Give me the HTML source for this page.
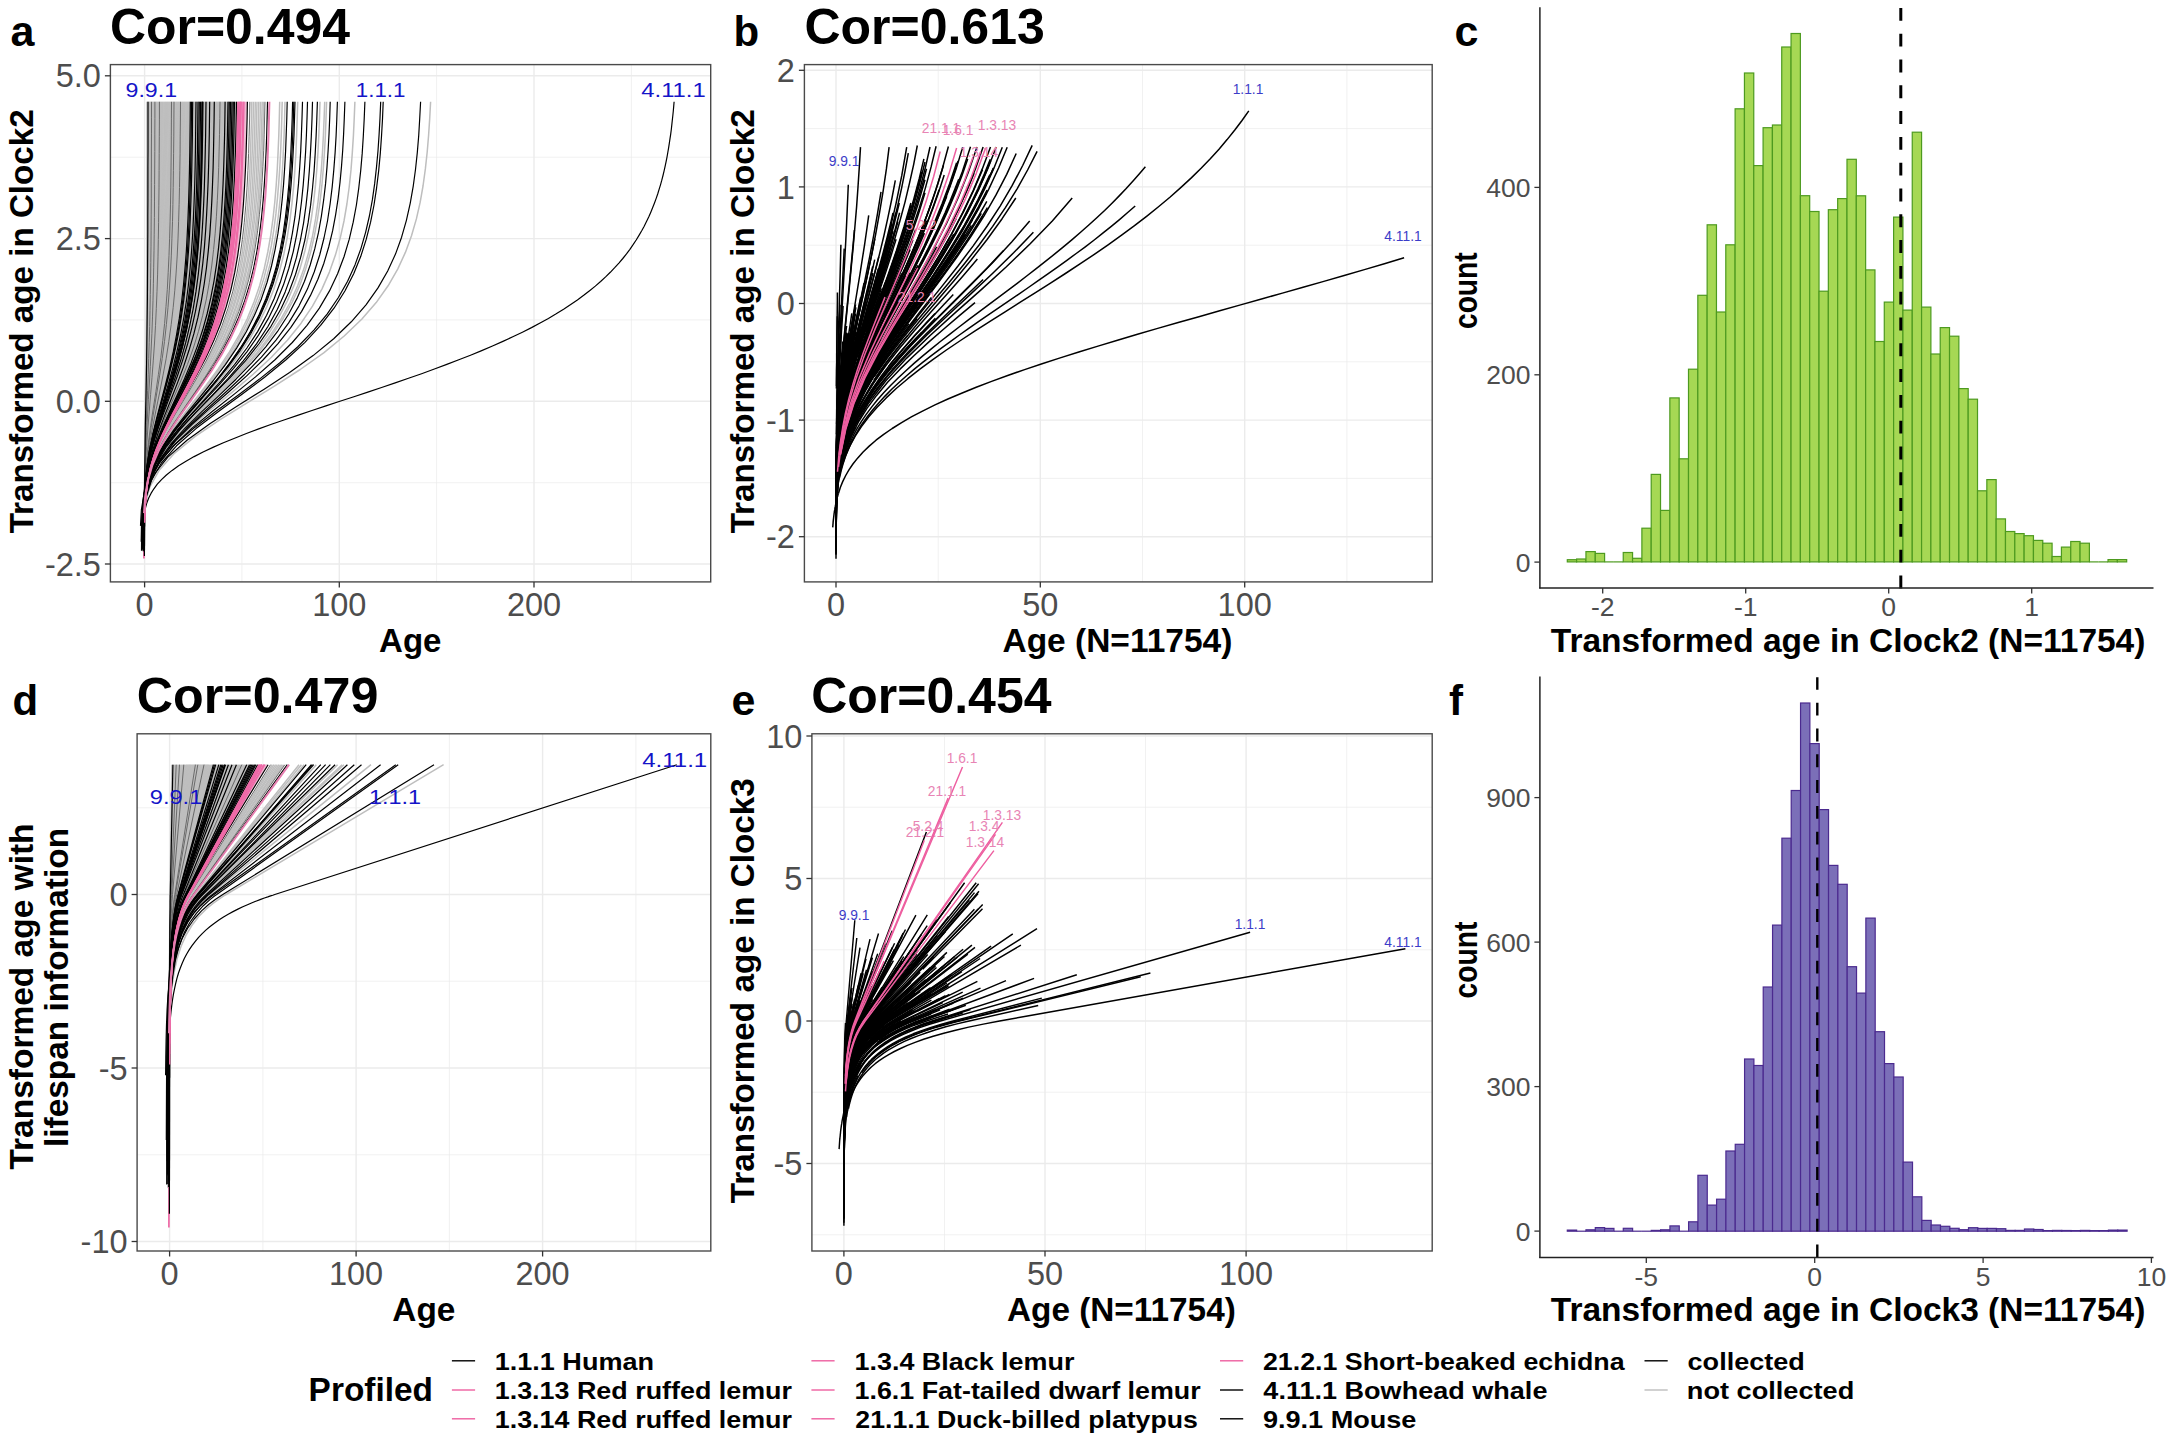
<!DOCTYPE html>
<html lang="en"><head><meta charset="utf-8"><title>Figure</title>
<style>html,body{margin:0;padding:0;background:#fff}svg{display:block}</style></head>
<body>
<svg width="2167" height="1441" viewBox="0 0 2167 1441" font-family='"Liberation Sans", Arial, Helvetica, sans-serif'>
<rect width="2167" height="1441" fill="#fff"/>
<clipPath id="cpa"><rect x="110.4" y="64.6" width="600.3" height="517.3"/></clipPath>
<line x1="241.9" y1="64.6" x2="241.9" y2="581.9" stroke="#ebebeb" stroke-width="0.7"/>
<line x1="436.6" y1="64.6" x2="436.6" y2="581.9" stroke="#ebebeb" stroke-width="0.7"/>
<line x1="631.4" y1="64.6" x2="631.4" y2="581.9" stroke="#ebebeb" stroke-width="0.7"/>
<line x1="110.4" y1="482.7" x2="710.7" y2="482.7" stroke="#ebebeb" stroke-width="0.7"/>
<line x1="110.4" y1="319.9" x2="710.7" y2="319.9" stroke="#ebebeb" stroke-width="0.7"/>
<line x1="110.4" y1="157.2" x2="710.7" y2="157.2" stroke="#ebebeb" stroke-width="0.7"/>
<line x1="144.6" y1="64.6" x2="144.6" y2="581.9" stroke="#ebebeb" stroke-width="1.4"/>
<line x1="339.3" y1="64.6" x2="339.3" y2="581.9" stroke="#ebebeb" stroke-width="1.4"/>
<line x1="534" y1="64.6" x2="534" y2="581.9" stroke="#ebebeb" stroke-width="1.4"/>
<line x1="110.4" y1="564" x2="710.7" y2="564" stroke="#ebebeb" stroke-width="1.4"/>
<line x1="110.4" y1="401.3" x2="710.7" y2="401.3" stroke="#ebebeb" stroke-width="1.4"/>
<line x1="110.4" y1="238.6" x2="710.7" y2="238.6" stroke="#ebebeb" stroke-width="1.4"/>
<line x1="110.4" y1="75.8" x2="710.7" y2="75.8" stroke="#ebebeb" stroke-width="1.4"/>
<clipPath id="cpb"><rect x="804.4" y="64.6" width="627.8" height="517.3"/></clipPath>
<line x1="938.2" y1="64.6" x2="938.2" y2="581.9" stroke="#ebebeb" stroke-width="0.7"/>
<line x1="1142.5" y1="64.6" x2="1142.5" y2="581.9" stroke="#ebebeb" stroke-width="0.7"/>
<line x1="1346.9" y1="64.6" x2="1346.9" y2="581.9" stroke="#ebebeb" stroke-width="0.7"/>
<line x1="804.4" y1="478.4" x2="1432.2" y2="478.4" stroke="#ebebeb" stroke-width="0.7"/>
<line x1="804.4" y1="361.8" x2="1432.2" y2="361.8" stroke="#ebebeb" stroke-width="0.7"/>
<line x1="804.4" y1="245.2" x2="1432.2" y2="245.2" stroke="#ebebeb" stroke-width="0.7"/>
<line x1="804.4" y1="128.6" x2="1432.2" y2="128.6" stroke="#ebebeb" stroke-width="0.7"/>
<line x1="836" y1="64.6" x2="836" y2="581.9" stroke="#ebebeb" stroke-width="1.4"/>
<line x1="1040.3" y1="64.6" x2="1040.3" y2="581.9" stroke="#ebebeb" stroke-width="1.4"/>
<line x1="1244.7" y1="64.6" x2="1244.7" y2="581.9" stroke="#ebebeb" stroke-width="1.4"/>
<line x1="804.4" y1="536.7" x2="1432.2" y2="536.7" stroke="#ebebeb" stroke-width="1.4"/>
<line x1="804.4" y1="420.1" x2="1432.2" y2="420.1" stroke="#ebebeb" stroke-width="1.4"/>
<line x1="804.4" y1="303.5" x2="1432.2" y2="303.5" stroke="#ebebeb" stroke-width="1.4"/>
<line x1="804.4" y1="186.9" x2="1432.2" y2="186.9" stroke="#ebebeb" stroke-width="1.4"/>
<line x1="804.4" y1="70.3" x2="1432.2" y2="70.3" stroke="#ebebeb" stroke-width="1.4"/>
<clipPath id="cpd"><rect x="137.1" y="733.8" width="573.7" height="517.2"/></clipPath>
<line x1="262.9" y1="733.8" x2="262.9" y2="1251" stroke="#ebebeb" stroke-width="0.7"/>
<line x1="449.4" y1="733.8" x2="449.4" y2="1251" stroke="#ebebeb" stroke-width="0.7"/>
<line x1="635.9" y1="733.8" x2="635.9" y2="1251" stroke="#ebebeb" stroke-width="0.7"/>
<line x1="137.1" y1="1154.8" x2="710.8" y2="1154.8" stroke="#ebebeb" stroke-width="0.7"/>
<line x1="137.1" y1="981.2" x2="710.8" y2="981.2" stroke="#ebebeb" stroke-width="0.7"/>
<line x1="137.1" y1="807.8" x2="710.8" y2="807.8" stroke="#ebebeb" stroke-width="0.7"/>
<line x1="169.6" y1="733.8" x2="169.6" y2="1251" stroke="#ebebeb" stroke-width="1.4"/>
<line x1="356.1" y1="733.8" x2="356.1" y2="1251" stroke="#ebebeb" stroke-width="1.4"/>
<line x1="542.6" y1="733.8" x2="542.6" y2="1251" stroke="#ebebeb" stroke-width="1.4"/>
<line x1="137.1" y1="1241.5" x2="710.8" y2="1241.5" stroke="#ebebeb" stroke-width="1.4"/>
<line x1="137.1" y1="1068" x2="710.8" y2="1068" stroke="#ebebeb" stroke-width="1.4"/>
<line x1="137.1" y1="894.5" x2="710.8" y2="894.5" stroke="#ebebeb" stroke-width="1.4"/>
<clipPath id="cpe"><rect x="811.9" y="733.8" width="620.3" height="517.2"/></clipPath>
<line x1="944.5" y1="733.8" x2="944.5" y2="1251" stroke="#ebebeb" stroke-width="0.7"/>
<line x1="1145.5" y1="733.8" x2="1145.5" y2="1251" stroke="#ebebeb" stroke-width="0.7"/>
<line x1="1346.7" y1="733.8" x2="1346.7" y2="1251" stroke="#ebebeb" stroke-width="0.7"/>
<line x1="811.9" y1="1234.8" x2="1432.2" y2="1234.8" stroke="#ebebeb" stroke-width="0.7"/>
<line x1="811.9" y1="1092.2" x2="1432.2" y2="1092.2" stroke="#ebebeb" stroke-width="0.7"/>
<line x1="811.9" y1="949.8" x2="1432.2" y2="949.8" stroke="#ebebeb" stroke-width="0.7"/>
<line x1="811.9" y1="807.2" x2="1432.2" y2="807.2" stroke="#ebebeb" stroke-width="0.7"/>
<line x1="843.9" y1="733.8" x2="843.9" y2="1251" stroke="#ebebeb" stroke-width="1.4"/>
<line x1="1045" y1="733.8" x2="1045" y2="1251" stroke="#ebebeb" stroke-width="1.4"/>
<line x1="1246.1" y1="733.8" x2="1246.1" y2="1251" stroke="#ebebeb" stroke-width="1.4"/>
<line x1="811.9" y1="1163.5" x2="1432.2" y2="1163.5" stroke="#ebebeb" stroke-width="1.4"/>
<line x1="811.9" y1="1021" x2="1432.2" y2="1021" stroke="#ebebeb" stroke-width="1.4"/>
<line x1="811.9" y1="878.5" x2="1432.2" y2="878.5" stroke="#ebebeb" stroke-width="1.4"/>
<line x1="811.9" y1="736" x2="1432.2" y2="736" stroke="#ebebeb" stroke-width="1.4"/>
<g fill="none" stroke-linejoin="round" clip-path="url(#cpa)">
<path d="M144.6 522 144.6 505.9 144.6 489.7 144.7 473.6 144.8 457.4 145 441.2 145.2 425.1 145.4 408.9 145.6 392.7 145.8 376.6 146 360.4 146.2 344.3 146.3 328.1 146.5 311.9 146.6 295.8 146.7 279.6 146.7 263.4 146.8 247.3 146.9 231.1 146.9 215 146.9 198.8 146.9 182.6 147 166.5 147 150.3 147 134.2 147 118 147 101.8" stroke="#bebebe" stroke-width="1.5"/>
<path d="M144.6 519.5 144.6 503.4 144.6 487.3 144.7 471.3 144.9 455.2 145.1 439.1 145.4 423.1 145.7 407 146 391 146.3 374.9 146.5 358.8 146.8 342.8 147 326.7 147.2 310.6 147.3 294.6 147.4 278.5 147.5 262.5 147.6 246.4 147.7 230.3 147.7 214.3 147.7 198.2 147.8 182.1 147.8 166.1 147.8 150 147.8 134 147.8 117.9 147.8 101.8" stroke="#bebebe" stroke-width="1.5"/>
<path d="M144.6 529.7 144.6 513.3 144.6 496.8 144.7 480.4 144.9 463.9 145.1 447.5 145.4 431 145.8 414.5 146.2 398.1 146.6 381.6 146.9 365.2 147.2 348.7 147.5 332.2 147.8 315.8 148 299.3 148.1 282.9 148.2 266.4 148.4 250 148.4 233.5 148.5 217 148.6 200.6 148.6 184.1 148.6 167.7 148.7 151.2 148.7 134.7 148.7 118.3 148.7 101.8" stroke="#bebebe" stroke-width="1.5"/>
<path d="M144.6 534.9 144.6 518.2 144.6 501.6 144.7 484.9 144.9 468.3 145.1 451.6 145.5 434.9 145.9 418.3 146.4 401.6 146.9 385 147.3 368.3 147.7 351.7 148.1 335 148.4 318.4 148.6 301.7 148.8 285 149 268.4 149.1 251.7 149.2 235.1 149.3 218.4 149.4 201.8 149.4 185.1 149.5 168.5 149.5 151.8 149.5 135.1 149.5 118.5 149.5 101.8" stroke="#bebebe" stroke-width="1.5"/>
<path d="M144.6 532.2 144.6 515.7 144.6 499.1 144.7 482.6 145 466 145.3 449.4 145.7 432.9 146.2 416.3 146.8 399.8 147.3 383.2 147.8 366.7 148.3 350.1 148.7 333.6 149 317 149.3 300.5 149.6 283.9 149.8 267.4 149.9 250.8 150 234.3 150.1 217.7 150.2 201.1 150.3 184.6 150.3 168 150.3 151.5 150.4 134.9 150.4 118.4 150.4 101.8" stroke="#bebebe" stroke-width="1.5"/>
<path d="M144.6 520 144.6 504 144.7 487.9 144.9 471.8 145.2 455.7 145.7 439.6 146.2 423.5 146.8 407.4 147.4 391.4 148 375.3 148.6 359.2 149 343.1 149.5 327 149.8 310.9 150.1 294.8 150.4 278.8 150.6 262.7 150.7 246.6 150.8 230.5 150.9 214.4 151 198.3 151.1 182.3 151.1 166.2 151.2 150.1 151.2 134 151.2 117.9 151.2 101.8" stroke="#bebebe" stroke-width="1.5"/>
<path d="M144.5 546 144.5 528.9 144.6 511.8 144.6 494.7 144.8 477.6 145.2 460.6 145.7 443.5 146.3 426.4 147 409.3 147.7 392.2 148.4 375.2 149.1 358.1 149.7 341 150.2 323.9 150.6 306.8 150.9 289.7 151.2 272.7 151.4 255.6 151.6 238.5 151.7 221.4 151.8 204.3 151.9 187.2 152 170.2 152 153.1 152 136 152.1 118.9 152.1 101.8" stroke="#bebebe" stroke-width="1.5"/>
<path d="M144.6 524.6 144.6 508.3 144.7 492.1 144.9 475.8 145.3 459.5 145.8 443.3 146.5 427 147.2 410.8 148 394.5 148.8 378.2 149.5 362 150.1 345.7 150.6 329.5 151.1 313.2 151.5 296.9 151.8 280.7 152.1 264.4 152.3 248.2 152.4 231.9 152.6 215.6 152.7 199.4 152.7 183.1 152.8 166.9 152.9 150.6 152.9 134.3 152.9 118.1 152.9 101.8" stroke="#bebebe" stroke-width="1.5"/>
<path d="M144.5 549.9 144.5 532.7 144.5 515.5 144.6 498.2 144.8 481 145.2 463.8 145.7 446.5 146.5 429.3 147.4 412.1 148.3 394.8 149.2 377.6 150 360.4 150.7 343.1 151.4 325.9 151.9 308.7 152.3 291.4 152.6 274.2 152.9 256.9 153.1 239.7 153.3 222.5 153.4 205.2 153.5 188 153.6 170.8 153.7 153.5 153.7 136.3 153.8 119.1 153.8 101.8" stroke="#bebebe" stroke-width="1.5"/>
<path d="M144.5 530.9 144.5 514.4 144.6 497.9 144.8 481.4 145.2 464.9 145.8 448.4 146.5 431.9 147.4 415.4 148.4 398.9 149.3 382.4 150.2 365.9 151 349.4 151.7 332.9 152.3 316.3 152.8 299.8 153.2 283.3 153.5 266.8 153.8 250.3 154 233.8 154.2 217.3 154.3 200.8 154.4 184.3 154.5 167.8 154.5 151.3 154.6 134.8 154.6 118.3 154.6 101.8" stroke="#bebebe" stroke-width="1.5"/>
<path d="M144.4 518.7 144.4 502.7 144.6 486.6 145 470.6 145.5 454.6 146.3 438.5 147.2 422.5 148.2 406.5 149.2 390.4 150.2 374.4 151.1 358.4 151.9 342.3 152.6 326.3 153.1 310.3 153.6 294.2 154 278.2 154.4 262.2 154.6 246.1 154.8 230.1 155 214.1 155.1 198 155.2 182 155.3 166 155.4 149.9 155.4 133.9 155.5 117.9 155.5 101.8" stroke="#bebebe" stroke-width="1.5"/>
<path d="M144.4 527 144.4 510.6 144.6 494.3 144.8 477.9 145.3 461.6 146.1 445.2 147 428.9 148.1 412.5 149.2 396.2 150.3 379.8 151.3 363.5 152.2 347.1 153 330.8 153.7 314.4 154.2 298 154.7 281.7 155.1 265.3 155.4 249 155.6 232.6 155.8 216.3 155.9 199.9 156 183.6 156.1 167.2 156.2 150.9 156.3 134.5 156.3 118.2 156.3 101.8" stroke="#bebebe" stroke-width="1.5"/>
<path d="M144.5 520.9 144.6 504.8 144.8 488.7 145.2 472.6 145.8 456.4 146.6 440.3 147.6 424.2 148.7 408.1 149.9 392 151 375.9 152.1 359.7 153 343.6 153.8 327.5 154.5 311.4 155 295.3 155.5 279.1 155.9 263 156.2 246.9 156.4 230.8 156.6 214.7 156.8 198.5 156.9 182.4 157 166.3 157.1 150.2 157.1 134.1 157.2 117.9 157.2 101.8" stroke="#bebebe" stroke-width="1.5"/>
<path d="M144.5 545.6 144.5 528.6 144.5 511.5 144.7 494.4 145 477.3 145.6 460.3 146.5 443.2 147.7 426.1 148.9 409.1 150.2 392 151.5 374.9 152.7 357.9 153.7 340.8 154.6 323.7 155.3 306.7 155.9 289.6 156.4 272.5 156.8 255.4 157.1 238.4 157.3 221.3 157.5 204.2 157.7 187.2 157.8 170.1 157.9 153 158 136 158 118.9 158 101.8" stroke="#bebebe" stroke-width="1.5"/>
<path d="M144.5 537.5 144.5 520.8 144.6 504 144.8 487.3 145.3 470.5 146.1 453.7 147.1 437 148.3 420.2 149.7 403.5 151 386.7 152.3 370 153.5 353.2 154.6 336.4 155.4 319.7 156.2 302.9 156.8 286.2 157.2 269.4 157.6 252.6 157.9 235.9 158.2 219.1 158.4 202.4 158.5 185.6 158.6 168.9 158.7 152.1 158.8 135.3 158.9 118.6 158.9 101.8" stroke="#bebebe" stroke-width="1.5"/>
<path d="M144.4 530 144.4 513.5 144.6 497 144.9 480.6 145.5 464.1 146.4 447.6 147.6 431.2 148.9 414.7 150.4 398.2 151.8 381.8 153.1 365.3 154.3 348.8 155.4 332.4 156.2 315.9 157 299.4 157.6 283 158.1 266.5 158.5 250 158.8 233.6 159 217.1 159.2 200.6 159.4 184.2 159.5 167.7 159.6 151.2 159.6 134.8 159.7 118.3 159.7 101.8" stroke="#bebebe" stroke-width="1.5"/>
<path d="M144.4 519.2 144.5 503.1 144.8 487.1 145.3 471 146.1 455 147.2 438.9 148.5 422.9 149.9 406.8 151.4 390.8 152.8 374.7 154.1 358.7 155.3 342.6 156.3 326.6 157.2 310.5 157.9 294.4 158.5 278.4 158.9 262.3 159.3 246.3 159.6 230.2 159.9 214.2 160.1 198.1 160.2 182.1 160.3 166 160.4 150 160.5 133.9 160.6 117.9 160.6 101.8" stroke="#bebebe" stroke-width="1.5"/>
<path d="M144.5 524 144.6 507.7 144.8 491.5 145.3 475.3 146 459 147.1 442.8 148.4 426.6 149.9 410.3 151.5 394.1 153 377.8 154.4 361.6 155.7 345.4 156.8 329.1 157.7 312.9 158.5 296.7 159.1 280.4 159.7 264.2 160.1 248 160.4 231.7 160.7 215.5 160.9 199.2 161 183 161.2 166.8 161.3 150.5 161.3 134.3 161.4 118.1 161.4 101.8" stroke="#bebebe" stroke-width="1.5"/>
<path d="M144.3 532 144.4 515.4 144.5 498.9 144.9 482.4 145.6 465.8 146.6 449.3 147.9 432.7 149.5 416.2 151.2 399.6 152.9 383.1 154.4 366.5 155.8 350 157.1 333.5 158.1 316.9 159 300.4 159.7 283.8 160.3 267.3 160.8 250.7 161.1 234.2 161.4 217.6 161.7 201.1 161.8 184.6 162 168 162.1 151.5 162.2 134.9 162.2 118.4 162.3 101.8" stroke="#bebebe" stroke-width="1.5"/>
<path d="M144.5 537.7 144.5 520.9 144.6 504.1 144.9 487.4 145.5 470.6 146.5 453.9 147.8 437.1 149.4 420.3 151.2 403.6 152.9 386.8 154.6 370 156.2 353.3 157.5 336.5 158.6 319.7 159.6 303 160.4 286.2 161 269.5 161.5 252.7 161.9 235.9 162.2 219.2 162.5 202.4 162.7 185.6 162.8 168.9 162.9 152.1 163 135.4 163.1 118.6 163.1 101.8" stroke="#bebebe" stroke-width="1.5"/>
<path d="M144.4 527.3 144.5 511 144.7 494.6 145.2 478.2 146 461.9 147.2 445.5 148.7 429.1 150.4 412.8 152.2 396.4 154 380 155.7 363.7 157.2 347.3 158.5 331 159.6 314.6 160.5 298.2 161.3 281.9 161.9 265.5 162.4 249.1 162.8 232.8 163.1 216.4 163.3 200 163.5 183.7 163.7 167.3 163.8 150.9 163.9 134.6 163.9 118.2 164 101.8" stroke="#bebebe" stroke-width="1.5"/>
<path d="M144.2 541.6 144.3 524.7 144.4 507.8 144.6 490.9 145.2 474 146.2 457.1 147.6 440.1 149.4 423.2 151.3 406.3 153.3 389.4 155.2 372.5 156.9 355.6 158.4 338.6 159.7 321.7 160.8 304.8 161.7 287.9 162.4 271 163 254.1 163.4 237.2 163.8 220.2 164.1 203.3 164.3 186.4 164.5 169.5 164.6 152.6 164.7 135.7 164.8 118.7 164.8 101.8" stroke="#bebebe" stroke-width="1.5"/>
<path d="M144.4 537.3 144.5 520.5 144.6 503.8 145 487 145.6 470.3 146.7 453.5 148.3 436.8 150.1 420 152.1 403.3 154.1 386.5 156 369.8 157.8 353 159.3 336.3 160.6 319.6 161.7 302.8 162.6 286.1 163.3 269.3 163.8 252.6 164.3 235.8 164.6 219.1 164.9 202.3 165.1 185.6 165.3 168.8 165.5 152.1 165.6 135.3 165.6 118.6 165.7 101.8" stroke="#bebebe" stroke-width="1.5"/>
<path d="M144.3 547.6 144.4 530.4 144.4 513.3 144.7 496.1 145.2 479 146.1 461.9 147.5 444.7 149.4 427.6 151.4 410.4 153.6 393.3 155.7 376.1 157.6 359 159.4 341.9 160.8 324.7 162 307.6 163 290.4 163.8 273.3 164.5 256.1 165 239 165.4 221.8 165.7 204.7 165.9 187.6 166.1 170.4 166.3 153.3 166.4 136.1 166.5 119 166.5 101.8" stroke="#bebebe" stroke-width="1.5"/>
<path d="M144.3 526.9 144.3 510.6 144.6 494.2 145.1 477.9 146.1 461.5 147.5 445.2 149.3 428.8 151.4 412.5 153.5 396.1 155.6 379.8 157.6 363.4 159.4 347.1 160.9 330.7 162.2 314.4 163.3 298 164.2 281.7 164.9 265.3 165.5 249 165.9 232.6 166.3 216.3 166.6 199.9 166.8 183.6 167 167.2 167.1 150.9 167.2 134.5 167.3 118.2 167.4 101.8" stroke="#bebebe" stroke-width="1.5"/>
<path d="M144.1 520.9 144.2 504.8 144.6 488.7 145.3 472.6 146.4 456.5 148 440.3 149.9 424.2 152.1 408.1 154.3 392 156.5 375.9 158.5 359.7 160.2 343.6 161.8 327.5 163.1 311.4 164.1 295.3 165 279.1 165.7 263 166.3 246.9 166.8 230.8 167.1 214.7 167.4 198.5 167.7 182.4 167.8 166.3 168 150.2 168.1 134.1 168.2 117.9 168.2 101.8" stroke="#bebebe" stroke-width="1.5"/>
<path d="M144.4 543.6 144.4 526.6 144.5 509.6 144.8 492.7 145.4 475.7 146.6 458.7 148.3 441.7 150.3 424.7 152.7 407.7 155 390.7 157.3 373.7 159.5 356.7 161.3 339.7 162.9 322.7 164.2 305.7 165.3 288.7 166.2 271.8 166.9 254.8 167.4 237.8 167.8 220.8 168.2 203.8 168.4 186.8 168.6 169.8 168.8 152.8 168.9 135.8 169 118.8 169.1 101.8" stroke="#bebebe" stroke-width="1.5"/>
<path d="M144.4 534.2 144.5 517.6 144.7 501 145.2 484.3 146 467.7 147.4 451.1 149.3 434.4 151.5 417.8 153.9 401.2 156.3 384.5 158.6 367.9 160.6 351.3 162.4 334.7 163.9 318 165.2 301.4 166.2 284.8 167.1 268.1 167.8 251.5 168.3 234.9 168.7 218.2 169 201.6 169.3 185 169.5 168.4 169.7 151.7 169.8 135.1 169.9 118.5 169.9 101.8" stroke="#bebebe" stroke-width="1.5"/>
<path d="M144.5 540.6 144.5 523.7 144.6 506.8 145 489.9 145.8 473.1 147.1 456.2 148.9 439.3 151.1 422.4 153.6 405.6 156.1 388.7 158.5 371.8 160.7 354.9 162.7 338.1 164.3 321.2 165.7 304.3 166.8 287.5 167.7 270.6 168.4 253.7 169 236.8 169.5 220 169.8 203.1 170.1 186.2 170.3 169.3 170.5 152.5 170.6 135.6 170.7 118.7 170.8 101.8" stroke="#bebebe" stroke-width="1.5"/>
<path d="M144.1 537.2 144.2 520.5 144.4 503.7 144.8 487 145.7 470.2 147.1 453.5 149.1 436.7 151.5 420 154.1 403.3 156.7 386.5 159.1 369.8 161.4 353 163.4 336.3 165 319.5 166.4 302.8 167.6 286 168.5 269.3 169.2 252.5 169.8 235.8 170.3 219.1 170.6 202.3 170.9 185.6 171.2 168.8 171.3 152.1 171.5 135.3 171.6 118.6 171.6 101.8" stroke="#bebebe" stroke-width="1.5"/>
<path d="M144.1 527.8 144.2 511.5 144.5 495.1 145.1 478.7 146.3 462.3 148 445.9 150.2 429.5 152.7 413.2 155.3 396.8 158 380.4 160.4 364 162.6 347.6 164.5 331.2 166.1 314.8 167.4 298.5 168.5 282.1 169.4 265.7 170.1 249.3 170.7 232.9 171.1 216.5 171.5 200.1 171.8 183.8 172 167.4 172.2 151 172.3 134.6 172.4 118.2 172.5 101.8" stroke="#bebebe" stroke-width="1.5"/>
<path d="M144.2 538 144.2 521.2 144.4 504.4 144.8 487.7 145.8 470.9 147.3 454.1 149.3 437.3 151.8 420.6 154.6 403.8 157.4 387 160 370.2 162.4 353.5 164.5 336.7 166.3 319.9 167.8 303.1 169 286.4 170 269.6 170.8 252.8 171.4 236 171.9 219.3 172.3 202.5 172.6 185.7 172.8 168.9 173 152.2 173.1 135.4 173.3 118.6 173.3 101.8" stroke="#bebebe" stroke-width="1.5"/>
<path d="M144.2 533 144.3 516.4 144.5 499.9 145.1 483.3 146.2 466.7 147.9 450.1 150.1 433.5 152.7 416.9 155.5 400.4 158.3 383.8 161 367.2 163.4 350.6 165.4 334 167.2 317.4 168.7 300.8 169.9 284.3 170.9 267.7 171.6 251.1 172.3 234.5 172.7 217.9 173.1 201.3 173.4 184.8 173.7 168.2 173.9 151.6 174 135 174.1 118.4 174.2 101.8" stroke="#bebebe" stroke-width="1.5"/>
<path d="M144 549.9 144 532.6 144.1 515.4 144.4 498.2 145.1 480.9 146.3 463.7 148.2 446.5 150.8 429.2 153.7 412 156.7 394.8 159.7 377.5 162.4 360.3 164.8 343.1 166.9 325.8 168.6 308.6 170.1 291.4 171.2 274.1 172.1 256.9 172.8 239.7 173.4 222.5 173.9 205.2 174.2 188 174.5 170.8 174.7 153.5 174.8 136.3 174.9 119.1 175 101.8" stroke="#bebebe" stroke-width="1.5"/>
<path d="M144.3 540.4 144.3 523.6 144.5 506.7 144.9 489.8 145.8 473 147.4 456.1 149.6 439.2 152.3 422.3 155.3 405.5 158.3 388.6 161.2 371.7 163.8 354.9 166.2 338 168.1 321.1 169.8 304.3 171.1 287.4 172.2 270.5 173.1 253.7 173.8 236.8 174.3 219.9 174.7 203 175.1 186.2 175.3 169.3 175.5 152.4 175.7 135.6 175.8 118.7 175.9 101.8" stroke="#bebebe" stroke-width="1.5"/>
<path d="M144.4 541.7 144.5 524.8 144.6 507.9 145 491 146 474 147.5 457.1 149.7 440.2 152.5 423.3 155.5 406.4 158.6 389.5 161.6 372.5 164.3 355.6 166.7 338.7 168.7 321.8 170.4 304.9 171.8 287.9 172.9 271 173.8 254.1 174.6 237.2 175.1 220.3 175.6 203.3 175.9 186.4 176.2 169.5 176.4 152.6 176.5 135.7 176.7 118.7 176.7 101.8" stroke="#bebebe" stroke-width="1.5"/>
<path d="M144.1 551.4 144.1 534.1 144.2 516.8 144.5 499.5 145.2 482.2 146.5 464.9 148.5 447.7 151.2 430.4 154.3 413.1 157.6 395.8 160.8 378.5 163.8 361.2 166.5 343.9 168.7 326.6 170.6 309.3 172.2 292 173.4 274.7 174.4 257.5 175.2 240.2 175.8 222.9 176.3 205.6 176.7 188.3 177 171 177.2 153.7 177.4 136.4 177.5 119.1 177.6 101.8" stroke="#bebebe" stroke-width="1.5"/>
<path d="M144 526.8 144.1 510.4 144.5 494.1 145.3 477.8 146.8 461.4 148.9 445.1 151.6 428.7 154.6 412.4 157.8 396 161 379.7 163.9 363.3 166.5 347 168.8 330.7 170.7 314.3 172.4 298 173.7 281.6 174.7 265.3 175.6 248.9 176.3 232.6 176.8 216.2 177.2 199.9 177.6 183.6 177.8 167.2 178.1 150.9 178.2 134.5 178.3 118.2 178.4 101.8" stroke="#bebebe" stroke-width="1.5"/>
<path d="M144.3 540.6 144.3 523.7 144.5 506.8 145 490 146 473.1 147.7 456.2 150.2 439.3 153.1 422.5 156.4 405.6 159.8 388.7 163 371.8 165.9 355 168.5 338.1 170.7 321.2 172.5 304.3 174 287.5 175.2 270.6 176.2 253.7 176.9 236.8 177.5 220 178 203.1 178.4 186.2 178.7 169.3 178.9 152.5 179.1 135.6 179.2 118.7 179.3 101.8" stroke="#bebebe" stroke-width="1.5"/>
<path d="M144.4 533.2 144.5 516.6 144.8 500 145.5 483.5 146.8 466.9 148.7 450.3 151.4 433.7 154.5 417.1 157.9 400.5 161.2 383.9 164.4 367.3 167.2 350.7 169.7 334.1 171.8 317.5 173.6 300.9 175 284.3 176.2 267.8 177.1 251.2 177.8 234.6 178.4 218 178.9 201.4 179.2 184.8 179.5 168.2 179.7 151.6 179.9 135 180 118.4 180.1 101.8" stroke="#bebebe" stroke-width="1.5"/>
<path d="M144.4 520.9 144.6 504.8 145.2 488.7 146.2 472.5 148 456.4 150.4 440.3 153.3 424.2 156.6 408.1 159.9 392 163.2 375.8 166.2 359.7 168.9 343.6 171.2 327.5 173.1 311.4 174.8 295.2 176.1 279.1 177.2 263 178.1 246.9 178.8 230.8 179.3 214.7 179.8 198.5 180.1 182.4 180.4 166.3 180.6 150.2 180.8 134.1 180.9 117.9 181 101.8" stroke="#bebebe" stroke-width="1.5"/>
<path d="M144.4 544 144.4 527 144.6 510 145 493 146 476 147.7 459 150.2 442 153.4 425 156.9 408 160.5 390.9 164 373.9 167.2 356.9 170 339.9 172.4 322.9 174.4 305.9 176.1 288.9 177.4 271.9 178.4 254.9 179.3 237.9 179.9 220.9 180.4 203.9 180.8 186.9 181.2 169.9 181.4 152.9 181.6 135.8 181.7 118.8 181.8 101.8" stroke="#bebebe" stroke-width="1.5"/>
<path d="M144.4 525.5 144.6 509.2 145 492.9 146 476.6 147.6 460.3 150 444 153 427.7 156.4 411.4 160 395.1 163.4 378.8 166.7 362.5 169.6 346.2 172.1 329.9 174.2 313.6 176 297.3 177.4 281.1 178.6 264.8 179.6 248.5 180.3 232.2 180.9 215.9 181.4 199.6 181.7 183.3 182 167 182.3 150.7 182.4 134.4 182.6 118.1 182.7 101.8" stroke="#bebebe" stroke-width="1.5"/>
<path d="M144.2 547.5 144.3 530.3 144.4 513.2 144.8 496 145.7 478.9 147.4 461.8 149.9 444.6 153.1 427.5 156.8 410.3 160.7 393.2 164.4 376.1 167.8 358.9 170.8 341.8 173.4 324.6 175.6 307.5 177.3 290.4 178.8 273.2 179.9 256.1 180.8 238.9 181.5 221.8 182.1 204.7 182.5 187.5 182.8 170.4 183.1 153.2 183.3 136.1 183.4 119 183.5 101.8" stroke="#bebebe" stroke-width="1.5"/>
<path d="M144.4 532.8 144.5 516.2 144.8 499.6 145.6 483.1 147 466.5 149.3 449.9 152.2 433.3 155.7 416.8 159.5 400.2 163.2 383.6 166.8 367 169.9 350.5 172.7 333.9 175.1 317.3 177 300.7 178.6 284.2 179.9 267.6 181 251 181.8 234.4 182.5 217.9 183 201.3 183.4 184.7 183.7 168.1 183.9 151.6 184.1 135 184.3 118.4 184.4 101.8" stroke="#bebebe" stroke-width="1.5"/>
<path d="M144.1 547.9 144.1 530.7 144.3 513.5 144.7 496.4 145.6 479.2 147.4 462.1 150 444.9 153.4 427.8 157.2 410.6 161.2 393.5 165.1 376.3 168.7 359.2 171.9 342 174.6 324.8 176.9 307.7 178.7 290.5 180.2 273.4 181.4 256.2 182.4 239.1 183.1 221.9 183.7 204.8 184.1 187.6 184.5 170.4 184.8 153.3 185 136.1 185.1 119 185.2 101.8" stroke="#bebebe" stroke-width="1.5"/>
<path d="M143.8 547.2 143.9 530.1 144 513 144.4 495.8 145.4 478.7 147.2 461.6 150 444.4 153.4 427.3 157.4 410.2 161.5 393 165.5 375.9 169.2 358.8 172.4 341.7 175.2 324.5 177.5 307.4 179.4 290.3 181 273.1 182.2 256 183.1 238.9 183.9 221.7 184.5 204.6 184.9 187.5 185.3 170.4 185.6 153.2 185.8 136.1 186 119 186.1 101.8" stroke="#bebebe" stroke-width="1.5"/>
<path d="M144.3 531.5 144.4 515 144.8 498.5 145.6 482 147.2 465.4 149.7 448.9 152.9 432.4 156.6 415.9 160.6 399.3 164.6 382.8 168.3 366.3 171.7 349.7 174.6 333.2 177.1 316.7 179.2 300.2 180.9 283.6 182.2 267.1 183.3 250.6 184.2 234.1 184.9 217.5 185.4 201 185.9 184.5 186.2 167.9 186.5 151.4 186.7 134.9 186.8 118.4 186.9 101.8" stroke="#bebebe" stroke-width="1.5"/>
<path d="M144.2 547.9 144.2 530.7 144.4 513.6 144.8 496.4 145.8 479.3 147.7 462.1 150.4 444.9 154 427.8 158.1 410.6 162.3 393.5 166.5 376.3 170.3 359.2 173.7 342 176.5 324.9 178.9 307.7 180.9 290.5 182.5 273.4 183.7 256.2 184.7 239.1 185.5 221.9 186.1 204.8 186.6 187.6 187 170.5 187.3 153.3 187.5 136.1 187.7 119 187.8 101.8" stroke="#bebebe" stroke-width="1.5"/>
<path d="M143.6 522 143.9 505.9 144.5 489.7 145.8 473.6 147.8 457.4 150.8 441.2 154.4 425.1 158.4 408.9 162.5 392.7 166.5 376.6 170.3 360.4 173.6 344.3 176.5 328.1 178.9 311.9 180.9 295.8 182.6 279.6 183.9 263.4 185 247.3 185.9 231.1 186.6 215 187.1 198.8 187.5 182.6 187.9 166.5 188.1 150.3 188.3 134.2 188.5 118 188.6 101.8" stroke="#bebebe" stroke-width="1.5"/>
<path d="M144.4 524.9 144.6 508.6 145.1 492.4 146.2 476.1 148.2 459.8 151 443.5 154.6 427.3 158.6 411 162.8 394.7 166.9 378.4 170.7 362.2 174.1 345.9 177 329.6 179.5 313.4 181.6 297.1 183.3 280.8 184.7 264.5 185.8 248.3 186.7 232 187.4 215.7 187.9 199.5 188.4 183.2 188.7 166.9 189 150.6 189.2 134.4 189.4 118.1 189.5 101.8" stroke="#bebebe" stroke-width="1.5"/>
<path d="M144.3 534.1 144.4 517.4 144.7 500.8 145.6 484.2 147.2 467.6 149.7 450.9 153.1 434.3 157.1 417.7 161.4 401.1 165.8 384.4 169.9 367.8 173.6 351.2 176.8 334.6 179.5 317.9 181.8 301.3 183.7 284.7 185.2 268.1 186.4 251.5 187.3 234.8 188.1 218.2 188.7 201.6 189.2 185 189.5 168.3 189.8 151.7 190 135.1 190.2 118.5 190.3 101.8" stroke="#bebebe" stroke-width="1.5"/>
<path d="M144.1 526 144.2 509.7 144.8 493.4 145.9 477.1 147.9 460.7 150.9 444.4 154.5 428.1 158.7 411.8 163.1 395.5 167.4 379.2 171.4 362.9 175 346.5 178.1 330.2 180.7 313.9 182.9 297.6 184.7 281.3 186.1 265 187.3 248.7 188.2 232.3 189 216 189.6 199.7 190 183.4 190.4 167.1 190.7 150.8 190.9 134.5 191.1 118.1 191.2 101.8" stroke="#bebebe" stroke-width="1.5"/>
<path d="M144.4 531.7 144.5 515.1 144.9 498.6 145.9 482.1 147.7 465.5 150.4 449 153.9 432.5 158.1 416 162.6 399.4 167 382.9 171.2 366.4 175 349.8 178.2 333.3 181 316.8 183.3 300.2 185.2 283.7 186.8 267.2 188 250.6 189 234.1 189.7 217.6 190.4 201 190.8 184.5 191.2 168 191.5 151.4 191.7 134.9 191.9 118.4 192 101.8" stroke="#bebebe" stroke-width="1.5"/>
<path d="M144.2 537 144.3 520.2 144.6 503.5 145.4 486.8 146.9 470 149.5 453.3 153 436.6 157.2 419.8 161.8 403.1 166.4 386.4 170.8 369.6 174.8 352.9 178.2 336.1 181.2 319.4 183.7 302.7 185.7 285.9 187.3 269.2 188.6 252.5 189.7 235.7 190.5 219 191.1 202.3 191.6 185.5 192 168.8 192.3 152 192.6 135.3 192.8 118.6 192.9 101.8" stroke="#bebebe" stroke-width="1.5"/>
<path d="M143.5 541.3 143.5 524.4 143.8 507.5 144.4 490.6 145.9 473.7 148.3 456.8 151.8 439.9 156 423 160.8 406.1 165.6 389.2 170.2 372.3 174.4 355.4 178.2 338.5 181.3 321.6 183.9 304.7 186.1 287.8 187.8 270.9 189.2 254 190.3 237.1 191.2 220.2 191.9 203.3 192.4 186.4 192.8 169.4 193.1 152.5 193.4 135.6 193.6 118.7 193.7 101.8" stroke="#bebebe" stroke-width="1.5"/>
<path d="M144 538.8 144.1 522 144.4 505.2 145.2 488.4 146.7 471.6 149.3 454.8 152.8 438 157.2 421.2 161.9 404.3 166.8 387.5 171.4 370.7 175.5 353.9 179.2 337.1 182.3 320.3 184.9 303.5 187 286.7 188.8 269.9 190.1 253.1 191.2 236.3 192.1 219.5 192.7 202.7 193.3 185.9 193.7 169.1 194 152.2 194.3 135.4 194.4 118.6 194.6 101.8" stroke="#bebebe" stroke-width="1.5"/>
<path d="M144 518.9 144.3 502.9 145.1 486.8 146.7 470.8 149.2 454.7 152.7 438.7 156.8 422.7 161.5 406.6 166.2 390.6 170.7 374.5 174.9 358.5 178.6 342.5 181.8 326.4 184.5 310.4 186.8 294.3 188.7 278.3 190.2 262.2 191.4 246.2 192.3 230.2 193.1 214.1 193.7 198.1 194.2 182 194.6 166 194.9 150 195.1 133.9 195.3 117.9 195.4 101.8" stroke="#bebebe" stroke-width="1.5"/>
<path d="M143.5 544.4 143.6 527.4 143.8 510.4 144.4 493.3 145.8 476.3 148.2 459.3 151.7 442.3 156.1 425.2 161 408.2 166.1 391.2 171.1 374.2 175.6 357.2 179.6 340.1 183 323.1 185.8 306.1 188.1 289.1 190 272.1 191.5 255 192.7 238 193.6 221 194.3 204 194.9 186.9 195.3 169.9 195.7 152.9 195.9 135.9 196.1 118.9 196.3 101.8" stroke="#bebebe" stroke-width="1.5"/>
<path d="M143.5 545 143.6 528 143.8 510.9 144.4 493.9 145.8 476.8 148.2 459.8 151.7 442.7 156.2 425.7 161.2 408.6 166.4 391.6 171.4 374.6 176 357.5 180.1 340.5 183.6 323.4 186.4 306.4 188.8 289.3 190.7 272.3 192.2 255.2 193.4 238.2 194.4 221.1 195.1 204.1 195.7 187.1 196.2 170 196.5 153 196.8 135.9 197 118.9 197.1 101.8" stroke="#bebebe" stroke-width="1.5"/>
<path d="M144.1 531 144.3 514.4 144.8 497.9 145.9 481.4 147.9 464.9 151 448.4 155.1 431.9 159.8 415.4 164.9 398.9 169.9 382.4 174.6 365.9 178.8 349.4 182.5 332.9 185.6 316.4 188.2 299.9 190.3 283.4 192.1 266.9 193.4 250.4 194.5 233.9 195.4 217.4 196.1 200.9 196.6 184.4 197.1 167.8 197.4 151.3 197.6 134.8 197.8 118.3 198 101.8" stroke="#bebebe" stroke-width="1.5"/>
<path d="M144.3 539.4 144.4 522.6 144.7 505.7 145.5 488.9 147.1 472.1 149.9 455.2 153.7 438.4 158.3 421.6 163.5 404.8 168.7 387.9 173.7 371.1 178.2 354.3 182.2 337.4 185.5 320.6 188.4 303.8 190.7 286.9 192.5 270.1 194 253.3 195.2 236.5 196.1 219.6 196.8 202.8 197.4 186 197.9 169.1 198.2 152.3 198.5 135.5 198.7 118.7 198.8 101.8" stroke="#bebebe" stroke-width="1.5"/>
<path d="M144.4 519.3 144.8 503.3 145.6 487.2 147.3 471.1 150 455.1 153.7 439 158.2 423 163.1 406.9 168.2 390.9 173.1 374.8 177.6 358.7 181.6 342.7 185 326.6 188 310.6 190.4 294.5 192.4 278.5 194 262.4 195.3 246.3 196.4 230.3 197.2 214.2 197.8 198.2 198.4 182.1 198.8 166.1 199.1 150 199.3 133.9 199.5 117.9 199.7 101.8" stroke="#bebebe" stroke-width="1.5"/>
<path d="M144.3 522.4 144.6 506.3 145.3 490.1 146.9 473.9 149.5 457.7 153.1 441.5 157.6 425.4 162.6 409.2 167.8 393 172.8 376.8 177.5 360.7 181.7 344.5 185.3 328.3 188.3 312.1 190.9 296 193 279.8 194.6 263.6 196 247.4 197.1 231.2 197.9 215.1 198.6 198.9 199.2 182.7 199.6 166.5 199.9 150.4 200.2 134.2 200.4 118 200.5 101.8" stroke="#bebebe" stroke-width="1.5"/>
<path d="M144.2 518.9 144.6 502.8 145.5 486.8 147.3 470.7 150.1 454.7 153.9 438.7 158.6 422.6 163.7 406.6 168.9 390.5 173.9 374.5 178.6 358.5 182.7 342.4 186.3 326.4 189.3 310.3 191.8 294.3 193.9 278.3 195.5 262.2 196.9 246.2 197.9 230.1 198.8 214.1 199.5 198.1 200 182 200.4 166 200.8 149.9 201 133.9 201.2 117.9 201.4 101.8" stroke="#bebebe" stroke-width="1.5"/>
<path d="M144.4 522.1 144.7 505.9 145.5 489.7 147.1 473.6 149.8 457.4 153.5 441.2 158.2 425.1 163.3 408.9 168.7 392.8 173.8 376.6 178.6 360.4 182.9 344.3 186.6 328.1 189.7 311.9 192.3 295.8 194.5 279.6 196.2 263.5 197.6 247.3 198.7 231.1 199.6 215 200.3 198.8 200.8 182.6 201.3 166.5 201.6 150.3 201.9 134.2 202.1 118 202.2 101.8" stroke="#bebebe" stroke-width="1.5"/>
<path d="M144.3 529.7 144.5 513.2 145 496.8 146.3 480.3 148.6 463.8 152.1 447.4 156.5 430.9 161.7 414.5 167.2 398 172.7 381.6 177.7 365.1 182.3 348.7 186.3 332.2 189.7 315.7 192.5 299.3 194.8 282.8 196.7 266.4 198.2 249.9 199.3 233.5 200.3 217 201 200.6 201.6 184.1 202.1 167.7 202.4 151.2 202.7 134.7 202.9 118.3 203.1 101.8" stroke="#bebebe" stroke-width="1.5"/>
<path d="M144.3 547.6 144.3 530.4 144.5 513.3 145.1 496.1 146.5 479 149.1 461.8 152.9 444.7 157.8 427.6 163.4 410.4 169.2 393.3 174.8 376.1 180 359 184.6 341.8 188.6 324.7 191.8 307.5 194.5 290.4 196.7 273.3 198.4 256.1 199.8 239 200.8 221.8 201.7 204.7 202.3 187.5 202.8 170.4 203.2 153.3 203.5 136.1 203.8 119 203.9 101.8" stroke="#bebebe" stroke-width="1.5"/>
<path d="M143.9 522 144.2 505.8 145.1 489.6 146.8 473.5 149.6 457.3 153.5 441.2 158.4 425 163.8 408.8 169.4 392.7 174.9 376.5 179.9 360.4 184.4 344.2 188.3 328.1 191.6 311.9 194.4 295.7 196.6 279.6 198.4 263.4 199.9 247.3 201.1 231.1 202 214.9 202.7 198.8 203.3 182.6 203.8 166.5 204.1 150.3 204.4 134.1 204.6 118 204.8 101.8" stroke="#bebebe" stroke-width="1.5"/>
<path d="M144.2 529.1 144.4 512.6 145 496.2 146.3 479.8 148.8 463.3 152.4 446.9 157.1 430.5 162.5 414 168.3 397.6 174 381.2 179.3 364.7 184 348.3 188.2 331.9 191.7 315.5 194.6 299 197 282.6 198.9 266.2 200.5 249.7 201.7 233.3 202.7 216.9 203.5 200.4 204.1 184 204.6 167.6 204.9 151.1 205.2 134.7 205.5 118.3 205.6 101.8" stroke="#bebebe" stroke-width="1.5"/>
<path d="M144.2 521.1 144.5 505 145.4 488.8 147.2 472.7 150.1 456.6 154.2 440.5 159.2 424.3 164.8 408.2 170.5 392.1 176.1 376 181.2 359.8 185.8 343.7 189.7 327.6 193.1 311.5 195.9 295.3 198.2 279.2 200 263.1 201.5 247 202.7 230.8 203.6 214.7 204.4 198.6 205 182.5 205.4 166.3 205.8 150.2 206.1 134.1 206.3 118 206.5 101.8" stroke="#bebebe" stroke-width="1.5"/>
<path d="M143.4 551.4 143.4 534.1 143.5 516.8 144.1 499.5 145.4 482.2 147.9 464.9 151.8 447.7 156.9 430.4 162.9 413.1 169.2 395.8 175.3 378.5 181 361.2 186.1 343.9 190.4 326.6 194 309.3 197 292 199.4 274.7 201.3 257.5 202.8 240.2 203.9 222.9 204.9 205.6 205.6 188.3 206.1 171 206.6 153.7 206.9 136.4 207.1 119.1 207.3 101.8" stroke="#bebebe" stroke-width="1.5"/>
<path d="M144 534 144.1 517.4 144.6 500.8 145.8 484.2 148 467.5 151.5 450.9 156.3 434.3 161.9 417.7 167.9 401 173.9 384.4 179.6 367.8 184.8 351.2 189.3 334.6 193.1 317.9 196.3 301.3 198.9 284.7 201 268.1 202.7 251.4 204 234.8 205.1 218.2 205.9 201.6 206.5 184.9 207.1 168.3 207.5 151.7 207.8 135.1 208 118.5 208.2 101.8" stroke="#bebebe" stroke-width="1.5"/>
<path d="M144.4 520.4 144.7 504.3 145.7 488.2 147.6 472.1 150.7 456 154.9 439.9 160.2 423.8 165.9 407.7 171.9 391.6 177.6 375.5 182.9 359.4 187.7 343.3 191.7 327.2 195.2 311.1 198.1 295 200.4 278.9 202.3 262.8 203.9 246.7 205.1 230.6 206.1 214.5 206.9 198.4 207.5 182.3 208 166.2 208.3 150.1 208.6 134 208.9 117.9 209 101.8" stroke="#bebebe" stroke-width="1.5"/>
<path d="M144.1 526.1 144.4 509.8 145.1 493.4 146.7 477.1 149.5 460.8 153.6 444.5 158.7 428.2 164.6 411.9 170.7 395.5 176.7 379.2 182.2 362.9 187.2 346.6 191.6 330.3 195.3 314 198.3 297.6 200.8 281.3 202.8 265 204.5 248.7 205.8 232.4 206.8 216 207.6 199.7 208.3 183.4 208.8 167.1 209.2 150.8 209.5 134.5 209.7 118.1 209.9 101.8" stroke="#bebebe" stroke-width="1.5"/>
<path d="M143.5 522.4 143.8 506.2 144.7 490.1 146.6 473.9 149.7 457.7 154 441.5 159.4 425.3 165.4 409.2 171.6 393 177.6 376.8 183.2 360.6 188.2 344.5 192.5 328.3 196.1 312.1 199.2 295.9 201.7 279.8 203.7 263.6 205.3 247.4 206.6 231.2 207.6 215.1 208.4 198.9 209.1 182.7 209.6 166.5 210 150.4 210.3 134.2 210.5 118 210.7 101.8" stroke="#bebebe" stroke-width="1.5"/>
<path d="M144.3 550.1 144.3 532.8 144.5 515.6 145.1 498.3 146.5 481.1 149.2 463.9 153.4 446.6 158.8 429.4 165.1 412.1 171.7 394.9 178.2 377.7 184.1 360.4 189.4 343.2 193.9 325.9 197.7 308.7 200.8 291.5 203.3 274.2 205.3 257 206.8 239.7 208 222.5 209 205.3 209.8 188 210.3 170.8 210.8 153.5 211.1 136.3 211.4 119.1 211.6 101.8" stroke="#bebebe" stroke-width="1.5"/>
<path d="M143.9 521.9 144.3 505.7 145.2 489.6 147.2 473.4 150.3 457.3 154.8 441.1 160.3 425 166.4 408.8 172.7 392.6 178.8 376.5 184.5 360.3 189.5 344.2 193.9 328 197.6 311.9 200.7 295.7 203.2 279.5 205.3 263.4 206.9 247.2 208.2 231.1 209.3 214.9 210.1 198.8 210.8 182.6 211.3 166.5 211.7 150.3 212 134.1 212.2 118 212.4 101.8" stroke="#bebebe" stroke-width="1.5"/>
<path d="M143.9 518.2 144.4 502.1 145.5 486.1 147.7 470.1 151.2 454.1 155.9 438.1 161.5 422.1 167.7 406.1 174 390.1 180.1 374 185.8 358 190.7 342 195 326 198.7 310 201.7 294 204.2 278 206.2 262 207.8 245.9 209.1 229.9 210.2 213.9 211 197.9 211.6 181.9 212.1 165.9 212.5 149.9 212.8 133.9 213.1 117.8 213.3 101.8" stroke="#bebebe" stroke-width="1.5"/>
<path d="M143.8 550.9 143.8 533.7 144 516.4 144.6 499.1 146 481.8 148.8 464.6 153.1 447.3 158.8 430 165.4 412.8 172.3 395.5 179 378.2 185.3 360.9 190.8 343.7 195.6 326.4 199.5 309.1 202.8 291.8 205.4 274.6 207.5 257.3 209.1 240 210.4 222.7 211.4 205.5 212.2 188.2 212.8 170.9 213.3 153.7 213.6 136.4 213.9 119.1 214.1 101.8" stroke="#bebebe" stroke-width="1.5"/>
<path d="M143.2 541.5 143.3 524.6 143.6 507.7 144.6 490.8 146.6 473.9 150.1 457 155 440.1 161.1 423.2 167.8 406.2 174.7 389.3 181.4 372.4 187.4 355.5 192.7 338.6 197.2 321.7 201 304.8 204.1 287.9 206.6 270.9 208.5 254 210.1 237.1 211.4 220.2 212.3 203.3 213.1 186.4 213.7 169.5 214.1 152.6 214.5 135.7 214.8 118.7 215 101.8" stroke="#bebebe" stroke-width="1.5"/>
<path d="M144.1 529.8 144.3 513.3 145 496.9 146.5 480.4 149.3 463.9 153.6 447.5 159 431 165.3 414.6 172 398.1 178.7 381.6 184.9 365.2 190.5 348.7 195.3 332.3 199.5 315.8 202.9 299.3 205.7 282.9 208 266.4 209.8 250 211.3 233.5 212.4 217 213.3 200.6 214 184.1 214.6 167.7 215 151.2 215.4 134.7 215.6 118.3 215.8 101.8" stroke="#bebebe" stroke-width="1.5"/>
<path d="M144.1 544.1 144.2 527.1 144.5 510.1 145.3 493.1 147.3 476.1 150.6 459.1 155.4 442.1 161.5 425.1 168.3 408 175.3 391 182.1 374 188.3 357 193.8 340 198.4 323 202.3 306 205.5 289 208 271.9 210.1 254.9 211.7 237.9 213 220.9 214 203.9 214.8 186.9 215.4 169.9 215.8 152.9 216.2 135.9 216.5 118.8 216.7 101.8" stroke="#bebebe" stroke-width="1.5"/>
<path d="M143.7 544.4 143.8 527.4 144.1 510.3 145 493.3 146.9 476.3 150.3 459.3 155.2 442.2 161.3 425.2 168.3 408.2 175.4 391.2 182.3 374.2 188.6 357.1 194.2 340.1 198.9 323.1 202.9 306.1 206.1 289.1 208.7 272 210.8 255 212.5 238 213.8 221 214.8 204 215.6 186.9 216.2 169.9 216.7 152.9 217 135.9 217.3 118.9 217.5 101.8" stroke="#bebebe" stroke-width="1.5"/>
<path d="M144.1 524.6 144.4 508.3 145.3 492.1 147.2 475.8 150.5 459.5 155.2 443.3 161 427 167.6 410.8 174.5 394.5 181.2 378.2 187.5 362 193.1 345.7 197.9 329.5 202 313.2 205.4 296.9 208.2 280.7 210.5 264.4 212.3 248.2 213.8 231.9 214.9 215.6 215.8 199.4 216.6 183.1 217.1 166.9 217.6 150.6 217.9 134.3 218.2 118.1 218.4 101.8" stroke="#bebebe" stroke-width="1.5"/>
<path d="M143.2 551.1 143.3 533.9 143.4 516.6 144.1 499.3 145.6 482 148.6 464.7 153.3 447.5 159.4 430.2 166.5 412.9 173.9 395.6 181.2 378.3 188 361.1 194 343.8 199.2 326.5 203.4 309.2 206.9 291.9 209.8 274.6 212 257.4 213.8 240.1 215.2 222.8 216.3 205.5 217.1 188.2 217.8 171 218.3 153.7 218.7 136.4 219 119.1 219.2 101.8" stroke="#bebebe" stroke-width="1.5"/>
<path d="M143.1 545.3 143.2 528.2 143.5 511.2 144.3 494.1 146.3 477.1 149.7 460 154.8 442.9 161.2 425.9 168.4 408.8 175.9 391.8 183.1 374.7 189.7 357.7 195.6 340.6 200.5 323.6 204.7 306.5 208.1 289.4 210.8 272.4 213 255.3 214.8 238.3 216.1 221.2 217.2 204.2 218 187.1 218.7 170.1 219.2 153 219.6 135.9 219.9 118.9 220.1 101.8" stroke="#bebebe" stroke-width="1.5"/>
<path d="M143.2 543 143.3 526.1 143.6 509.1 144.6 492.1 146.7 475.2 150.3 458.2 155.6 441.2 162.1 424.3 169.4 407.3 176.9 390.3 184.1 373.3 190.7 356.4 196.5 339.4 201.5 322.4 205.6 305.5 209 288.5 211.7 271.5 213.9 254.6 215.6 237.6 217 220.6 218 203.6 218.9 186.7 219.5 169.7 220 152.7 220.4 135.8 220.7 118.8 220.9 101.8" stroke="#bebebe" stroke-width="1.5"/>
<path d="M144.1 535.2 144.2 518.6 144.8 501.9 146.1 485.2 148.8 468.6 153 451.9 158.6 435.2 165.4 418.6 172.7 401.9 180 385.2 186.9 368.5 193.2 351.9 198.7 335.2 203.4 318.5 207.3 301.9 210.4 285.2 213 268.5 215.1 251.9 216.7 235.2 218 218.5 219 201.8 219.8 185.2 220.4 168.5 220.9 151.8 221.3 135.2 221.6 118.5 221.8 101.8" stroke="#bebebe" stroke-width="1.5"/>
<path d="M144.1 518.2 144.6 502.2 145.9 486.2 148.4 470.2 152.3 454.2 157.6 438.1 164 422.1 171 406.1 178.2 390.1 185.1 374.1 191.4 358.1 197.1 342 202 326 206.1 310 209.5 294 212.3 278 214.6 262 216.4 246 217.9 229.9 219.1 213.9 220 197.9 220.8 181.9 221.3 165.9 221.8 149.9 222.1 133.9 222.4 117.8 222.6 101.8" stroke="#bebebe" stroke-width="1.5"/>
<path d="M144.3 526.6 144.6 510.3 145.4 493.9 147.4 477.6 150.7 461.3 155.5 444.9 161.7 428.6 168.7 412.2 176.1 395.9 183.3 379.6 190.1 363.2 196.1 346.9 201.4 330.6 205.8 314.2 209.5 297.9 212.5 281.5 215 265.2 217 248.9 218.5 232.5 219.8 216.2 220.7 199.9 221.5 183.5 222.1 167.2 222.6 150.8 223 134.5 223.3 118.2 223.5 101.8" stroke="#bebebe" stroke-width="1.5"/>
<path d="M144 541.4 144.1 524.5 144.5 507.6 145.6 490.7 147.9 473.8 151.7 456.9 157.3 440 164.1 423.1 171.6 406.2 179.3 389.2 186.7 372.3 193.5 355.4 199.4 338.5 204.5 321.6 208.7 304.7 212.1 287.8 214.9 270.9 217.1 254 218.9 237.1 220.3 220.2 221.4 203.3 222.2 186.4 222.9 169.5 223.4 152.6 223.8 135.6 224.1 118.7 224.3 101.8" stroke="#bebebe" stroke-width="1.5"/>
<path d="M142.8 532.7 143 516.1 143.6 499.6 145.2 483 148.2 466.4 152.8 449.8 159 433.3 166.2 416.7 173.9 400.1 181.6 383.6 188.9 367 195.4 350.4 201.1 333.8 206 317.3 210 300.7 213.3 284.1 216 267.6 218.1 251 219.8 234.4 221.2 217.8 222.2 201.3 223.1 184.7 223.7 168.1 224.2 151.5 224.6 135 224.9 118.4 225.2 101.8" stroke="#bebebe" stroke-width="1.5"/>
<path d="M142.8 551.2 142.8 534 143 516.7 143.7 499.4 145.4 482.1 148.7 464.8 153.8 447.5 160.4 430.2 168.2 413 176.4 395.7 184.4 378.4 191.8 361.1 198.4 343.8 204 326.5 208.7 309.3 212.6 292 215.7 274.7 218.1 257.4 220.1 240.1 221.6 222.8 222.8 205.5 223.7 188.3 224.5 171 225 153.7 225.4 136.4 225.8 119.1 226 101.8" stroke="#bebebe" stroke-width="1.5"/>
<path d="M142.8 529.7 143 513.2 143.8 496.8 145.6 480.3 148.9 463.9 153.8 447.4 160.3 431 167.7 414.5 175.5 398 183.3 381.6 190.6 365.1 197.2 348.7 202.9 332.2 207.7 315.8 211.7 299.3 215 282.9 217.7 266.4 219.8 249.9 221.5 233.5 222.9 217 223.9 200.6 224.8 184.1 225.4 167.7 225.9 151.2 226.3 134.7 226.6 118.3 226.9 101.8" stroke="#bebebe" stroke-width="1.5"/>
<path d="M144.1 524.7 144.5 508.4 145.5 492.2 147.6 475.9 151.3 459.7 156.5 443.4 163.1 427.1 170.6 410.9 178.3 394.6 185.9 378.3 192.9 362.1 199.2 345.8 204.7 329.5 209.3 313.3 213.2 297 216.3 280.7 218.9 264.5 220.9 248.2 222.5 231.9 223.8 215.7 224.9 199.4 225.7 183.2 226.3 166.9 226.8 150.6 227.2 134.4 227.5 118.1 227.7 101.8" stroke="#bebebe" stroke-width="1.5"/>
<path d="M144.1 523.9 144.5 507.7 145.6 491.4 147.8 475.2 151.6 459 156.9 442.7 163.6 426.5 171.1 410.3 178.9 394 186.6 377.8 193.6 361.6 200 345.3 205.4 329.1 210.1 312.9 213.9 296.6 217.1 280.4 219.7 264.2 221.7 247.9 223.4 231.7 224.7 215.5 225.7 199.2 226.5 183 227.2 166.8 227.7 150.5 228 134.3 228.4 118.1 228.6 101.8" stroke="#bebebe" stroke-width="1.5"/>
<path d="M143.4 548.4 143.5 531.2 143.7 514.1 144.6 496.9 146.5 479.7 150.1 462.5 155.6 445.4 162.6 428.2 170.7 411 179.1 393.8 187.2 376.6 194.8 359.5 201.4 342.3 207.1 325.1 211.9 307.9 215.8 290.8 218.9 273.6 221.4 256.4 223.4 239.2 224.9 222.1 226.2 204.9 227.1 187.7 227.8 170.5 228.4 153.4 228.8 136.2 229.2 119 229.4 101.8" stroke="#bebebe" stroke-width="1.5"/>
<path d="M143 533.9 143.2 517.3 143.8 500.6 145.4 484 148.5 467.4 153.3 450.8 159.8 434.2 167.4 417.6 175.6 400.9 183.8 384.3 191.5 367.7 198.5 351.1 204.6 334.5 209.8 317.8 214.1 301.2 217.6 284.6 220.5 268 222.8 251.4 224.6 234.8 226 218.1 227.2 201.5 228 184.9 228.7 168.3 229.3 151.7 229.7 135.1 230 118.4 230.3 101.8" stroke="#bebebe" stroke-width="1.5"/>
<path d="M143.4 545.1 143.4 528 143.8 511 144.8 493.9 147 476.9 151 459.8 156.7 442.8 164 425.7 172.3 408.7 180.8 391.6 189 374.6 196.6 357.5 203.2 340.5 208.9 323.4 213.6 306.4 217.5 289.4 220.6 272.3 223.1 255.3 225.1 238.2 226.6 221.2 227.8 204.1 228.8 187.1 229.5 170 230.1 153 230.5 135.9 230.9 118.9 231.1 101.8" stroke="#bebebe" stroke-width="1.5"/>
<path d="M144.1 540.3 144.2 523.4 144.7 506.6 145.9 489.7 148.5 472.8 152.9 456 159 439.1 166.4 422.3 174.7 405.4 183.1 388.5 191.2 371.7 198.5 354.8 204.9 337.9 210.4 321.1 215 304.2 218.7 287.3 221.7 270.5 224.2 253.6 226.1 236.7 227.6 219.9 228.8 203 229.7 186.2 230.4 169.3 231 152.4 231.4 135.6 231.7 118.7 232 101.8" stroke="#bebebe" stroke-width="1.5"/>
<path d="M142.7 544.5 142.8 527.5 143.1 510.4 144.2 493.4 146.5 476.4 150.6 459.4 156.6 442.3 164.1 425.3 172.6 408.3 181.3 391.3 189.8 374.2 197.5 357.2 204.3 340.2 210.1 323.2 214.9 306.1 218.9 289.1 222.1 272.1 224.6 255.1 226.6 238 228.2 221 229.5 204 230.4 187 231.2 169.9 231.8 152.9 232.2 135.9 232.6 118.9 232.8 101.8" stroke="#bebebe" stroke-width="1.5"/>
<path d="M143.2 533.8 143.4 517.2 144 500.6 145.7 484 148.9 467.4 153.9 450.7 160.6 434.1 168.5 417.5 177 400.9 185.5 384.3 193.5 367.7 200.7 351.1 207.1 334.4 212.4 317.8 216.9 301.2 220.6 284.6 223.5 268 225.9 251.4 227.8 234.7 229.3 218.1 230.4 201.5 231.4 184.9 232.1 168.3 232.6 151.7 233.1 135.1 233.4 118.4 233.7 101.8" stroke="#bebebe" stroke-width="1.5"/>
<path d="M144 544.7 144.1 527.7 144.4 510.6 145.5 493.6 147.8 476.6 151.9 459.5 157.9 442.5 165.5 425.5 174 408.4 182.7 391.4 191.2 374.4 199 357.3 205.8 340.3 211.6 323.3 216.5 306.2 220.5 289.2 223.7 272.2 226.3 255.1 228.3 238.1 229.9 221.1 231.1 204 232.1 187 232.9 170 233.5 152.9 233.9 135.9 234.3 118.9 234.5 101.8" stroke="#bebebe" stroke-width="1.5"/>
<path d="M143.8 545.1 143.9 528.1 144.2 511 145.3 494 147.6 476.9 151.7 459.9 157.8 442.8 165.4 425.8 174 408.7 182.9 391.7 191.5 374.6 199.3 357.6 206.3 340.5 212.2 323.5 217.1 306.4 221.1 289.4 224.4 272.3 227 255.3 229.1 238.2 230.7 221.2 231.9 204.1 232.9 187.1 233.7 170 234.3 153 234.8 135.9 235.1 118.9 235.4 101.8" stroke="#bebebe" stroke-width="1.5"/>
<path d="M142.5 530.8 142.7 514.3 143.6 497.8 145.5 481.3 149.1 464.8 154.5 448.3 161.6 431.8 169.8 415.3 178.6 398.8 187.3 382.3 195.5 365.8 202.8 349.3 209.2 332.8 214.7 316.3 219.2 299.8 222.9 283.3 225.9 266.8 228.3 250.3 230.2 233.8 231.7 217.3 232.9 200.8 233.9 184.3 234.6 167.8 235.2 151.3 235.6 134.8 236 118.3 236.2 101.8" stroke="#bebebe" stroke-width="1.5"/>
<path d="M143.6 549.9 143.6 532.7 143.9 515.5 144.9 498.2 147.2 481 151.6 463.7 158.3 446.5 167.1 429.3 177.2 412 187.8 394.8 198.1 377.6 207.7 360.3 216.2 343.1 223.4 325.9 229.5 308.6 234.4 291.4 238.4 274.2 241.6 256.9 244.1 239.7 246.1 222.5 247.6 205.2 248.8 188 249.8 170.8 250.5 153.5 251 136.3 251.5 119.1 251.8 101.8" stroke="#bebebe" stroke-width="1.5"/>
<path d="M143 522.7 143.6 506.5 145.1 490.3 148.1 474.1 153.1 458 160.2 441.8 169 425.6 178.9 409.4 189.1 393.2 199 377 208.2 360.8 216.4 344.6 223.5 328.5 229.5 312.3 234.5 296.1 238.6 279.9 241.9 263.7 244.6 247.5 246.7 231.3 248.4 215.1 249.7 199 250.8 182.8 251.6 166.6 252.3 150.4 252.8 134.2 253.2 118 253.5 101.8" stroke="#bebebe" stroke-width="1.5"/>
<path d="M144.1 522.1 144.7 505.9 146.2 489.7 149.3 473.6 154.5 457.4 161.7 441.2 170.5 425.1 180.5 408.9 190.7 392.8 200.7 376.6 209.9 360.4 218.1 344.3 225.2 328.1 231.2 311.9 236.2 295.8 240.3 279.6 243.7 263.5 246.3 247.3 248.5 231.1 250.2 215 251.5 198.8 252.6 182.6 253.4 166.5 254.1 150.3 254.6 134.2 255 118 255.3 101.8" stroke="#bebebe" stroke-width="1.5"/>
<path d="M142.2 545.3 142.3 528.2 142.7 511.2 144 494.1 146.9 477.1 152.1 460 159.6 443 169.1 425.9 179.9 408.8 191.1 391.8 201.8 374.7 211.7 357.7 220.4 340.6 227.8 323.6 234 306.5 239.1 289.5 243.2 272.4 246.4 255.3 249 238.3 251.1 221.2 252.7 204.2 253.9 187.1 254.9 170.1 255.6 153 256.2 135.9 256.6 118.9 257 101.8" stroke="#bebebe" stroke-width="1.5"/>
<path d="M143.9 546 144 528.9 144.4 511.8 145.6 494.7 148.5 477.6 153.5 460.6 161 443.5 170.6 426.4 181.3 409.3 192.5 392.2 203.3 375.1 213.3 358.1 222 341 229.5 323.9 235.7 306.8 240.8 289.7 244.9 272.7 248.2 255.6 250.8 238.5 252.9 221.4 254.5 204.3 255.7 187.2 256.7 170.2 257.4 153.1 258 136 258.4 118.9 258.8 101.8" stroke="#bebebe" stroke-width="1.5"/>
<path d="M141.8 540.2 142 523.3 142.6 506.5 144.3 489.6 147.8 472.7 153.7 455.9 161.9 439 172 422.2 183.2 405.3 194.5 388.4 205.4 371.6 215.3 354.7 224 337.9 231.4 321 237.5 304.1 242.6 287.3 246.6 270.4 249.9 253.6 252.5 236.7 254.5 219.8 256.1 203 257.4 186.1 258.3 169.3 259.1 152.4 259.7 135.5 260.1 118.7 260.5 101.8" stroke="#bebebe" stroke-width="1.5"/>
<path d="M143.6 536.4 143.8 519.6 144.6 502.9 146.6 486.2 150.5 469.5 156.8 452.8 165.3 436.1 175.6 419.4 186.7 402.7 198 385.9 208.6 369.2 218.3 352.5 226.7 335.8 233.9 319.1 239.8 302.4 244.7 285.7 248.7 269 251.8 252.2 254.4 235.5 256.3 218.8 257.9 202.1 259.1 185.4 260.1 168.7 260.8 152 261.4 135.3 261.8 118.5 262.2 101.8" stroke="#bebebe" stroke-width="1.5"/>
<path d="M144.2 517.8 145 501.8 147 485.8 150.7 469.8 156.7 453.8 164.8 437.8 174.6 421.8 185.3 405.8 196.1 389.8 206.6 373.8 216.3 357.8 224.8 341.8 232.2 325.8 238.5 309.8 243.7 293.8 247.9 277.8 251.4 261.8 254.2 245.8 256.4 229.8 258.2 213.8 259.6 197.8 260.7 181.8 261.6 165.8 262.3 149.8 262.8 133.8 263.3 117.8 263.6 101.8" stroke="#bebebe" stroke-width="1.5"/>
<path d="M143.1 535.8 143.4 519.1 144.3 502.4 146.6 485.7 151.2 469 158.5 452.3 168.4 435.6 180.3 418.9 193.1 402.2 206 385.5 218.2 368.9 229.3 352.2 239 335.5 247.2 318.8 254 302.1 259.7 285.4 264.2 268.7 267.8 252 270.7 235.3 273 218.7 274.8 202 276.2 185.3 277.3 168.6 278.1 151.9 278.8 135.2 279.3 118.5 279.7 101.8" stroke="#bebebe" stroke-width="1.5"/>
<path d="M143.3 517.9 144.3 501.9 146.6 485.9 151 469.9 157.9 453.9 167.3 437.9 178.6 421.9 191.1 405.9 203.7 389.9 215.9 373.9 227.1 357.9 237.1 341.9 245.7 325.9 253 309.9 259 293.9 264 277.9 268 261.9 271.3 245.9 273.8 229.9 275.9 213.9 277.5 197.9 278.8 181.9 279.9 165.8 280.7 149.8 281.3 133.8 281.8 117.8 282.2 101.8" stroke="#bebebe" stroke-width="1.5"/>
<path d="M143.4 523.2 144.1 507 145.9 490.8 149.7 474.5 156.1 458.3 165.2 442.1 176.4 425.9 189.1 409.7 202.2 393.5 214.9 377.3 226.7 361.1 237.2 344.9 246.4 328.7 254.1 312.5 260.5 296.3 265.8 280.1 270.1 263.9 273.5 247.7 276.3 231.5 278.4 215.3 280.1 199.1 281.5 182.9 282.6 166.7 283.4 150.4 284.1 134.2 284.6 118 285 101.8" stroke="#bebebe" stroke-width="1.5"/>
<path d="M143.8 545.1 144 528 144.5 511 146.3 493.9 150.2 476.9 157.1 459.8 167.3 442.8 180.1 425.7 194.5 408.7 209.5 391.6 223.9 374.6 237.1 357.5 248.7 340.5 258.7 323.4 267 306.4 273.8 289.3 279.2 272.3 283.6 255.3 287.1 238.2 289.8 221.2 291.9 204.1 293.6 187.1 294.9 170 295.9 153 296.6 135.9 297.2 118.9 297.7 101.8" stroke="#bebebe" stroke-width="1.5"/>
<path d="M143.5 533.7 143.9 517 145.3 500.4 148.5 483.8 154.8 467.2 164.6 450.6 177.6 434 193 417.4 209.6 400.8 226.1 384.2 241.7 367.6 255.8 351 268.2 334.4 278.6 317.7 287.3 301.1 294.4 284.5 300.2 267.9 304.8 251.3 308.5 234.7 311.4 218.1 313.7 201.5 315.5 184.9 316.9 168.3 318 151.7 318.8 135 319.5 118.4 320 101.8" stroke="#bebebe" stroke-width="1.5"/>
<path d="M141.8 536.6 142.1 519.9 143.2 503.2 146.3 486.5 152.3 469.7 161.9 453 175.1 436.3 190.9 419.6 208.1 402.8 225.4 386.1 241.9 369.4 256.8 352.7 269.8 336 280.9 319.2 290.1 302.5 297.7 285.8 303.8 269.1 308.7 252.3 312.6 235.6 315.6 218.9 318 202.2 319.9 185.4 321.4 168.7 322.5 152 323.4 135.3 324.1 118.6 324.7 101.8" stroke="#bebebe" stroke-width="1.5"/>
<path d="M143.1 535.3 143.5 518.6 144.8 501.9 148 485.3 154.2 468.6 164.1 451.9 177.5 435.2 193.4 418.6 210.6 401.9 227.9 385.2 244.3 368.6 259.1 351.9 272.1 335.2 283.1 318.5 292.3 301.9 299.8 285.2 305.8 268.5 310.7 251.9 314.5 235.2 317.6 218.5 320 201.9 321.9 185.2 323.3 168.5 324.5 151.8 325.4 135.2 326 118.5 326.6 101.8" stroke="#bebebe" stroke-width="1.5"/>
<path d="M142 544.5 142.2 527.5 143 510.5 145.5 493.5 151 476.4 160.7 459.4 174.8 442.4 192.6 425.4 212.6 408.3 233.2 391.3 253.1 374.3 271.4 357.2 287.4 340.2 301.1 323.2 312.5 306.2 321.9 289.1 329.4 272.1 335.4 255.1 340.2 238.1 344 221 346.9 204 349.2 187 351 169.9 352.3 152.9 353.4 135.9 354.2 118.9 354.9 101.8" stroke="#bebebe" stroke-width="1.5"/>
<path d="M143 536.8 143.5 520 145.3 503.3 150 486.6 159.4 469.9 174.6 453.1 195.2 436.4 220.1 419.7 247.1 402.9 274.4 386.2 300.2 369.5 323.7 352.8 344.2 336 361.7 319.3 376.2 302.6 388.1 285.8 397.7 269.1 405.4 252.4 411.5 235.7 416.4 218.9 420.2 202.2 423.1 185.5 425.4 168.7 427.2 152 428.6 135.3 429.7 118.6 430.6 101.8" stroke="#bebebe" stroke-width="1.5"/>
<path d="M142.4 539.9 142.5 523.1 143 506.2 144.4 489.4 147.2 472.5 152 455.7 158.6 438.8 166.7 422 175.6 405.1 184.7 388.3 193.4 371.4 201.3 354.6 208.2 337.7 214.1 320.9 219 304 223.1 287.2 226.3 270.3 228.9 253.5 231 236.6 232.6 219.8 233.9 202.9 234.9 186.1 235.7 169.2 236.3 152.4 236.7 135.5 237.1 118.7 237.4 101.8" stroke="#efb7d2" stroke-width="1.3"/>
<path d="M143.5 549.5 143.6 532.3 143.8 515.1 144.7 497.8 146.8 480.6 150.6 463.4 156.6 446.2 164.2 429 173.1 411.8 182.4 394.5 191.4 377.3 199.8 360.1 207.2 342.9 213.5 325.7 218.8 308.4 223.1 291.2 226.6 274 229.4 256.8 231.6 239.6 233.3 222.4 234.7 205.1 235.7 187.9 236.5 170.7 237.1 153.5 237.6 136.3 238 119 238.3 101.8" stroke="#efb7d2" stroke-width="1.3"/>
<path d="M143.7 547.5 143.7 530.3 144 513.2 145 496 147.2 478.9 151.3 461.8 157.4 444.6 165.3 427.5 174.2 410.3 183.6 393.2 192.6 376.1 200.9 358.9 208.3 341.8 214.6 324.7 219.8 307.5 224.1 290.4 227.6 273.2 230.3 256.1 232.5 239 234.2 221.8 235.6 204.7 236.6 187.5 237.4 170.4 238 153.3 238.5 136.1 238.9 119 239.2 101.8" stroke="#efb7d2" stroke-width="1.3"/>
<path d="M142.9 524.1 143.4 507.9 144.6 491.7 147.1 475.4 151.4 459.2 157.6 442.9 165.2 426.7 173.9 410.4 182.9 394.2 191.7 378 199.8 361.7 207.1 345.5 213.4 329.2 218.8 313 223.2 296.7 226.8 280.5 229.8 264.3 232.2 248 234.1 231.8 235.6 215.5 236.7 199.3 237.7 183 238.4 166.8 239 150.6 239.5 134.3 239.8 118.1 240.1 101.8" stroke="#efb7d2" stroke-width="1.3"/>
<path d="M144 527.1 144.3 510.7 145.4 494.4 147.7 478 151.7 461.7 157.6 445.3 165.1 429 173.7 412.6 182.8 396.2 191.6 379.9 199.9 363.5 207.3 347.2 213.8 330.8 219.3 314.5 223.8 298.1 227.5 281.8 230.5 265.4 233 249 234.9 232.7 236.4 216.3 237.6 200 238.6 183.6 239.3 167.3 239.9 150.9 240.4 134.5 240.7 118.2 241 101.8" stroke="#efb7d2" stroke-width="1.3"/>
<path d="M143.9 537.7 144.1 520.9 144.6 504.2 146.2 487.4 149.3 470.6 154.4 453.9 161.4 437.1 169.8 420.3 179 403.6 188.3 386.8 197.2 370.1 205.2 353.3 212.3 336.5 218.3 319.8 223.3 303 227.3 286.2 230.6 269.5 233.3 252.7 235.4 235.9 237 219.2 238.3 202.4 239.3 185.7 240.1 168.9 240.8 152.1 241.2 135.4 241.6 118.6 241.9 101.8" stroke="#efb7d2" stroke-width="1.3"/>
<path d="M143.9 531.7 144.2 515.1 145 498.6 147 482.1 150.7 465.6 156.3 449 163.7 432.5 172.4 416 181.7 399.4 190.9 382.9 199.5 366.4 207.4 349.8 214.2 333.3 219.9 316.8 224.7 300.2 228.7 283.7 231.8 267.2 234.4 250.6 236.4 234.1 238 217.6 239.3 201 240.3 184.5 241.1 168 241.7 151.4 242.1 134.9 242.5 118.4 242.8 101.8" stroke="#efb7d2" stroke-width="1.3"/>
<path d="M144 548.7 144 531.5 144.3 514.3 145.3 497.2 147.5 480 151.7 462.8 158 445.6 166.1 428.4 175.4 411.2 185.2 394 194.7 376.8 203.4 359.7 211.2 342.5 217.8 325.3 223.3 308.1 227.8 290.9 231.5 273.7 234.4 256.5 236.7 239.3 238.5 222.1 239.9 205 241 187.8 241.8 170.6 242.5 153.4 243 136.2 243.4 119 243.7 101.8" stroke="#efb7d2" stroke-width="1.3"/>
<path d="M143.8 533.1 144 516.5 144.8 499.9 146.7 483.3 150.3 466.8 156 450.2 163.4 433.6 172.3 417 181.7 400.4 191.2 383.8 200.1 367.2 208.1 350.6 215.1 334.1 221 317.5 226 300.9 230 284.3 233.3 267.7 236 251.1 238 234.5 239.7 217.9 241 201.4 242 184.8 242.8 168.2 243.4 151.6 243.9 135 244.3 118.4 244.6 101.8" stroke="#efb7d2" stroke-width="1.3"/>
<path d="M143.3 548.5 143.4 531.4 143.7 514.2 144.6 497 147 479.8 151.2 462.6 157.7 445.5 166 428.3 175.6 411.1 185.6 393.9 195.3 376.7 204.3 359.5 212.2 342.4 219 325.2 224.6 308 229.2 290.8 233 273.6 235.9 256.5 238.3 239.3 240.1 222.1 241.6 204.9 242.7 187.7 243.6 170.6 244.3 153.4 244.8 136.2 245.2 119 245.5 101.8" stroke="#efb7d2" stroke-width="1.3"/>
<path d="M143.6 549 143.7 531.8 143.9 514.6 144.9 497.4 147.2 480.2 151.5 463 157.9 445.8 166.3 428.6 175.9 411.4 186 394.2 195.8 377 204.8 359.8 212.8 342.6 219.6 325.4 225.3 308.2 230 291 233.8 273.8 236.8 256.6 239.1 239.4 241 222.2 242.5 205 243.6 187.8 244.5 170.6 245.1 153.4 245.7 136.2 246.1 119 246.4 101.8" stroke="#efb7d2" stroke-width="1.3"/>
<path d="M143.9 558.4 143.9 540.8 144.1 523.3 144.6 505.7 146.1 488.1 149.3 470.6 154.6 453 162 435.5 170.9 417.9 180.5 400.3 190.1 382.8 199.1 365.2 207.1 347.7 214 330.1 219.8 312.5 224.6 295 228.4 277.4 231.4 259.9 233.8 242.3 235.7 224.7 237.1 207.2 238.2 189.6 239.1 172.1 239.8 154.5 240.3 136.9 240.7 119.4 241 101.8" stroke="#ee5fa0" stroke-width="1.6"/>
<path d="M144.6 519 144.6 503 144.7 486.9 144.9 470.9 145.3 454.8 145.7 438.8 146.3 422.7 146.9 406.7 147.6 390.6 148.2 374.6 148.7 358.6 149.2 342.5 149.7 326.5 150 310.4 150.3 294.4 150.6 278.3 150.8 262.3 151 246.2 151.1 230.2 151.2 214.1 151.3 198.1 151.3 182.1 151.4 166 151.4 150 151.5 133.9 151.5 117.9 151.5 101.8" stroke="#6a6a6a" stroke-width="1.0"/>
<path d="M144.5 531.9 144.5 515.4 144.6 498.8 144.8 482.3 145.2 465.7 145.8 449.2 146.5 432.7 147.5 416.1 148.4 399.6 149.4 383 150.3 366.5 151.1 350 151.9 333.4 152.5 316.9 153 300.3 153.4 283.8 153.7 267.2 154 250.7 154.2 234.2 154.4 217.6 154.5 201.1 154.6 184.5 154.7 168 154.8 151.5 154.8 134.9 154.9 118.4 154.9 101.8" stroke="#6a6a6a" stroke-width="1.0"/>
<path d="M144.5 549.6 144.5 532.4 144.6 515.2 144.7 498 145 480.8 145.6 463.5 146.6 446.3 147.8 429.1 149.2 411.9 150.6 394.6 152 377.4 153.3 360.2 154.5 343 155.5 325.7 156.3 308.5 157 291.3 157.6 274.1 158 256.8 158.3 239.6 158.6 222.4 158.8 205.2 159 187.9 159.1 170.7 159.2 153.5 159.3 136.3 159.4 119.1 159.4 101.8" stroke="#6a6a6a" stroke-width="1.0"/>
<path d="M144.2 545.1 144.3 528.1 144.4 511 144.7 494 145.4 476.9 146.6 459.9 148.4 442.8 150.6 425.8 153.2 408.7 155.9 391.7 158.4 374.6 160.8 357.6 162.8 340.5 164.6 323.5 166 306.4 167.3 289.4 168.2 272.3 169 255.3 169.6 238.2 170.1 221.2 170.5 204.1 170.8 187.1 171 170 171.2 153 171.3 135.9 171.4 118.9 171.5 101.8" stroke="#6a6a6a" stroke-width="1.0"/>
<path d="M144.4 547 144.5 529.8 144.5 512.7 144.9 495.6 145.6 478.5 146.8 461.4 148.7 444.2 151.2 427.1 154 410 156.8 392.9 159.6 375.8 162.2 358.6 164.5 341.5 166.4 324.4 168 307.3 169.3 290.2 170.4 273 171.3 255.9 171.9 238.8 172.5 221.7 172.9 204.6 173.2 187.4 173.4 170.3 173.6 153.2 173.8 136.1 173.9 119 174 101.8" stroke="#6a6a6a" stroke-width="1.0"/>
<path d="M144.4 547.2 144.4 530 144.5 512.9 144.9 495.8 145.8 478.7 147.3 461.5 149.6 444.4 152.6 427.3 156 410.1 159.5 393 162.9 375.9 166.1 358.8 168.8 341.6 171.2 324.5 173.2 307.4 174.8 290.2 176.1 273.1 177.2 256 178 238.9 178.6 221.7 179.1 204.6 179.5 187.5 179.8 170.3 180.1 153.2 180.2 136.1 180.4 119 180.5 101.8" stroke="#6a6a6a" stroke-width="1.0"/>
<path d="M143.9 528.8 144.1 512.4 144.9 495.9 146.6 479.5 149.6 463.1 154.1 446.7 160 430.2 166.7 413.8 173.8 397.4 180.8 381 187.4 364.6 193.3 348.1 198.4 331.7 202.7 315.3 206.4 298.9 209.3 282.5 211.7 266 213.6 249.6 215.2 233.2 216.4 216.8 217.3 200.4 218.1 183.9 218.7 167.5 219.1 151.1 219.5 134.7 219.8 118.3 220 101.8" stroke="#6a6a6a" stroke-width="1.0"/>
<path d="M143.3 549.3 143.4 532.1 143.7 514.8 144.6 497.6 147 480.4 151.4 463.2 158.1 446 166.7 428.8 176.7 411.6 187.1 394.4 197.3 377.2 206.7 360 215 342.8 222.1 325.5 228 308.3 232.9 291.1 236.8 273.9 239.9 256.7 242.4 239.5 244.3 222.3 245.8 205.1 247 187.9 247.9 170.7 248.6 153.5 249.1 136.2 249.6 119 249.9 101.8" stroke="#6a6a6a" stroke-width="1.0"/>
<path d="M143.9 521.3 144.6 505.2 146.3 489 149.7 472.9 155.4 456.8 163.3 440.6 173 424.5 183.9 408.4 195 392.2 205.8 376.1 215.8 360 224.7 343.8 232.4 327.7 238.9 311.6 244.3 295.4 248.8 279.3 252.4 263.2 255.3 247 257.6 230.9 259.4 214.8 260.9 198.6 262 182.5 262.9 166.4 263.7 150.2 264.2 134.1 264.6 118 265 101.8" stroke="#6a6a6a" stroke-width="1.0"/>
<path d="M144.6 526.5 144.6 510.2 144.6 493.8 144.7 477.5 144.9 461.2 145.1 444.8 145.3 428.5 145.6 412.2 146 395.8 146.3 379.5 146.6 363.2 146.8 346.8 147 330.5 147.2 314.2 147.4 297.8 147.5 281.5 147.6 265.2 147.7 248.8 147.8 232.5 147.8 216.2 147.9 199.8 147.9 183.5 147.9 167.2 148 150.8 148 134.5 148 118.2 148 101.8" stroke="#000" stroke-width="1.2"/>
<path d="M143.8 534.9 143.9 518.2 144.2 501.6 145.1 484.9 146.7 468.3 149.2 451.6 152.6 435 156.6 418.3 161 401.6 165.4 385 169.5 368.3 173.3 351.7 176.5 335 179.3 318.4 181.6 301.7 183.5 285 185 268.4 186.3 251.7 187.2 235.1 188 218.4 188.6 201.8 189.1 185.1 189.5 168.5 189.8 151.8 190 135.1 190.2 118.5 190.3 101.8" stroke="#000" stroke-width="1.2"/>
<path d="M144 543.7 144.1 526.7 144.3 509.7 144.8 492.7 146.1 475.7 148.3 458.7 151.5 441.7 155.5 424.8 159.9 407.8 164.5 390.8 168.9 373.8 173 356.8 176.5 339.8 179.6 322.8 182.1 305.8 184.2 288.8 185.8 271.8 187.2 254.8 188.2 237.8 189.1 220.8 189.7 203.8 190.2 186.8 190.6 169.8 190.9 152.8 191.2 135.8 191.4 118.8 191.5 101.8" stroke="#000" stroke-width="1.2"/>
<path d="M143.6 532.6 143.7 516 144.1 499.4 145.1 482.9 146.8 466.3 149.6 449.7 153.3 433.2 157.6 416.6 162.2 400 166.8 383.5 171.1 366.9 175 350.3 178.4 333.8 181.3 317.2 183.7 300.6 185.6 284.1 187.2 267.5 188.5 250.9 189.5 234.4 190.3 217.8 190.9 201.2 191.4 184.7 191.8 168.1 192.1 151.5 192.4 135 192.5 118.4 192.7 101.8" stroke="#000" stroke-width="1.2"/>
<path d="M143.9 534.8 144 518.2 144.4 501.5 145.3 484.9 147.1 468.2 150 451.5 153.8 434.9 158.3 418.2 163.2 401.6 168.1 384.9 172.7 368.3 176.9 351.6 180.6 335 183.7 318.3 186.3 301.7 188.4 285 190.1 268.4 191.5 251.7 192.6 235.1 193.4 218.4 194.1 201.7 194.7 185.1 195.1 168.4 195.4 151.8 195.6 135.1 195.8 118.5 196 101.8" stroke="#000" stroke-width="1.2"/>
<path d="M144 541.4 144.1 524.5 144.3 507.6 145 490.7 146.6 473.8 149.2 456.9 152.9 440 157.5 423.1 162.6 406.2 167.8 389.3 172.7 372.3 177.3 355.4 181.2 338.5 184.6 321.6 187.5 304.7 189.8 287.8 191.7 270.9 193.1 254 194.3 237.1 195.3 220.2 196 203.3 196.6 186.4 197 169.5 197.4 152.6 197.6 135.6 197.8 118.7 198 101.8" stroke="#000" stroke-width="1.2"/>
<path d="M144.1 535.8 144.2 519.1 144.5 502.4 145.5 485.7 147.3 469 150.3 452.3 154.3 435.7 159.1 419 164.3 402.3 169.5 385.6 174.4 368.9 178.9 352.2 182.8 335.5 186.1 318.8 188.9 302.1 191.2 285.4 193 268.7 194.5 252.1 195.7 235.4 196.6 218.7 197.3 202 197.9 185.3 198.3 168.6 198.7 151.9 198.9 135.2 199.1 118.5 199.3 101.8" stroke="#000" stroke-width="1.2"/>
<path d="M144 549.7 144 532.5 144.2 515.3 144.7 498.1 145.9 480.8 148.2 463.6 151.7 446.4 156.3 429.2 161.6 411.9 167.2 394.7 172.6 377.5 177.6 360.2 182 343 185.8 325.8 188.9 308.6 191.5 291.3 193.6 274.1 195.3 256.9 196.6 239.7 197.6 222.4 198.4 205.2 199 188 199.5 170.7 199.9 153.5 200.2 136.3 200.4 119.1 200.6 101.8" stroke="#000" stroke-width="1.2"/>
<path d="M143.7 547.6 143.8 530.5 143.9 513.3 144.5 496.2 145.9 479 148.4 461.9 152.1 444.8 156.9 427.6 162.3 410.5 168 393.3 173.5 376.2 178.6 359 183.1 341.9 187 324.7 190.2 307.6 192.8 290.4 194.9 273.3 196.6 256.1 197.9 239 199 221.9 199.8 204.7 200.4 187.6 200.9 170.4 201.3 153.3 201.6 136.1 201.8 119 202 101.8" stroke="#000" stroke-width="1.2"/>
<path d="M143.3 525.9 143.6 509.6 144.3 493.3 145.7 477 148.3 460.6 152 444.3 156.6 428 161.9 411.7 167.5 395.4 172.9 379.1 178 362.8 182.5 346.5 186.4 330.2 189.7 313.9 192.5 297.5 194.8 281.2 196.6 264.9 198.1 248.6 199.3 232.3 200.2 216 200.9 199.7 201.5 183.4 202 167.1 202.3 150.8 202.6 134.4 202.8 118.1 203 101.8" stroke="#000" stroke-width="1.2"/>
<path d="M143.8 549.8 143.9 532.6 144 515.3 144.6 498.1 145.9 480.9 148.5 463.7 152.3 446.4 157.4 429.2 163.2 412 169.3 394.7 175.2 377.5 180.7 360.3 185.6 343 189.7 325.8 193.2 308.6 196 291.4 198.3 274.1 200.1 256.9 201.6 239.7 202.7 222.4 203.6 205.2 204.3 188 204.8 170.7 205.2 153.5 205.6 136.3 205.8 119.1 206 101.8" stroke="#000" stroke-width="1.2"/>
<path d="M143.5 521.6 143.8 505.4 144.7 489.3 146.6 473.1 149.7 457 154 440.9 159.3 424.7 165.3 408.6 171.3 392.4 177.3 376.3 182.7 360.1 187.6 344 191.8 327.8 195.4 311.7 198.4 295.6 200.8 279.4 202.8 263.3 204.4 247.1 205.6 231 206.6 214.8 207.4 198.7 208.1 182.5 208.6 166.4 209 150.3 209.3 134.1 209.5 118 209.7 101.8" stroke="#000" stroke-width="1.2"/>
<path d="M144.2 532.5 144.4 516 145 499.4 146.3 482.8 148.9 466.3 152.8 449.7 158 433.1 164.2 416.6 170.8 400 177.3 383.4 183.5 366.9 189 350.3 193.9 333.7 198 317.2 201.4 300.6 204.2 284 206.5 267.5 208.3 250.9 209.8 234.4 210.9 217.8 211.8 201.2 212.5 184.7 213.1 168.1 213.5 151.5 213.8 135 214.1 118.4 214.3 101.8" stroke="#000" stroke-width="1.2"/>
<path d="M144.2 525.2 144.6 508.9 145.5 492.6 147.6 476.4 151.1 460.1 156.1 443.8 162.5 427.5 169.7 411.2 177.2 394.9 184.5 378.7 191.3 362.4 197.4 346.1 202.7 329.8 207.2 313.5 210.9 297.2 214 281 216.5 264.7 218.5 248.4 220.1 232.1 221.3 215.8 222.3 199.5 223.1 183.2 223.7 167 224.2 150.7 224.6 134.4 224.9 118.1 225.1 101.8" stroke="#000" stroke-width="1.2"/>
<path d="M144.1 540.6 144.2 523.7 144.7 506.9 145.8 490 148.3 473.1 152.4 456.2 158.2 439.4 165.3 422.5 173.2 405.6 181.3 388.7 189 371.8 196 355 202.1 338.1 207.4 321.2 211.7 304.3 215.3 287.5 218.2 270.6 220.5 253.7 222.3 236.8 223.8 220 224.9 203.1 225.8 186.2 226.5 169.3 227 152.5 227.4 135.6 227.7 118.7 228 101.8" stroke="#000" stroke-width="1.2"/>
<path d="M143.1 548.3 143.2 531.1 143.4 514 144.2 496.8 146.2 479.6 149.8 462.4 155.3 445.3 162.3 428.1 170.4 410.9 178.8 393.8 187 376.6 194.6 359.4 201.2 342.2 206.9 325.1 211.7 307.9 215.6 290.7 218.7 273.5 221.2 256.4 223.2 239.2 224.8 222 226 204.9 226.9 187.7 227.7 170.5 228.2 153.3 228.7 136.2 229 119 229.3 101.8" stroke="#000" stroke-width="1.2"/>
<path d="M144.1 542.2 144.2 525.3 144.5 508.3 145.7 491.4 148.1 474.5 152.2 457.5 158.1 440.6 165.4 423.7 173.5 406.7 181.9 389.8 189.9 372.8 197.2 355.9 203.6 339 209.1 322 213.6 305.1 217.4 288.2 220.4 271.2 222.8 254.3 224.7 237.3 226.2 220.4 227.4 203.5 228.3 186.5 229 169.6 229.6 152.6 230 135.7 230.3 118.8 230.6 101.8" stroke="#000" stroke-width="1.2"/>
<path d="M143.5 521.8 144 505.6 145.2 489.5 147.7 473.3 151.8 457.2 157.5 441 164.6 424.9 172.5 408.7 180.7 392.6 188.6 376.4 195.9 360.3 202.4 344.1 208.1 328 212.9 311.8 216.8 295.6 220.1 279.5 222.7 263.3 224.9 247.2 226.6 231 227.9 214.9 229 198.7 229.8 182.6 230.5 166.4 231 150.3 231.4 134.1 231.7 118 232 101.8" stroke="#000" stroke-width="1.2"/>
<path d="M142.8 550.6 142.8 533.3 143 516.1 143.8 498.8 145.7 481.5 149.3 464.3 154.9 447 162.2 429.8 170.6 412.5 179.5 395.2 188.2 378 196.2 360.7 203.4 343.5 209.5 326.2 214.5 308.9 218.7 291.7 222.1 274.4 224.7 257.2 226.8 239.9 228.5 222.6 229.8 205.4 230.8 188.1 231.6 170.9 232.2 153.6 232.6 136.4 233 119.1 233.3 101.8" stroke="#000" stroke-width="1.2"/>
<path d="M144 550.1 144 532.9 144.2 515.6 145 498.4 147 481.1 150.6 463.9 156.2 446.7 163.6 429.4 172 412.2 180.9 394.9 189.6 377.7 197.6 360.5 204.7 343.2 210.7 326 215.8 308.7 220 291.5 223.3 274.2 226 257 228.1 239.8 229.7 222.5 231 205.3 232 188 232.8 170.8 233.4 153.6 233.9 136.3 234.2 119.1 234.5 101.8" stroke="#000" stroke-width="1.2"/>
<path d="M143.8 534.2 144 517.5 144.6 500.9 146.3 484.3 149.6 467.6 154.7 451 161.5 434.4 169.6 417.8 178.3 401.1 187 384.5 195.2 367.9 202.7 351.2 209.2 334.6 214.7 318 219.3 301.4 223 284.7 226.1 268.1 228.5 251.5 230.4 234.9 232 218.2 233.2 201.6 234.1 185 234.8 168.3 235.4 151.7 235.9 135.1 236.2 118.5 236.5 101.8" stroke="#000" stroke-width="1.2"/>
<path d="M142.1 546.2 142.2 529.1 142.5 512 143.7 494.9 146.2 477.8 150.9 460.7 157.7 443.6 166.4 426.5 176.3 409.4 186.6 392.4 196.5 375.3 205.6 358.2 213.6 341.1 220.5 324 226.2 306.9 230.9 289.8 234.7 272.7 237.7 255.6 240.1 238.5 241.9 221.5 243.4 204.4 244.5 187.3 245.4 170.2 246.1 153.1 246.6 136 247.1 118.9 247.4 101.8" stroke="#000" stroke-width="1.2"/>
<path d="M143.9 532.1 144.2 515.6 145.2 499 147.6 482.5 152.2 465.9 159.2 449.4 168.4 432.8 179.3 416.3 190.9 399.7 202.4 383.2 213.3 366.6 223 350.1 231.6 333.5 238.8 317 244.8 300.4 249.8 283.9 253.8 267.3 257 250.8 259.5 234.2 261.5 217.7 263.1 201.1 264.3 184.6 265.3 168 266.1 151.5 266.7 134.9 267.1 118.4 267.5 101.8" stroke="#000" stroke-width="1.2"/>
<path d="M143.1 528.8 143.6 512.4 145 495.9 148.2 479.5 154 463.1 162.5 446.7 173.6 430.2 186.3 413.8 199.8 397.4 213 381 225.4 364.6 236.6 348.1 246.3 331.7 254.5 315.3 261.4 298.9 267 282.5 271.5 266 275.1 249.6 278 233.2 280.3 216.8 282.1 200.4 283.6 183.9 284.7 167.5 285.6 151.1 286.2 134.7 286.8 118.3 287.2 101.8" stroke="#000" stroke-width="1.2"/>
<path d="M143.7 528 144.2 511.6 145.8 495.2 149.2 478.8 155.2 462.5 164.2 446.1 175.6 429.7 188.8 413.3 202.7 396.9 216.4 380.5 229.1 364.1 240.6 347.7 250.6 331.3 259 314.9 266 298.5 271.8 282.1 276.5 265.8 280.2 249.4 283.2 233 285.5 216.6 287.4 200.2 288.9 183.8 290 167.4 290.9 151 291.6 134.6 292.2 118.2 292.6 101.8" stroke="#000" stroke-width="1.2"/>
<path d="M142.6 518 143.6 502 146.1 486 150.9 470 158.4 453.9 168.7 437.9 181 421.9 194.5 405.9 208.3 389.9 221.6 373.9 233.8 357.9 244.7 341.9 254 325.9 262 309.9 268.6 293.9 274 277.9 278.3 261.9 281.9 245.9 284.7 229.9 286.9 213.9 288.7 197.9 290.1 181.9 291.2 165.9 292.1 149.8 292.8 133.8 293.4 117.8 293.8 101.8" stroke="#000" stroke-width="1.2"/>
<path d="M142.8 532.5 143.2 515.9 144.5 499.3 147.4 482.8 153 466.2 161.6 449.6 172.9 433.1 186.2 416.5 200.5 400 214.7 383.4 228.1 366.8 240.2 350.3 250.7 333.7 259.6 317.1 267 300.6 273.1 284 278 267.5 282 250.9 285.1 234.3 287.6 217.8 289.6 201.2 291.1 184.6 292.3 168.1 293.2 151.5 294 135 294.5 118.4 295 101.8" stroke="#000" stroke-width="1.2"/>
<path d="M143.9 528.5 144.4 512.1 146 495.7 149.6 479.3 156 462.9 165.5 446.4 177.6 430 191.7 413.6 206.5 397.2 221 380.8 234.7 364.4 246.9 348 257.6 331.6 266.6 315.2 274.1 298.8 280.3 282.3 285.3 265.9 289.3 249.5 292.4 233.1 295 216.7 296.9 200.3 298.5 183.9 299.7 167.5 300.7 151.1 301.4 134.7 302 118.2 302.5 101.8" stroke="#000" stroke-width="1.2"/>
<path d="M142.4 535.1 142.8 518.4 143.9 501.7 146.8 485.1 152.5 468.4 161.4 451.7 173.5 435.1 187.8 418.4 203.3 401.8 218.9 385.1 233.6 368.4 246.9 351.8 258.5 335.1 268.4 318.4 276.6 301.8 283.4 285.1 288.8 268.5 293.2 251.8 296.6 235.1 299.4 218.5 301.5 201.8 303.2 185.1 304.5 168.5 305.6 151.8 306.4 135.2 307 118.5 307.5 101.8" stroke="#000" stroke-width="1.2"/>
<path d="M143.7 551.2 143.7 533.9 144.1 516.6 145.5 499.3 149 482 155.7 464.7 166 447.5 179.6 430.2 195.3 412.9 211.9 395.6 228.1 378.3 243.1 361.1 256.5 343.8 267.9 326.5 277.4 309.2 285.2 291.9 291.5 274.6 296.5 257.4 300.4 240.1 303.6 222.8 306 205.5 307.9 188.2 309.3 171 310.4 153.7 311.3 136.4 312 119.1 312.5 101.8" stroke="#000" stroke-width="1.2"/>
<path d="M141.5 550.7 141.6 533.5 142 516.2 143.5 498.9 147.2 481.7 154.3 464.4 165 447.1 179.2 429.9 195.6 412.6 212.8 395.3 229.7 378.1 245.4 360.8 259.2 343.5 271 326.3 280.9 309 289 291.7 295.5 274.5 300.7 257.2 304.9 240 308.1 222.7 310.6 205.4 312.5 188.2 314.1 170.9 315.2 153.6 316.1 136.4 316.8 119.1 317.4 101.8" stroke="#000" stroke-width="1.2"/>
<path d="M143.7 526.1 144.4 509.8 146.6 493.5 151.1 477.1 159 460.8 170.5 444.5 185.1 428.2 201.6 411.9 219 395.6 236 379.2 251.8 362.9 266 346.6 278.3 330.3 288.7 314 297.4 297.6 304.5 281.3 310.2 265 314.8 248.7 318.5 232.4 321.4 216.1 323.7 199.7 325.6 183.4 327 167.1 328.1 150.8 329 134.5 329.7 118.1 330.2 101.8" stroke="#000" stroke-width="1.2"/>
<path d="M143.6 544.4 143.8 527.3 144.5 510.3 146.8 493.3 151.8 476.3 160.7 459.3 173.6 442.2 189.8 425.2 208 408.2 226.7 391.2 244.8 374.2 261.4 357.1 276 340.1 288.5 323.1 298.9 306.1 307.4 289.1 314.2 272 319.7 255 324 238 327.5 221 330.1 204 332.2 186.9 333.8 169.9 335.1 152.9 336.1 135.9 336.8 118.9 337.4 101.8" stroke="#000" stroke-width="1.2"/>
<path d="M143.4 521.3 144.5 505.2 147.4 489 153.2 472.9 162.6 456.8 175.7 440.6 191.9 424.5 209.9 408.4 228.4 392.2 246.4 376.1 263 360 277.8 343.8 290.7 327.7 301.5 311.6 310.5 295.4 317.9 279.3 323.9 263.2 328.7 247 332.6 230.9 335.6 214.8 338.1 198.6 340 182.5 341.5 166.4 342.7 150.2 343.6 134.1 344.3 118 344.9 101.8" stroke="#000" stroke-width="1.2"/>
<path d="M142.4 548.8 142.6 531.6 143.2 514.4 145.3 497.2 150.3 480 159.6 462.8 173.6 445.6 191.7 428.4 212.5 411.3 234.3 394.1 255.5 376.9 275 359.7 292.3 342.5 307 325.3 319.4 308.1 329.5 290.9 337.6 273.7 344.1 256.5 349.2 239.4 353.2 222.2 356.4 205 358.8 187.8 360.7 170.6 362.2 153.4 363.3 136.2 364.2 119 364.9 101.8" stroke="#000" stroke-width="1.2"/>
<path d="M140.5 525.9 141.4 509.5 144.2 493.2 150.1 476.9 160.4 460.6 175.2 444.3 194 428 215.3 411.7 237.7 395.4 259.5 379.1 279.9 362.8 298.1 346.5 313.9 330.1 327.3 313.8 338.4 297.5 347.6 281.2 355 264.9 360.9 248.6 365.6 232.3 369.4 216 372.4 199.7 374.7 183.4 376.5 167.1 378 150.8 379.1 134.4 380 118.1 380.7 101.8" stroke="#000" stroke-width="1.2"/>
<path d="M143.1 549 143.2 531.8 143.9 514.6 146.1 497.4 151.5 480.2 161.4 463 176.5 445.8 196 428.6 218.5 411.4 242 394.2 264.9 377 286 359.8 304.7 342.6 320.6 325.4 334 308.2 344.9 291 353.7 273.8 360.7 256.6 366.2 239.4 370.6 222.2 374 205 376.6 187.8 378.7 170.6 380.3 153.4 381.5 136.2 382.5 119 383.2 101.8" stroke="#000" stroke-width="1.2"/>
<path d="M141.2 541.7 141.5 524.8 142.8 507.8 146.5 490.9 154.4 474 167.9 457.1 187 440.2 210.6 423.3 236.9 406.3 263.8 389.4 289.6 372.5 313.1 355.6 333.7 338.7 351.3 321.8 366 304.8 378 287.9 387.7 271 395.5 254.1 401.6 237.2 406.4 220.3 410.2 203.3 413.2 186.4 415.5 169.5 417.3 152.6 418.7 135.7 419.7 118.7 420.6 101.8" stroke="#000" stroke-width="1.2"/>
<path d="M143.8 516.5 144.5 511.9 145.6 507.3 146.9 502.7 148.7 498 151 493.4 153.9 488.8 157.3 484.2 161.5 479.6 166.4 475 172.1 470.4 178.6 465.8 186 461.2 194.1 456.6 203.1 452 212.9 447.4 223.4 442.8 234.6 438.2 246.4 433.5 258.7 428.9 271.5 424.3 284.7 419.7 298.3 415.1 312 410.5 325.9 405.9 339.9 401.3 353.9 396.7 367.8 392.1 381.6 387.5 395.2 382.9 408.5 378.3 421.6 373.7 434.4 369 446.8 364.4 458.8 359.8 470.5 355.2 481.7 350.6 492.5 346 502.9 341.4 512.8 336.8 522.4 332.2 531.5 327.6 540.1 323 548.4 318.4 556.2 313.8 563.6 309.2 570.7 304.5 577.4 299.9 583.7 295.3 589.6 290.7 595.3 286.1 600.6 281.5 605.6 276.9 610.3 272.3 614.7 267.7 618.9 263.1 622.8 258.5 626.5 253.9 629.9 249.3 633.1 244.7 636.2 240 639 235.4 641.7 230.8 644.2 226.2 646.5 221.6 648.7 217 650.7 212.4 652.6 207.8 654.4 203.2 656.1 198.6 657.7 194 659.1 189.4 660.5 184.8 661.8 180.2 663 175.5 664.1 170.9 665.1 166.3 666.1 161.7 667 157.1 667.8 152.5 668.6 147.9 669.3 143.3 670 138.7 670.7 134.1 671.3 129.5 671.8 124.9 672.3 120.3 672.8 115.7 673.3 111 673.7 106.4 674.1 101.8" stroke="#000" stroke-width="1.2"/>
<path d="M144.4 556 144.4 538.5 144.5 521.1 144.9 503.6 145.9 486.1 147.9 468.7 151.2 451.2 155.7 433.7 161.1 416.3 166.8 398.8 172.5 381.3 177.8 363.9 182.5 346.4 186.6 328.9 190 311.4 192.8 294 195 276.5 196.8 259 198.2 241.6 199.3 224.1 200.1 206.6 200.8 189.2 201.3 171.7 201.7 154.2 202 136.8 202.2 119.3 202.4 101.8" stroke="#000" stroke-width="1.2"/>
<path d="M144.9 513.1 145.7 497.2 147.6 481.4 150.9 465.6 156 449.8 162.6 434 170.3 418.2 178.7 402.3 187 386.5 195 370.7 202.3 354.9 208.7 339.1 214.3 323.3 219 307.4 222.9 291.6 226.1 275.8 228.7 260 230.8 244.2 232.4 228.4 233.8 212.5 234.9 196.7 235.7 180.9 236.4 165.1 236.9 149.3 237.3 133.5 237.6 117.6 237.9 101.8" stroke="#ee6aa7" stroke-width="1.4"/>
<path d="M144.8 516.5 145.5 500.5 147.1 484.6 150.2 468.6 155 452.7 161.5 436.7 169.2 420.8 177.7 404.8 186.2 388.9 194.4 372.9 202 357 208.7 341 214.4 325.1 219.3 309.2 223.3 293.2 226.7 277.3 229.4 261.3 231.5 245.4 233.3 229.4 234.7 213.5 235.8 197.5 236.6 181.6 237.3 165.6 237.9 149.7 238.3 133.7 238.6 117.8 238.9 101.8" stroke="#ee6aa7" stroke-width="1.4"/>
<path d="M144.7 519.7 145.3 503.6 146.7 487.6 149.6 471.5 154.2 455.4 160.5 439.4 168.2 423.3 176.7 407.2 185.5 391.1 193.9 375.1 201.7 359 208.6 342.9 214.6 326.8 219.6 310.8 223.8 294.7 227.3 278.6 230.1 262.6 232.3 246.5 234.1 230.4 235.6 214.3 236.7 198.3 237.6 182.2 238.3 166.1 238.9 150 239.3 134 239.6 117.9 239.9 101.8" stroke="#ee6aa7" stroke-width="1.4"/>
<path d="M144.7 522.8 145.1 506.6 146.4 490.4 149 474.2 153.4 458 159.6 441.9 167.3 425.7 175.8 409.5 184.7 393.3 193.4 377.1 201.4 360.9 208.5 344.7 214.7 328.5 220 312.3 224.3 296.1 227.9 279.9 230.8 263.7 233.1 247.6 235 231.4 236.4 215.2 237.6 199 238.5 182.8 239.3 166.6 239.8 150.4 240.3 134.2 240.6 118 240.9 101.8" stroke="#ee6aa7" stroke-width="1.4"/>
<path d="M145.2 505.6 146.5 490.1 149.1 474.6 153.3 459 159.2 443.5 166.6 428 174.9 412.4 183.6 396.9 192.1 381.4 200.2 365.9 207.5 350.3 213.9 334.8 219.4 319.3 224.1 303.7 227.9 288.2 231.1 272.7 233.7 257.1 235.8 241.6 237.5 226.1 238.8 210.5 239.9 195 240.8 179.5 241.4 164 242 148.4 242.4 132.9 242.7 117.4 243 101.8" stroke="#ee6aa7" stroke-width="1.4"/>
<path d="M145 509.4 146.1 493.8 148.4 478.1 152.3 462.4 158 446.7 165.2 431.1 173.5 415.4 182.4 399.7 191.2 384 199.5 368.4 207.1 352.7 213.8 337 219.5 321.3 224.3 305.6 228.4 290 231.7 274.3 234.4 258.6 236.6 242.9 238.3 227.3 239.7 211.6 240.8 195.9 241.7 180.2 242.4 164.5 242.9 148.9 243.4 133.2 243.7 117.5 244 101.8" stroke="#ee6aa7" stroke-width="1.4"/>
<path d="M144 513.1 145.1 497.2 147.6 481.4 152.2 465.6 159 449.8 167.9 434 178.3 418.2 189.5 402.3 200.8 386.5 211.6 370.7 221.4 354.9 230.1 339.1 237.6 323.3 243.9 307.4 249.1 291.6 253.4 275.8 256.9 260 259.8 244.2 262 228.4 263.8 212.5 265.3 196.7 266.4 180.9 267.3 165.1 268 149.3 268.6 133.5 269 117.6 269.4 101.8" stroke="#e57fb0" stroke-width="2.0"/>
</g>
<g fill="none" stroke-linejoin="round" clip-path="url(#cpd)">
<path d="M169.6 1061.9 169.6 1045.5 169.6 1029.9 169.6 1015.1 169.6 1001 169.6 987.7 169.6 975.2 169.6 963.5 169.7 952.6 169.7 942.6 169.7 933.4 169.8 925.1 169.8 917.7 169.9 911.2 169.9 905.7 170 901.2 170 897.7 170.1 895.4 170.1 894.5 171.9 764.7" stroke="#bebebe" stroke-width="1.5"/>
<path d="M169.6 1053.3 169.6 1037.8 169.6 1022.9 169.6 1008.9 169.6 995.5 169.6 982.9 169.6 971 169.7 959.9 169.7 949.6 169.7 940.1 169.8 931.4 169.8 923.5 169.9 916.5 170 910.3 170 905.1 170.1 900.8 170.2 897.5 170.2 895.4 170.2 894.5 172.7 764.7" stroke="#bebebe" stroke-width="1.5"/>
<path d="M169.6 1089.7 169.6 1070.6 169.6 1052.4 169.6 1035.1 169.6 1018.7 169.6 1003.2 169.6 988.6 169.6 975 169.7 962.3 169.7 950.6 169.8 939.9 169.9 930.2 169.9 921.5 170 914 170.1 907.5 170.2 902.3 170.3 898.2 170.4 895.6 170.4 894.5 173.5 764.7" stroke="#bebebe" stroke-width="1.5"/>
<path d="M169.6 1110.2 169.6 1089.1 169.6 1069 169.6 1049.9 169.6 1031.7 169.6 1014.6 169.6 998.5 169.7 983.4 169.7 969.4 169.7 956.4 169.8 944.6 169.9 933.9 170 924.4 170.1 916 170.2 908.9 170.4 903.1 170.5 898.6 170.5 895.7 170.6 894.5 174.3 764.7" stroke="#bebebe" stroke-width="1.5"/>
<path d="M169.6 1099.4 169.6 1079.3 169.6 1060.2 169.6 1042.1 169.6 1024.8 169.6 1008.6 169.6 993.2 169.7 978.9 169.7 965.6 169.8 953.3 169.9 942.1 170 931.9 170.1 922.9 170.2 914.9 170.4 908.2 170.5 902.6 170.6 898.4 170.7 895.6 170.7 894.5 175.2 764.7" stroke="#bebebe" stroke-width="1.5"/>
<path d="M169.6 1055.2 169.6 1039.5 169.6 1024.5 169.6 1010.2 169.6 996.7 169.7 983.9 169.7 971.9 169.8 960.7 169.8 950.3 169.9 940.6 170 931.8 170.1 923.9 170.3 916.7 170.4 910.5 170.6 905.2 170.7 900.9 170.8 897.6 170.9 895.4 170.9 894.5 176 764.7" stroke="#bebebe" stroke-width="1.5"/>
<path d="M169.5 1160.4 169.5 1134.4 169.5 1109.6 169.5 1086 169.5 1063.7 169.6 1042.5 169.6 1022.7 169.6 1004.1 169.6 986.8 169.7 970.9 169.8 956.3 169.9 943.1 170.1 931.3 170.2 921 170.4 912.2 170.7 905.1 170.9 899.6 171 896 171.1 894.5 176.8 764.7" stroke="#bebebe" stroke-width="1.5"/>
<path d="M169.6 1070.7 169.6 1053.5 169.6 1037 169.6 1021.4 169.6 1006.6 169.7 992.6 169.7 979.4 169.8 967.1 169.8 955.7 169.9 945.1 170.1 935.4 170.2 926.7 170.4 918.9 170.6 912.1 170.8 906.3 170.9 901.5 171.1 897.9 171.2 895.5 171.2 894.5 177.6 764.7" stroke="#bebebe" stroke-width="1.5"/>
<path d="M169.5 1180.6 169.5 1152.6 169.5 1125.9 169.5 1100.5 169.5 1076.5 169.5 1053.8 169.5 1032.4 169.5 1012.4 169.6 993.8 169.7 976.7 169.8 961 169.9 946.8 170.1 934.1 170.3 923 170.6 913.6 170.8 905.9 171.1 900 171.3 896.1 171.4 894.5 178.4 764.7" stroke="#bebebe" stroke-width="1.5"/>
<path d="M169.5 1094.1 169.5 1074.6 169.5 1056 169.5 1038.2 169.5 1021.5 169.6 1005.6 169.6 990.7 169.7 976.8 169.8 963.8 169.9 951.8 170 940.9 170.2 931 170.4 922.1 170.6 914.4 170.9 907.8 171.1 902.4 171.3 898.3 171.5 895.6 171.5 894.5 179.2 764.7" stroke="#bebebe" stroke-width="1.5"/>
<path d="M169.4 1050.8 169.4 1035.5 169.4 1020.9 169.4 1007.1 169.5 993.9 169.5 981.5 169.6 969.8 169.7 958.9 169.8 948.7 170 939.4 170.1 930.8 170.3 923 170.6 916.1 170.8 910.1 171 904.9 171.2 900.7 171.4 897.5 171.5 895.4 171.6 894.5 180 764.7" stroke="#bebebe" stroke-width="1.5"/>
<path d="M169.4 1079.3 169.4 1061.3 169.4 1044 169.4 1027.6 169.5 1012.1 169.5 997.4 169.6 983.6 169.6 970.7 169.8 958.7 169.9 947.6 170.1 937.4 170.3 928.3 170.5 920.1 170.8 912.9 171.1 906.8 171.3 901.8 171.6 898 171.7 895.5 171.8 894.5 180.9 764.7" stroke="#bebebe" stroke-width="1.5"/>
<path d="M169.5 1058.1 169.6 1042.1 169.6 1026.9 169.6 1012.3 169.7 998.6 169.7 985.6 169.8 973.4 169.9 961.9 170 951.3 170.2 941.5 170.4 932.5 170.6 924.4 170.9 917.1 171.1 910.8 171.4 905.4 171.6 901 171.9 897.6 172 895.4 172.1 894.5 181.7 764.7" stroke="#bebebe" stroke-width="1.5"/>
<path d="M169.5 1158.7 169.5 1132.8 169.5 1108.2 169.5 1084.8 169.5 1062.5 169.5 1041.6 169.6 1021.8 169.6 1003.4 169.7 986.2 169.8 970.4 170 955.9 170.2 942.8 170.4 931.1 170.8 920.8 171.1 912.1 171.5 905 171.9 899.6 172.1 896 172.2 894.5 182.5 764.7" stroke="#bebebe" stroke-width="1.5"/>
<path d="M169.5 1121.4 169.5 1099.2 169.5 1078.1 169.5 1057.9 169.6 1038.9 169.6 1020.8 169.6 1003.9 169.7 988 169.8 973.3 170 959.7 170.1 947.2 170.4 936 170.7 925.9 171 917.1 171.4 909.6 171.8 903.5 172.1 898.8 172.3 895.7 172.4 894.5 183.3 764.7" stroke="#bebebe" stroke-width="1.5"/>
<path d="M169.4 1090.7 169.4 1071.5 169.4 1053.2 169.4 1035.8 169.5 1019.3 169.5 1003.7 169.6 989 169.7 975.3 169.8 962.6 170 950.8 170.2 940.1 170.5 930.3 170.8 921.7 171.2 914.1 171.5 907.6 171.9 902.3 172.2 898.3 172.4 895.6 172.5 894.5 184.1 764.7" stroke="#bebebe" stroke-width="1.5"/>
<path d="M169.4 1052.3 169.5 1036.9 169.5 1022.2 169.5 1008.2 169.6 994.9 169.7 982.4 169.8 970.6 169.9 959.5 170.1 949.3 170.3 939.8 170.6 931.2 170.8 923.3 171.2 916.3 171.5 910.2 171.8 905 172.1 900.8 172.4 897.5 172.6 895.4 172.7 894.5 184.9 764.7" stroke="#bebebe" stroke-width="1.5"/>
<path d="M169.5 1068.5 169.5 1051.5 169.6 1035.3 169.6 1019.9 169.7 1005.2 169.7 991.4 169.8 978.4 169.9 966.2 170.1 954.9 170.3 944.5 170.6 934.9 170.9 926.3 171.2 918.6 171.6 911.9 172 906.1 172.3 901.4 172.6 897.8 172.8 895.5 172.9 894.5 185.7 764.7" stroke="#bebebe" stroke-width="1.5"/>
<path d="M169.4 1098.5 169.4 1078.6 169.4 1059.5 169.4 1041.4 169.4 1024.3 169.5 1008.1 169.6 992.8 169.7 978.6 169.8 965.3 170 953.1 170.3 941.9 170.6 931.8 171 922.7 171.4 914.8 171.8 908.1 172.2 902.6 172.6 898.4 172.9 895.6 173 894.5 186.6 764.7" stroke="#bebebe" stroke-width="1.5"/>
<path d="M169.5 1122 169.5 1099.8 169.5 1078.6 169.5 1058.4 169.5 1039.2 169.6 1021.2 169.6 1004.2 169.7 988.3 169.8 973.5 170 959.8 170.3 947.4 170.6 936.1 171 926 171.4 917.2 171.9 909.7 172.4 903.5 172.8 898.9 173.1 895.8 173.2 894.5 187.4 764.7" stroke="#bebebe" stroke-width="1.5"/>
<path d="M169.4 1080.7 169.4 1062.5 169.5 1045.1 169.5 1028.6 169.5 1012.9 169.6 998.2 169.7 984.2 169.8 971.2 170 959.1 170.3 948 170.5 937.8 170.9 928.5 171.3 920.3 171.7 913.1 172.2 906.9 172.6 901.9 173 898.1 173.3 895.5 173.4 894.5 188.2 764.7" stroke="#bebebe" stroke-width="1.5"/>
<path d="M169.3 1139.8 169.3 1115.8 169.3 1092.9 169.3 1071.1 169.3 1050.5 169.3 1031 169.4 1012.7 169.5 995.6 169.6 979.6 169.8 964.9 170.1 951.5 170.4 939.3 170.8 928.4 171.3 918.9 171.9 910.9 172.4 904.2 172.9 899.2 173.3 895.8 173.4 894.5 189 764.7" stroke="#bebebe" stroke-width="1.5"/>
<path d="M169.5 1120.3 169.5 1098.2 169.5 1077.2 169.5 1057.1 169.5 1038.2 169.6 1020.2 169.6 1003.3 169.7 987.6 169.9 972.9 170.1 959.4 170.4 947 170.8 935.8 171.2 925.8 171.7 917 172.2 909.6 172.8 903.5 173.2 898.8 173.6 895.7 173.7 894.5 189.8 764.7" stroke="#bebebe" stroke-width="1.5"/>
<path d="M169.4 1168.4 169.4 1141.6 169.4 1116.1 169.4 1091.8 169.4 1068.7 169.4 1047 169.5 1026.5 169.5 1007.4 169.6 989.6 169.8 973.2 170.1 958.1 170.4 944.5 170.9 932.4 171.4 921.8 172 912.8 172.6 905.4 173.2 899.7 173.7 896 173.8 894.5 190.6 764.7" stroke="#bebebe" stroke-width="1.5"/>
<path d="M169.3 1079.1 169.3 1061.1 169.3 1043.8 169.3 1027.5 169.4 1011.9 169.5 997.3 169.6 983.5 169.8 970.6 170 958.6 170.3 947.5 170.6 937.4 171 928.2 171.5 920.1 172 912.9 172.5 906.8 173 901.8 173.5 898 173.8 895.5 173.9 894.5 191.4 764.7" stroke="#bebebe" stroke-width="1.5"/>
<path d="M169.1 1058.1 169.1 1042.1 169.2 1026.9 169.2 1012.4 169.3 998.6 169.4 985.6 169.6 973.4 169.8 961.9 170 951.3 170.3 941.5 170.7 932.5 171.1 924.4 171.6 917.1 172.1 910.8 172.6 905.4 173.1 901 173.5 897.6 173.8 895.4 173.9 894.5 192.3 764.7" stroke="#bebebe" stroke-width="1.5"/>
<path d="M169.4 1149.1 169.4 1124.2 169.4 1100.4 169.4 1077.8 169.4 1056.4 169.5 1036.2 169.5 1017.2 169.6 999.4 169.8 982.9 170 967.6 170.3 953.6 170.7 941 171.2 929.7 171.8 919.9 172.4 911.5 173.1 904.6 173.7 899.4 174.2 895.9 174.4 894.5 193.1 764.7" stroke="#bebebe" stroke-width="1.5"/>
<path d="M169.5 1107.5 169.5 1086.6 169.5 1066.8 169.5 1047.9 169.5 1030 169.6 1013.1 169.7 997.1 169.9 982.3 170.1 968.4 170.3 955.7 170.7 944 171.1 933.4 171.6 924 172.2 915.7 172.9 908.7 173.5 903 174 898.6 174.4 895.7 174.6 894.5 193.9 764.7" stroke="#bebebe" stroke-width="1.5"/>
<path d="M169.5 1134.9 169.5 1111.4 169.5 1089 169.5 1067.6 169.5 1047.4 169.6 1028.3 169.7 1010.4 169.8 993.6 169.9 977.9 170.2 963.5 170.5 950.3 171 938.4 171.5 927.8 172.1 918.5 172.8 910.5 173.5 904.1 174.1 899.1 174.6 895.8 174.8 894.5 194.7 764.7" stroke="#bebebe" stroke-width="1.5"/>
<path d="M169.2 1120.1 169.2 1098.1 169.2 1077 169.2 1057 169.2 1038 169.3 1020.1 169.4 1003.2 169.5 987.5 169.7 972.8 170 959.3 170.4 946.9 170.9 935.7 171.4 925.7 172.1 917 172.8 909.6 173.4 903.5 174.1 898.8 174.5 895.7 174.7 894.5 195.5 764.7" stroke="#bebebe" stroke-width="1.5"/>
<path d="M169.1 1082.6 169.1 1064.2 169.1 1046.6 169.2 1030 169.2 1014.1 169.3 999.2 169.5 985.2 169.7 972 169.9 959.8 170.3 948.5 170.7 938.2 171.2 928.9 171.8 920.5 172.4 913.2 173.1 907 173.7 902 174.2 898.1 174.6 895.5 174.8 894.5 196.3 764.7" stroke="#bebebe" stroke-width="1.5"/>
<path d="M169.2 1123.4 169.2 1101 169.2 1079.7 169.2 1059.4 169.3 1040.1 169.3 1021.9 169.4 1004.8 169.6 988.8 169.8 974 170.1 960.2 170.5 947.7 170.9 936.3 171.5 926.2 172.2 917.3 173 909.8 173.7 903.6 174.4 898.9 174.9 895.8 175.1 894.5 197.1 764.7" stroke="#bebebe" stroke-width="1.5"/>
<path d="M169.3 1102.7 169.3 1082.3 169.3 1062.9 169.3 1044.4 169.4 1026.9 169.5 1010.4 169.6 994.8 169.7 980.3 170 966.8 170.3 954.3 170.7 942.9 171.3 932.5 171.9 923.3 172.6 915.3 173.3 908.4 174 902.8 174.6 898.5 175.1 895.6 175.3 894.5 198 764.7" stroke="#bebebe" stroke-width="1.5"/>
<path d="M169 1180.1 169 1152.1 169 1125.5 169.1 1100.2 169.1 1076.2 169.1 1053.5 169.2 1032.1 169.2 1012.2 169.4 993.6 169.6 976.5 170 960.8 170.4 946.7 171 934 171.8 923 172.7 913.6 173.6 905.9 174.4 900 175 896.1 175.3 894.5 198.8 764.7" stroke="#bebebe" stroke-width="1.5"/>
<path d="M169.3 1134.2 169.3 1110.8 169.3 1088.4 169.3 1067.2 169.4 1047 169.4 1028 169.5 1010.1 169.6 993.3 169.9 977.7 170.2 963.3 170.6 950.2 171.1 938.3 171.7 927.7 172.5 918.4 173.3 910.5 174.1 904 174.9 899.1 175.4 895.8 175.7 894.5 199.6 764.7" stroke="#bebebe" stroke-width="1.5"/>
<path d="M169.4 1140.1 169.4 1116.1 169.5 1093.2 169.5 1071.4 169.5 1050.8 169.6 1031.2 169.6 1012.9 169.8 995.7 170 979.8 170.3 965 170.7 951.6 171.2 939.4 171.9 928.5 172.7 919 173.5 910.9 174.4 904.3 175.1 899.2 175.7 895.9 176 894.5 200.4 764.7" stroke="#bebebe" stroke-width="1.5"/>
<path d="M169.2 1188.3 169.2 1159.6 169.2 1132.1 169.2 1106.1 169.2 1081.4 169.2 1058 169.3 1036.1 169.4 1015.6 169.5 996.5 169.7 978.9 170.1 962.7 170.6 948.2 171.2 935.2 172.1 923.8 173 914.1 174 906.2 174.9 900.1 175.6 896.1 175.9 894.5 201.2 764.7" stroke="#bebebe" stroke-width="1.5"/>
<path d="M169 1078.7 169 1060.7 169.1 1043.5 169.1 1027.1 169.2 1011.7 169.4 997 169.5 983.3 169.8 970.4 170.1 958.4 170.5 947.4 171 937.3 171.6 928.1 172.3 920 173.1 912.9 173.9 906.8 174.6 901.8 175.3 898 175.8 895.5 176 894.5 202 764.7" stroke="#bebebe" stroke-width="1.5"/>
<path d="M169.3 1135 169.3 1111.4 169.3 1089 169.3 1067.7 169.4 1047.5 169.4 1028.4 169.5 1010.4 169.7 993.6 169.9 978 170.3 963.6 170.7 950.4 171.3 938.4 172 927.8 172.8 918.5 173.7 910.5 174.7 904.1 175.5 899.1 176.1 895.8 176.4 894.5 202.8 764.7" stroke="#bebebe" stroke-width="1.5"/>
<path d="M169.4 1103.5 169.5 1083 169.5 1063.5 169.5 1045 169.6 1027.4 169.7 1010.8 169.8 995.2 170 980.6 170.3 967 170.7 954.5 171.2 943 171.8 932.7 172.6 923.4 173.4 915.3 174.3 908.4 175.1 902.8 175.9 898.5 176.4 895.6 176.6 894.5 203.7 764.7" stroke="#bebebe" stroke-width="1.5"/>
<path d="M169.4 1058 169.5 1042 169.5 1026.8 169.6 1012.3 169.7 998.5 169.9 985.5 170.1 973.3 170.4 961.9 170.8 951.3 171.3 941.5 171.8 932.5 172.5 924.4 173.2 917.1 174 910.8 174.8 905.4 175.5 901 176.1 897.6 176.6 895.4 176.8 894.5 204.5 764.7" stroke="#bebebe" stroke-width="1.5"/>
<path d="M169.4 1150.9 169.4 1125.8 169.4 1101.9 169.4 1079.1 169.5 1057.6 169.5 1037.2 169.6 1018.1 169.8 1000.2 170 983.5 170.3 968.1 170.8 954.1 171.4 941.3 172.1 930 173 920.1 174 911.6 175 904.7 176 899.4 176.7 895.9 177 894.5 205.3 764.7" stroke="#bebebe" stroke-width="1.5"/>
<path d="M169.4 1073.8 169.4 1056.3 169.5 1039.6 169.6 1023.7 169.7 1008.6 169.8 994.3 170 980.9 170.3 968.4 170.7 956.8 171.1 946 171.7 936.2 172.4 927.3 173.2 919.3 174 912.4 174.9 906.5 175.7 901.6 176.4 897.9 176.9 895.5 177.1 894.5 206.1 764.7" stroke="#bebebe" stroke-width="1.5"/>
<path d="M169.3 1167.8 169.3 1141.1 169.3 1115.6 169.3 1091.3 169.3 1068.3 169.3 1046.6 169.4 1026.2 169.6 1007.1 169.8 989.4 170.1 973 170.5 958 171.1 944.4 171.9 932.3 172.9 921.7 173.9 912.7 175.1 905.4 176.1 899.7 176.9 896 177.2 894.5 206.9 764.7" stroke="#bebebe" stroke-width="1.5"/>
<path d="M169.4 1101.6 169.4 1081.4 169.4 1062.1 169.5 1043.7 169.6 1026.3 169.7 1009.8 169.8 994.3 170.1 979.9 170.4 966.4 170.8 954 171.4 942.6 172.1 932.3 172.9 923.2 173.8 915.1 174.8 908.3 175.8 902.7 176.6 898.5 177.2 895.6 177.5 894.5 207.7 764.7" stroke="#bebebe" stroke-width="1.5"/>
<path d="M169.1 1169.8 169.1 1142.9 169.1 1117.2 169.2 1092.8 169.2 1069.6 169.2 1047.7 169.3 1027.2 169.4 1007.9 169.7 990.1 170 973.6 170.4 958.5 171.1 944.8 171.9 932.6 172.9 921.9 174 912.9 175.2 905.4 176.3 899.8 177.1 896 177.4 894.5 208.5 764.7" stroke="#bebebe" stroke-width="1.5"/>
<path d="M168.9 1166.6 168.9 1140 168.9 1114.6 168.9 1090.4 168.9 1067.6 169 1045.9 169.1 1025.6 169.2 1006.6 169.4 988.9 169.8 972.6 170.2 957.7 170.9 944.2 171.7 932.2 172.8 921.6 173.9 912.7 175.1 905.3 176.2 899.7 177 896 177.4 894.5 209.4 764.7" stroke="#bebebe" stroke-width="1.5"/>
<path d="M169.3 1096.7 169.3 1077 169.4 1058.1 169.4 1040.2 169.5 1023.2 169.6 1007.1 169.8 992 170.1 977.8 170.4 964.7 170.9 952.6 171.5 941.5 172.3 931.4 173.1 922.5 174.1 914.7 175.1 908 176.1 902.5 177 898.4 177.6 895.6 177.9 894.5 210.2 764.7" stroke="#bebebe" stroke-width="1.5"/>
<path d="M169.2 1169.9 169.2 1143 169.2 1117.3 169.3 1092.9 169.3 1069.7 169.3 1047.8 169.4 1027.2 169.6 1008 169.8 990.1 170.1 973.6 170.6 958.5 171.3 944.8 172.2 932.6 173.2 922 174.4 912.9 175.7 905.4 176.8 899.8 177.7 896 178 894.5 211 764.7" stroke="#bebebe" stroke-width="1.5"/>
<path d="M168.7 1061.9 168.7 1045.5 168.8 1029.9 168.9 1015.1 169 1001 169.2 987.7 169.5 975.2 169.9 963.5 170.3 952.6 170.9 942.6 171.6 933.4 172.4 925.1 173.3 917.7 174.2 911.2 175.2 905.7 176.1 901.2 176.9 897.7 177.5 895.4 177.7 894.5 211.8 764.7" stroke="#bebebe" stroke-width="1.5"/>
<path d="M169.4 1071.8 169.4 1054.5 169.5 1037.9 169.5 1022.2 169.7 1007.3 169.8 993.2 170.1 980 170.4 967.6 170.9 956.1 171.4 945.4 172.1 935.7 172.9 926.9 173.8 919 174.8 912.2 175.8 906.3 176.8 901.5 177.6 897.9 178.2 895.5 178.4 894.5 212.6 764.7" stroke="#bebebe" stroke-width="1.5"/>
<path d="M169.3 1106.9 169.3 1086.1 169.3 1066.3 169.4 1047.5 169.5 1029.6 169.6 1012.7 169.8 996.9 170 982 170.4 968.2 170.9 955.5 171.5 943.8 172.3 933.3 173.3 923.9 174.3 915.7 175.5 908.7 176.6 902.9 177.6 898.6 178.3 895.7 178.6 894.5 213.4 764.7" stroke="#bebebe" stroke-width="1.5"/>
<path d="M169.1 1075.8 169.1 1058.1 169.2 1041.2 169.2 1025.1 169.4 1009.8 169.5 995.4 169.8 981.9 170.1 969.2 170.6 957.4 171.2 946.6 171.9 936.6 172.7 927.6 173.7 919.6 174.7 912.6 175.8 906.6 176.8 901.7 177.7 898 178.3 895.5 178.6 894.5 214.2 764.7" stroke="#bebebe" stroke-width="1.5"/>
<path d="M169.4 1097.3 169.4 1077.4 169.5 1058.5 169.5 1040.5 169.6 1023.5 169.7 1007.4 169.9 992.2 170.2 978.1 170.6 964.9 171.2 952.7 171.8 941.6 172.7 931.5 173.7 922.6 174.8 914.7 175.9 908 177 902.6 178 898.4 178.7 895.6 179 894.5 215.1 764.7" stroke="#bebebe" stroke-width="1.5"/>
<path d="M169.2 1119.1 169.2 1097.1 169.2 1076.2 169.3 1056.3 169.3 1037.4 169.4 1019.5 169.6 1002.8 169.9 987.1 170.2 972.5 170.7 959 171.4 946.7 172.2 935.5 173.2 925.6 174.3 916.9 175.6 909.5 176.8 903.4 177.9 898.8 178.7 895.7 179 894.5 215.9 764.7" stroke="#bebebe" stroke-width="1.5"/>
<path d="M168.5 1138.4 168.5 1114.6 168.5 1091.8 168.6 1070.2 168.6 1049.7 168.7 1030.3 168.9 1012.1 169.1 995 169.4 979.2 169.9 964.5 170.5 951.2 171.3 939.1 172.4 928.3 173.6 918.8 174.9 910.8 176.2 904.2 177.4 899.2 178.3 895.8 178.7 894.5 216.7 764.7" stroke="#bebebe" stroke-width="1.5"/>
<path d="M169.1 1127 169.1 1104.2 169.1 1082.6 169.1 1061.9 169.2 1042.4 169.3 1023.9 169.5 1006.5 169.7 990.3 170 975.2 170.5 961.3 171.2 948.5 172.1 937 173.1 926.7 174.3 917.7 175.6 910 176.9 903.7 178 899 178.9 895.8 179.3 894.5 217.5 764.7" stroke="#bebebe" stroke-width="1.5"/>
<path d="M169 1051.5 169.1 1036.1 169.1 1021.5 169.3 1007.6 169.5 994.3 169.7 981.9 170.1 970.2 170.5 959.2 171 949 171.7 939.6 172.5 931 173.4 923.2 174.5 916.2 175.5 910.1 176.6 905 177.6 900.7 178.4 897.5 179 895.4 179.3 894.5 218.3 764.7" stroke="#bebebe" stroke-width="1.5"/>
<path d="M168.6 1152.8 168.6 1127.5 168.6 1103.4 168.6 1080.5 168.6 1058.8 168.7 1038.3 168.8 1019 169 1000.9 169.4 984.2 169.8 968.7 170.4 954.5 171.3 941.7 172.4 930.2 173.6 920.2 175 911.7 176.5 904.8 177.8 899.4 178.8 895.9 179.2 894.5 219.1 764.7" stroke="#bebebe" stroke-width="1.5"/>
<path d="M168.6 1155.7 168.6 1130.1 168.6 1105.8 168.6 1082.6 168.7 1060.6 168.7 1039.9 168.9 1020.4 169.1 1002.1 169.4 985.2 169.8 969.5 170.5 955.2 171.3 942.2 172.4 930.7 173.7 920.5 175.1 911.9 176.6 904.9 178 899.5 179 895.9 179.4 894.5 219.9 764.7" stroke="#bebebe" stroke-width="1.5"/>
<path d="M169.2 1094.4 169.2 1074.9 169.2 1056.2 169.3 1038.5 169.4 1021.7 169.6 1005.8 169.8 990.9 170.1 976.9 170.6 963.9 171.2 951.9 172 940.9 172.9 931 174 922.2 175.3 914.4 176.5 907.8 177.8 902.4 178.9 898.3 179.7 895.6 180 894.5 220.8 764.7" stroke="#bebebe" stroke-width="1.5"/>
<path d="M169.3 1129.6 169.3 1106.6 169.3 1084.7 169.4 1063.8 169.4 1044 169.5 1025.4 169.7 1007.8 170 991.4 170.3 976.1 170.9 962 171.6 949.1 172.5 937.4 173.6 927 174.9 917.9 176.3 910.2 177.7 903.8 179 899 179.9 895.8 180.3 894.5 221.6 764.7" stroke="#bebebe" stroke-width="1.5"/>
<path d="M169.4 1052.8 169.5 1037.3 169.6 1022.5 169.7 1008.5 169.9 995.2 170.2 982.6 170.5 970.8 171 959.7 171.6 949.4 172.3 939.9 173.2 931.3 174.2 923.4 175.3 916.4 176.4 910.3 177.6 905.1 178.6 900.8 179.6 897.5 180.2 895.4 180.5 894.5 222.4 764.7" stroke="#bebebe" stroke-width="1.5"/>
<path d="M169.3 1063.2 169.4 1046.7 169.4 1031 169.6 1016 169.7 1001.8 170 988.4 170.3 975.8 170.8 964 171.3 953.1 172 943 172.9 933.7 173.9 925.3 175 917.9 176.2 911.3 177.5 905.8 178.6 901.2 179.6 897.7 180.3 895.4 180.6 894.5 223.2 764.7" stroke="#bebebe" stroke-width="1.5"/>
<path d="M169.3 1051.3 169.3 1036 169.4 1021.4 169.6 1007.5 169.8 994.3 170.1 981.8 170.4 970.1 170.9 959.1 171.5 948.9 172.3 939.5 173.2 930.9 174.2 923.1 175.3 916.2 176.5 910.1 177.7 905 178.8 900.7 179.7 897.5 180.4 895.4 180.7 894.5 224 764.7" stroke="#bebebe" stroke-width="1.5"/>
<path d="M169.4 1061.9 169.5 1045.6 169.6 1029.9 169.7 1015.1 169.9 1001 170.1 987.7 170.5 975.2 170.9 963.5 171.5 952.6 172.3 942.6 173.1 933.4 174.2 925.1 175.3 917.7 176.6 911.2 177.8 905.7 179 901.2 180 897.7 180.7 895.4 181 894.5 224.8 764.7" stroke="#bebebe" stroke-width="1.5"/>
<path d="M169.3 1089.4 169.3 1070.4 169.4 1052.2 169.5 1034.9 169.6 1018.5 169.8 1003 170.1 988.5 170.4 974.8 171 962.2 171.6 950.5 172.5 939.8 173.5 930.1 174.7 921.5 176.1 913.9 177.4 907.5 178.8 902.2 179.9 898.2 180.8 895.6 181.2 894.5 225.6 764.7" stroke="#bebebe" stroke-width="1.5"/>
<path d="M169.3 1168.3 169.3 1141.5 169.3 1116 169.3 1091.7 169.4 1068.7 169.5 1046.9 169.6 1026.5 169.8 1007.3 170.1 989.5 170.6 973.1 171.2 958.1 172.2 944.5 173.3 932.4 174.8 921.8 176.4 912.8 178.1 905.4 179.7 899.7 180.8 896 181.4 894.5 226.5 764.7" stroke="#bebebe" stroke-width="1.5"/>
<path d="M168.9 1061.6 169 1045.3 169.1 1029.7 169.2 1014.9 169.4 1000.8 169.7 987.5 170 975 170.5 963.4 171.1 952.5 171.9 942.5 172.9 933.3 173.9 925 175.2 917.6 176.5 911.2 177.8 905.6 179 901.1 180.1 897.7 180.8 895.4 181.2 894.5 227.3 764.7" stroke="#bebebe" stroke-width="1.5"/>
<path d="M169.2 1087.2 169.2 1068.3 169.3 1050.4 169.4 1033.3 169.5 1017.1 169.7 1001.8 170 987.4 170.4 973.9 171 961.4 171.7 949.8 172.6 939.3 173.7 929.7 174.9 921.2 176.3 913.7 177.7 907.4 179.1 902.2 180.3 898.2 181.2 895.6 181.6 894.5 228.1 764.7" stroke="#bebebe" stroke-width="1.5"/>
<path d="M169.2 1058.7 169.2 1042.6 169.3 1027.3 169.5 1012.7 169.7 998.9 170 985.9 170.4 973.6 170.9 962.2 171.5 951.5 172.3 941.6 173.3 932.6 174.4 924.5 175.6 917.2 176.9 910.9 178.3 905.5 179.5 901 180.6 897.6 181.4 895.4 181.7 894.5 228.9 764.7" stroke="#bebebe" stroke-width="1.5"/>
<path d="M168.4 1188.3 168.4 1159.6 168.4 1132.1 168.5 1106.1 168.5 1081.4 168.5 1058 168.6 1036.1 168.8 1015.6 169.1 996.5 169.6 978.9 170.2 962.7 171.2 948.2 172.4 935.2 174 923.8 175.8 914.1 177.7 906.2 179.4 900.1 180.8 896.1 181.4 894.5 229.7 764.7" stroke="#bebebe" stroke-width="1.5"/>
<path d="M169 1106.7 169 1086 169 1066.2 169.1 1047.3 169.2 1029.5 169.4 1012.6 169.6 996.8 170 982 170.5 968.2 171.2 955.4 172.1 943.8 173.2 933.3 174.5 923.9 176 915.7 177.6 908.7 179.1 902.9 180.5 898.6 181.5 895.7 181.9 894.5 230.5 764.7" stroke="#bebebe" stroke-width="1.5"/>
<path d="M169.4 1056.4 169.4 1040.6 169.5 1025.5 169.7 1011.1 169.9 997.5 170.2 984.6 170.6 972.5 171.2 961.2 171.8 950.7 172.7 941 173.7 932.1 174.8 924.1 176.1 916.9 177.5 910.6 178.8 905.3 180.1 900.9 181.2 897.6 182 895.4 182.3 894.5 231.3 764.7" stroke="#bebebe" stroke-width="1.5"/>
<path d="M169.1 1076.1 169.2 1058.3 169.2 1041.4 169.4 1025.3 169.5 1010 169.8 995.6 170.1 982 170.6 969.3 171.2 957.5 172 946.6 173 936.7 174.2 927.7 175.5 919.6 177 912.6 178.4 906.6 179.9 901.7 181.1 898 182 895.5 182.4 894.5 232.1 764.7" stroke="#bebebe" stroke-width="1.5"/>
<path d="M168.5 1063.1 168.6 1046.6 168.7 1030.9 168.8 1016 169 1001.8 169.3 988.4 169.7 975.8 170.2 964 170.9 953 171.8 942.9 172.8 933.7 174 925.3 175.3 917.8 176.8 911.3 178.2 905.7 179.6 901.2 180.8 897.7 181.7 895.4 182 894.5 233 764.7" stroke="#bebebe" stroke-width="1.5"/>
<path d="M169.3 1181.1 169.3 1153.1 169.3 1126.4 169.3 1100.9 169.3 1076.8 169.4 1054.1 169.5 1032.6 169.7 1012.6 170 994 170.5 976.8 171.3 961.1 172.3 946.9 173.6 934.2 175.2 923.1 177.1 913.6 179.1 905.9 180.9 900 182.3 896.1 182.9 894.5 233.8 764.7" stroke="#bebebe" stroke-width="1.5"/>
<path d="M169 1061.4 169 1045.1 169.1 1029.5 169.3 1014.7 169.5 1000.7 169.8 987.4 170.2 974.9 170.7 963.3 171.4 952.4 172.3 942.4 173.4 933.3 174.6 925 176 917.6 177.4 911.1 178.9 905.6 180.3 901.1 181.5 897.7 182.3 895.4 182.7 894.5 234.6 764.7" stroke="#bebebe" stroke-width="1.5"/>
<path d="M169 1049 169.1 1033.9 169.2 1019.5 169.4 1005.8 169.6 992.8 170 980.5 170.5 969 171.1 958.2 171.8 948.2 172.7 938.9 173.8 930.4 175 922.7 176.4 915.9 177.8 909.9 179.2 904.8 180.6 900.6 181.7 897.5 182.5 895.4 182.9 894.5 235.4 764.7" stroke="#bebebe" stroke-width="1.5"/>
<path d="M168.8 1185.8 168.8 1157.3 168.8 1130.1 168.9 1104.3 168.9 1079.8 169 1056.7 169.1 1034.9 169.3 1014.5 169.6 995.6 170.1 978.2 170.8 962.2 171.9 947.7 173.3 934.8 175 923.5 176.9 913.9 179 906.1 180.9 900.1 182.4 896.1 183 894.5 236.2 764.7" stroke="#bebebe" stroke-width="1.5"/>
<path d="M168.3 1139.3 168.3 1115.4 168.3 1092.5 168.3 1070.8 168.4 1050.2 168.5 1030.8 168.7 1012.5 169 995.4 169.5 979.5 170.2 964.8 171.1 951.4 172.2 939.2 173.7 928.4 175.4 918.9 177.3 910.8 179.2 904.2 180.9 899.2 182.2 895.8 182.8 894.5 237 764.7" stroke="#bebebe" stroke-width="1.5"/>
<path d="M169.1 1089.9 169.2 1070.8 169.2 1052.5 169.3 1035.2 169.5 1018.8 169.7 1003.3 170 988.7 170.5 975 171.1 962.3 172 950.6 173 939.9 174.3 930.2 175.7 921.5 177.4 914 179 907.5 180.7 902.3 182.1 898.2 183.1 895.6 183.6 894.5 237.8 764.7" stroke="#bebebe" stroke-width="1.5"/>
<path d="M169.2 1151.5 169.2 1126.3 169.2 1102.4 169.2 1079.6 169.3 1058 169.4 1037.5 169.6 1018.4 169.8 1000.4 170.3 983.7 170.9 968.3 171.8 954.2 172.9 941.4 174.4 930.1 176.2 920.1 178.1 911.6 180.1 904.7 181.9 899.4 183.2 895.9 183.8 894.5 238.7 764.7" stroke="#bebebe" stroke-width="1.5"/>
<path d="M168.8 1152.6 168.8 1127.4 168.8 1103.3 168.8 1080.4 168.9 1058.7 169 1038.2 169.2 1018.9 169.5 1000.9 169.9 984.1 170.5 968.6 171.4 954.5 172.6 941.7 174.1 930.2 175.9 920.2 177.9 911.7 179.9 904.8 181.7 899.4 183.1 895.9 183.7 894.5 239.5 764.7" stroke="#bebebe" stroke-width="1.5"/>
<path d="M169.1 1070.7 169.2 1053.5 169.2 1037 169.4 1021.4 169.6 1006.6 169.9 992.6 170.3 979.4 170.9 967.1 171.6 955.7 172.5 945.1 173.6 935.4 174.9 926.7 176.4 918.9 178.1 912.1 179.7 906.3 181.3 901.5 182.6 897.9 183.6 895.5 184 894.5 240.3 764.7" stroke="#bebebe" stroke-width="1.5"/>
<path d="M168.3 1186.9 168.3 1158.3 168.3 1131 168.3 1105.1 168.4 1080.5 168.4 1057.3 168.5 1035.4 168.8 1015 169.1 996 169.6 978.5 170.4 962.4 171.6 947.9 173.1 935 174.9 923.6 177 914 179.3 906.1 181.4 900.1 182.9 896.1 183.6 894.5 241.1 764.7" stroke="#bebebe" stroke-width="1.5"/>
<path d="M168.2 1157 168.2 1131.4 168.2 1106.9 168.2 1083.6 168.3 1061.5 168.4 1040.6 168.6 1021 168.9 1002.7 169.3 985.6 169.9 969.9 170.9 955.5 172.1 942.5 173.6 930.8 175.5 920.7 177.6 912 179.7 904.9 181.6 899.5 183.1 895.9 183.7 894.5 241.9 764.7" stroke="#bebebe" stroke-width="1.5"/>
<path d="M168.2 1146.3 168.3 1121.7 168.3 1098.2 168.3 1075.8 168.4 1054.7 168.5 1034.7 168.7 1015.9 169 998.3 169.5 981.9 170.2 966.8 171.1 953 172.4 940.5 174 929.4 175.9 919.6 177.9 911.3 180 904.5 181.9 899.3 183.3 895.9 184 894.5 242.7 764.7" stroke="#bebebe" stroke-width="1.5"/>
<path d="M169.1 1111.7 169.1 1090.5 169.2 1070.2 169.2 1051 169.4 1032.7 169.5 1015.4 169.8 999.2 170.3 984 170.9 969.9 171.7 956.9 172.7 945 174.1 934.2 175.7 924.6 177.5 916.2 179.4 909 181.3 903.1 183 898.7 184.2 895.7 184.8 894.5 243.5 764.7" stroke="#bebebe" stroke-width="1.5"/>
<path d="M169.1 1049.2 169.2 1034.1 169.4 1019.7 169.6 1005.9 169.9 992.9 170.3 980.6 170.8 969.1 171.5 958.3 172.3 948.2 173.4 938.9 174.6 930.4 176 922.8 177.5 915.9 179.1 909.9 180.8 904.8 182.3 900.6 183.5 897.5 184.5 895.4 184.8 894.5 244.4 764.7" stroke="#bebebe" stroke-width="1.5"/>
<path d="M169.3 1078 169.3 1060 169.4 1042.9 169.6 1026.7 169.8 1011.2 170 996.6 170.5 982.9 171 970.1 171.8 958.2 172.7 947.2 173.9 937.1 175.3 928 176.9 919.9 178.7 912.8 180.5 906.7 182.2 901.8 183.7 898 184.8 895.5 185.2 894.5 245.2 764.7" stroke="#bebebe" stroke-width="1.5"/>
<path d="M169 1138.7 169 1114.8 169.1 1092.1 169.1 1070.4 169.2 1049.9 169.3 1030.5 169.6 1012.2 169.9 995.1 170.4 979.3 171.2 964.6 172.2 951.2 173.5 939.1 175.1 928.3 177.1 918.8 179.2 910.8 181.3 904.2 183.2 899.2 184.6 895.8 185.3 894.5 246 764.7" stroke="#bebebe" stroke-width="1.5"/>
<path d="M167.8 1101.3 167.9 1081.1 167.9 1061.8 168 1043.5 168.2 1026.1 168.4 1009.6 168.7 994.2 169.2 979.7 169.9 966.3 170.8 953.9 172 942.6 173.4 932.3 175.1 923.1 177 915.1 179 908.3 181 902.7 182.7 898.5 183.9 895.6 184.5 894.5 246.8 764.7" stroke="#bebebe" stroke-width="1.5"/>
<path d="M167.8 1187.4 167.8 1158.8 167.9 1131.5 167.9 1105.5 167.9 1080.8 168 1057.6 168.1 1035.7 168.4 1015.2 168.7 996.2 169.3 978.6 170.2 962.5 171.4 948 173.1 935 175.1 923.7 177.4 914 179.9 906.1 182.2 900.1 183.9 896.1 184.7 894.5 247.6 764.7" stroke="#bebebe" stroke-width="1.5"/>
<path d="M167.8 1089.6 167.9 1070.5 167.9 1052.3 168.1 1035 168.2 1018.6 168.5 1003.1 168.9 988.5 169.4 974.9 170.2 962.2 171.2 950.5 172.4 939.8 173.9 930.1 175.6 921.5 177.5 913.9 179.5 907.5 181.4 902.3 183 898.2 184.3 895.6 184.8 894.5 248.4 764.7" stroke="#bebebe" stroke-width="1.5"/>
<path d="M169.1 1071.2 169.2 1053.9 169.3 1037.4 169.5 1021.7 169.7 1006.9 170 992.8 170.5 979.7 171.1 967.3 171.9 955.8 173 945.2 174.2 935.5 175.7 926.8 177.4 919 179.2 912.1 181.1 906.3 182.9 901.5 184.4 897.9 185.5 895.5 186 894.5 249.2 764.7" stroke="#bebebe" stroke-width="1.5"/>
<path d="M169.2 1068.3 169.2 1051.3 169.3 1035.1 169.5 1019.7 169.8 1005.1 170.1 991.3 170.6 978.3 171.2 966.1 172 954.8 173.1 944.4 174.4 934.9 175.9 926.3 177.6 918.6 179.4 911.8 181.3 906.1 183.1 901.4 184.6 897.8 185.7 895.5 186.1 894.5 250.1 764.7" stroke="#bebebe" stroke-width="1.5"/>
<path d="M168.5 1172.6 168.5 1145.4 168.5 1119.5 168.5 1094.8 168.6 1071.4 168.7 1049.3 168.9 1028.5 169.1 1009.1 169.6 991 170.2 974.4 171.2 959.1 172.5 945.3 174.2 933 176.3 922.2 178.7 913.1 181.1 905.6 183.4 899.8 185.1 896 185.9 894.5 250.9 764.7" stroke="#bebebe" stroke-width="1.5"/>
<path d="M168.1 1106.1 168.1 1085.4 168.1 1065.6 168.2 1046.9 168.4 1029.1 168.6 1012.3 168.9 996.5 169.4 981.7 170.1 967.9 171.1 955.3 172.3 943.6 173.8 933.1 175.6 923.8 177.6 915.6 179.8 908.6 181.9 902.9 183.7 898.6 185.1 895.7 185.7 894.5 251.7 764.7" stroke="#bebebe" stroke-width="1.5"/>
<path d="M168.4 1156 168.4 1130.4 168.5 1106 168.5 1082.8 168.6 1060.8 168.7 1040.1 168.9 1020.5 169.2 1002.3 169.7 985.3 170.4 969.6 171.5 955.2 172.9 942.3 174.7 930.7 176.8 920.6 179.1 911.9 181.6 904.9 183.8 899.5 185.4 895.9 186.2 894.5 252.5 764.7" stroke="#bebebe" stroke-width="1.5"/>
<path d="M169.1 1133.7 169.2 1110.3 169.2 1088 169.2 1066.8 169.3 1046.6 169.5 1027.6 169.8 1009.8 170.2 993.1 170.7 977.5 171.6 963.2 172.7 950.1 174.2 938.2 176 927.6 178.1 918.3 180.3 910.5 182.6 904 184.7 899.1 186.2 895.8 186.9 894.5 253.3 764.7" stroke="#bebebe" stroke-width="1.5"/>
<path d="M167.8 1153.1 167.8 1127.9 167.8 1103.7 167.9 1080.8 167.9 1059 168.1 1038.5 168.3 1019.2 168.6 1001.1 169.1 984.3 169.9 968.8 171 954.6 172.4 941.7 174.3 930.3 176.4 920.3 178.9 911.8 181.3 904.8 183.6 899.5 185.3 895.9 186 894.5 254.1 764.7" stroke="#bebebe" stroke-width="1.5"/>
<path d="M168.2 1105.9 168.2 1085.2 168.3 1065.5 168.4 1046.7 168.6 1028.9 168.8 1012.2 169.1 996.4 169.7 981.6 170.4 967.9 171.4 955.2 172.6 943.6 174.2 933.1 176.1 923.8 178.1 915.6 180.4 908.6 182.5 902.9 184.5 898.5 185.9 895.7 186.5 894.5 254.9 764.7" stroke="#bebebe" stroke-width="1.5"/>
<path d="M169 1154.3 169 1128.9 169.1 1104.6 169.1 1081.6 169.2 1059.7 169.3 1039.1 169.5 1019.7 169.9 1001.5 170.4 984.7 171.2 969.1 172.2 954.8 173.7 942 175.5 930.5 177.7 920.4 180.1 911.8 182.6 904.8 184.9 899.5 186.6 895.9 187.3 894.5 255.8 764.7" stroke="#bebebe" stroke-width="1.5"/>
<path d="M168.9 1156.2 168.9 1130.6 168.9 1106.2 168.9 1083 169 1060.9 169.1 1040.2 169.3 1020.6 169.7 1002.3 170.2 985.3 171 969.6 172.1 955.3 173.5 942.3 175.4 930.7 177.6 920.6 180 912 182.6 904.9 184.9 899.5 186.6 895.9 187.4 894.5 256.6 764.7" stroke="#bebebe" stroke-width="1.5"/>
<path d="M167.6 1094 167.6 1074.5 167.7 1055.9 167.8 1038.2 168 1021.4 168.3 1005.5 168.7 990.6 169.3 976.7 170.1 963.7 171.1 951.8 172.5 940.8 174.1 930.9 176.1 922.1 178.2 914.4 180.4 907.8 182.6 902.4 184.5 898.3 185.9 895.6 186.5 894.5 257.4 764.7" stroke="#bebebe" stroke-width="1.5"/>
<path d="M168.6 1180.4 168.6 1152.5 168.6 1125.8 168.7 1100.4 168.7 1076.4 168.8 1053.7 169 1032.3 169.3 1012.3 169.9 993.8 170.7 976.6 171.8 960.9 173.5 946.7 175.6 934.1 178.2 923 181.2 913.6 184.4 905.9 187.3 900 189.5 896.1 190.5 894.5 272.3 764.7" stroke="#bebebe" stroke-width="1.5"/>
<path d="M168.1 1064.1 168.2 1047.6 168.4 1031.7 168.6 1016.7 168.9 1002.4 169.4 988.9 170 976.3 170.9 964.4 172 953.4 173.4 943.2 175.1 933.9 177.1 925.5 179.3 918 181.7 911.4 184.1 905.8 186.3 901.2 188.3 897.8 189.7 895.4 190.3 894.5 273.9 764.7" stroke="#bebebe" stroke-width="1.5"/>
<path d="M169.1 1061.9 169.2 1045.5 169.4 1029.9 169.6 1015.1 170 1001 170.5 987.7 171.1 975.2 172 963.5 173.2 952.6 174.6 942.6 176.3 933.4 178.3 925.1 180.5 917.7 182.9 911.2 185.3 905.7 187.5 901.2 189.5 897.7 190.9 895.4 191.5 894.5 275.6 764.7" stroke="#bebebe" stroke-width="1.5"/>
<path d="M167.3 1157.1 167.3 1131.4 167.3 1106.9 167.4 1083.6 167.5 1061.5 167.6 1040.7 167.9 1021.1 168.3 1002.7 169 985.7 169.9 969.9 171.3 955.5 173.1 942.5 175.4 930.8 178.2 920.7 181.3 912 184.5 904.9 187.4 899.5 189.5 895.9 190.5 894.5 277.3 764.7" stroke="#bebebe" stroke-width="1.5"/>
<path d="M168.9 1160.4 168.9 1134.4 169 1109.6 169 1086 169.1 1063.6 169.2 1042.5 169.5 1022.6 169.9 1004.1 170.5 986.8 171.5 970.9 172.8 956.3 174.6 943.1 176.9 931.3 179.7 921 182.8 912.2 186 905.1 189 899.6 191.2 896 192.1 894.5 279 764.7" stroke="#bebebe" stroke-width="1.5"/>
<path d="M166.9 1133.2 167 1109.8 167 1087.6 167.1 1066.4 167.2 1046.3 167.4 1027.4 167.8 1009.5 168.3 992.9 169.1 977.3 170.2 963 171.8 949.9 173.7 938.1 176.2 927.5 179 918.3 182.1 910.4 185.2 904 187.9 899.1 190 895.8 190.9 894.5 280.6 764.7" stroke="#bebebe" stroke-width="1.5"/>
<path d="M168.6 1116.4 168.7 1094.7 168.7 1074 168.8 1054.3 169 1035.7 169.3 1018 169.7 1001.5 170.3 986 171.2 971.5 172.4 958.2 174 946.1 176.1 935 178.5 925.2 181.3 916.6 184.3 909.3 187.2 903.3 189.8 898.8 191.8 895.7 192.6 894.5 282.2 764.7" stroke="#bebebe" stroke-width="1.5"/>
<path d="M169.2 1048 169.3 1033 169.6 1018.7 169.9 1005.1 170.3 992.2 171 980 171.8 968.5 172.8 957.8 174.1 947.8 175.7 938.6 177.5 930.2 179.7 922.5 182 915.8 184.5 909.8 186.9 904.7 189.2 900.6 191.1 897.4 192.5 895.3 193.1 894.5 283.6 764.7" stroke="#bebebe" stroke-width="1.5"/>
<path d="M168.2 1113.9 168.2 1092.4 168.3 1072 168.4 1052.5 168.6 1034 169 1016.6 169.5 1000.2 170.2 984.9 171.2 970.7 172.6 957.5 174.5 945.5 176.8 934.6 179.7 924.9 182.8 916.4 186.3 909.1 189.6 903.2 192.6 898.7 194.8 895.7 195.8 894.5 299 764.7" stroke="#bebebe" stroke-width="1.5"/>
<path d="M168.4 1048.4 168.6 1033.3 168.8 1019 169.2 1005.3 169.7 992.4 170.4 980.2 171.4 968.7 172.6 957.9 174.1 947.9 175.9 938.7 178.1 930.2 180.6 922.6 183.3 915.8 186.1 909.8 189 904.8 191.6 900.6 193.9 897.4 195.5 895.3 196.2 894.5 301.4 764.7" stroke="#bebebe" stroke-width="1.5"/>
<path d="M168.4 1065.7 168.6 1049 168.8 1033 169 1017.8 169.5 1003.4 170.1 989.8 170.9 977 172 965.1 173.4 953.9 175.2 943.7 177.3 934.3 179.9 925.8 182.7 918.2 185.8 911.6 188.9 905.9 191.8 901.3 194.3 897.8 196.1 895.4 196.9 894.5 304.1 764.7" stroke="#bebebe" stroke-width="1.5"/>
<path d="M168.9 1155.9 168.9 1130.3 168.9 1106 169 1082.8 169.1 1060.8 169.3 1040 169.7 1020.5 170.3 1002.2 171.1 985.2 172.4 969.6 174.3 955.2 176.7 942.3 179.8 930.7 183.5 920.6 187.7 911.9 191.9 904.9 195.8 899.5 198.7 895.9 200 894.5 316.3 764.7" stroke="#bebebe" stroke-width="1.5"/>
<path d="M168.6 1105.2 168.6 1084.6 168.7 1064.9 168.9 1046.2 169.2 1028.5 169.7 1011.8 170.4 996 171.4 981.3 172.8 967.6 174.7 955 177.2 943.4 180.3 933 183.9 923.7 188 915.5 192.3 908.6 196.5 902.9 200.2 898.5 203 895.7 204.2 894.5 337.6 764.7" stroke="#bebebe" stroke-width="1.5"/>
<path d="M166.9 1117.6 166.9 1095.8 167 1075 167.2 1055.2 167.4 1036.4 167.9 1018.7 168.5 1002 169.4 986.4 170.8 971.9 172.7 958.6 175.1 946.3 178.3 935.3 182 925.4 186.3 916.7 190.9 909.4 195.5 903.4 199.5 898.8 202.5 895.7 203.8 894.5 342.1 764.7" stroke="#bebebe" stroke-width="1.5"/>
<path d="M168.2 1111.8 168.2 1090.6 168.4 1070.3 168.5 1051 168.8 1032.8 169.3 1015.5 169.9 999.3 170.9 984.1 172.3 969.9 174.3 956.9 176.8 945 179.9 934.2 183.7 924.6 188 916.2 192.5 909 197 903.1 201 898.7 204 895.7 205.2 894.5 343.9 764.7" stroke="#bebebe" stroke-width="1.5"/>
<path d="M167.2 1153.5 167.2 1128.1 167.2 1104 167.3 1081 167.5 1059.2 167.8 1038.7 168.3 1019.3 169.1 1001.2 170.4 984.4 172.2 968.9 174.7 954.7 178.1 941.8 182.4 930.3 187.6 920.3 193.3 911.8 199.1 904.8 204.4 899.5 208.4 895.9 210.1 894.5 371 764.7" stroke="#bebebe" stroke-width="1.5"/>
<path d="M168.1 1118.2 168.1 1096.3 168.3 1075.4 168.5 1055.6 168.9 1036.8 169.6 1019 170.6 1002.3 172 986.7 174.2 972.1 177.1 958.7 181 946.5 185.9 935.4 191.8 925.5 198.5 916.8 205.8 909.4 213 903.4 219.4 898.8 224.1 895.7 226.1 894.5 443.6 764.7" stroke="#bebebe" stroke-width="1.5"/>
<path d="M167.5 1132 167.5 1108.8 167.6 1086.6 167.6 1065.5 167.7 1045.6 167.9 1026.7 168.2 1009 168.6 992.4 169.3 976.9 170.2 962.7 171.4 949.7 173 937.9 174.9 927.4 177.2 918.2 179.6 910.3 182.1 903.9 184.3 899 186 895.8 186.7 894.5 258.5 764.7" stroke="#efb7d2" stroke-width="1.3"/>
<path d="M168.6 1178.2 168.6 1150.5 168.6 1124 168.6 1098.8 168.7 1075 168.8 1052.4 168.9 1031.2 169.2 1011.4 169.7 993 170.4 976 171.4 960.4 172.9 946.3 174.7 933.8 177 922.8 179.7 913.4 182.4 905.8 184.9 899.9 186.9 896.1 187.7 894.5 259.4 764.7" stroke="#efb7d2" stroke-width="1.3"/>
<path d="M168.7 1167.8 168.7 1141.1 168.7 1115.6 168.8 1091.4 168.8 1068.4 168.9 1046.7 169.1 1026.2 169.4 1007.1 169.9 989.4 170.7 973 171.8 958 173.3 944.4 175.2 932.3 177.5 921.7 180.1 912.7 182.8 905.4 185.3 899.7 187.2 896 188 894.5 260.2 764.7" stroke="#efb7d2" stroke-width="1.3"/>
<path d="M168 1069.2 168.1 1052.1 168.2 1035.8 168.4 1020.3 168.7 1005.6 169.1 991.7 169.6 978.7 170.3 966.5 171.3 955.1 172.5 944.7 174 935.1 175.7 926.4 177.7 918.7 179.8 911.9 181.9 906.2 184 901.4 185.7 897.8 187 895.5 187.5 894.5 261.1 764.7" stroke="#efb7d2" stroke-width="1.3"/>
<path d="M169 1079.8 169.1 1061.7 169.2 1044.4 169.3 1027.9 169.6 1012.4 169.9 997.6 170.4 983.8 171.1 970.9 172 958.8 173.1 947.7 174.6 937.5 176.3 928.3 178.3 920.1 180.4 913 182.6 906.9 184.8 901.9 186.6 898 188 895.5 188.5 894.5 261.9 764.7" stroke="#efb7d2" stroke-width="1.3"/>
<path d="M168.9 1122.2 169 1099.9 169 1078.7 169.1 1058.5 169.2 1039.3 169.4 1021.2 169.7 1004.2 170.2 988.3 170.9 973.5 171.9 959.9 173.2 947.4 174.9 936.1 176.9 926 179.2 917.2 181.7 909.7 184.2 903.5 186.4 898.9 188 895.8 188.7 894.5 262.8 764.7" stroke="#efb7d2" stroke-width="1.3"/>
<path d="M168.9 1097.3 169 1077.4 169.1 1058.5 169.2 1040.5 169.4 1023.5 169.7 1007.4 170.1 992.2 170.7 978.1 171.5 964.9 172.6 952.7 174 941.6 175.8 931.5 177.8 922.6 180 914.7 182.4 908 184.7 902.6 186.8 898.4 188.2 895.6 188.9 894.5 263.7 764.7" stroke="#efb7d2" stroke-width="1.3"/>
<path d="M169 1174.2 169 1146.9 169 1120.8 169.1 1096 169.1 1072.4 169.2 1050.2 169.4 1029.3 169.7 1009.8 170.2 991.6 171 974.8 172.1 959.5 173.6 945.6 175.6 933.2 178 922.4 180.8 913.2 183.6 905.6 186.3 899.9 188.3 896 189.2 894.5 264.5 764.7" stroke="#efb7d2" stroke-width="1.3"/>
<path d="M168.8 1102.9 168.8 1082.6 168.9 1063.1 169 1044.6 169.2 1027.1 169.5 1010.5 169.9 995 170.5 980.4 171.3 966.9 172.4 954.4 173.8 942.9 175.6 932.6 177.6 923.4 180 915.3 182.4 908.4 184.8 902.8 186.9 898.5 188.5 895.6 189.1 894.5 265.4 764.7" stroke="#efb7d2" stroke-width="1.3"/>
<path d="M168.4 1173.3 168.4 1146 168.4 1120 168.4 1095.3 168.5 1071.8 168.6 1049.7 168.8 1028.9 169.1 1009.4 169.6 991.3 170.4 974.6 171.6 959.3 173.1 945.4 175.2 933.1 177.6 922.3 180.4 913.1 183.4 905.6 186.1 899.8 188.1 896 189 894.5 266.3 764.7" stroke="#efb7d2" stroke-width="1.3"/>
<path d="M168.6 1175.5 168.7 1148 168.7 1121.8 168.7 1096.9 168.8 1073.3 168.9 1050.9 169.1 1029.9 169.4 1010.3 169.9 992.1 170.7 975.2 171.8 959.8 173.4 945.8 175.4 933.4 177.9 922.5 180.7 913.2 183.7 905.7 186.4 899.9 188.5 896 189.4 894.5 267.1 764.7" stroke="#efb7d2" stroke-width="1.3"/>
<path d="M168.9 1227.6 169 1195.1 169 1164 169 1134.4 169 1106.4 169 1079.9 169.1 1055.1 169.3 1031.8 169.6 1010.1 170.2 990.2 171.1 971.9 172.3 955.4 174.1 940.6 176.5 927.7 179.3 916.7 182.3 907.7 185.3 900.9 187.6 896.3 188.6 894.5 261.9 764.7" stroke="#ee5fa0" stroke-width="1.6"/>
<path d="M169.6 1051.8 169.6 1036.4 169.6 1021.8 169.6 1007.8 169.6 994.6 169.7 982.1 169.7 970.3 169.8 959.3 169.9 949.1 169.9 939.7 170.1 931 170.2 923.2 170.3 916.3 170.5 910.2 170.6 905 170.7 900.8 170.8 897.5 170.9 895.4 171 894.5 176.2 764.7" stroke="#6a6a6a" stroke-width="1.0"/>
<path d="M169.5 1098.2 169.5 1078.3 169.5 1059.3 169.5 1041.2 169.5 1024.1 169.5 1007.9 169.6 992.7 169.6 978.4 169.7 965.2 169.8 953 170 941.8 170.2 931.7 170.4 922.7 170.6 914.8 170.9 908.1 171.1 902.6 171.3 898.4 171.5 895.6 171.6 894.5 179.5 764.7" stroke="#6a6a6a" stroke-width="1.0"/>
<path d="M169.5 1179 169.5 1151.2 169.5 1124.6 169.5 1099.4 169.5 1075.5 169.6 1052.9 169.6 1031.6 169.6 1011.7 169.7 993.3 169.8 976.2 170 960.6 170.2 946.5 170.5 933.9 170.8 922.9 171.3 913.5 171.7 905.8 172.1 900 172.4 896.1 172.5 894.5 183.8 764.7" stroke="#6a6a6a" stroke-width="1.0"/>
<path d="M169.2 1156.3 169.2 1130.7 169.3 1106.3 169.3 1083.1 169.3 1061 169.3 1040.2 169.4 1020.7 169.5 1002.4 169.6 985.4 169.9 969.7 170.2 955.3 170.6 942.3 171.2 930.7 171.8 920.6 172.6 912 173.3 904.9 174 899.5 174.5 895.9 174.8 894.5 195.4 764.7" stroke="#6a6a6a" stroke-width="1.0"/>
<path d="M169.4 1165.3 169.4 1138.8 169.4 1113.5 169.5 1089.5 169.5 1066.7 169.5 1045.2 169.6 1025 169.7 1006.1 169.8 988.5 170.1 972.3 170.4 957.4 170.9 944 171.5 932 172.2 921.5 173 912.6 173.8 905.3 174.6 899.7 175.2 896 175.4 894.5 197.8 764.7" stroke="#6a6a6a" stroke-width="1.0"/>
<path d="M169.4 1166.4 169.4 1139.8 169.4 1114.4 169.4 1090.3 169.5 1067.4 169.5 1045.8 169.6 1025.5 169.7 1006.5 169.9 988.9 170.2 972.6 170.6 957.7 171.2 944.2 171.9 932.1 172.7 921.6 173.7 912.6 174.8 905.3 175.7 899.7 176.4 896 176.7 894.5 204 764.7" stroke="#6a6a6a" stroke-width="1.0"/>
<path d="M168.9 1086 169 1067.3 169 1049.5 169.1 1032.5 169.3 1016.3 169.6 1001.1 169.9 986.8 170.4 973.4 171.1 961 172 949.5 173.1 939 174.5 929.5 176 921 177.7 913.6 179.5 907.3 181.2 902.1 182.7 898.2 183.8 895.6 184.2 894.5 241.8 764.7" stroke="#6a6a6a" stroke-width="1.0"/>
<path d="M168.4 1177 168.4 1149.4 168.4 1123.1 168.4 1098 168.5 1074.2 168.6 1051.8 168.8 1030.7 169.1 1010.9 169.6 992.6 170.4 975.6 171.6 960.1 173.2 946.1 175.3 933.6 177.9 922.7 180.9 913.3 184 905.7 186.8 899.9 189 896.1 189.9 894.5 270.5 764.7" stroke="#6a6a6a" stroke-width="1.0"/>
<path d="M168.9 1059.4 169 1043.3 169.2 1027.9 169.5 1013.3 169.9 999.4 170.4 986.3 171.2 974 172.2 962.5 173.4 951.7 175 941.9 176.8 932.8 179 924.6 181.4 917.3 184 910.9 186.6 905.5 189 901.1 191.1 897.7 192.6 895.4 193.2 894.5 284.9 764.7" stroke="#6a6a6a" stroke-width="1.0"/>
<path d="M169.6 1077.7 169.6 1059.7 169.6 1042.7 169.6 1026.4 169.6 1011 169.6 996.5 169.6 982.8 169.7 970 169.7 958.1 169.7 947.1 169.8 937 169.8 928 169.9 919.9 170 912.8 170.1 906.7 170.1 901.8 170.2 898 170.2 895.5 170.3 894.5 172.9 764.7" stroke="#000" stroke-width="1.2"/>
<path d="M168.9 1110.3 168.9 1089.2 168.9 1069 168.9 1049.9 169 1031.7 169.1 1014.6 169.3 998.5 169.6 983.4 169.9 969.4 170.4 956.5 171.1 944.6 171.9 933.9 172.8 924.4 173.9 916 175 908.9 176.2 903.1 177.2 898.6 177.9 895.7 178.2 894.5 213.4 764.7" stroke="#000" stroke-width="1.2"/>
<path d="M169 1149.5 169.1 1124.6 169.1 1100.8 169.1 1078.2 169.1 1056.7 169.2 1036.5 169.3 1017.4 169.5 999.6 169.8 983 170.2 967.7 170.8 953.7 171.5 941.1 172.5 929.8 173.7 919.9 174.9 911.5 176.2 904.6 177.4 899.4 178.3 895.9 178.6 894.5 214.5 764.7" stroke="#000" stroke-width="1.2"/>
<path d="M168.6 1100.8 168.6 1080.6 168.7 1061.4 168.7 1043.1 168.8 1025.7 169 1009.3 169.2 993.9 169.5 979.5 169.9 966.1 170.4 953.7 171.1 942.4 172 932.2 173 923.1 174.1 915.1 175.3 908.3 176.4 902.7 177.5 898.5 178.2 895.6 178.5 894.5 215.7 764.7" stroke="#000" stroke-width="1.2"/>
<path d="M169 1109.9 169 1088.9 169 1068.8 169.1 1049.7 169.1 1031.5 169.3 1014.4 169.5 998.3 169.8 983.3 170.2 969.3 170.7 956.4 171.4 944.5 172.3 933.9 173.4 924.3 174.6 916 175.9 908.9 177.2 903.1 178.3 898.6 179.1 895.7 179.5 894.5 218.8 764.7" stroke="#000" stroke-width="1.2"/>
<path d="M169 1138.8 169 1114.9 169.1 1092.1 169.1 1070.4 169.1 1049.9 169.2 1030.5 169.4 1012.2 169.6 995.2 170 979.3 170.5 964.6 171.1 951.2 172 939.1 173.1 928.3 174.4 918.9 175.8 910.8 177.3 904.2 178.6 899.2 179.5 895.8 179.9 894.5 220.8 764.7" stroke="#000" stroke-width="1.2"/>
<path d="M169.1 1114.1 169.1 1092.6 169.1 1072.1 169.2 1052.7 169.3 1034.2 169.4 1016.7 169.6 1000.3 169.9 985 170.3 970.7 170.9 957.6 171.6 945.5 172.6 934.6 173.7 924.9 175 916.4 176.4 909.1 177.7 903.2 178.9 898.7 179.8 895.7 180.2 894.5 222 764.7" stroke="#000" stroke-width="1.2"/>
<path d="M169 1179.5 169 1151.7 169 1125.1 169 1099.8 169.1 1075.8 169.1 1053.2 169.2 1031.9 169.4 1012 169.7 993.4 170.1 976.4 170.7 960.7 171.6 946.6 172.7 934 174.1 922.9 175.6 913.5 177.3 905.8 178.8 900 180 896.1 180.5 894.5 223.2 764.7" stroke="#000" stroke-width="1.2"/>
<path d="M168.8 1168.6 168.8 1141.8 168.8 1116.3 168.8 1091.9 168.8 1068.9 168.9 1047.1 169 1026.6 169.2 1007.5 169.5 989.7 170 973.2 170.6 958.2 171.5 944.6 172.7 932.4 174.1 921.8 175.7 912.8 177.4 905.4 178.9 899.8 180 896 180.5 894.5 224.6 764.7" stroke="#000" stroke-width="1.2"/>
<path d="M168.4 1075.4 168.4 1057.7 168.5 1040.8 168.6 1024.8 168.8 1009.6 169 995.2 169.3 981.7 169.7 969 170.3 957.3 171 946.4 171.9 936.5 173 927.5 174.2 919.5 175.5 912.5 176.9 906.6 178.1 901.7 179.2 898 180.1 895.5 180.4 894.5 225.5 764.7" stroke="#000" stroke-width="1.2"/>
<path d="M168.9 1179.8 168.9 1151.9 168.9 1125.3 168.9 1100 168.9 1076 169 1053.3 169.1 1032 169.3 1012.1 169.6 993.5 170.1 976.4 170.7 960.8 171.7 946.6 172.9 934 174.4 922.9 176.1 913.5 177.9 905.8 179.6 900 180.9 896.1 181.4 894.5 228.4 764.7" stroke="#000" stroke-width="1.2"/>
<path d="M168.5 1060.3 168.6 1044.1 168.7 1028.6 168.8 1013.9 169 1000 169.3 986.8 169.7 974.4 170.3 962.8 170.9 952.1 171.8 942.1 172.8 933 174 924.8 175.3 917.4 176.7 911 178.1 905.6 179.5 901.1 180.6 897.7 181.5 895.4 181.8 894.5 232 764.7" stroke="#000" stroke-width="1.2"/>
<path d="M169.2 1100.6 169.3 1080.5 169.3 1061.2 169.4 1042.9 169.5 1025.6 169.7 1009.2 170 993.8 170.4 979.4 171 966 171.8 953.7 172.8 942.4 174 932.2 175.4 923 177 915 178.7 908.3 180.4 902.7 181.8 898.4 182.9 895.6 183.4 894.5 236.4 764.7" stroke="#000" stroke-width="1.2"/>
<path d="M169.3 1072.9 169.3 1055.5 169.4 1038.8 169.6 1023 169.8 1008 170.1 993.8 170.5 980.5 171.1 968 171.9 956.4 172.9 945.7 174.1 936 175.6 927.1 177.2 919.2 179 912.3 180.8 906.4 182.5 901.6 184 897.9 185.1 895.5 185.5 894.5 246.7 764.7" stroke="#000" stroke-width="1.2"/>
<path d="M169.2 1135.1 169.2 1111.6 169.2 1089.1 169.3 1067.8 169.4 1047.5 169.5 1028.4 169.7 1010.5 170.1 993.6 170.7 978 171.5 963.6 172.5 950.4 173.9 938.4 175.6 927.8 177.6 918.5 179.8 910.6 182 904.1 184 899.1 185.5 895.8 186.1 894.5 249.5 764.7" stroke="#000" stroke-width="1.2"/>
<path d="M168.2 1172.1 168.2 1144.9 168.2 1119 168.2 1094.4 168.3 1071.1 168.4 1049 168.5 1028.3 168.8 1008.9 169.3 990.9 169.9 974.2 170.9 959 172.2 945.2 173.9 932.9 176 922.2 178.4 913 180.8 905.5 183.1 899.8 184.8 896 185.6 894.5 250.7 764.7" stroke="#000" stroke-width="1.2"/>
<path d="M169.1 1142.5 169.1 1118.2 169.1 1095.1 169.2 1073.1 169.3 1052.2 169.4 1032.5 169.6 1014 170 996.7 170.5 980.6 171.3 965.7 172.4 952.1 173.8 939.8 175.6 928.8 177.6 919.2 179.9 911 182.2 904.4 184.3 899.3 185.9 895.9 186.6 894.5 252 764.7" stroke="#000" stroke-width="1.2"/>
<path d="M168.5 1061 168.6 1044.7 168.8 1029.2 169 1014.4 169.2 1000.4 169.6 987.2 170.2 974.7 170.9 963.1 171.8 952.3 172.9 942.3 174.3 933.2 175.8 924.9 177.6 917.5 179.5 911.1 181.4 905.6 183.2 901.1 184.7 897.7 185.8 895.4 186.3 894.5 253.3 764.7" stroke="#000" stroke-width="1.2"/>
<path d="M167.8 1183.9 167.9 1155.6 167.9 1128.6 167.9 1103 167.9 1078.6 168 1055.6 168.2 1034 168.4 1013.8 168.9 995 169.5 977.6 170.5 961.7 171.8 947.4 173.6 934.6 175.8 923.4 178.3 913.8 181 906 183.4 900 185.3 896.1 186.1 894.5 254.6 764.7" stroke="#000" stroke-width="1.2"/>
<path d="M169 1181.4 169 1153.3 169 1126.6 169 1101.1 169.1 1077 169.2 1054.2 169.3 1032.8 169.6 1012.7 170 994.1 170.7 976.9 171.7 961.1 173 946.9 174.8 934.2 177 923.1 179.5 913.6 182.2 905.9 184.6 900 186.5 896.1 187.3 894.5 255.7 764.7" stroke="#000" stroke-width="1.2"/>
<path d="M168.8 1107.2 168.8 1086.4 168.9 1066.6 169 1047.7 169.1 1029.8 169.4 1012.9 169.7 997 170.3 982.2 171 968.3 172 955.6 173.3 943.9 174.9 933.4 176.8 923.9 178.9 915.7 181.2 908.7 183.5 903 185.4 898.6 186.9 895.7 187.5 894.5 257.6 764.7" stroke="#000" stroke-width="1.2"/>
<path d="M167.2 1161.3 167.2 1135.3 167.2 1110.4 167.3 1086.7 167.3 1064.2 167.5 1043 167.7 1023.1 168.1 1004.5 168.7 987.1 169.5 971.1 170.7 956.5 172.4 943.2 174.5 931.4 177.1 921.1 179.9 912.3 182.9 905.1 185.5 899.6 187.6 896 188.5 894.5 268.1 764.7" stroke="#000" stroke-width="1.2"/>
<path d="M168.9 1099.1 169 1079.1 169 1060 169.2 1041.8 169.4 1024.6 169.8 1008.4 170.3 993.1 171 978.8 172.1 965.5 173.4 953.2 175.2 942 177.3 931.9 179.9 922.8 182.7 914.9 185.7 908.1 188.6 902.6 191.2 898.4 193 895.6 193.8 894.5 287.3 764.7" stroke="#000" stroke-width="1.2"/>
<path d="M168.1 1086 168.2 1067.3 168.4 1049.4 168.6 1032.5 168.9 1016.3 169.4 1001.1 170.1 986.8 171 973.4 172.3 961 174 949.5 176.1 939 178.7 929.5 181.6 921 184.8 913.6 188.2 907.3 191.4 902.1 194.3 898.2 196.3 895.6 197.2 894.5 306.2 764.7" stroke="#000" stroke-width="1.2"/>
<path d="M168.8 1083.2 168.8 1064.8 169 1047.2 169.2 1030.4 169.6 1014.6 170.1 999.6 170.8 985.5 171.8 972.3 173.2 960 174.9 948.7 177.1 938.3 179.8 929 182.8 920.6 186.1 913.3 189.6 907.1 192.9 902 195.8 898.1 197.8 895.5 198.7 894.5 311.4 764.7" stroke="#000" stroke-width="1.2"/>
<path d="M167.7 1048.4 167.9 1033.4 168.2 1019 168.6 1005.4 169.1 992.4 169.9 980.2 170.9 968.7 172.2 957.9 173.9 947.9 175.9 938.7 178.2 930.3 180.9 922.6 183.9 915.8 187 909.8 190.1 904.8 193 900.6 195.4 897.4 197.2 895.3 197.9 894.5 312.5 764.7" stroke="#000" stroke-width="1.2"/>
<path d="M167.9 1100.4 168 1080.2 168.1 1061 168.3 1042.8 168.5 1025.5 169 1009.1 169.6 993.7 170.5 979.3 171.8 966 173.4 953.6 175.6 942.3 178.2 932.1 181.4 923 184.9 915 188.5 908.2 192.1 902.7 195.3 898.4 197.6 895.6 198.6 894.5 313.7 764.7" stroke="#000" stroke-width="1.2"/>
<path d="M168.9 1085 169 1066.4 169.2 1048.6 169.4 1031.7 169.8 1015.7 170.3 1000.5 171.1 986.3 172.2 973 173.6 960.6 175.4 949.2 177.8 938.8 180.6 929.3 183.8 920.9 187.4 913.5 191.1 907.2 194.6 902.1 197.7 898.1 199.9 895.5 200.9 894.5 320.8 764.7" stroke="#000" stroke-width="1.2"/>
<path d="M167.5 1110.9 167.6 1089.8 167.7 1069.6 167.8 1050.4 168.1 1032.2 168.5 1015 169.1 998.8 170 983.7 171.3 969.6 173 956.7 175.3 944.8 178.1 934 181.5 924.5 185.4 916.1 189.5 908.9 193.5 903.1 197.1 898.6 199.7 895.7 200.8 894.5 325.6 764.7" stroke="#000" stroke-width="1.2"/>
<path d="M168.7 1186.9 168.7 1158.3 168.7 1131 168.8 1105.1 168.9 1080.5 169 1057.3 169.3 1035.4 169.8 1015 170.5 996 171.7 978.5 173.5 962.4 176 947.9 179.3 935 183.4 923.7 188.1 914 193.1 906.1 197.7 900.1 201.3 896.1 202.8 894.5 330.4 764.7" stroke="#000" stroke-width="1.2"/>
<path d="M166.7 1184.6 166.7 1156.3 166.7 1129.2 166.7 1103.5 166.8 1079.1 167 1056 167.3 1034.3 167.8 1014.1 168.6 995.2 169.9 977.8 171.7 961.9 174.4 947.5 177.8 934.7 182.1 923.4 187 913.9 192.1 906 196.9 900.1 200.6 896.1 202.2 894.5 335.1 764.7" stroke="#000" stroke-width="1.2"/>
<path d="M168.7 1076.2 168.9 1058.4 169.1 1041.5 169.4 1025.3 169.9 1010.1 170.6 995.6 171.6 982.1 172.9 969.4 174.7 957.6 176.9 946.7 179.7 936.7 183 927.7 186.8 919.6 190.9 912.6 195.1 906.6 199.2 901.7 202.7 898 205.2 895.5 206.3 894.5 347.4 764.7" stroke="#000" stroke-width="1.2"/>
<path d="M168.6 1152.6 168.7 1127.4 168.7 1103.3 168.8 1080.4 169 1058.7 169.2 1038.2 169.7 1018.9 170.4 1000.9 171.6 984.1 173.2 968.6 175.6 954.5 178.7 941.7 182.6 930.2 187.3 920.2 192.5 911.7 197.8 904.8 202.6 899.4 206.2 895.9 207.8 894.5 354.3 764.7" stroke="#000" stroke-width="1.2"/>
<path d="M168.5 1059.4 168.7 1043.3 169 1027.9 169.4 1013.3 170.1 999.4 171 986.3 172.2 974 173.9 962.5 175.9 951.8 178.5 941.9 181.6 932.8 185.2 924.6 189.2 917.3 193.5 910.9 197.8 905.5 201.9 901.1 205.4 897.7 207.8 895.4 208.9 894.5 361.5 764.7" stroke="#000" stroke-width="1.2"/>
<path d="M167.5 1174.5 167.5 1147.1 167.6 1121 167.6 1096.1 167.8 1072.6 168 1050.4 168.4 1029.4 169.1 1009.9 170.2 991.7 171.9 974.9 174.4 959.5 177.8 945.6 182.2 933.3 187.6 922.4 193.8 913.2 200.1 905.6 206 899.9 210.5 896 212.5 894.5 380.6 764.7" stroke="#000" stroke-width="1.2"/>
<path d="M165.6 1075.3 165.8 1057.6 166.1 1040.7 166.5 1024.7 167.1 1009.5 168 995.1 169.3 981.6 171.1 969 173.3 957.2 176.3 946.4 179.9 936.5 184.1 927.5 189 919.5 194.3 912.5 199.7 906.6 204.9 901.7 209.4 898 212.6 895.5 214 894.5 395.8 764.7" stroke="#000" stroke-width="1.2"/>
<path d="M168.2 1175.8 168.2 1148.3 168.2 1122 168.3 1097.1 168.4 1073.4 168.7 1051.1 169.1 1030.1 169.9 1010.4 171 992.1 172.9 975.3 175.5 959.8 179.2 945.9 183.9 933.4 189.8 922.5 196.4 913.3 203.3 905.7 209.7 899.9 214.5 896 216.7 894.5 398.2 764.7" stroke="#000" stroke-width="1.2"/>
<path d="M166.3 1140 166.4 1116 166.5 1093.1 166.6 1071.3 166.9 1050.7 167.4 1031.2 168.1 1012.8 169.3 995.7 171.1 979.7 173.7 965 177.2 951.5 181.8 939.3 187.5 928.5 194.2 919 201.5 910.9 208.9 904.3 215.6 899.2 220.6 895.9 222.8 894.5 434 764.7" stroke="#000" stroke-width="1.2"/>
<path d="M168.8 1043.7 169.1 1037.1 169.5 1030.6 169.9 1024.2 170.4 1017.9 171 1011.8 171.7 1005.9 172.5 1000 173.4 994.4 174.5 988.8 175.7 983.4 177 978.1 178.5 973 180.3 968 182.2 963.2 184.3 958.5 186.7 954 189.3 949.6 192.2 945.4 195.3 941.3 198.6 937.3 202.2 933.6 206.1 929.9 210.1 926.5 214.4 923.2 218.9 920 223.5 917 228.2 914.2 233 911.6 237.9 909.1 242.8 906.8 247.5 904.7 252.1 902.7 256.5 901 260.7 899.4 264.4 898 267.8 896.9 270.6 895.9 272.8 895.2 274.2 894.7 274.8 894.5 676.8 764.7" stroke="#000" stroke-width="1.2"/>
<path d="M169.4 1213.7 169.4 1182.5 169.4 1152.8 169.4 1124.4 169.4 1097.6 169.5 1072.2 169.6 1048.4 169.7 1026.1 169.9 1005.3 170.2 986.2 170.8 968.7 171.6 952.8 172.7 938.7 174.1 926.3 175.8 915.8 177.5 907.2 179.2 900.6 180.6 896.3 181.1 894.5 225 764.7" stroke="#000" stroke-width="1.2"/>
<path d="M169.9 1033.3 170 1019.7 170.2 1006.8 170.6 994.5 171 982.8 171.5 971.8 172.3 961.4 173.1 951.7 174.2 942.7 175.5 934.4 177 926.7 178.6 919.9 180.4 913.7 182.2 908.3 184 903.8 185.6 900 187 897.2 188 895.3 188.4 894.5 259 764.7" stroke="#ee6aa7" stroke-width="1.4"/>
<path d="M169.8 1043.7 169.9 1029.1 170.1 1015.2 170.4 1002 170.7 989.4 171.2 977.6 171.9 966.4 172.7 956 173.8 946.3 175.1 937.3 176.5 929.2 178.2 921.8 180 915.2 181.9 909.4 183.8 904.5 185.6 900.4 187.1 897.4 188.1 895.3 188.6 894.5 259.9 764.7" stroke="#ee6aa7" stroke-width="1.4"/>
<path d="M169.7 1054.1 169.8 1038.5 170 1023.6 170.2 1009.5 170.5 996 171 983.4 171.6 971.4 172.4 960.3 173.4 949.9 174.7 940.3 176.1 931.6 177.8 923.7 179.7 916.6 181.7 910.4 183.7 905.1 185.6 900.8 187.2 897.6 188.3 895.4 188.8 894.5 260.9 764.7" stroke="#ee6aa7" stroke-width="1.4"/>
<path d="M169.7 1064.5 169.7 1047.9 169.9 1032 170.1 1017 170.4 1002.7 170.8 989.2 171.3 976.5 172.1 964.6 173.1 953.5 174.3 943.3 175.7 934 177.5 925.6 179.4 918 181.5 911.5 183.6 905.8 185.5 901.3 187.2 897.8 188.5 895.4 189 894.5 261.8 764.7" stroke="#ee6aa7" stroke-width="1.4"/>
<path d="M170.2 1012.5 170.4 1000.9 170.8 989.9 171.2 979.5 171.8 969.5 172.5 960.2 173.4 951.4 174.4 943.1 175.6 935.5 177 928.4 178.5 921.9 180.2 916.1 181.9 910.8 183.7 906.3 185.4 902.4 186.9 899.2 188.2 896.8 189 895.1 189.4 894.5 263.9 764.7" stroke="#ee6aa7" stroke-width="1.4"/>
<path d="M170 1022.9 170.2 1010.3 170.5 998.4 170.9 987 171.4 976.2 172.1 966 172.9 956.4 173.9 947.4 175.1 939.1 176.5 931.4 178 924.3 179.7 918 181.6 912.3 183.4 907.3 185.2 903.1 186.9 899.6 188.2 897 189.2 895.2 189.6 894.5 264.8 764.7" stroke="#ee6aa7" stroke-width="1.4"/>
<path d="M169 1033.3 169.2 1019.7 169.6 1006.8 170 994.5 170.5 982.8 171.3 971.8 172.3 961.4 173.4 951.7 174.9 942.7 176.6 934.4 178.6 926.7 180.8 919.9 183.2 913.7 185.6 908.3 188 903.8 190.3 900 192.1 897.2 193.4 895.3 194 894.5 289.1 764.7" stroke="#e57fb0" stroke-width="2.0"/>
</g>
<text x="125.56" y="96.8" font-size="21" font-weight="normal" fill="#1414c8" textLength="51.48" lengthAdjust="spacingAndGlyphs">9.9.1</text>
<text x="355.72" y="96.8" font-size="21" font-weight="normal" fill="#1414c8" textLength="49.78" lengthAdjust="spacingAndGlyphs">1.1.1</text>
<text x="641.26" y="96.8" font-size="21" font-weight="normal" fill="#1414c8" textLength="64.50" lengthAdjust="spacingAndGlyphs">4.11.1</text>
<text x="149.74" y="804.1" font-size="21" font-weight="normal" fill="#1414c8" textLength="52.63" lengthAdjust="spacingAndGlyphs">9.9.1</text>
<text x="369.04" y="804.1" font-size="21" font-weight="normal" fill="#1414c8" textLength="52.11" lengthAdjust="spacingAndGlyphs">1.1.1</text>
<text x="642.16" y="766.6" font-size="21" font-weight="normal" fill="#1414c8" textLength="65.01" lengthAdjust="spacingAndGlyphs">4.11.1</text>
<g fill="none" stroke-linejoin="round" clip-path="url(#cpb)">
<path d="M858.4 356.8 860.1 351.4 861.8 346 863.6 340.7 865.4 335.3 867.2 330 869.1 324.6 871 319.3 872.8 313.9 874.7 308.6 876.6 303.2 878.5 297.8 880.4 292.5" stroke="#000" stroke-width="1.5"/>
<path d="M836.8 473.7 838 457 839.8 440.3 842.3 423.6 845.5 406.9 849.4 390.2 854.1 373.5 859.3 356.8 864.9 340.1 870.9 323.4 877 306.7 883.1 290 889.2 273.3" stroke="#000" stroke-width="1.5"/>
<path d="M836.2 491.3 837.4 467.3 839.7 443.3 843.2 419.3 848.3 395.2 854.7 371.2 862.3 347.2 870.7 323.1 879.4 299.1 888 275.1 896.3 251 903.9 227 910.9 203" stroke="#000" stroke-width="1.5"/>
<path d="M837.8 418.1 838.1 411.8 838.4 405.4 838.7 399 839.1 392.6 839.5 386.2 839.9 379.8 840.3 373.4 840.8 367.1 841.2 360.7 841.7 354.3 842.2 347.9 842.7 341.5" stroke="#000" stroke-width="1.5"/>
<path d="M867.9 375.5 877.8 357.6 888.6 339.7 900 321.8 911.7 303.9 923.5 286 935 268.1 946 250.2 956.4 232.3 966.2 214.4 975.1 196.5 983.3 178.6 990.7 160.7" stroke="#000" stroke-width="1.5"/>
<path d="M836 503.7 836.1 492.2 836.2 480.7 836.3 469.3 836.5 457.8 836.7 446.4 837 434.9 837.4 423.5 837.8 412 838.3 400.5 838.9 389.1 839.5 377.6 840.2 366.2" stroke="#000" stroke-width="1.5"/>
<path d="M838 466.2 838.7 460.3 839.4 454.3 840.3 448.4 841.3 442.5 842.4 436.5 843.7 430.6 845.1 424.7 846.6 418.7 848.2 412.8 850 406.9 851.9 400.9 854 395" stroke="#000" stroke-width="1.5"/>
<path d="M851.7 406.8 857.9 391.1 865.2 375.4 873.3 359.7 882.1 344.1 891.5 328.4 901.2 312.7 910.9 297 920.6 281.4 930.1 265.7 939.2 250 947.9 234.3 956.1 218.7" stroke="#000" stroke-width="1.5"/>
<path d="M863 364.1 864.4 360.9 865.8 357.7 867.2 354.4 868.7 351.2 870.2 348 871.7 344.7 873.3 341.5 874.8 338.2 876.4 335 878 331.8 879.6 328.5 881.2 325.3" stroke="#000" stroke-width="1.5"/>
<path d="M836 477.6 836.5 468.2 837.1 458.8 837.8 449.4 838.8 440 839.9 430.5 841.2 421.1 842.6 411.7 844.3 402.3 846.2 392.9 848.2 383.4 850.4 374 852.8 364.6" stroke="#000" stroke-width="1.5"/>
<path d="M838.7 431.7 840.3 418.5 842.2 405.2 844.4 392 846.9 378.8 849.7 365.6 852.7 352.3 855.9 339.1 859.2 325.9 862.6 312.7 866 299.4 869.5 286.2 872.9 273" stroke="#000" stroke-width="1.5"/>
<path d="M846.8 430.6 852.6 413.1 860.1 395.5 869 377.9 879.2 360.4 890.4 342.8 902.3 325.2 914.6 307.6 926.9 290.1 939.1 272.5 950.8 254.9 962 237.4 972.5 219.8" stroke="#000" stroke-width="1.5"/>
<path d="M838.5 456.1 840.9 435.2 844.4 414.4 849 393.5 854.6 372.6 861.2 351.7 868.3 330.8 875.9 309.9 883.5 289.1 890.9 268.2 898 247.3 904.7 226.4 910.8 205.5" stroke="#000" stroke-width="1.5"/>
<path d="M845.1 381.1 846.4 372.9 847.8 364.8 849.3 356.6 850.8 348.4 852.4 340.3 854 332.1 855.6 324 857.3 315.8 859 307.6 860.6 299.5 862.3 291.3 864 283.1" stroke="#000" stroke-width="1.5"/>
<path d="M836 476.4 836.6 468.6 837.3 460.8 838.2 452.9 839.2 445.1 840.5 437.3 841.9 429.5 843.5 421.7 845.3 413.8 847.3 406 849.5 398.2 851.9 390.4 854.4 382.6" stroke="#000" stroke-width="1.5"/>
<path d="M837.3 454 837.7 445.3 838.2 436.6 838.8 427.9 839.5 419.2 840.3 410.5 841.2 401.8 842.2 393.1 843.3 384.4 844.4 375.7 845.7 367 847 358.4 848.3 349.7" stroke="#000" stroke-width="1.5"/>
<path d="M836.5 487.9 838.2 472 840.7 456.1 844.5 440.3 849.5 424.4 855.9 408.5 863.8 392.6 873 376.8 883.3 360.9 894.6 345 906.6 329.1 918.9 313.3 931.4 297.4" stroke="#000" stroke-width="1.5"/>
<path d="M844.6 398.9 845.1 396.3 845.6 393.8 846.1 391.2 846.6 388.7 847.2 386.1 847.7 383.6 848.3 381 848.9 378.5 849.5 375.9 850 373.4 850.7 370.8 851.3 368.3" stroke="#000" stroke-width="1.5"/>
<path d="M836.5 475 837 460.2 837.9 445.4 838.9 430.6 840.3 415.7 842.1 400.9 844.1 386.1 846.4 371.3 849 356.5 851.7 341.7 854.6 326.9 857.6 312.1 860.6 297.3" stroke="#000" stroke-width="1.5"/>
<path d="M837.1 460.2 837.3 455.2 837.6 450.3 837.9 445.3 838.2 440.3 838.5 435.4 838.9 430.4 839.3 425.4 839.8 420.5 840.3 415.5 840.8 410.5 841.3 405.6 841.9 400.6" stroke="#000" stroke-width="1.5"/>
<path d="M843.3 422.4 846.5 410.2 850.1 398 854.3 385.8 859 373.7 864.1 361.5 869.5 349.3 875.3 337.1 881.2 324.9 887.3 312.8 893.4 300.6 899.5 288.4 905.5 276.2" stroke="#000" stroke-width="1.5"/>
<path d="M857.6 361.9 859.7 355.3 861.8 348.7 864.1 342.1 866.3 335.5 868.6 328.8 871 322.2 873.4 315.6 875.7 309 878.1 302.4 880.5 295.7 882.9 289.1 885.3 282.5" stroke="#000" stroke-width="1.5"/>
<path d="M840.1 392.4 840.5 386.9 841 381.4 841.5 375.8 842 370.3 842.5 364.7 843 359.2 843.6 353.7 844.2 348.1 844.7 342.6 845.3 337 845.9 331.5 846.6 326" stroke="#000" stroke-width="1.5"/>
<path d="M843 379.8 843.4 376 843.9 372.1 844.4 368.2 844.9 364.3 845.4 360.4 846 356.5 846.5 352.7 847 348.8 847.6 344.9 848.2 341 848.7 337.1 849.3 333.3" stroke="#000" stroke-width="1.5"/>
<path d="M849.1 418.8 856.7 398 866.1 377.2 877.2 356.5 889.4 335.7 902.4 314.9 915.6 294.2 928.7 273.4 941.2 252.7 952.9 231.9 963.8 211.1 973.6 190.4 982.5 169.6" stroke="#000" stroke-width="1.5"/>
<path d="M836.1 467.6 836.3 456.5 836.4 445.3 836.7 434.1 836.9 423 837.2 411.8 837.6 400.6 838 389.5 838.5 378.3 839 367.1 839.5 355.9 840.1 344.8 840.7 333.6" stroke="#000" stroke-width="1.5"/>
<path d="M839.8 418.6 840.6 409.9 841.6 401.1 842.6 392.4 843.8 383.6 845 374.9 846.4 366.1 847.8 357.3 849.2 348.6 850.7 339.8 852.3 331.1 853.9 322.3 855.5 313.6" stroke="#000" stroke-width="1.5"/>
<path d="M836 501 836.2 487.4 836.4 473.7 836.8 460 837.4 446.3 838.1 432.7 839 419 840.1 405.3 841.4 391.7 842.8 378 844.5 364.3 846.3 350.6 848.1 337" stroke="#000" stroke-width="1.5"/>
<path d="M848.7 387.3 852.1 373.4 855.8 359.6 859.9 345.8 864.1 332 868.5 318.2 872.9 304.4 877.4 290.6 881.8 276.8 886.1 263 890.2 249.2 894.2 235.4 897.9 221.6" stroke="#000" stroke-width="1.5"/>
<path d="M836 503.8 836.3 490.6 836.7 477.4 837.4 464.2 838.2 451 839.4 437.9 840.9 424.7 842.8 411.5 845 398.3 847.5 385.2 850.3 372 853.4 358.8 856.8 345.6" stroke="#000" stroke-width="1.5"/>
<path d="M836.2 488.9 836.8 474.2 837.7 459.5 838.9 444.8 840.5 430 842.7 415.3 845.3 400.6 848.3 385.9 851.8 371.1 855.6 356.4 859.8 341.7 864.1 327 868.6 312.3" stroke="#000" stroke-width="1.5"/>
<path d="M871.1 357.1 879.6 340.6 888.5 324.1 897.7 307.6 907 291 916.1 274.5 924.9 258 933.4 241.5 941.4 225 948.8 208.5 955.7 191.9 962 175.4 967.7 158.9" stroke="#000" stroke-width="1.5"/>
<path d="M836 470.7 836.4 464.6 836.8 458.6 837.3 452.6 837.9 446.5 838.6 440.5 839.3 434.4 840.2 428.4 841.1 422.4 842.1 416.3 843.2 410.3 844.3 404.3 845.6 398.2" stroke="#000" stroke-width="1.5"/>
<path d="M836 484.6 837.8 457.7 841.1 430.8 846.3 403.9 853.4 377 862.2 350.2 872 323.3 882.2 296.4 892.3 269.5 901.9 242.6 910.6 215.7 918.3 188.9 925 162" stroke="#000" stroke-width="1.5"/>
<path d="M838.4 438.6 840.3 423.8 842.8 409 845.7 394.2 849.1 379.4 853 364.6 857.2 349.9 861.6 335.1 866.3 320.3 871 305.5 875.8 290.7 880.5 275.9 885 261.1" stroke="#000" stroke-width="1.5"/>
<path d="M837.8 416.3 838.1 411.5 838.4 406.7 838.7 401.8 839 397 839.3 392.2 839.6 387.4 840 382.6 840.4 377.7 840.8 372.9 841.2 368.1 841.6 363.3 842 358.5" stroke="#000" stroke-width="1.5"/>
<path d="M883.6 315.6 888.1 305.9 892.6 296.3 897 286.6 901.4 277 905.7 267.3 910 257.7 914.1 248 918.1 238.3 921.9 228.7 925.6 219 929.2 209.4 932.6 199.7" stroke="#000" stroke-width="1.5"/>
<path d="M874 317.5 878.5 305.4 883.1 293.2 887.6 281.1 892.1 268.9 896.4 256.8 900.6 244.6 904.6 232.5 908.5 220.3 912.1 208.2 915.5 196 918.7 183.9 921.7 171.7" stroke="#000" stroke-width="1.5"/>
<path d="M859.1 375.3 865.8 358.6 873.1 341.9 880.8 325.2 888.7 308.6 896.7 291.9 904.6 275.2 912.2 258.5 919.5 241.8 926.4 225.2 932.9 208.5 938.8 191.8 944.2 175.1" stroke="#000" stroke-width="1.5"/>
<path d="M836.2 481.4 837.4 461.8 839.5 442.3 842.6 422.7 846.7 403.1 851.9 383.5 858 364 864.9 344.4 872.3 324.8 879.9 305.2 887.5 285.7 895 266.1 902.1 246.5" stroke="#000" stroke-width="1.5"/>
<path d="M847.8 420.9 855.9 399.9 866.1 378.8 878.2 357.7 891.6 336.6 905.8 315.5 920.4 294.4 934.7 273.3 948.5 252.2 961.4 231.1 973.3 210 984 188.9 993.6 167.8" stroke="#000" stroke-width="1.5"/>
<path d="M862.8 362.8 865.7 355.3 868.8 347.9 871.9 340.4 875.1 333 878.4 325.5 881.7 318.1 885.1 310.7 888.5 303.2 891.8 295.8 895.2 288.3 898.5 280.9 901.8 273.4" stroke="#000" stroke-width="1.5"/>
<path d="M847.9 438 851.8 428 856.4 418.1 861.7 408.1 867.7 398.1 874.4 388.1 881.7 378.1 889.6 368.1 898.1 358.1 906.9 348.2 916.2 338.2 925.7 328.2 935.4 318.2" stroke="#000" stroke-width="1.5"/>
<path d="M854.2 386.1 859 373.4 864.3 360.6 869.9 347.9 875.9 335.1 882 322.4 888.3 309.6 894.6 296.9 900.9 284.1 907.1 271.4 913.1 258.6 918.9 245.9 924.4 233.1" stroke="#000" stroke-width="1.5"/>
<path d="M836.8 473 837.5 466.5 838.3 460.1 839.3 453.6 840.4 447.1 841.7 440.7 843.1 434.2 844.7 427.7 846.5 421.3 848.4 414.8 850.6 408.3 852.9 401.9 855.4 395.4" stroke="#000" stroke-width="1.5"/>
<path d="M842.9 414.8 843.5 412 844 409.1 844.5 406.3 845.1 403.4 845.7 400.5 846.3 397.7 846.9 394.8 847.6 392 848.3 389.1 849 386.2 849.7 383.4 850.4 380.5" stroke="#000" stroke-width="1.5"/>
<path d="M838.2 444.5 839.8 428.8 841.8 413.2 844.3 397.5 847.2 381.9 850.6 366.3 854.3 350.6 858.2 335 862.3 319.3 866.5 303.7 870.7 288 874.8 272.4 878.8 256.8" stroke="#000" stroke-width="1.5"/>
<path d="M841.2 406.6 841.8 402.2 842.4 397.9 843.1 393.6 843.7 389.2 844.4 384.9 845.2 380.5 845.9 376.2 846.7 371.9 847.5 367.5 848.3 363.2 849.2 358.8 850 354.5" stroke="#000" stroke-width="1.5"/>
<path d="M842.2 449.2 846.6 431.3 852.6 413.4 860.3 395.5 869.4 377.6 880 359.7 891.6 341.8 903.9 323.9 916.5 306 929.2 288.2 941.7 270.3 953.7 252.4 965.1 234.5" stroke="#000" stroke-width="1.5"/>
<path d="M857.5 346.9 859.9 338.4 862.3 329.9 864.9 321.4 867.4 312.9 870 304.4 872.5 295.9 875.1 287.4 877.6 278.9 880.1 270.4 882.6 261.9 885 253.4 887.3 244.9" stroke="#000" stroke-width="1.5"/>
<path d="M836.9 478.5 837.9 466.1 839.3 453.7 841.2 441.3 843.5 429 846.4 416.6 849.8 404.2 853.8 391.8 858.3 379.4 863.2 367.1 868.6 354.7 874.2 342.3 880.1 329.9" stroke="#000" stroke-width="1.5"/>
<path d="M839.5 441.9 842.3 425.9 846 409.8 850.4 393.8 855.6 377.8 861.6 361.7 868 345.7 874.9 329.7 882 313.7 889.2 297.6 896.4 281.6 903.4 265.6 910.1 249.5" stroke="#000" stroke-width="1.5"/>
<path d="M836 480.9 836.1 469.2 836.3 457.4 836.4 445.7 836.7 433.9 837 422.2 837.3 410.4 837.7 398.7 838.2 386.9 838.7 375.1 839.3 363.4 839.9 351.6 840.5 339.9" stroke="#000" stroke-width="1.5"/>
<path d="M858.9 382.1 861.8 375.1 864.8 368 867.9 360.9 871.2 353.9 874.6 346.8 878 339.8 881.6 332.7 885.2 325.6 888.8 318.6 892.5 311.5 896.2 304.5 899.9 297.4" stroke="#000" stroke-width="1.5"/>
<path d="M836 475 836.3 465.4 836.6 455.9 837 446.4 837.6 436.8 838.2 427.3 838.9 417.8 839.7 408.2 840.6 398.7 841.7 389.2 842.8 379.7 844 370.1 845.3 360.6" stroke="#000" stroke-width="1.5"/>
<path d="M836 484.9 836.5 476.2 837.1 467.4 837.8 458.7 838.7 450 839.8 441.2 841.1 432.5 842.7 423.8 844.4 415 846.4 406.3 848.6 397.6 851 388.8 853.6 380.1" stroke="#000" stroke-width="1.5"/>
<path d="M846.3 395.6 848.4 386.3 850.7 377.1 853.2 367.8 855.8 358.6 858.5 349.3 861.4 340.1 864.3 330.8 867.3 321.5 870.4 312.3 873.4 303 876.5 293.8 879.5 284.5" stroke="#000" stroke-width="1.5"/>
<path d="M836 492.6 836.8 479.8 838.1 467 839.8 454.2 842.1 441.4 845 428.6 848.7 415.8 853 403.1 858.1 390.3 863.7 377.5 870 364.7 876.8 351.9 883.9 339.1" stroke="#000" stroke-width="1.5"/>
<path d="M840.2 424.5 841.5 414.5 843 404.5 844.7 394.5 846.5 384.4 848.5 374.4 850.7 364.4 853 354.3 855.4 344.3 857.8 334.3 860.4 324.2 863 314.2 865.6 304.2" stroke="#000" stroke-width="1.5"/>
<path d="M884.6 337.4 888.9 329.8 893.3 322.3 897.7 314.7 902.2 307.2 906.6 299.7 911.1 292.1 915.5 284.6 919.9 277.1 924.2 269.5 928.4 262 932.6 254.4 936.7 246.9" stroke="#000" stroke-width="1.5"/>
<path d="M857.7 354.9 859.5 349.1 861.3 343.2 863.2 337.3 865.1 331.4 867 325.6 868.9 319.7 870.8 313.8 872.8 307.9 874.7 302 876.7 296.2 878.6 290.3 880.6 284.4" stroke="#000" stroke-width="1.5"/>
<path d="M859.2 344.9 862.6 333.9 866.1 322.8 869.6 311.8 873.2 300.8 876.8 289.8 880.3 278.8 883.8 267.7 887.2 256.7 890.5 245.7 893.7 234.7 896.7 223.7 899.6 212.7" stroke="#000" stroke-width="1.5"/>
<path d="M836.8 464.9 838.1 449.3 839.9 433.7 842.2 418.1 845.1 402.5 848.5 386.8 852.5 371.2 856.9 355.6 861.7 340 866.7 324.3 871.8 308.7 877 293.1 882.1 277.5" stroke="#000" stroke-width="1.5"/>
<path d="M838.3 452.5 842.2 431.7 847.9 410.9 855.2 390.1 864.2 369.2 874.4 348.4 885.6 327.6 897.2 306.8 908.9 286 920.3 265.2 931.2 244.4 941.3 223.6 950.5 202.7" stroke="#000" stroke-width="1.5"/>
<path d="M891.2 334.7 900.6 320.1 910.1 305.4 919.7 290.8 929.1 276.2 938.3 261.6 947.1 247 955.6 232.4 963.5 217.8 971 203.2 978 188.5 984.4 173.9 990.3 159.3" stroke="#000" stroke-width="1.5"/>
<path d="M837 441.3 837.3 435.1 837.6 428.9 837.9 422.7 838.3 416.5 838.7 410.3 839.1 404.1 839.6 397.9 840.1 391.6 840.6 385.4 841.1 379.2 841.7 373 842.3 366.8" stroke="#000" stroke-width="1.5"/>
<path d="M854.8 417.2 856.8 412.9 858.9 408.6 861.1 404.2 863.4 399.9 865.8 395.6 868.4 391.3 871.1 387 873.8 382.6 876.7 378.3 879.7 374 882.7 369.7 885.9 365.4" stroke="#000" stroke-width="1.5"/>
<path d="M858.3 351.8 860.9 343.5 863.5 335.2 866.2 327 868.9 318.7 871.7 310.4 874.5 302.1 877.2 293.8 880 285.5 882.7 277.3 885.4 269 888 260.7 890.6 252.4" stroke="#000" stroke-width="1.5"/>
<path d="M836.4 495.6 838.4 472.1 842.3 448.5 848.7 425 858 401.5 870 378 884.4 354.4 900.6 330.9 917.6 307.4 934.7 283.8 951.4 260.3 967 236.8 981.3 213.3" stroke="#000" stroke-width="1.5"/>
<path d="M852.8 395.8 855.4 388.6 858.2 381.5 861.1 374.3 864.1 367.2 867.3 360.1 870.6 352.9 874.1 345.8 877.6 338.6 881.2 331.5 884.9 324.3 888.6 317.2 892.3 310" stroke="#000" stroke-width="1.5"/>
<path d="M845.3 401 848.2 387.2 851.4 373.5 855 359.7 858.8 346 862.9 332.2 867.1 318.4 871.3 304.7 875.6 290.9 879.8 277.2 883.9 263.4 887.8 249.7 891.6 235.9" stroke="#000" stroke-width="1.5"/>
<path d="M852.3 355.1 853.7 348.9 855.1 342.7 856.6 336.5 858.1 330.4 859.6 324.2 861.1 318 862.6 311.8 864.1 305.6 865.7 299.5 867.2 293.3 868.7 287.1 870.2 280.9" stroke="#000" stroke-width="1.5"/>
<path d="M857.5 384.8 865.2 366.1 873.7 347.5 882.9 328.9 892.5 310.2 902.2 291.6 911.7 272.9 920.9 254.3 929.6 235.6 937.7 217 945.2 198.4 952 179.7 958.1 161.1" stroke="#000" stroke-width="1.5"/>
<path d="M847.5 405.2 850.3 394.5 853.3 383.8 856.7 373.2 860.3 362.5 864.1 351.9 868.1 341.2 872.3 330.6 876.6 319.9 880.9 309.3 885.3 298.6 889.6 288 893.9 277.3" stroke="#000" stroke-width="1.5"/>
<path d="M891.8 344.3 899.9 332.9 908.2 321.5 916.7 310.1 925.3 298.7 933.8 287.3 942.2 275.9 950.4 264.6 958.4 253.2 966.1 241.8 973.5 230.4 980.6 219 987.4 207.6" stroke="#000" stroke-width="1.5"/>
<path d="M836.1 487.2 836.9 468.7 838.4 450.2 840.5 431.7 843.4 413.2 847.1 394.6 851.5 376.1 856.7 357.6 862.3 339.1 868.3 320.6 874.4 302.1 880.5 283.5 886.4 265" stroke="#000" stroke-width="1.5"/>
<path d="M855.5 339.7 857.1 333.1 858.7 326.4 860.3 319.7 861.9 313 863.5 306.4 865.2 299.7 866.8 293 868.4 286.3 870 279.7 871.6 273 873.2 266.3 874.7 259.7" stroke="#000" stroke-width="1.5"/>
<path d="M840.5 445.7 842.4 437.4 844.6 429.1 847.1 420.8 850 412.5 853.2 404.3 856.7 396 860.5 387.7 864.6 379.4 869 371.1 873.7 362.8 878.5 354.5 883.6 346.3" stroke="#000" stroke-width="1.5"/>
<path d="M842.8 388.4 843.3 384.6 843.8 380.8 844.3 377 844.8 373.3 845.3 369.5 845.9 365.7 846.5 361.9 847 358.1 847.6 354.3 848.2 350.5 848.8 346.7 849.4 342.9" stroke="#000" stroke-width="1.5"/>
<path d="M836.8 464.4 837.3 453.3 837.9 442.1 838.7 431 839.7 419.9 840.8 408.7 842.1 397.6 843.5 386.5 845.1 375.3 846.8 364.2 848.7 353.1 850.6 341.9 852.6 330.8" stroke="#000" stroke-width="1.5"/>
<path d="M858 404 861.2 397.3 864.6 390.6 868.3 384 872.1 377.3 876.2 370.6 880.5 363.9 884.9 357.2 889.5 350.6 894.2 343.9 899 337.2 904 330.5 908.9 323.9" stroke="#000" stroke-width="1.5"/>
<path d="M836.9 476.1 838.2 463.1 839.9 450.2 842.2 437.2 845.2 424.2 848.8 411.2 853.1 398.2 858 385.2 863.4 372.2 869.4 359.3 875.9 346.3 882.6 333.3 889.6 320.3" stroke="#000" stroke-width="1.5"/>
<path d="M839.6 445.7 841.2 435.1 843 424.6 845.3 414.1 847.8 403.5 850.7 393 853.9 382.4 857.4 371.9 861.2 361.3 865.2 350.8 869.3 340.3 873.7 329.7 878.1 319.2" stroke="#000" stroke-width="1.5"/>
<path d="M838.4 441.7 838.9 436.7 839.4 431.7 839.9 426.6 840.5 421.6 841.2 416.6 841.8 411.5 842.6 406.5 843.4 401.5 844.2 396.5 845.1 391.4 846 386.4 847 381.4" stroke="#000" stroke-width="1.5"/>
<path d="M847.6 386.8 850.7 373.8 854.1 360.8 857.7 347.9 861.5 334.9 865.5 321.9 869.6 308.9 873.6 296 877.7 283 881.6 270 885.5 257.1 889.2 244.1 892.8 231.1" stroke="#000" stroke-width="1.5"/>
<path d="M842.5 388.8 843.2 383.4 844 377.9 844.8 372.4 845.6 366.9 846.5 361.4 847.4 356 848.3 350.5 849.2 345 850.2 339.5 851.1 334 852.1 328.5 853.1 323.1" stroke="#000" stroke-width="1.5"/>
<path d="M849.1 394.1 850 390.5 850.9 387 851.9 383.4 852.9 379.8 854 376.2 855 372.6 856.1 369 857.3 365.5 858.4 361.9 859.6 358.3 860.8 354.7 862 351.1" stroke="#000" stroke-width="1.5"/>
<path d="M836.5 476.6 837 464 837.5 451.5 838.3 438.9 839.2 426.3 840.4 413.7 841.8 401.2 843.4 388.6 845.2 376 847.1 363.4 849.2 350.8 851.4 338.3 853.7 325.7" stroke="#000" stroke-width="1.5"/>
<path d="M836.7 483.9 838.9 463.1 842.6 442.3 848 421.5 855.5 400.7 865 379.8 876.1 359 888.5 338.2 901.8 317.4 915.3 296.6 928.7 275.8 941.6 255 953.7 234.1" stroke="#000" stroke-width="1.5"/>
<path d="M837.5 472.1 839.8 460.4 842.8 448.8 846.7 437.1 851.5 425.4 857.2 413.8 864 402.1 871.7 390.5 880.3 378.8 889.7 367.2 899.9 355.5 910.6 343.8 921.8 332.2" stroke="#000" stroke-width="1.5"/>
<path d="M843 412.7 845.5 399.2 848.5 385.8 851.8 372.4 855.4 359 859.3 345.6 863.4 332.1 867.7 318.7 872 305.3 876.3 291.9 880.6 278.4 884.8 265 888.8 251.6" stroke="#000" stroke-width="1.5"/>
<path d="M836.1 507.8 836.3 498.4 836.6 489.1 837 479.8 837.5 470.4 838.3 461.1 839.1 451.7 840.2 442.4 841.6 433 843.1 423.7 844.9 414.3 847 405 849.2 395.6" stroke="#000" stroke-width="1.5"/>
<path d="M846.5 409.2 849.4 397.7 852.6 386.1 856.2 374.6 860.1 363.1 864.3 351.5 868.7 340 873.2 328.5 877.9 317 882.6 305.4 887.3 293.9 892 282.4 896.6 270.9" stroke="#000" stroke-width="1.5"/>
<path d="M841.3 415 841.8 411.8 842.3 408.5 842.9 405.3 843.5 402 844.1 398.7 844.7 395.5 845.3 392.2 846 389 846.7 385.7 847.4 382.4 848.1 379.2 848.9 375.9" stroke="#000" stroke-width="1.5"/>
<path d="M843.5 441.7 849.2 422.9 856.7 404.1 866.2 385.3 877.2 366.5 889.7 347.7 903.1 328.8 917.1 310 931.2 291.2 945 272.4 958.4 253.6 971 234.8 982.8 215.9" stroke="#000" stroke-width="1.5"/>
<path d="M846.6 411.4 849.1 401.6 851.9 391.7 855 381.9 858.3 372.1 861.8 362.2 865.6 352.4 869.5 342.6 873.5 332.8 877.7 322.9 881.9 313.1 886.2 303.3 890.4 293.4" stroke="#000" stroke-width="1.5"/>
<path d="M837.2 469.1 839.6 445 843.4 420.9 848.9 396.8 856 372.7 864.3 348.6 873.6 324.5 883.2 300.4 892.7 276.3 901.9 252.2 910.4 228.1 918.1 203.9 925 179.8" stroke="#000" stroke-width="1.5"/>
<path d="M836 471.6 836.3 461.6 836.8 451.7 837.3 441.7 837.9 431.8 838.7 421.8 839.6 411.9 840.6 401.9 841.7 392 843 382 844.4 372 845.8 362.1 847.4 352.1" stroke="#000" stroke-width="1.5"/>
<path d="M860 378.3 866.5 363.1 873.6 348 881.1 332.8 888.9 317.6 896.8 302.5 904.8 287.3 912.6 272.1 920.1 257 927.4 241.8 934.3 226.7 940.7 211.5 946.8 196.3" stroke="#000" stroke-width="1.5"/>
<path d="M875.9 324.7 878.4 319 880.9 313.3 883.3 307.6 885.8 301.9 888.3 296.2 890.8 290.5 893.2 284.8 895.7 279.1 898.1 273.4 900.5 267.7 902.9 262 905.2 256.3" stroke="#000" stroke-width="1.5"/>
<path d="M842.2 390.1 843.1 382.9 844 375.8 845 368.7 846.1 361.5 847.2 354.4 848.3 347.3 849.5 340.1 850.7 333 851.9 325.9 853.1 318.7 854.4 311.6 855.6 304.5" stroke="#000" stroke-width="1.5"/>
<path d="M887.5 337.7 892.7 329.3 897.9 321 903.3 312.7 908.6 304.3 914 296 919.3 287.7 924.6 279.4 929.8 271 935 262.7 940 254.4 944.9 246 949.7 237.7" stroke="#000" stroke-width="1.5"/>
<path d="M866.3 357.8 872.3 343.8 878.7 329.8 885.3 315.8 891.9 301.8 898.6 287.8 905.1 273.8 911.5 259.8 917.6 245.8 923.5 231.8 929 217.8 934.2 203.8 939.1 189.8" stroke="#000" stroke-width="1.5"/>
<path d="M836 497.8 836.4 483.7 837.1 469.7 838.1 455.7 839.4 441.6 841.2 427.6 843.4 413.5 846.1 399.5 849.2 385.4 852.7 371.4 856.6 357.3 860.7 343.3 865.1 329.3" stroke="#000" stroke-width="1.5"/>
<path d="M837.8 449.4 840.5 430.7 844.3 411.9 849 393.1 854.7 374.3 861.3 355.5 868.4 336.7 876 317.9 883.7 299.1 891.4 280.3 898.8 261.5 905.9 242.7 912.6 223.9" stroke="#000" stroke-width="1.5"/>
<path d="M855.7 389.9 859.8 379.5 864.3 369.1 869 358.7 874.1 348.3 879.3 338 884.7 327.6 890.3 317.2 895.8 306.8 901.4 296.4 907 286 912.5 275.7 917.9 265.3" stroke="#000" stroke-width="1.5"/>
<path d="M870.4 343.8 872.3 339.6 874.1 335.4 876 331.2 877.9 327 879.8 322.8 881.7 318.6 883.7 314.4 885.6 310.2 887.6 306 889.5 301.8 891.4 297.6 893.4 293.4" stroke="#000" stroke-width="1.5"/>
<path d="M887.1 296.2 890.7 287.6 894.2 279 897.7 270.3 901.1 261.7 904.4 253.1 907.7 244.5 910.8 235.9 913.9 227.3 916.9 218.7 919.7 210 922.4 201.4 925 192.8" stroke="#000" stroke-width="1.5"/>
<path d="M838.2 456.9 840.4 436.8 843.7 416.8 848 396.8 853.3 376.7 859.5 356.7 866.3 336.6 873.5 316.6 880.9 296.6 888.2 276.5 895.3 256.5 901.9 236.5 908.1 216.4" stroke="#000" stroke-width="1.5"/>
<path d="M836.4 479 836.5 471.8 836.7 464.5 836.9 457.2 837.2 450 837.5 442.7 837.8 435.4 838.2 428.2 838.7 420.9 839.2 413.6 839.8 406.4 840.4 399.1 841.1 391.8" stroke="#000" stroke-width="1.5"/>
<path d="M839 422.1 839.9 412.6 840.8 403 841.9 393.5 843 383.9 844.3 374.4 845.6 364.8 847 355.3 848.5 345.7 850.1 336.2 851.6 326.6 853.3 317.1 854.9 307.5" stroke="#000" stroke-width="1.5"/>
<path d="M869.7 375.4 878.5 360.9 888.1 346.4 898.2 331.9 908.7 317.4 919.3 302.9 930 288.4 940.4 273.9 950.6 259.3 960.4 244.8 969.8 230.3 978.6 215.8 986.8 201.3" stroke="#000" stroke-width="1.5"/>
<path d="M838 418.8 838.2 413.7 838.5 408.7 838.8 403.6 839.1 398.6 839.4 393.5 839.7 388.4 840.1 383.4 840.4 378.3 840.8 373.3 841.2 368.2 841.6 363.2 842 358.1" stroke="#000" stroke-width="1.5"/>
<path d="M837.7 475.5 840.8 457.5 845.6 439.4 852.3 421.4 861 403.4 871.9 385.4 884.5 367.3 898.7 349.3 913.9 331.3 929.8 313.2 946 295.2 961.9 277.2 977.4 259.1" stroke="#000" stroke-width="1.5"/>
<path d="M873.8 380.4 876.3 376.7 878.8 372.9 881.4 369.2 884.1 365.5 886.8 361.8 889.6 358 892.5 354.3 895.3 350.6 898.3 346.8 901.3 343.1 904.3 339.4 907.3 335.7" stroke="#000" stroke-width="1.5"/>
<path d="M839.7 443.8 841.7 429.1 844.4 414.3 847.5 399.5 851.3 384.8 855.6 370 860.3 355.2 865.3 340.5 870.6 325.7 876.1 310.9 881.5 296.1 887 281.4 892.3 266.6" stroke="#000" stroke-width="1.5"/>
<path d="M839 447.6 841.8 429.4 845.7 411.2 850.5 393 856.4 374.8 863 356.6 870.3 338.4 878 320.2 885.9 302 893.8 283.8 901.5 265.6 908.8 247.4 915.8 229.2" stroke="#000" stroke-width="1.5"/>
<path d="M836.6 494.9 837.2 486.5 837.9 478 838.8 469.6 839.9 461.2 841.2 452.8 842.9 444.3 844.9 435.9 847.2 427.5 849.8 419.1 852.7 410.6 856.1 402.2 859.7 393.8" stroke="#000" stroke-width="1.5"/>
<path d="M836.8 445.4 837.2 436.2 837.7 427 838.3 417.7 839 408.5 839.7 399.2 840.5 390 841.4 380.7 842.4 371.5 843.4 362.2 844.5 353 845.6 343.7 846.7 334.5" stroke="#000" stroke-width="1.5"/>
<path d="M888.4 366.6 891.9 362.2 895.5 357.7 899.2 353.3 902.9 348.9 906.8 344.5 910.7 340 914.6 335.6 918.6 331.2 922.7 326.7 926.7 322.3 930.8 317.9 935 313.4" stroke="#000" stroke-width="1.5"/>
<path d="M912.5 312.2 917.6 304.9 922.8 297.7 928 290.5 933.1 283.2 938.2 276 943.2 268.8 948.2 261.5 953 254.3 957.8 247.1 962.4 239.8 966.9 232.6 971.3 225.4" stroke="#000" stroke-width="1.5"/>
<path d="M852.4 365.7 855.4 353.9 858.6 342.1 861.9 330.3 865.4 318.4 868.8 306.6 872.3 294.8 875.8 282.9 879.2 271.1 882.5 259.3 885.7 247.5 888.8 235.6 891.7 223.8" stroke="#000" stroke-width="1.5"/>
<path d="M836.8 476.4 840.4 451.2 846.5 426.1 855.7 401 867.9 375.8 882.6 350.7 898.9 325.6 916 300.4 933.1 275.3 949.3 250.2 964.4 225.1 977.9 199.9 989.8 174.8" stroke="#000" stroke-width="1.5"/>
<path d="M836 489.3 836.9 476.7 838.1 464.2 839.8 451.7 842 439.1 844.8 426.6 848.3 414.1 852.3 401.5 857 389 862.3 376.5 868.1 364 874.3 351.4 880.9 338.9" stroke="#000" stroke-width="1.5"/>
<path d="M838.1 431.3 838.5 425.8 838.9 420.2 839.3 414.7 839.8 409.1 840.3 403.6 840.8 398 841.3 392.5 841.9 387 842.5 381.4 843.2 375.9 843.9 370.3 844.6 364.8" stroke="#000" stroke-width="1.5"/>
<path d="M837.8 444.2 838.6 434.9 839.5 425.5 840.5 416.2 841.8 406.8 843.1 397.5 844.6 388.1 846.3 378.8 848 369.4 849.9 360.1 851.9 350.8 853.9 341.4 856 332.1" stroke="#000" stroke-width="1.5"/>
<path d="M866.7 310.6 869.1 302.5 871.4 294.4 873.8 286.2 876.1 278.1 878.4 269.9 880.7 261.8 882.9 253.6 885 245.5 887.1 237.4 889.1 229.2 891.1 221.1 893 212.9" stroke="#000" stroke-width="1.5"/>
<path d="M844.3 416.3 844.9 413.4 845.6 410.5 846.3 407.7 847 404.8 847.7 402 848.5 399.1 849.3 396.3 850.1 393.4 851 390.6 851.9 387.7 852.7 384.9 853.7 382" stroke="#000" stroke-width="1.5"/>
<path d="M838.5 455.5 840.9 440.3 844 425.1 847.9 409.9 852.7 394.6 858.4 379.4 864.7 364.2 871.6 349 879 333.7 886.7 318.5 894.5 303.3 902.3 288.1 909.9 272.9" stroke="#000" stroke-width="1.5"/>
<path d="M849.8 390 853.1 378.7 856.6 367.4 860.4 356.1 864.4 344.8 868.6 333.5 872.9 322.2 877.3 310.9 881.7 299.6 886.1 288.3 890.5 277 894.8 265.7 898.9 254.4" stroke="#000" stroke-width="1.5"/>
<path d="M843.6 400 844 397.7 844.5 395.3 844.9 393 845.4 390.6 845.8 388.3 846.3 385.9 846.8 383.6 847.3 381.3 847.8 378.9 848.3 376.6 848.8 374.2 849.3 371.9" stroke="#000" stroke-width="1.5"/>
<path d="M840.4 430.1 841.3 423.2 842.3 416.3 843.4 409.4 844.5 402.5 845.8 395.7 847.1 388.8 848.6 381.9 850.1 375 851.7 368.1 853.4 361.2 855.2 354.3 857 347.5" stroke="#000" stroke-width="1.5"/>
<path d="M836.2 481.2 837.5 469.9 839.4 458.5 841.9 447.1 845 435.7 848.8 424.4 853.3 413 858.6 401.6 864.6 390.2 871.3 378.9 878.7 367.5 886.5 356.1 894.9 344.7" stroke="#000" stroke-width="1.5"/>
<path d="M840.1 438.4 842.5 423 845.5 407.7 849.1 392.3 853.2 377 857.9 361.6 863.1 346.3 868.5 330.9 874.1 315.6 879.8 300.3 885.5 284.9 891 269.6 896.4 254.2" stroke="#000" stroke-width="1.5"/>
<path d="M840.7 417.7 841.4 413 842.1 408.3 842.8 403.6 843.6 398.9 844.4 394.2 845.2 389.5 846.1 384.8 847 380.1 848 375.4 849 370.7 850 366 851.1 361.3" stroke="#000" stroke-width="1.5"/>
<path d="M838.2 433.8 838.5 430.6 838.7 427.5 839 424.3 839.3 421.1 839.6 417.9 839.9 414.7 840.2 411.5 840.5 408.3 840.8 405.1 841.2 401.9 841.6 398.7 842 395.5" stroke="#000" stroke-width="1.5"/>
<path d="M839.2 454.5 842.5 439.5 846.9 424.6 852.5 409.6 859.3 394.6 867.1 379.6 876 364.6 885.7 349.6 896 334.7 906.7 319.7 917.7 304.7 928.6 289.7 939.4 274.7" stroke="#000" stroke-width="1.5"/>
<path d="M855.1 352.9 856.2 348.8 857.2 344.7 858.3 340.6 859.4 336.5 860.5 332.4 861.7 328.3 862.8 324.2 864 320.1 865.1 316 866.3 311.9 867.4 307.8 868.6 303.7" stroke="#000" stroke-width="1.5"/>
<path d="M866.1 330.3 868.6 322.8 871.1 315.2 873.7 307.6 876.3 300 878.9 292.4 881.5 284.8 884 277.3 886.5 269.7 889 262.1 891.4 254.5 893.7 246.9 896.1 239.3" stroke="#000" stroke-width="1.5"/>
<path d="M850.6 413.2 851.8 409.7 853.1 406.2 854.4 402.6 855.8 399.1 857.2 395.5 858.7 392 860.2 388.4 861.8 384.9 863.5 381.4 865.1 377.8 866.9 374.3 868.6 370.7" stroke="#000" stroke-width="1.5"/>
<path d="M836.8 446.4 837 439 837.3 431.6 837.6 424.3 838 416.9 838.4 409.6 838.9 402.2 839.4 394.8 839.9 387.5 840.5 380.1 841.1 372.8 841.7 365.4 842.3 358" stroke="#000" stroke-width="1.5"/>
<path d="M836 500.2 836.4 484.2 836.9 468.3 837.7 452.3 838.8 436.4 840.3 420.4 842.2 404.5 844.4 388.5 847.1 372.5 850 356.6 853.2 340.6 856.6 324.7 860 308.7" stroke="#000" stroke-width="1.5"/>
<path d="M839.5 457 842.2 445.5 845.5 433.9 849.6 422.4 854.5 410.8 860.2 399.3 866.6 387.8 873.8 376.2 881.5 364.7 889.9 353.1 898.6 341.6 907.8 330.1 917.1 318.5" stroke="#000" stroke-width="1.5"/>
<path d="M836.7 484.6 838.3 467 840.8 449.3 844.5 431.7 849.5 414 855.8 396.4 863.4 378.7 872.1 361.1 881.7 343.4 891.9 325.8 902.5 308.1 913.1 290.5 923.5 272.8" stroke="#000" stroke-width="1.5"/>
<path d="M883.5 316.3 887.3 308.3 891.1 300.3 894.9 292.4 898.7 284.4 902.5 276.4 906.2 268.4 909.8 260.5 913.4 252.5 916.9 244.5 920.2 236.5 923.5 228.6 926.7 220.6" stroke="#000" stroke-width="1.5"/>
<path d="M837.9 455.2 839.2 439.7 841 424.1 843.2 408.5 846 393 849.2 377.4 852.8 361.9 856.7 346.3 860.9 330.8 865.2 315.2 869.6 299.7 874 284.1 878.3 268.6" stroke="#000" stroke-width="1.5"/>
<path d="M853.3 348.7 854.8 341.8 856.4 335 858 328.1 859.6 321.3 861.3 314.4 862.9 307.5 864.6 300.7 866.2 293.8 867.9 287 869.5 280.1 871.1 273.3 872.7 266.4" stroke="#000" stroke-width="1.5"/>
<path d="M838 459.4 839.1 449.1 840.3 438.9 841.9 428.7 843.7 418.4 845.8 408.2 848.2 398 850.9 387.8 853.8 377.5 857 367.3 860.4 357.1 863.9 346.8 867.7 336.6" stroke="#000" stroke-width="1.5"/>
<path d="M842 433.2 843.5 426.4 845.2 419.6 847 412.7 849.1 405.9 851.3 399.1 853.7 392.2 856.2 385.4 858.9 378.6 861.8 371.7 864.8 364.9 867.9 358.1 871.1 351.2" stroke="#000" stroke-width="1.5"/>
<path d="M845.9 399.7 849 385.6 852.4 371.5 856.2 357.4 860.3 343.4 864.6 329.3 869 315.2 873.5 301.1 878 287 882.4 272.9 886.6 258.8 890.7 244.8 894.7 230.7" stroke="#000" stroke-width="1.5"/>
<path d="M836.7 444.5 836.9 437.9 837.1 431.3 837.3 424.8 837.5 418.2 837.8 411.6 838.1 405.1 838.4 398.5 838.7 391.9 839.1 385.4 839.5 378.8 839.9 372.2 840.3 365.7" stroke="#000" stroke-width="1.5"/>
<path d="M836.2 486.2 839 461.8 844 437.3 851.8 412.9 862.6 388.5 876.2 364 891.8 339.6 908.7 315.1 925.9 290.7 942.8 266.3 958.8 241.8 973.5 217.4 986.6 193" stroke="#000" stroke-width="1.5"/>
<path d="M859.8 393.7 863.2 386.8 866.9 379.9 870.7 373.1 874.8 366.2 879 359.3 883.3 352.4 887.8 345.5 892.4 338.6 897.2 331.7 902 324.8 906.8 318 911.7 311.1" stroke="#000" stroke-width="1.5"/>
<path d="M842.1 423.7 842.9 419.3 843.7 414.9 844.5 410.5 845.4 406.1 846.4 401.7 847.4 397.3 848.4 392.9 849.5 388.5 850.7 384.1 851.9 379.7 853.1 375.3 854.3 371" stroke="#000" stroke-width="1.5"/>
<path d="M859.1 394.1 867.9 377.1 877.8 360.1 888.7 343.1 900.2 326.1 912.1 309.1 924.1 292.1 935.9 275.1 947.4 258.1 958.4 241.1 968.7 224.1 978.3 207.1 987.1 190.1" stroke="#000" stroke-width="1.5"/>
<path d="M871.7 327.3 876.8 314.1 882.1 300.9 887.3 287.7 892.4 274.5 897.4 261.3 902.3 248 906.9 234.8 911.3 221.6 915.5 208.4 919.4 195.2 923.1 182 926.5 168.8" stroke="#000" stroke-width="1.5"/>
<path d="M892.8 313.4 899 302.2 905.3 291 911.5 279.8 917.5 268.7 923.5 257.5 929.2 246.3 934.7 235.1 940 224 945.1 212.8 949.9 201.6 954.4 190.4 958.7 179.3" stroke="#000" stroke-width="1.5"/>
<path d="M857.7 371.4 861.8 360.5 866.1 349.5 870.6 338.6 875.3 327.6 880.1 316.7 884.9 305.7 889.8 294.8 894.6 283.8 899.3 272.9 904 261.9 908.5 251 912.9 240" stroke="#000" stroke-width="1.5"/>
<path d="M836.3 473.6 837.3 460.5 838.7 447.3 840.5 434.2 842.7 421.1 845.5 408 848.7 394.9 852.4 381.8 856.5 368.6 861 355.5 865.8 342.4 870.7 329.3 875.9 316.2" stroke="#000" stroke-width="1.5"/>
<path d="M836.6 455.9 837.1 447.4 837.8 438.9 838.5 430.3 839.4 421.8 840.4 413.3 841.5 404.8 842.8 396.3 844.1 387.8 845.6 379.3 847.1 370.8 848.8 362.3 850.5 353.7" stroke="#000" stroke-width="1.5"/>
<path d="M836 482.4 836.2 473.8 836.4 465.2 836.6 456.7 836.9 448.1 837.2 439.5 837.6 431 838.1 422.4 838.6 413.8 839.2 405.2 839.9 396.7 840.6 388.1 841.4 379.5" stroke="#000" stroke-width="1.5"/>
<path d="M858.1 357.7 859.9 352 861.7 346.2 863.6 340.4 865.5 334.6 867.4 328.9 869.4 323.1 871.4 317.3 873.4 311.6 875.4 305.8 877.4 300 879.4 294.2 881.4 288.5" stroke="#000" stroke-width="1.5"/>
<path d="M836.2 492.1 836.3 483.5 836.6 475 836.9 466.4 837.2 457.8 837.7 449.2 838.2 440.7 838.9 432.1 839.6 423.5 840.5 414.9 841.4 406.4 842.5 397.8 843.7 389.2" stroke="#000" stroke-width="1.5"/>
<path d="M836.2 474.5 836.6 465.8 837 457.2 837.6 448.5 838.4 439.9 839.2 431.3 840.2 422.6 841.3 414 842.6 405.3 844 396.7 845.5 388.1 847.1 379.4 848.9 370.8" stroke="#000" stroke-width="1.5"/>
<path d="M845.8 392.4 846.9 386.9 848 381.5 849.2 376 850.4 370.6 851.7 365.1 853 359.6 854.3 354.2 855.7 348.7 857.1 343.3 858.6 337.8 860 332.4 861.5 326.9" stroke="#000" stroke-width="1.5"/>
<path d="M845.8 367.3 846.5 362.3 847.3 357.3 848.1 352.3 848.9 347.3 849.8 342.3 850.6 337.3 851.5 332.3 852.3 327.3 853.2 322.3 854.1 317.3 855 312.4 855.9 307.4" stroke="#000" stroke-width="1.5"/>
<path d="M843.2 411.7 846.3 395.1 849.8 378.5 853.9 361.9 858.4 345.3 863.1 328.7 868.1 312.2 873.1 295.6 878 279 882.8 262.4 887.4 245.8 891.8 229.2 895.8 212.6" stroke="#000" stroke-width="1.5"/>
<path d="M837.9 399.3 838.1 394 838.3 388.6 838.5 383.3 838.8 377.9 839 372.5 839.3 367.2 839.6 361.8 839.8 356.5 840.1 351.1 840.4 345.7 840.7 340.4 841 335" stroke="#000" stroke-width="1.5"/>
<path d="M838 446.6 840 432.3 842.6 418.1 845.8 403.8 849.6 389.5 854 375.2 858.8 360.9 864 346.6 869.5 332.4 875.2 318.1 881 303.8 886.7 289.5 892.5 275.2" stroke="#000" stroke-width="1.5"/>
<path d="M836 492.5 837.2 475.4 839.2 458.3 842.2 441.1 846.4 424 851.9 406.8 858.6 389.7 866.6 372.6 875.5 355.4 885.2 338.3 895.3 321.1 905.8 304 916.2 286.9" stroke="#000" stroke-width="1.5"/>
<path d="M845.4 388.8 847 380.4 848.6 372 850.4 363.5 852.3 355.1 854.2 346.7 856.3 338.2 858.3 329.8 860.4 321.4 862.5 313 864.7 304.5 866.8 296.1 868.9 287.7" stroke="#000" stroke-width="1.5"/>
<path d="M836.2 488.4 836.4 482.4 836.5 476.5 836.7 470.6 837 464.6 837.2 458.7 837.6 452.8 837.9 446.8 838.3 440.9 838.8 435 839.3 429 839.8 423.1 840.4 417.2" stroke="#000" stroke-width="1.5"/>
<path d="M839.9 428.2 840.7 422.5 841.6 416.8 842.6 411.1 843.7 405.4 844.9 399.7 846.1 394 847.4 388.3 848.8 382.6 850.3 376.9 851.8 371.2 853.4 365.5 855 359.8" stroke="#000" stroke-width="1.5"/>
<path d="M836.1 473.6 836.3 464 836.5 454.5 836.8 444.9 837.2 435.4 837.6 425.8 838.1 416.3 838.7 406.7 839.4 397.2 840.1 387.6 840.9 378.1 841.8 368.6 842.7 359" stroke="#000" stroke-width="1.5"/>
<path d="M836.4 388.6 836.5 382.6 836.6 376.5 836.6 370.5 836.7 364.5 836.8 358.4 836.8 352.4 836.9 346.3 837 340.3 837 334.3 837.1 328.2 837.2 322.2 837.3 316.2" stroke="#000" stroke-width="1.5"/>
<path d="M836.7 452.4 836.9 448.1 837 443.8 837.1 439.6 837.3 435.3 837.4 431 837.6 426.8 837.8 422.5 838 418.2 838.2 413.9 838.4 409.7 838.7 405.4 838.9 401.1" stroke="#000" stroke-width="1.5"/>
<path d="M841 410.2 841.4 406.8 841.9 403.4 842.3 400.1 842.8 396.7 843.3 393.3 843.8 390 844.3 386.6 844.8 383.2 845.3 379.9 845.9 376.5 846.5 373.2 847 369.8" stroke="#000" stroke-width="1.5"/>
<path d="M841.8 441 842.6 437.1 843.4 433.3 844.3 429.5 845.2 425.6 846.2 421.8 847.2 418 848.3 414.1 849.5 410.3 850.7 406.5 852 402.6 853.4 398.8 854.7 395" stroke="#000" stroke-width="1.5"/>
<path d="M842.8 460.3 843.6 457.5 844.4 454.8 845.3 452 846.3 449.2 847.3 446.4 848.3 443.7 849.4 440.9 850.6 438.1 851.8 435.3 853.2 432.6 854.5 429.8 856 427" stroke="#000" stroke-width="1.5"/>
<path d="M836.2 470.4 836.5 461.2 837 452 837.6 442.8 838.3 433.6 839.1 424.4 840.1 415.2 841.2 405.9 842.4 396.7 843.7 387.5 845.1 378.3 846.7 369.1 848.3 359.9" stroke="#000" stroke-width="1.5"/>
<path d="M836 498.5 836.2 489.9 836.4 481.2 836.7 472.5 837 463.8 837.5 455.1 838 446.5 838.6 437.8 839.4 429.1 840.3 420.4 841.3 411.7 842.4 403.1 843.6 394.4" stroke="#000" stroke-width="1.5"/>
<path d="M836.7 453.3 837.1 443.2 837.5 433.2 838.1 423.1 838.7 413.1 839.5 403 840.3 393 841.2 382.9 842.2 372.9 843.3 362.8 844.4 352.8 845.6 342.7 846.8 332.7" stroke="#000" stroke-width="1.5"/>
<path d="M836.4 448.5 836.5 442.6 836.7 436.7 836.9 430.8 837.1 424.8 837.3 418.9 837.5 413 837.8 407.1 838.1 401.2 838.4 395.3 838.7 389.4 839 383.5 839.4 377.6" stroke="#000" stroke-width="1.5"/>
<path d="M836 496.8 836.3 484 836.7 471.2 837.3 458.3 838.2 445.5 839.3 432.7 840.6 419.9 842.3 407.1 844.2 394.2 846.3 381.4 848.8 368.6 851.4 355.8 854.2 343" stroke="#000" stroke-width="1.5"/>
<path d="M838.5 462.6 839.1 457.8 839.8 452.9 840.6 448.1 841.5 443.2 842.4 438.4 843.5 433.5 844.6 428.7 845.8 423.8 847.2 419 848.6 414.1 850.1 409.3 851.7 404.4" stroke="#000" stroke-width="1.5"/>
<path d="M836.5 386.1 836.5 378.3 836.6 370.5 836.7 362.7 836.7 354.9 836.8 347 836.9 339.2 837 331.4 837.1 323.6 837.2 315.8 837.3 308 837.4 300.2 837.4 292.4" stroke="#000" stroke-width="1.5"/>
<path d="M837 471.9 837.5 465.6 838 459.3 838.7 452.9 839.5 446.6 840.4 440.3 841.4 434 842.5 427.7 843.7 421.4 845 415.1 846.5 408.8 848.1 402.5 849.8 396.2" stroke="#000" stroke-width="1.5"/>
<path d="M836.6 465.2 836.8 458.8 837.2 452.4 837.5 446 837.9 439.7 838.4 433.3 838.9 426.9 839.5 420.5 840.2 414.1 840.9 407.7 841.6 401.3 842.4 394.9 843.3 388.5" stroke="#000" stroke-width="1.5"/>
<path d="M837.7 455.3 838 451.5 838.3 447.8 838.6 444.1 838.9 440.4 839.3 436.6 839.6 432.9 840 429.2 840.5 425.5 840.9 421.7 841.4 418 841.9 414.3 842.5 410.6" stroke="#000" stroke-width="1.5"/>
<path d="M841.4 425.8 842.2 420.1 843.2 414.3 844.2 408.5 845.3 402.8 846.5 397 847.7 391.3 849 385.5 850.4 379.8 851.9 374 853.4 368.3 854.9 362.5 856.5 356.7" stroke="#000" stroke-width="1.5"/>
<path d="M836.2 505.5 836.6 499 837.2 492.5 837.9 485.9 838.7 479.4 839.8 472.9 841 466.4 842.5 459.9 844.3 453.4 846.3 446.9 848.6 440.4 851.2 433.9 854.1 427.3" stroke="#000" stroke-width="1.5"/>
<path d="M836.2 482.1 836.6 469.8 837 457.5 837.6 445.2 838.4 433 839.4 420.7 840.6 408.4 841.9 396.1 843.4 383.8 845.2 371.6 847 359.3 849 347 851.1 334.7" stroke="#000" stroke-width="1.5"/>
<path d="M836.1 499 836.4 486.8 836.8 474.6 837.4 462.4 838.2 450.2 839.3 438 840.6 425.8 842.2 413.5 844.1 401.3 846.3 389.1 848.8 376.9 851.4 364.7 854.3 352.5" stroke="#000" stroke-width="1.5"/>
<path d="M836.4 487.8 836.5 482.4 836.7 477 836.9 471.6 837.1 466.2 837.4 460.7 837.7 455.3 838 449.9 838.4 444.5 838.9 439 839.3 433.6 839.9 428.2 840.4 422.8" stroke="#000" stroke-width="1.5"/>
<path d="M838.6 451.8 839.4 445.4 840.3 439.1 841.4 432.7 842.5 426.4 843.8 420 845.2 413.7 846.7 407.3 848.3 401 850.1 394.6 852 388.3 853.9 381.9 856 375.6" stroke="#000" stroke-width="1.5"/>
<path d="M837.3 451.5 837.8 440.4 838.6 429.3 839.4 418.1 840.4 407 841.6 395.9 842.9 384.7 844.3 373.6 845.9 362.5 847.5 351.3 849.3 340.2 851.1 329.1 852.9 317.9" stroke="#000" stroke-width="1.5"/>
<path d="M836.8 474.7 837.2 471.2 837.7 467.7 838.3 464.2 838.8 460.8 839.5 457.3 840.2 453.8 840.9 450.3 841.8 446.8 842.6 443.3 843.6 439.8 844.6 436.4 845.6 432.9" stroke="#000" stroke-width="1.5"/>
<path d="M840.6 415 841.6 407.3 842.6 399.5 843.8 391.7 845 384 846.3 376.2 847.7 368.4 849.2 360.7 850.7 352.9 852.3 345.2 853.9 337.4 855.6 329.6 857.3 321.9" stroke="#000" stroke-width="1.5"/>
<path d="M836.1 469.5 836.2 462.8 836.2 456.2 836.3 449.5 836.4 442.9 836.5 436.2 836.6 429.5 836.7 422.9 836.9 416.2 837 409.6 837.2 402.9 837.4 396.2 837.6 389.6" stroke="#000" stroke-width="1.5"/>
<path d="M836.4 451.3 836.6 445.5 836.7 439.7 836.9 433.9 837.1 428.1 837.3 422.3 837.6 416.5 837.8 410.7 838.1 404.9 838.4 399.1 838.7 393.3 839 387.6 839.4 381.8" stroke="#000" stroke-width="1.5"/>
<path d="M836.2 472.5 836.7 462.1 837.4 451.7 838.2 441.3 839.2 430.9 840.4 420.5 841.8 410.1 843.4 399.7 845.2 389.3 847.2 378.9 849.4 368.5 851.7 358.1 854.1 347.7" stroke="#000" stroke-width="1.5"/>
<path d="M837.2 464.3 837.9 455.5 838.6 446.7 839.6 437.9 840.7 429 842 420.2 843.4 411.4 845.1 402.5 846.9 393.7 848.9 384.9 851 376 853.3 367.2 855.7 358.4" stroke="#000" stroke-width="1.5"/>
<path d="M838 383.6 838.2 379.5 838.3 375.3 838.5 371.1 838.6 367 838.8 362.8 839 358.6 839.2 354.5 839.4 350.3 839.5 346.1 839.7 342 839.9 337.8 840.1 333.6" stroke="#000" stroke-width="1.5"/>
<path d="M836.3 459.2 836.8 447 837.5 434.8 838.3 422.7 839.2 410.5 840.4 398.4 841.7 386.2 843.1 374.1 844.7 361.9 846.4 349.8 848.1 337.6 850 325.5 851.8 313.3" stroke="#000" stroke-width="1.5"/>
<path d="M836 501.2 836.4 493.7 836.8 486.2 837.3 478.7 838 471.2 838.8 463.7 839.8 456.2 840.9 448.7 842.3 441.2 843.9 433.7 845.7 426.3 847.8 418.8 850 411.3" stroke="#000" stroke-width="1.5"/>
<path d="M836.7 450.2 837.2 440.6 837.8 430.9 838.5 421.2 839.3 411.5 840.2 401.8 841.2 392.1 842.3 382.4 843.5 372.7 844.8 363 846.1 353.3 847.5 343.6 849 333.9" stroke="#000" stroke-width="1.5"/>
<path d="M836.1 465.2 836.4 457 836.7 448.9 837.2 440.8 837.7 432.7 838.3 424.5 839 416.4 839.7 408.3 840.5 400.2 841.4 392.1 842.4 383.9 843.5 375.8 844.6 367.7" stroke="#000" stroke-width="1.5"/>
<path d="M836.6 424 836.8 414.1 837 404.2 837.2 394.2 837.4 384.3 837.7 374.4 838 364.4 838.3 354.5 838.6 344.6 839 334.6 839.3 324.7 839.6 314.8 840 304.8" stroke="#000" stroke-width="1.5"/>
<path d="M841.2 426.7 841.7 424.1 842.3 421.5 842.8 418.9 843.4 416.3 844 413.7 844.6 411 845.2 408.4 845.9 405.8 846.5 403.2 847.2 400.6 847.9 398 848.7 395.4" stroke="#000" stroke-width="1.5"/>
<path d="M836.1 472 836.6 461.8 837.3 451.5 838.1 441.2 839.1 430.9 840.3 420.7 841.7 410.4 843.3 400.1 845.1 389.9 847.1 379.6 849.2 369.3 851.5 359.1 853.9 348.8" stroke="#000" stroke-width="1.5"/>
<path d="M836.2 465.7 836.4 452.4 836.7 439.1 837 425.7 837.4 412.4 837.9 399.1 838.5 385.8 839.2 372.5 839.9 359.1 840.6 345.8 841.4 332.5 842.3 319.2 843.1 305.9" stroke="#000" stroke-width="1.5"/>
<path d="M840.1 386.2 841.7 366.3 843.4 346.4 845.4 326.5 847.4 306.5 849.4 286.6 851.3 266.7 853.2 246.8 854.9 226.8 856.6 206.9 858 187 859.3 167.1 860.5 147.1" stroke="#000" stroke-width="1.5"/>
<path d="M841.8 407.7 844.9 385.9 848.7 364.2 852.9 342.5 857.5 320.8 862.2 299.1 866.9 277.4 871.5 255.7 875.7 234 879.6 212.3 883.2 190.6 886.4 168.9 889.1 147.2" stroke="#000" stroke-width="1.5"/>
<path d="M836.5 485.8 837.8 457.5 840.5 429.3 844.8 401.1 850.7 372.9 857.9 344.7 865.9 316.4 874.1 288.2 882 260 889.4 231.8 896 203.6 901.8 175.4 906.7 147.1" stroke="#000" stroke-width="1.5"/>
<path d="M852.1 372 857.5 353.1 863.5 334.3 869.8 315.4 876.2 296.5 882.5 277.6 888.7 258.7 894.5 239.9 899.9 221 905 202.1 909.5 183.2 913.7 164.3 917.3 145.5" stroke="#000" stroke-width="1.5"/>
<path d="M848.4 398.1 854.2 377.1 860.9 356.2 868.5 335.3 876.4 314.4 884.5 293.5 892.5 272.5 900.1 251.6 907.3 230.7 913.9 209.8 919.9 188.8 925.3 167.9 930 147" stroke="#000" stroke-width="1.5"/>
<path d="M849.4 394.5 855.8 373.8 863.1 353.1 871.1 332.4 879.6 311.7 888.2 291 896.6 270.3 904.7 249.6 912.2 228.9 919.2 208.2 925.5 187.6 931.1 166.9 936.1 146.2" stroke="#000" stroke-width="1.5"/>
<path d="M844.6 419.9 850.6 397.1 858.3 374.4 867.4 351.6 877.4 328.8 887.9 306 898.4 283.2 908.6 260.4 918.3 237.7 927.1 214.9 935.1 192.1 942.2 169.3 948.4 146.5" stroke="#000" stroke-width="1.5"/>
<path d="M856.4 388.5 864.4 368.4 873.6 348.3 883.6 328.2 894 308.1 904.4 288 914.6 267.9 924.4 247.8 933.6 227.7 942 207.6 949.7 187.5 956.6 167.4 962.7 147.3" stroke="#000" stroke-width="1.5"/>
<path d="M841.4 442.8 847 418.1 855.1 393.5 865.4 368.8 877.6 344.1 890.8 319.5 904.5 294.8 917.9 270.1 930.7 245.4 942.5 220.8 953.1 196.1 962.4 171.4 970.5 146.8" stroke="#000" stroke-width="1.5"/>
<path d="M840 453 845.2 427.5 853 402 863.4 376.5 876.1 351 890.1 325.4 904.9 299.9 919.6 274.4 933.6 248.9 946.5 223.4 958 197.9 968.2 172.4 977 146.9" stroke="#000" stroke-width="1.5"/>
<path d="M852.8 405.5 861.5 384 871.9 362.5 883.7 340.9 896.4 319.4 909.4 297.9 922.3 276.3 934.7 254.8 946.4 233.3 957.1 211.7 966.8 190.2 975.5 168.7 983.1 147.1" stroke="#000" stroke-width="1.5"/>
<path d="M852.1 409.4 861 387.5 871.9 365.7 884.3 343.8 897.7 321.9 911.6 300.1 925.3 278.2 938.7 256.4 951.2 234.5 962.7 212.6 973.1 190.8 982.3 168.9 990.5 147" stroke="#000" stroke-width="1.5"/>
<path d="M854.2 405 863.7 383.5 875.1 362 888 340.5 901.8 319 916 297.5 930 276 943.5 254.5 956.2 233 967.9 211.5 978.5 190 987.9 168.5 996.2 147" stroke="#000" stroke-width="1.5"/>
<path d="M857.3 400.2 867.5 379.1 879.4 358 892.6 337 906.8 315.9 921.2 294.8 935.4 273.7 949 252.6 961.9 231.6 973.7 210.5 984.4 189.4 993.9 168.3 1002.3 147.2" stroke="#000" stroke-width="1.5"/>
<path d="M859 397.7 869.5 376.8 881.8 355.9 895.5 335.1 909.9 314.2 924.6 293.3 939.1 272.4 953 251.5 966 230.7 978 209.8 988.9 188.9 998.6 168 1007.2 147.2" stroke="#000" stroke-width="1.5"/>
<path d="M853.3 363.3 858.1 345.8 863.2 328.3 868.4 310.7 873.8 293.2 879 275.7 884.1 258.2 888.9 240.7 893.5 223.2 897.7 205.7 901.6 188.2 905.1 170.7 908.3 153.2" stroke="#000" stroke-width="1.5"/>
<path d="M857.2 403.8 867.8 382.9 880.5 362.1 894.8 341.2 910 320.4 925.7 299.5 941.3 278.6 956.4 257.8 970.7 236.9 983.9 216.1 995.9 195.2 1006.7 174.4 1016.2 153.5" stroke="#000" stroke-width="1.5"/>
<path d="M866.6 387.2 879.3 367 893.7 346.9 909.3 326.7 925.6 306.6 941.9 286.4 957.8 266.3 973 246.1 987.2 226 1000.3 205.8 1012.1 185.7 1022.7 165.5 1032.2 145.4" stroke="#000" stroke-width="1.5"/>
<path d="M874.1 376.8 887.3 358 901.9 339.2 917.3 320.4 933.1 301.6 948.9 282.8 964.2 264 978.9 245.2 992.7 226.4 1005.4 207.6 1017.1 188.8 1027.6 170 1037.1 151.3" stroke="#000" stroke-width="1.5"/>
<path d="M846.7 397.5 852.1 377.6 858.3 357.7 865.3 337.8 872.6 317.9 880.1 298 887.6 278.1 894.8 258.3 901.7 238.4 908.1 218.5 913.9 198.6 919.2 178.7 923.9 158.8" stroke="#000" stroke-width="1.5"/>
<path d="M858.5 372.1 865.4 354.9 872.9 337.6 880.8 320.4 888.8 303.2 896.9 285.9 904.8 268.7 912.4 251.4 919.6 234.2 926.3 216.9 932.6 199.7 938.3 182.5 943.5 165.2" stroke="#000" stroke-width="1.5"/>
<path d="M848.3 410.9 855 390.2 863.2 369.6 872.5 348.9 882.7 328.2 893.3 307.5 903.9 286.8 914.3 266.2 924.3 245.5 933.5 224.8 942 204.1 949.7 183.5 956.6 162.8" stroke="#000" stroke-width="1.5"/>
<path d="M855.5 393.5 863.9 375.2 873.4 356.8 883.8 338.4 894.9 320.1 906.2 301.7 917.4 283.3 928.4 265 939 246.6 948.9 228.3 958.1 209.9 966.5 191.5 974.1 173.2" stroke="#000" stroke-width="1.5"/>
<path d="M856.7 399.7 865.9 380.4 876.7 361.1 888.7 341.9 901.4 322.6 914.6 303.3 927.8 284.1 940.6 264.8 952.9 245.5 964.4 226.2 975 207 984.6 187.7 993.3 168.4" stroke="#000" stroke-width="1.5"/>
<path d="M837.3 406.7 838 388.2 838.8 369.7 839.7 351.2 840.7 332.8 841.7 314.3 842.8 295.8 843.8 277.3 844.8 258.8 845.8 240.3 846.7 221.8 847.5 203.3 848.3 184.8" stroke="#000" stroke-width="1.5"/>
<path d="M836.4 434.3 836.6 418.5 836.8 402.7 837.1 386.9 837.5 371.1 837.9 355.4 838.3 339.6 838.7 323.8 839.2 308 839.6 292.2 840.1 276.4 840.5 260.6 840.9 244.8" stroke="#000" stroke-width="1.5"/>
<path d="M837.5 396.2 837.9 383.9 838.4 371.6 838.9 359.3 839.4 347 840 334.7 840.6 322.4 841.2 310.1 841.8 297.8 842.4 285.5 843 273.2 843.6 260.9 844.2 248.6" stroke="#000" stroke-width="1.5"/>
<path d="M839.4 393.9 840.3 380.2 841.4 366.5 842.6 352.9 843.9 339.2 845.2 325.6 846.6 311.9 847.9 298.2 849.3 284.6 850.6 270.9 851.9 257.3 853.2 243.6 854.4 230" stroke="#000" stroke-width="1.5"/>
<path d="M842.1 390.6 843.9 376 846 361.4 848.1 346.8 850.4 332.2 852.8 317.6 855.2 303 857.6 288.4 860 273.8 862.3 259.2 864.6 244.6 866.7 230 868.7 215.4" stroke="#000" stroke-width="1.5"/>
<path d="M841.8 408.2 843.7 394.1 845.9 380 848.4 365.9 851.1 351.8 853.9 337.7 856.9 323.6 860 309.4 863.1 295.3 866.2 281.2 869.1 267.1 872 253 874.8 238.9" stroke="#000" stroke-width="1.5"/>
<path d="M837.4 453.2 838.9 431.4 841.1 409.7 844.1 387.9 847.6 366.1 851.7 344.3 856.1 322.5 860.7 300.8 865.2 279 869.6 257.2 873.7 235.4 877.5 213.6 881 191.9" stroke="#000" stroke-width="1.5"/>
<path d="M843.4 404.1 846.8 385.4 850.7 366.8 855 348.1 859.8 329.5 864.7 310.8 869.7 292.2 874.6 273.6 879.3 254.9 883.8 236.3 887.9 217.6 891.8 199 895.3 180.3" stroke="#000" stroke-width="1.5"/>
<path d="M836.8 465.3 838.6 443.4 841.3 421.5 845.1 399.7 849.8 377.8 855.5 356 861.8 334.1 868.4 312.2 875.2 290.4 881.8 268.5 888.1 246.7 894 224.8 899.3 203" stroke="#000" stroke-width="1.5"/>
<path d="M844.1 458.1 846.7 450.8 849.6 443.5 853 436.2 856.9 428.9 861.3 421.6 866.2 414.4 871.6 407.1 877.5 399.8 883.9 392.5 890.8 385.2 898.1 378 905.9 370.7 914 363.4 922.5 356.1 931.3 348.8 940.4 341.5 949.6 334.3 959.1 327 968.7 319.7 978.4 312.4 988.1 305.1 997.8 297.8 1007.5 290.6 1017.2 283.3 1026.7 276 1036.2 268.7 1045.4 261.4 1054.5 254.2 1063.4 246.9 1072.1 239.6 1080.6 232.3 1088.8 225 1096.8 217.7 1104.6 210.5 1112 203.2 1119.2 195.9 1126.2 188.6 1132.8 181.3 1139.2 174 1145.4 166.8" stroke="#000" stroke-width="1.5"/>
<path d="M839.6 477.6 841.1 470.8 843 464 845.2 457.2 847.8 450.4 850.8 443.6 854.3 436.8 858.2 430 862.6 423.2 867.5 416.5 872.8 409.7 878.7 402.9 885 396.1 891.7 389.3 899 382.5 906.6 375.7 914.6 368.9 923 362.2 931.7 355.4 940.7 348.6 950 341.8 959.4 335 969.1 328.2 978.8 321.4 988.7 314.6 998.6 307.8 1008.5 301.1 1018.5 294.3 1028.4 287.5 1038.2 280.7 1047.9 273.9 1057.5 267.1 1066.9 260.3 1076.2 253.5 1085.3 246.8 1094.2 240 1102.8 233.2 1111.3 226.4 1119.5 219.6 1127.4 212.8 1135.2 206" stroke="#000" stroke-width="1.5"/>
<path d="M839.6 472.5 845.3 449.6 854.6 426.7 868.1 403.9 885.6 381 906.7 358.1 930.4 335.3 955.6 312.4 981.3 289.6 1006.4 266.7 1030.2 243.8 1052.3 221 1072.2 198.1" stroke="#000" stroke-width="1.5"/>
<path d="M839.8 469 844.7 448.4 852.3 427.7 862.8 407 876.4 386.4 892.8 365.7 911.3 345 931.3 324.4 952 303.7 972.7 283 992.8 262.4 1011.9 241.7 1029.7 221" stroke="#000" stroke-width="1.5"/>
<path d="M838.3 479.6 842.3 459 848.9 438.4 858.4 417.8 871.3 397.2 887.3 376.5 906 355.9 926.6 335.3 948.4 314.7 970.6 294.1 992.5 273.5 1013.6 252.8 1033.4 232.2" stroke="#000" stroke-width="1.5"/>
<path d="M836.5 495.9 838.5 477.8 842 459.8 847.4 441.8 855 423.7 865 405.7 877.4 387.7 892.1 369.6 908.6 351.6 926.5 333.6 945.2 315.5 964.2 297.5 983.1 279.5" stroke="#000" stroke-width="1.5"/>
<path d="M842.3 461.5 846.4 448.3 851.7 435.1 858.5 421.8 866.8 408.6 876.6 395.4 887.8 382.1 900.3 368.9 913.9 355.7 928.4 342.4 943.5 329.2 959.1 315.9 975 302.7" stroke="#000" stroke-width="1.5"/>
<path d="M841.7 458.4 845.2 444.7 849.9 431.1 855.8 417.4 863 403.8 871.4 390.1 880.9 376.5 891.5 362.8 902.9 349.2 915 335.5 927.6 321.9 940.4 308.2 953.3 294.6" stroke="#000" stroke-width="1.5"/>
<path d="M841.6 460.4 846.4 442.9 853.3 425.4 862.3 407.9 873.5 390.4 886.7 372.9 901.6 355.4 917.8 337.9 934.9 320.4 952.5 302.9 970 285.4 987.1 267.9 1003.6 250.4" stroke="#000" stroke-width="1.5"/>
<path d="M843.8 446.9 850.4 426.1 859.6 405.4 871.4 384.6 885.5 363.9 901.4 343.2 918.5 322.4 936.2 301.7 953.8 280.9 970.9 260.2 987.1 239.5 1002.1 218.7 1015.8 198" stroke="#000" stroke-width="1.5"/>
<path d="M836 534.1 836.1 522.8 836.2 511.4 836.5 500 836.8 488.7 837.4 477.3 838.1 465.9 839.1 454.6 840.4 443.2 842 431.8 843.9 420.5 846.2 409.1 848.9 397.7" stroke="#000" stroke-width="1.5"/>
<path d="M836 542.3 836.2 524.9 836.5 507.4 837.3 490 838.6 472.5 840.8 455.1 844.1 437.6 848.5 420.2 854.3 402.7 861.4 385.3 869.7 367.8 878.9 350.3 888.8 332.9" stroke="#000" stroke-width="1.5"/>
<path d="M836 534.6 836 524.3 836.1 513.9 836.2 503.6 836.3 493.3 836.5 482.9 836.7 472.6 837 462.3 837.5 451.9 838 441.6 838.7 431.3 839.4 420.9 840.3 410.6" stroke="#000" stroke-width="1.5"/>
<path d="M836 528.9 836.1 520.7 836.2 512.5 836.4 504.3 836.7 496.1 837 487.9 837.4 479.7 838 471.5 838.7 463.3 839.6 455.2 840.7 447 841.9 438.8 843.4 430.6" stroke="#000" stroke-width="1.5"/>
<path d="M836 550.8 836 537.1 836.1 523.4 836.2 509.6 836.4 495.9 836.8 482.2 837.4 468.4 838.2 454.7 839.3 441 840.7 427.2 842.5 413.5 844.6 399.8 847.1 386" stroke="#000" stroke-width="1.5"/>
<path d="M836 530.9 836.1 515 836.2 499.1 836.4 483.2 836.7 467.3 837.3 451.4 838 435.5 839 419.6 840.3 403.7 841.8 387.8 843.6 371.9 845.6 356 847.7 340.1" stroke="#000" stroke-width="1.5"/>
<path d="M836 549.1 836.1 533.3 836.2 517.6 836.5 501.9 836.9 486.1 837.8 470.4 839 454.6 840.8 438.9 843.2 423.2 846.2 407.4 849.9 391.7 854.2 376 859 360.2" stroke="#000" stroke-width="1.5"/>
<path d="M836 558.8 836 540 836.1 521.2 836.2 502.4 836.4 483.7 836.8 464.9 837.4 446.1 838.4 427.3 839.6 408.5 841.2 389.7 843.1 370.9 845.3 352.2 847.7 333.4" stroke="#000" stroke-width="1.5"/>
<path d="M836 544.6 836.1 526.7 836.3 508.9 836.6 491 837.3 473.2 838.4 455.3 840.1 437.5 842.5 419.6 845.6 401.8 849.3 384 853.7 366.1 858.6 348.3 863.8 330.4" stroke="#000" stroke-width="1.5"/>
<path d="M836 545.4 836.1 533.3 836.3 521.1 836.6 509 837.2 496.8 838 484.7 839.3 472.6 841.1 460.4 843.5 448.3 846.5 436.2 850.4 424 855 411.9 860.4 399.8" stroke="#000" stroke-width="1.5"/>
<path d="M836 529.9 836.1 513.5 836.4 497.1 836.9 480.8 837.7 464.4 838.9 448 840.7 431.6 843 415.2 845.8 398.8 849.3 382.5 853.2 366.1 857.5 349.7 862.2 333.3" stroke="#000" stroke-width="1.5"/>
<path d="M836 533 836.1 520.5 836.2 507.9 836.4 495.4 836.6 482.9 837.1 470.4 837.7 457.8 838.5 445.3 839.5 432.8 840.8 420.2 842.4 407.7 844.2 395.2 846.3 382.7" stroke="#000" stroke-width="1.5"/>
<path d="M836 554.7 836.1 536.4 836.2 518.1 836.6 499.7 837.3 481.4 838.6 463.1 840.6 444.8 843.5 426.5 847.4 408.2 852.3 389.9 858.2 371.5 864.8 353.2 871.9 334.9" stroke="#000" stroke-width="1.5"/>
<path d="M836 553.8 836.1 537.3 836.3 520.8 836.9 504.4 837.8 487.9 839.5 471.4 842.2 454.9 846.1 438.4 851.4 421.9 858.2 405.5 866.4 389 876 372.5 886.8 356" stroke="#000" stroke-width="1.5"/>
<path d="M832.7 527.4 832.8 526.5 832.9 525.7 832.9 524.8 833 524 833.1 523.1 833.1 522.3 833.2 521.4 833.3 520.6 833.4 519.7 833.5 518.8 833.6 518 833.7 517.1 833.8 516.3 833.9 515.4 834 514.6 834.1 513.7 834.2 512.9 834.4 512 834.5 511.1 834.6 510.3 834.8 509.4 834.9 508.6 835 507.7 835.2 506.9 835.3 506 835.5 505.2 835.7 504.3 835.9 503.4 836 502.6 836.2 501.7 836.4 500.9 836.6 500 836.8 499.2 837 498.3 837.2 497.5 837.5 496.6 837.7 495.8 837.9 494.9 838.2 494 838.5 493.2" stroke="#000" stroke-width="1.5"/>
<path d="M836 493.5 837.5 483.9 839.6 474.4 842.3 464.8 845.7 455.3 850 445.7 855.2 436.1 861.4 426.6 868.6 417 876.9 407.4 886.2 397.9 896.5 388.3 907.8 378.7 919.9 369.2 932.8 359.6 946.4 350 960.5 340.5 975.1 330.9 990 321.3 1005.1 311.8 1020.3 302.2 1035.5 292.6 1050.5 283.1 1065.4 273.5 1080 263.9 1094.3 254.4 1108.1 244.8 1121.6 235.2 1134.5 225.7 1146.9 216.1 1158.8 206.5 1170.2 197 1181 187.4 1191.3 177.9 1201.1 168.3 1210.3 158.7 1219 149.2 1227.1 139.6 1234.8 130 1242 120.5 1248.8 110.9" stroke="#000" stroke-width="1.5"/>
<path d="M838.5 493.2 840.4 487.3 842.8 481.4 845.7 475.5 849.1 469.6 853.1 463.8 857.8 457.9 863.1 452 869.2 446.1 876 440.2 883.7 434.3 892.2 428.5 901.6 422.6 911.8 416.7 923 410.8 935 404.9 947.9 399 961.6 393.2 976.2 387.3 991.6 381.4 1007.7 375.5 1024.6 369.6 1042.1 363.7 1060.2 357.9 1078.8 352 1098 346.1 1117.5 340.2 1137.5 334.3 1157.7 328.4 1178.2 322.5 1198.9 316.7 1219.7 310.8 1240.6 304.9 1261.5 299 1282.4 293.1 1303.1 287.2 1323.8 281.4 1344.2 275.5 1364.4 269.6 1384.4 263.7 1404.1 257.8" stroke="#000" stroke-width="1.5"/>
<path d="M840.5 454.5 845.8 429 853.9 403.4 864.9 377.9 878.1 352.4 893 326.8 908.7 301.3 924.3 275.7 939.2 250.2 953 224.6 965.3 199.1 976.2 173.6 985.6 148" stroke="#ee5fa0" stroke-width="1.5"/>
<path d="M840.3 454.7 845.4 429.5 853.2 404.2 863.7 378.9 876.4 353.7 890.7 328.4 905.8 303.1 920.8 277.9 935.3 252.6 948.7 227.3 960.8 202.1 971.4 176.8 980.7 151.5" stroke="#ee5fa0" stroke-width="1.5"/>
<path d="M839.6 454.5 843.9 429 850.5 403.4 859.3 377.9 870 352.4 882 326.8 894.6 301.3 907.2 275.7 919.2 250.2 930.3 224.6 940.2 199.1 949 173.6 956.6 148" stroke="#ee5fa0" stroke-width="1.5"/>
<path d="M839.1 454.7 842.8 429.5 848.4 404.2 855.9 378.9 865.1 353.7 875.4 328.4 886.3 303.1 897.1 277.9 907.5 252.6 917.2 227.3 925.9 202.1 933.6 176.8 940.2 151.5" stroke="#ee5fa0" stroke-width="1.5"/>
<path d="M840.1 455.1 844.9 430.3 852.1 405.5 861.8 380.7 873.6 355.9 887 331.1 901.2 306.2 915.4 281.4 929.1 256.6 942 231.8 953.6 207 963.9 182.2 972.9 157.3" stroke="#ee5fa0" stroke-width="1.5"/>
<path d="M838.5 466.9 840.6 450.3 843.6 433.7 847.6 417.2 852.7 400.6 858.9 384 866 367.4 873.8 350.9 882.2 334.3 891.1 317.7 900 301.1 909 284.6 917.7 268" stroke="#ee5fa0" stroke-width="1.5"/>
<path d="M837.5 471.7 838.7 457.1 840.3 442.6 842.6 428 845.4 413.5 848.8 398.9 852.8 384.4 857.4 369.8 862.4 355.3 867.8 340.7 873.4 326.2 879.2 311.6 885 297.1" stroke="#ee5fa0" stroke-width="1.5"/>
</g>
<text x="844" y="166" font-size="13.8" font-weight="normal" fill="#3c3cc8" text-anchor="middle">9.9.1</text>
<text x="1248" y="93.5" font-size="13.8" font-weight="normal" fill="#3c3cc8" text-anchor="middle">1.1.1</text>
<text x="1403" y="240.5" font-size="13.8" font-weight="normal" fill="#3c3cc8" text-anchor="middle">4.11.1</text>
<text x="941" y="132.5" font-size="13.8" font-weight="normal" fill="#e884b4" text-anchor="middle">21.1.1</text>
<text x="958" y="135" font-size="13.8" font-weight="normal" fill="#e884b4" text-anchor="middle">1.6.1</text>
<text x="997" y="129.5" font-size="13.8" font-weight="normal" fill="#e884b4" text-anchor="middle">1.3.13</text>
<text x="979" y="157" font-size="13.8" font-weight="normal" fill="#e884b4" text-anchor="middle">1.3.14</text>
<text x="921" y="229.5" font-size="13.8" font-weight="normal" fill="#e884b4" text-anchor="middle">5.2.2</text>
<text x="917" y="302" font-size="13.8" font-weight="normal" fill="#e884b4" text-anchor="middle">21.2.1</text>
<g fill="none" stroke-linejoin="round" clip-path="url(#cpe)">
<path d="M870.3 1016 916.7 960.3" stroke="#000" stroke-width="1.45"/>
<path d="M843.9 1136.5 844.1 1125 844.4 1113.4 844.8 1101.9 845.4 1090.3 846.3 1078.8 847.6 1067.2 849.7 1055.7 852.8 1044.1 857.3 1032.6 864.2 1021 935.7 922.5" stroke="#000" stroke-width="1.45"/>
<path d="M904.9 999.6 971.9 945.1" stroke="#000" stroke-width="1.45"/>
<path d="M851.8 1065.8 853.3 1061.3 855.1 1056.8 857.1 1052.4 859.6 1047.9 862.4 1043.4 865.7 1038.9 869.6 1034.4 874.1 1030 879.4 1025.5 885.6 1021 894.2 1015.2" stroke="#000" stroke-width="1.45"/>
<path d="M844.1 1091.5 844.3 1085.4 844.6 1079.3 844.9 1073.2 845.2 1067 845.7 1060.9 846.2 1054.8 846.9 1048.6 847.8 1042.5 848.9 1036.4 850.2 1030.2" stroke="#000" stroke-width="1.45"/>
<path d="M878.9 1040.2 881.4 1038.3 884.1 1036.4 886.9 1034.4 889.9 1032.5 893.1 1030.6 896.6 1028.7 900.3 1026.8 904.3 1024.8 908.5 1022.9 913 1021 940.1 1009.9" stroke="#000" stroke-width="1.45"/>
<path d="M843.9 1104.8 845.1 1096.4 846.8 1088 849 1079.7 852 1071.3 856 1062.9 861.3 1054.5 868.5 1046.1 878.1 1037.8 891.1 1029.4 908.4 1021 915.9 1017.9" stroke="#000" stroke-width="1.45"/>
<path d="M855.3 1040.3 856 1038.9 856.7 1037.4 857.4 1036 858.2 1034.6 859 1033.1 859.8 1031.7 860.7 1030.3 861.7 1028.8 862.7 1027.4 863.7 1025.9" stroke="#000" stroke-width="1.45"/>
<path d="M848.2 1039.4 848.5 1037.6 848.9 1035.7 849.2 1033.9 849.6 1032 850 1030.2 850.4 1028.4 850.8 1026.5 851.3 1024.7 851.8 1022.8 852.4 1021 871.9 957.3" stroke="#000" stroke-width="1.45"/>
<path d="M849 1028.7 849.2 1028 849.4 1027.2 849.5 1026.4 849.7 1025.6 849.9 1024.9 850 1024.1 850.2 1023.3 850.4 1022.5 850.6 1021.8 850.8 1021 863.2 973.2" stroke="#000" stroke-width="1.45"/>
<path d="M851.5 1078.1 853.3 1072.4 855.4 1066.7 858.1 1061 861.3 1055.3 865.2 1049.6 870.1 1043.9 876 1038.1 883.2 1032.4 892 1026.7 902.7 1021 962.7 992.1" stroke="#000" stroke-width="1.45"/>
<path d="M844.5 1105.8 844.8 1098.6 845.3 1091.4 845.8 1084.1 846.6 1076.9 847.5 1069.7 848.7 1062.4 850.2 1055.2 852.2 1048 854.8 1040.7 858.1 1033.5" stroke="#000" stroke-width="1.45"/>
<path d="M844.2 1088.8 844.3 1082 844.5 1075.2 844.6 1068.5 844.8 1061.7 845.1 1054.9 845.4 1048.1 845.8 1041.3 846.4 1034.6 847.1 1027.8 847.9 1021 850 1006.6" stroke="#000" stroke-width="1.45"/>
<path d="M848.9 1077.5 850.2 1071.9 851.7 1066.2 853.5 1060.6 855.8 1054.9 858.6 1049.3 862 1043.6 866.1 1038 871.1 1032.3 877.2 1026.7 884.7 1021 949.2 976.7" stroke="#000" stroke-width="1.45"/>
<path d="M892.7 1034.3 895 1033 897.5 1031.7 900.1 1030.3 902.8 1029 905.6 1027.7 908.6 1026.3 911.7 1025 915 1023.7 918.4 1022.3 922 1021 929.8 1018.2" stroke="#000" stroke-width="1.45"/>
<path d="M843.9 1111.4 844.3 1102.3 844.8 1093.3 845.5 1084.3 846.4 1075.2 847.8 1066.2 849.6 1057.1 852 1048.1 855.4 1039.1 860.1 1030 866.5 1021 937.4 935.4" stroke="#000" stroke-width="1.45"/>
<path d="M843.9 1173.6 844 1158.4 844.1 1143.1 844.2 1127.9 844.5 1112.6 845 1097.3 845.9 1082.1 847.4 1066.8 849.9 1051.5 854.3 1036.3 861.7 1021 880.9 990.4" stroke="#000" stroke-width="1.45"/>
<path d="M844.2 1092.2 844.3 1085.1 844.5 1078 844.8 1070.9 845.1 1063.7 845.5 1056.6 846 1049.5 846.7 1042.4 847.6 1035.2 848.7 1028.1 850.2 1021 861.1 973.2" stroke="#000" stroke-width="1.45"/>
<path d="M851.1 1054.2 852 1050.8 853.1 1047.5 854.2 1044.2 855.6 1040.9 857 1037.6 858.7 1034.3 860.5 1030.9 862.6 1027.6 865 1024.3 867.6 1021 969.3 900.1" stroke="#000" stroke-width="1.45"/>
<path d="M844.2 1105.9 844.5 1097.4 844.9 1088.9 845.6 1080.4 846.4 1071.9 847.5 1063.4 849 1054.9 851 1046.5 853.7 1038 857.3 1029.5 862.2 1021 902 961.1" stroke="#000" stroke-width="1.45"/>
<path d="M843.9 1098.1 844.5 1090.4 845.1 1082.7 846 1075 847.2 1067.2 848.7 1059.5 850.7 1051.8 853.3 1044.1 856.8 1036.4 861.3 1028.7 867.2 1021 945.5 931.4" stroke="#000" stroke-width="1.45"/>
<path d="M846 1062.4 846.4 1058.5 846.8 1054.6 847.4 1050.7 848 1046.8 848.7 1042.9 849.5 1039 850.4 1035.2 851.5 1031.3 852.7 1027.4 854.1 1023.5" stroke="#000" stroke-width="1.45"/>
<path d="M849.2 1038.6 849.6 1036.8 850 1035.1 850.3 1033.3 850.8 1031.6 851.2 1029.8 851.7 1028 852.2 1026.3 852.7 1024.5 853.3 1022.8 853.9 1021 877.7 953.8" stroke="#000" stroke-width="1.45"/>
<path d="M844 1157.6 844.1 1144.3 844.4 1131 844.9 1117.7 845.6 1104.4 846.7 1091.1 848.5 1077.8 851.4 1064.4 856 1051.1 863.3 1037.8 875 1024.5" stroke="#000" stroke-width="1.45"/>
<path d="M844.8 1103.1 845.1 1094.9 845.6 1086.7 846.2 1078.5 847 1070.3 848 1062.1 849.4 1053.8 851.3 1045.6 853.7 1037.4 857.1 1029.2 861.5 1021 927.3 914.8" stroke="#000" stroke-width="1.45"/>
<path d="M855.1 1058.2 856.8 1054.5 858.6 1050.8 860.7 1047 863.1 1043.3 865.8 1039.6 868.9 1035.9 872.5 1032.2 876.5 1028.4 881.1 1024.7 886.3 1021 980.1 958.5" stroke="#000" stroke-width="1.45"/>
<path d="M851.2 1047.8 851.9 1045.1 852.7 1042.4 853.6 1039.7 854.6 1037.1 855.7 1034.4 856.9 1031.7 858.2 1029 859.6 1026.4 861.2 1023.7 862.9 1021 912.3 948.2" stroke="#000" stroke-width="1.45"/>
<path d="M843.9 1135 843.9 1123.6 844 1112.2 844.1 1100.8 844.2 1089.4 844.3 1078 844.6 1066.6 845 1055.2 845.5 1043.8 846.3 1032.4 847.6 1021 851.9 987.8" stroke="#000" stroke-width="1.45"/>
<path d="M876.7 1042.7 879.8 1040.5 883 1038.3 886.5 1036.2 890.3 1034 894.4 1031.8 898.8 1029.7 903.6 1027.5 908.7 1025.3 914.3 1023.2 920.3 1021 952.7 1009.7" stroke="#000" stroke-width="1.45"/>
<path d="M844.2 1121 844.5 1111 844.9 1101 845.4 1091 846.2 1081 847.3 1071 848.8 1061 851.1 1051 854.2 1041 858.7 1031 865 1021 917.9 950.6" stroke="#000" stroke-width="1.45"/>
<path d="M844.5 1084.7 844.7 1078.4 844.9 1072 845.2 1065.6 845.5 1059.2 845.9 1052.9 846.4 1046.5 847.1 1040.1 847.9 1033.7 849 1027.4 850.3 1021 858.3 985.5" stroke="#000" stroke-width="1.45"/>
<path d="M922.7 969.3 982.5 908.8" stroke="#000" stroke-width="1.45"/>
<path d="M850.2 1050.8 850.9 1047.9 851.7 1044.9 852.6 1041.9 853.6 1038.9 854.6 1035.9 855.9 1032.9 857.2 1030 858.7 1027 860.3 1024 862.2 1021 896.9 967.4" stroke="#000" stroke-width="1.45"/>
<path d="M846.8 1078.6 848.2 1073.1 849.9 1067.5 852 1062 854.5 1056.5 857.5 1051 861.2 1045.5 865.6 1040 871 1034.5 877.6 1029 885.6 1023.5" stroke="#000" stroke-width="1.45"/>
<path d="M861 1042.2 862.3 1040 863.8 1037.9 865.3 1035.8 867 1033.7 868.8 1031.6 870.8 1029.5 872.9 1027.3 875.1 1025.2 877.6 1023.1 880.2 1021 975 947.4" stroke="#000" stroke-width="1.45"/>
<path d="M847.4 1053.5 847.8 1050.9 848.3 1048.2 848.8 1045.5 849.3 1042.8 849.9 1040.1 850.6 1037.5 851.3 1034.8 852.1 1032.1 853 1029.4 853.9 1026.8" stroke="#000" stroke-width="1.45"/>
<path d="M856.4 1021.6 856.4 1021.6 856.4 1021.5 856.4 1021.4 856.5 1021.4 856.5 1021.3 856.5 1021.2 856.5 1021.2 856.6 1021.1 856.6 1021.1 856.6 1021 880.3 969.8" stroke="#000" stroke-width="1.45"/>
<path d="M849 1060.5 849.9 1056.6 850.9 1052.6 852.1 1048.7 853.4 1044.7 855 1040.8 856.7 1036.8 858.7 1032.9 861.1 1028.9 863.7 1025 866.8 1021 923.2 953" stroke="#000" stroke-width="1.45"/>
<path d="M853 1038 853.6 1036.3 854.3 1034.6 854.9 1032.9 855.6 1031.2 856.4 1029.5 857.2 1027.8 858.1 1026.1 859 1024.4 859.9 1022.7 860.9 1021 871 1004.7" stroke="#000" stroke-width="1.45"/>
<path d="M850.5 1028.7 850.7 1027.9 850.9 1027.1 851.1 1026.4 851.3 1025.6 851.5 1024.8 851.7 1024.1 851.9 1023.3 852.2 1022.5 852.4 1021.8 852.6 1021 872.4 957.9" stroke="#000" stroke-width="1.45"/>
<path d="M844.1 1099.4 844.2 1091.6 844.3 1083.7 844.5 1075.9 844.7 1068 845.1 1060.2 845.5 1052.4 846 1044.5 846.8 1036.7 847.7 1028.8 849 1021 850.1 1014.6" stroke="#000" stroke-width="1.45"/>
<path d="M855.3 1029.1 855.7 1028.3 856 1027.5 856.4 1026.7 856.8 1025.9 857.2 1025.1 857.6 1024.3 858 1023.4 858.4 1022.6 858.9 1021.8 859.3 1021 893.4 960.7" stroke="#000" stroke-width="1.45"/>
<path d="M854.6 1030.5 855 1029.6 855.4 1028.6 855.8 1027.7 856.2 1026.7 856.7 1025.8 857.1 1024.8 857.6 1023.9 858.1 1022.9 858.6 1022 859.1 1021 878.6 986.1" stroke="#000" stroke-width="1.45"/>
<path d="M859.4 1011.3 878.9 964" stroke="#000" stroke-width="1.45"/>
<path d="M862.9 1027.7 863.3 1027.1 863.8 1026.4 864.3 1025.7 864.8 1025 865.3 1024.4 865.8 1023.7 866.4 1023 866.9 1022.3 867.5 1021.7 868 1021 978.1 893.6" stroke="#000" stroke-width="1.45"/>
<path d="M852.2 1015.5 859.8 984.5" stroke="#000" stroke-width="1.45"/>
<path d="M869.1 1020.8 927.7 954.5" stroke="#000" stroke-width="1.45"/>
<path d="M868.1 1030.3 868.9 1029.3 869.7 1028.4 870.6 1027.5 871.5 1026.6 872.4 1025.6 873.4 1024.7 874.4 1023.8 875.4 1022.9 876.5 1021.9 877.5 1021 942.6 966.7" stroke="#000" stroke-width="1.45"/>
<path d="M860.1 1028.4 860.6 1027.7 861 1026.9 861.5 1026.2 862 1025.5 862.5 1024.7 863 1024 863.5 1023.2 864.1 1022.5 864.6 1021.7 865.2 1021 916.9 954.1" stroke="#000" stroke-width="1.45"/>
<path d="M844.6 1089.2 844.8 1083.5 845 1077.8 845.4 1072.1 845.7 1066.5 846.2 1060.8 846.8 1055.1 847.5 1049.5 848.3 1043.8 849.4 1038.1 850.7 1032.5" stroke="#000" stroke-width="1.45"/>
<path d="M848.4 1044.3 848.8 1041.9 849.2 1039.6 849.7 1037.3 850.2 1035 850.7 1032.6 851.3 1030.3 851.9 1028 852.6 1025.7 853.4 1023.3 854.2 1021 864.6 992.1" stroke="#000" stroke-width="1.45"/>
<path d="M843.9 1161.6 844.2 1147.6 844.5 1133.5 845 1119.4 845.9 1105.4 847.4 1091.3 849.7 1077.3 853.6 1063.2 860 1049.1 870.5 1035.1 887.6 1021 894.6 1016.5" stroke="#000" stroke-width="1.45"/>
<path d="M844.4 1134.2 844.7 1123.2 845.2 1112.2 845.8 1101.2 846.8 1090.2 848.3 1079.2 850.4 1068.2 853.6 1057.2 858.2 1046.3 865 1035.3 875.1 1024.3" stroke="#000" stroke-width="1.45"/>
<path d="M854 1052 855.3 1048.9 856.7 1045.8 858.2 1042.7 860 1039.6 861.9 1036.5 864.1 1033.4 866.5 1030.3 869.1 1027.2 872.1 1024.1 875.4 1021 893.7 1004.9" stroke="#000" stroke-width="1.45"/>
<path d="M843.9 1143.5 844 1131.2 844.1 1119 844.2 1106.7 844.4 1094.5 844.7 1082.2 845.2 1070 846 1057.7 847.2 1045.5 849.1 1033.2 851.9 1021 866.5 969.8" stroke="#000" stroke-width="1.45"/>
<path d="M844 1104.2 844.4 1095.9 844.9 1087.6 845.6 1079.3 846.5 1070.9 847.7 1062.6 849.3 1054.3 851.5 1046 854.4 1037.6 858.3 1029.3 863.5 1021 870.7 1011" stroke="#000" stroke-width="1.45"/>
<path d="M851.7 1073.7 853 1069.2 854.6 1064.8 856.5 1060.3 858.6 1055.9 861.1 1051.5 864.1 1047 867.6 1042.6 871.6 1038.2 876.3 1033.7 881.8 1029.3" stroke="#000" stroke-width="1.45"/>
<path d="M855 1052.3 856.6 1049.1 858.4 1046 860.4 1042.9 862.7 1039.8 865.2 1036.6 868 1033.5 871.1 1030.4 874.5 1027.3 878.4 1024.1 882.8 1021 905 1005.8" stroke="#000" stroke-width="1.45"/>
<path d="M884 1024.3 884.5 1024 884.9 1023.7 885.4 1023.3 885.9 1023 886.5 1022.7 887 1022.3 887.5 1022 888 1021.7 888.6 1021.3 889.1 1021 949.2 984.1" stroke="#000" stroke-width="1.45"/>
<path d="M851.1 1069 852.4 1064.6 854 1060.2 855.9 1055.8 858.1 1051.3 860.6 1046.9 863.6 1042.5 867 1038.1 871 1033.7 875.8 1029.2 881.3 1024.8" stroke="#000" stroke-width="1.45"/>
<path d="M870.2 1017.7 974.5 892.6" stroke="#000" stroke-width="1.45"/>
<path d="M844.4 1123.5 844.8 1120 845.1 1116.6 845.6 1113.2 846 1109.8 846.6 1106.4 847.2 1103 847.8 1099.6 848.6 1096.1 849.5 1092.7 850.4 1089.3 851.5 1085.9 852.8 1082.5 854.1 1079.1 855.7 1075.6 857.5 1072.2 859.5 1068.8 861.7 1065.4 864.3 1062 867.1 1058.6 870.3 1055.2 873.9 1051.7 878 1048.3 882.6 1044.9 887.8 1041.5 893.7 1038.1 900.3 1034.7 907.7 1031.2 916.1 1027.8 925.6 1024.4 936.2 1021 962.7 1013" stroke="#000" stroke-width="1.45"/>
<path d="M859.4 1056.3 862 1052.8 864.8 1049.2 868.1 1045.7 871.8 1042.2 875.9 1038.7 880.6 1035.1 886 1031.6 892 1028.1 898.9 1024.5 906.6 1021 915.5 1017.2" stroke="#000" stroke-width="1.45"/>
<path d="M844.8 1108.7 845.2 1099.9 845.7 1091.2 846.4 1082.4 847.4 1073.6 848.8 1064.9 850.7 1056.1 853.2 1047.3 856.6 1038.5 861.3 1029.8 867.6 1021 882 1003.8" stroke="#000" stroke-width="1.45"/>
<path d="M917.3 1011.2 977.4 981.3" stroke="#000" stroke-width="1.45"/>
<path d="M883.4 1026.8 884.2 1026.2 885.1 1025.6 885.9 1025 886.8 1024.5 887.7 1023.9 888.6 1023.3 889.6 1022.7 890.5 1022.2 891.5 1021.6 892.5 1021 912.6 1009.4" stroke="#000" stroke-width="1.45"/>
<path d="M868.9 1028.3 869.6 1027.5 870.3 1026.8 870.9 1026.1 871.7 1025.4 872.4 1024.6 873.1 1023.9 873.9 1023.2 874.7 1022.5 875.5 1021.7 876.3 1021 887.1 1011.7" stroke="#000" stroke-width="1.45"/>
<path d="M844.1 1116.8 844.3 1107.2 844.7 1097.6 845.2 1088.1 845.8 1078.5 846.8 1068.9 848.1 1059.3 850 1049.7 852.6 1040.2 856.3 1030.6 861.5 1021 871.6 1005" stroke="#000" stroke-width="1.45"/>
<path d="M860.3 1042 861.6 1039.9 863.1 1037.8 864.7 1035.7 866.5 1033.6 868.3 1031.5 870.4 1029.4 872.5 1027.3 874.8 1025.2 877.3 1023.1 880 1021 890.8 1012.9" stroke="#000" stroke-width="1.45"/>
<path d="M844.1 1086 844.3 1079.5 844.4 1073 844.7 1066.5 845 1060 845.3 1053.5 845.8 1047 846.4 1040.5 847.1 1034 848 1027.5 849.1 1021 850.2 1015.6" stroke="#000" stroke-width="1.45"/>
<path d="M847.2 1100.8 848.4 1092.8 849.9 1084.9 852 1076.9 854.7 1068.9 858.3 1060.9 863.1 1052.9 869.5 1044.9 877.9 1037 889 1029 903.7 1021 942.8 1002.5" stroke="#000" stroke-width="1.45"/>
<path d="M871.3 1044 873.7 1041.7 876.3 1039.4 879.2 1037.1 882.2 1034.8 885.5 1032.5 889.1 1030.2 893 1027.9 897.2 1025.6 901.8 1023.3 906.8 1021 980.5 988.1" stroke="#000" stroke-width="1.45"/>
<path d="M867.7 1025.6 868.1 1025.1 868.5 1024.7 868.9 1024.2 869.3 1023.7 869.8 1023.3 870.2 1022.8 870.6 1022.4 871 1021.9 871.5 1021.5 871.9 1021 920.2 972.2" stroke="#000" stroke-width="1.45"/>
<path d="M858.2 1057.5 860.3 1053.8 862.6 1050.2 865.2 1046.5 868.2 1042.9 871.6 1039.2 875.5 1035.6 879.9 1031.9 884.9 1028.3 890.6 1024.6 897 1021 939.2 998.6" stroke="#000" stroke-width="1.45"/>
<path d="M847.1 1066.1 847.7 1061.6 848.4 1057.1 849.2 1052.6 850.1 1048.1 851.2 1043.5 852.5 1039 854 1034.5 855.7 1030 857.8 1025.5 860.2 1021 872.7 999.4" stroke="#000" stroke-width="1.45"/>
<path d="M843.9 1152.8 844.1 1139.6 844.4 1126.4 844.9 1113.2 845.6 1100.1 846.8 1086.9 848.7 1073.7 851.7 1060.5 856.4 1047.4 864 1034.2 875.9 1021 936.5 967.5" stroke="#000" stroke-width="1.45"/>
<path d="M866.3 1002 892.4 947.4" stroke="#000" stroke-width="1.45"/>
<path d="M844.5 1069.6 844.6 1064.8 844.8 1059.9 844.9 1055 845.1 1050.2 845.4 1045.3 845.7 1040.5 846 1035.6 846.4 1030.7 846.9 1025.9 847.5 1021 850.2 999.9" stroke="#000" stroke-width="1.45"/>
<path d="M854.3 1047.3 855.5 1044.6 856.8 1042 858.2 1039.4 859.8 1036.8 861.5 1034.1 863.3 1031.5 865.4 1028.9 867.6 1026.3 870.1 1023.6 872.8 1021 930.4 967.6" stroke="#000" stroke-width="1.45"/>
<path d="M860.5 1033.9 861.3 1032.6 862.1 1031.3 862.9 1030 863.8 1028.8 864.8 1027.5 865.7 1026.2 866.8 1024.9 867.8 1023.6 869 1022.3 870.1 1021 883.2 1006.8" stroke="#000" stroke-width="1.45"/>
<path d="M843.9 1105.3 844.1 1096.9 844.4 1088.4 844.7 1080 845.2 1071.6 845.8 1063.2 846.7 1054.7 847.8 1046.3 849.3 1037.9 851.4 1029.4 854.1 1021 872.7 971.6" stroke="#000" stroke-width="1.45"/>
<path d="M847.1 1081.5 848.3 1075.5 849.7 1069.4 851.5 1063.4 853.7 1057.3 856.4 1051.3 859.8 1045.2 863.9 1039.2 869 1033.1 875.4 1027.1 883.2 1021 928.2 989.8" stroke="#000" stroke-width="1.45"/>
<path d="M858.3 1066.6 861.1 1062 864.4 1057.5 868.3 1052.9 872.8 1048.3 878.1 1043.8 884.3 1039.2 891.6 1034.7 900.1 1030.1 910.1 1025.6 921.9 1021 965.8 1005.3" stroke="#000" stroke-width="1.45"/>
<path d="M844.4 1114.8 845 1105.4 845.7 1096.1 846.8 1086.7 848.2 1077.3 850.3 1067.9 853.1 1058.5 857 1049.1 862.5 1039.8 870.1 1030.4 880.7 1021 898.2 1007.7" stroke="#000" stroke-width="1.45"/>
<path d="M846.4 1095.2 846.9 1092.7 847.6 1090.2 848.3 1087.8 849 1085.3 849.8 1082.8 850.7 1080.4 851.7 1077.9 852.8 1075.4 854 1072.9 855.2 1070.5 856.6 1068 858.1 1065.5 859.8 1063 861.6 1060.6 863.5 1058.1 865.7 1055.6 868 1053.2 870.5 1050.7 873.3 1048.2 876.3 1045.7 879.6 1043.3 883.2 1040.8 887.2 1038.3 891.4 1035.8 896.1 1033.4 901.2 1030.9 906.7 1028.4 912.8 1025.9 919.4 1023.5 926.6 1021 948 1014" stroke="#000" stroke-width="1.45"/>
<path d="M843.9 1116.5 844.4 1106.9 845 1097.4 845.8 1087.8 847 1078.3 848.7 1068.7 851 1059.2 854.2 1049.6 858.8 1040.1 865.1 1030.5 874 1021 944.5 956.5" stroke="#000" stroke-width="1.45"/>
<path d="M880.9 1003.9 978.6 883.8" stroke="#000" stroke-width="1.45"/>
<path d="M869 1045.5 871.7 1043 874.6 1040.6 877.7 1038.1 881.2 1035.7 884.9 1033.2 889 1030.8 893.5 1028.3 898.4 1025.9 903.7 1023.4 909.4 1021 953.4 1003.2" stroke="#000" stroke-width="1.45"/>
<path d="M847.4 1084.5 849.4 1078.1 851.9 1071.8 855 1065.4 858.8 1059.1 863.7 1052.7 869.7 1046.4 877.3 1040 886.7 1033.7 898.5 1027.3 913.2 1021 931.1 1014.1" stroke="#000" stroke-width="1.45"/>
<path d="M845.1 1076.2 845.4 1070.7 845.8 1065.2 846.2 1059.6 846.7 1054.1 847.3 1048.6 848 1043.1 848.9 1037.6 850 1032 851.3 1026.5 852.9 1021 858.4 1003.8" stroke="#000" stroke-width="1.45"/>
<path d="M844.2 1137.2 844.9 1125.6 845.8 1114.1 847.3 1102.5 849.4 1090.9 852.6 1079.4 857.5 1067.8 864.8 1056.2 875.7 1044.7 892.1 1033.1 916.7 1021.5" stroke="#000" stroke-width="1.45"/>
<path d="M845.5 1077 845.8 1072.7 846.2 1068.5 846.7 1064.3 847.2 1060 847.9 1055.8 848.6 1051.6 849.4 1047.3 850.4 1043.1 851.5 1038.9 852.9 1034.6" stroke="#000" stroke-width="1.45"/>
<path d="M854.9 1075.1 857.3 1069.7 860.3 1064.2 863.9 1058.8 868.2 1053.4 873.5 1048 879.8 1042.6 887.5 1037.2 896.8 1031.8 908 1026.4 921.6 1021 959.9 1007.1" stroke="#000" stroke-width="1.45"/>
<path d="M880.1 1017.2 913.2 987.9" stroke="#000" stroke-width="1.45"/>
<path d="M844 1111.8 844.1 1102.8 844.2 1093.7 844.3 1084.6 844.5 1075.5 844.8 1066.4 845.2 1057.3 845.7 1048.3 846.5 1039.2 847.5 1030.1 848.9 1021 852 1003.7" stroke="#000" stroke-width="1.45"/>
<path d="M853 1034.4 853.5 1033.1 853.9 1031.7 854.4 1030.4 855 1029 855.5 1027.7 856.1 1026.4 856.7 1025 857.3 1023.7 858 1022.3 858.7 1021 899.3 944.8" stroke="#000" stroke-width="1.45"/>
<path d="M844.6 1090.7 845 1083.7 845.5 1076.7 846.1 1069.8 846.8 1062.8 847.8 1055.8 849 1048.9 850.6 1041.9 852.6 1034.9 855.1 1028 858.4 1021 869.1 1000.7" stroke="#000" stroke-width="1.45"/>
<path d="M845.3 1115.1 846.1 1105.7 847.3 1096.3 848.9 1086.8 851.1 1077.4 854.2 1068 858.5 1058.6 864.5 1049.2 872.8 1039.8 884.4 1030.4 900.5 1021 900.9 1020.8" stroke="#000" stroke-width="1.45"/>
<path d="M869.9 1046 872.5 1043.5 875.3 1041 878.3 1038.5 881.7 1036 885.3 1033.5 889.3 1031 893.6 1028.5 898.3 1026 903.5 1023.5 909.1 1021 935.2 1009.9" stroke="#000" stroke-width="1.45"/>
<path d="M843.9 1149.9 844 1137 844 1124.1 844.1 1111.3 844.3 1098.4 844.5 1085.5 844.9 1072.6 845.4 1059.7 846.3 1046.8 847.8 1033.9 850 1021 853.7 1003.8" stroke="#000" stroke-width="1.45"/>
<path d="M874.6 1034.9 876.2 1033.5 877.9 1032.1 879.6 1030.7 881.4 1029.3 883.3 1027.9 885.4 1026.5 887.5 1025.2 889.7 1023.8 892 1022.4 894.5 1021 912.3 1011.1" stroke="#000" stroke-width="1.45"/>
<path d="M843.9 1116.2 844.1 1106.7 844.3 1097.2 844.6 1087.6 845.1 1078.1 845.7 1068.6 846.6 1059.1 847.8 1049.6 849.5 1040 851.9 1030.5 855.2 1021 875.7 971.1" stroke="#000" stroke-width="1.45"/>
<path d="M848.2 1048.9 848.5 1047.3 848.8 1045.6 849.1 1044 849.4 1042.3 849.7 1040.7 850.1 1039 850.5 1037.3 850.9 1035.7 851.4 1034 851.8 1032.4" stroke="#000" stroke-width="1.45"/>
<path d="M855.8 1045.5 856.5 1044 857.3 1042.4 858.1 1040.9 858.9 1039.4 859.8 1037.8 860.7 1036.3 861.7 1034.7 862.8 1033.2 863.8 1031.6 865 1030.1" stroke="#000" stroke-width="1.45"/>
<path d="M866.4 1054.3 869.3 1050.9 872.6 1047.6 876.2 1044.3 880.4 1041 885 1037.6 890.2 1034.3 896 1031 902.6 1027.7 910 1024.3 918.2 1021 949.6 1009.1" stroke="#000" stroke-width="1.45"/>
<path d="M848.5 1062.5 849.2 1058.3 850.1 1054.2 851.1 1050 852.3 1045.9 853.6 1041.7 855.2 1037.6 857 1033.4 859.1 1029.3 861.5 1025.1 864.3 1021 866.2 1018.3" stroke="#000" stroke-width="1.45"/>
<path d="M859.6 1049.5 861.2 1047 862.9 1044.5 864.7 1042 866.7 1039.5 868.9 1037.1 871.3 1034.6 873.9 1032.1 876.8 1029.6 879.9 1027.1 883.3 1024.6" stroke="#000" stroke-width="1.45"/>
<path d="M887.2 1021.2 887.3 1021.2 887.3 1021.1 887.3 1021.1 887.3 1021.1 887.4 1021.1 887.4 1021.1 887.4 1021.1 887.4 1021 887.5 1021 887.5 1021 946.8 983" stroke="#000" stroke-width="1.45"/>
<path d="M865 1028.4 865.6 1027.6 866.1 1026.9 866.7 1026.2 867.3 1025.4 868 1024.7 868.6 1023.9 869.3 1023.2 869.9 1022.5 870.6 1021.7 871.3 1021 912.1 979.2" stroke="#000" stroke-width="1.45"/>
<path d="M844.1 1140.1 844.2 1129.7 844.4 1119.2 844.6 1108.7 845 1098.2 845.5 1087.7 846.3 1077.3 847.3 1066.8 848.9 1056.3 851.2 1045.8 854.4 1035.4" stroke="#000" stroke-width="1.45"/>
<path d="M882.6 1024 883.1 1023.7 883.5 1023.4 883.9 1023.1 884.3 1022.8 884.8 1022.5 885.2 1022.2 885.6 1021.9 886.1 1021.6 886.5 1021.3 887 1021 961.9 971.7" stroke="#000" stroke-width="1.45"/>
<path d="M854.5 1029.3 854.8 1028.5 855.1 1027.6 855.4 1026.8 855.8 1026 856.1 1025.2 856.5 1024.3 856.9 1023.5 857.3 1022.7 857.7 1021.8 858.1 1021 894.4 949.3" stroke="#000" stroke-width="1.45"/>
<path d="M844.4 1140.1 844.8 1128.5 845.5 1116.9 846.4 1105.3 847.9 1093.7 850.1 1082.1 853.4 1070.5 858.4 1059 865.8 1047.4 877 1035.8 893.7 1024.2" stroke="#000" stroke-width="1.45"/>
<path d="M861.1 1032.5 861.8 1031.4 862.6 1030.2 863.4 1029.1 864.2 1027.9 865 1026.8 865.9 1025.6 866.8 1024.5 867.8 1023.3 868.8 1022.2 869.8 1021 881.9 1007.8" stroke="#000" stroke-width="1.45"/>
<path d="M844.2 1132 844.4 1120.9 844.8 1109.8 845.3 1098.7 846 1087.6 847.2 1076.5 848.8 1065.4 851.3 1054.3 854.9 1043.2 860.2 1032.1 868.1 1021" stroke="#000" stroke-width="1.45"/>
<path d="M843.9 1100.3 844.2 1092.4 844.7 1084.4 845.2 1076.5 846 1068.6 846.9 1060.7 848.2 1052.7 849.9 1044.8 852.2 1036.9 855.2 1028.9 859.1 1021 866.2 1008.5" stroke="#000" stroke-width="1.45"/>
<path d="M853.7 1023.2 853.8 1022.9 853.9 1022.7 854 1022.5 854 1022.3 854.1 1022.1 854.2 1021.9 854.3 1021.6 854.4 1021.4 854.4 1021.2 854.5 1021 881.2 951.5" stroke="#000" stroke-width="1.45"/>
<path d="M844.2 1106.6 844.4 1098 844.7 1089.5 845.2 1080.9 845.8 1072.4 846.5 1063.8 847.6 1055.2 849.1 1046.7 851 1038.1 853.6 1029.6 857.2 1021 894.6 943.2" stroke="#000" stroke-width="1.45"/>
<path d="M852.4 1032.4 852.7 1031.3 853.1 1030.1 853.4 1029 853.8 1027.9 854.2 1026.7 854.7 1025.6 855.1 1024.4 855.6 1023.3 856.1 1022.1 856.6 1021 872.1 986.3" stroke="#000" stroke-width="1.45"/>
<path d="M844.4 1132.1 844.6 1122.3 845 1112.4 845.5 1102.6 846.2 1092.7 847.1 1082.9 848.6 1073 850.5 1063.2 853.3 1053.3 857.3 1043.5 862.9 1033.6" stroke="#000" stroke-width="1.45"/>
<path d="M846.6 1060.3 847 1056.4 847.5 1052.4 848 1048.5 848.7 1044.6 849.4 1040.6 850.2 1036.7 851.1 1032.8 852.2 1028.9 853.5 1024.9 854.9 1021 885.2 943.4" stroke="#000" stroke-width="1.45"/>
<path d="M859.1 1046.1 860.6 1043.6 862.3 1041.1 864.1 1038.6 866.1 1036.1 868.2 1033.6 870.6 1031 873.2 1028.5 876 1026 879.1 1023.5 882.4 1021 894.1 1012.7" stroke="#000" stroke-width="1.45"/>
<path d="M847.8 1059.7 848.5 1056.3 849.2 1052.9 850 1049.6 850.9 1046.2 852 1042.9 853.2 1039.5 854.5 1036.2 856 1032.8 857.6 1029.4 859.5 1026.1" stroke="#000" stroke-width="1.45"/>
<path d="M887.3 1016.4 920.3 991.3" stroke="#000" stroke-width="1.45"/>
<path d="M844.6 1073.4 844.7 1068.2 844.9 1062.9 845.1 1057.7 845.4 1052.4 845.7 1047.2 846.1 1042 846.5 1036.7 847 1031.5 847.7 1026.2 848.4 1021 852.2 997.3" stroke="#000" stroke-width="1.45"/>
<path d="M852.6 1035.2 853.1 1033.8 853.6 1032.4 854.1 1031 854.6 1029.5 855.2 1028.1 855.7 1026.7 856.4 1025.3 857 1023.8 857.7 1022.4 858.4 1021 905.5 929.5" stroke="#000" stroke-width="1.45"/>
<path d="M848.8 1054.7 849.2 1052.7 849.6 1050.6 850 1048.6 850.5 1046.6 851 1044.5 851.6 1042.5 852.2 1040.4 852.8 1038.4 853.5 1036.4 854.2 1034.3" stroke="#000" stroke-width="1.45"/>
<path d="M847.3 1111.2 847.7 1108.2 848.2 1105.2 848.7 1102.2 849.3 1099.1 849.9 1096.1 850.7 1093.1 851.5 1090.1 852.4 1087.1 853.3 1084.1 854.4 1081.1 855.7 1078.1 857 1075.1 858.5 1072.1 860.2 1069.1 862.1 1066.1 864.1 1063.1 866.4 1060.1 869 1057.1 871.8 1054.1 875 1051.1 878.5 1048.1 882.4 1045 886.7 1042 891.5 1039 896.8 1036 902.8 1033 909.4 1030 916.7 1027 924.8 1024 933.9 1021 970.5 1009.5" stroke="#000" stroke-width="1.45"/>
<path d="M845.1 1115.1 845.8 1106.4 846.8 1097.7 848 1088.9 849.8 1080.2 852.2 1071.5 855.4 1062.7 859.7 1054 865.7 1045.3 873.8 1036.5 884.7 1027.8" stroke="#000" stroke-width="1.45"/>
<path d="M843.9 1096.6 844.8 1089.9 845.8 1083.3 847.1 1076.6 848.8 1069.9 851 1063.2 853.7 1056.6 857.1 1049.9 861.4 1043.2 866.9 1036.5 873.8 1029.8" stroke="#000" stroke-width="1.45"/>
<path d="M845.3 1078.7 845.6 1073 846.1 1067.2 846.6 1061.4 847.3 1055.6 848.1 1049.9 849.1 1044.1 850.3 1038.3 851.9 1032.5 853.7 1026.8 855.9 1021 860.9 1009.5" stroke="#000" stroke-width="1.45"/>
<path d="M843.9 1127.1 844.1 1116.9 844.2 1106.7 844.5 1096.5 844.8 1086.3 845.3 1076.1 846 1065.9 847.1 1055.7 848.5 1045.5 850.6 1035.3 853.6 1025.1" stroke="#000" stroke-width="1.45"/>
<path d="M896.8 1008.7 967.8 954.2" stroke="#000" stroke-width="1.45"/>
<path d="M844.7 1071.7 844.9 1066.6 845.1 1061.6 845.3 1056.5 845.6 1051.4 846 1046.4 846.4 1041.3 846.9 1036.2 847.5 1031.1 848.3 1026.1 849.2 1021 850.3 1014.9" stroke="#000" stroke-width="1.45"/>
<path d="M855.2 1031.5 855.7 1030.5 856.2 1029.4 856.7 1028.4 857.2 1027.3 857.8 1026.3 858.3 1025.2 858.9 1024.2 859.5 1023.1 860.1 1022.1 860.8 1021 882.1 987.1" stroke="#000" stroke-width="1.45"/>
<path d="M855.8 1034.9 856.4 1033.5 857 1032.2 857.7 1030.8 858.3 1029.4 859.1 1028 859.9 1026.6 860.7 1025.2 861.5 1023.8 862.4 1022.4 863.3 1021 874 1005.5" stroke="#000" stroke-width="1.45"/>
<path d="M843.9 1111.2 844.1 1102.5 844.4 1093.8 844.8 1085.1 845.3 1076.4 846 1067.7 847 1059 848.3 1050.3 850.1 1041.6 852.5 1032.9 855.8 1024.2" stroke="#000" stroke-width="1.45"/>
<path d="M844.6 1135.3 845.1 1123.8 845.8 1112.4 846.9 1101 848.6 1089.6 851 1078.1 854.6 1066.7 860.1 1055.3 868.2 1043.9 880.3 1032.4 898.4 1021 949.4 994.4" stroke="#000" stroke-width="1.45"/>
<path d="M846.1 1090.8 846.8 1084.8 847.6 1078.8 848.6 1072.8 849.9 1066.8 851.5 1060.8 853.5 1054.8 855.9 1048.8 858.9 1042.8 862.6 1036.8 867.2 1030.8" stroke="#000" stroke-width="1.45"/>
<path d="M850.3 1068.1 851.2 1064.5 852.2 1060.8 853.4 1057.2 854.7 1053.6 856.2 1049.9 857.8 1046.3 859.8 1042.7 861.9 1039 864.4 1035.4 867.2 1031.8" stroke="#000" stroke-width="1.45"/>
<path d="M845.2 1096.8 845.6 1089.4 846.2 1082 846.9 1074.6 847.8 1067.2 849 1059.8 850.5 1052.4 852.5 1045 855.1 1037.5 858.4 1030.1 862.8 1022.7" stroke="#000" stroke-width="1.45"/>
<path d="M858 1044.6 859.2 1042.3 860.6 1039.9 862.1 1037.5 863.8 1035.2 865.5 1032.8 867.5 1030.4 869.6 1028.1 871.9 1025.7 874.3 1023.4 877 1021 887.7 1012" stroke="#000" stroke-width="1.45"/>
<path d="M883 1016.2 963.1 949.2" stroke="#000" stroke-width="1.45"/>
<path d="M855 1028.6 855.3 1027.8 855.6 1027.1 856 1026.3 856.3 1025.6 856.7 1024.8 857.1 1024 857.4 1023.3 857.8 1022.5 858.2 1021.8 858.7 1021 890.6 963.5" stroke="#000" stroke-width="1.45"/>
<path d="M846.9 1075 847.7 1069.6 848.8 1064.2 850.1 1058.8 851.6 1053.4 853.5 1048 855.8 1042.6 858.5 1037.2 861.8 1031.8 865.8 1026.4 870.6 1021 933.7 956.8" stroke="#000" stroke-width="1.45"/>
<path d="M844 1158.4 844.2 1145.1 844.5 1131.8 845.1 1118.5 846 1105.1 847.4 1091.8 849.6 1078.5 853.2 1065.1 859 1051.8 868.2 1038.5 882.9 1025.1" stroke="#000" stroke-width="1.45"/>
<path d="M844.9 1091 845.1 1084 845.5 1077 846 1070 846.6 1063 847.3 1056 848.3 1049 849.5 1042 851.1 1035 853.1 1028 855.7 1021 869 988.9" stroke="#000" stroke-width="1.45"/>
<path d="M843.9 1170.1 844 1155.2 844.3 1140.3 844.6 1125.4 845.2 1110.5 846.3 1095.5 848 1080.6 850.9 1065.7 855.9 1050.8 864.2 1035.9 878.3 1021 939.7 970.2" stroke="#000" stroke-width="1.45"/>
<path d="M849.5 1043 850 1040.8 850.5 1038.7 851.1 1036.5 851.8 1034.3 852.5 1032.2 853.2 1030 854 1027.9 854.9 1025.7 855.8 1023.5 856.8 1021.4" stroke="#000" stroke-width="1.45"/>
<path d="M850.5 1077.7 852.1 1072 854.1 1066.3 856.5 1060.7 859.4 1055 862.9 1049.3 867.2 1043.7 872.5 1038 878.9 1032.3 886.7 1026.7 896.3 1021 915.1 1010.9" stroke="#000" stroke-width="1.45"/>
<path d="M849.9 1071.5 851.2 1067.4 852.7 1063.3 854.4 1059.2 856.4 1055.1 858.6 1051 861.3 1046.9 864.3 1042.8 867.8 1038.7 871.9 1034.6 876.6 1030.5" stroke="#000" stroke-width="1.45"/>
<path d="M857.2 1069.4 859.8 1064.5 862.8 1059.7 866.4 1054.9 870.7 1050 875.7 1045.2 881.7 1040.3 888.8 1035.5 897.2 1030.7 907.1 1025.8 918.9 1021 933.5 1015.5" stroke="#000" stroke-width="1.45"/>
<path d="M889.2 1016.7 930.6 987.7" stroke="#000" stroke-width="1.45"/>
<path d="M849.8 1043.6 850.3 1041.6 850.7 1039.7 851.3 1037.7 851.8 1035.7 852.4 1033.8 853 1031.8 853.6 1029.8 854.4 1027.9 855.1 1025.9 855.9 1024" stroke="#000" stroke-width="1.45"/>
<path d="M859.2 1035.3 860.1 1033.9 861 1032.5 862 1031 863 1029.6 864.1 1028.2 865.2 1026.7 866.4 1025.3 867.6 1023.9 869 1022.4 870.3 1021 889.5 1001.6" stroke="#000" stroke-width="1.45"/>
<path d="M855.3 1027.7 855.6 1027.1 855.8 1026.4 856.1 1025.7 856.4 1025 856.7 1024.4 857 1023.7 857.4 1023 857.7 1022.3 858 1021.7 858.3 1021 903.2 933" stroke="#000" stroke-width="1.45"/>
<path d="M844 1095.5 845.1 1088 846.4 1080.6 848.2 1073.1 850.5 1065.7 853.6 1058.2 857.5 1050.8 862.6 1043.3 869.2 1035.9 877.8 1028.4 888.9 1021 948.5 986" stroke="#000" stroke-width="1.45"/>
<path d="M844.7 1066.3 844.9 1061.8 845.2 1057.2 845.4 1052.7 845.8 1048.2 846.1 1043.6 846.6 1039.1 847.1 1034.6 847.7 1030.1 848.4 1025.5 849.2 1021 850.9 1012.6" stroke="#000" stroke-width="1.45"/>
<path d="M845.3 1109.9 846 1101 846.8 1092.1 848 1083.2 849.6 1074.3 851.8 1065.4 854.8 1056.6 858.9 1047.7 864.5 1038.8 872.1 1029.9 882.6 1021 884.2 1019.8" stroke="#000" stroke-width="1.45"/>
<path d="M864.2 1039 865.6 1037.2 867 1035.4 868.5 1033.6 870.2 1031.8 871.9 1030 873.7 1028.2 875.7 1026.4 877.8 1024.6 880 1022.8 882.4 1021 907.6 1002.5" stroke="#000" stroke-width="1.45"/>
<path d="M864.2 1033.9 865.2 1032.6 866.3 1031.3 867.4 1030 868.6 1028.7 869.8 1027.4 871.1 1026.1 872.4 1024.9 873.8 1023.6 875.2 1022.3 876.8 1021 879.1 1019.1" stroke="#000" stroke-width="1.45"/>
<path d="M852.8 1058.6 854.1 1054.8 855.6 1051.1 857.2 1047.3 859.1 1043.5 861.3 1039.8 863.8 1036 866.6 1032.3 869.8 1028.5 873.5 1024.8 877.7 1021 954.8 956.5" stroke="#000" stroke-width="1.45"/>
<path d="M843.9 1158.9 844.1 1145.1 844.5 1131.3 845 1117.5 845.9 1103.7 847.3 1089.9 849.5 1076.2 853.2 1062.4 859.2 1048.6 868.8 1034.8 884.5 1021 951.5 974.3" stroke="#000" stroke-width="1.45"/>
<path d="M849 1025.9 849.1 1025.5 849.2 1025 849.2 1024.5 849.3 1024 849.4 1023.5 849.5 1023 849.6 1022.5 849.7 1022 849.8 1021.5 849.9 1021 854.6 999.4" stroke="#000" stroke-width="1.45"/>
<path d="M870.2 1039.2 872.2 1037.4 874.2 1035.6 876.4 1033.8 878.7 1031.9 881.2 1030.1 883.9 1028.3 886.7 1026.5 889.7 1024.6 892.9 1022.8 896.4 1021 945.5 995.7" stroke="#000" stroke-width="1.45"/>
<path d="M849 1060.4 849.8 1056.4 850.6 1052.5 851.7 1048.6 852.8 1044.6 854.2 1040.7 855.7 1036.7 857.4 1032.8 859.5 1028.9 861.8 1024.9 864.4 1021 916.8 948.7" stroke="#000" stroke-width="1.45"/>
<path d="M844.7 1108 845.1 1099.3 845.7 1090.6 846.4 1081.9 847.4 1073.2 848.8 1064.5 850.7 1055.8 853.2 1047.1 856.6 1038.4 861.3 1029.7 867.6 1021 900.2 982.3" stroke="#000" stroke-width="1.45"/>
<path d="M845.3 1109.5 846 1101.6 846.8 1093.7 847.9 1085.9 849.4 1078 851.3 1070.2 853.9 1062.3 857.2 1054.4 861.6 1046.6 867.4 1038.7 875.1 1030.9" stroke="#000" stroke-width="1.45"/>
<path d="M848 1057.7 848.7 1054 849.6 1050.3 850.6 1046.7 851.7 1043 853 1039.3 854.4 1035.7 856 1032 857.9 1028.3 860 1024.7 862.5 1021 895.2 974.3" stroke="#000" stroke-width="1.45"/>
<path d="M871.9 1013.3 948.7 916.5" stroke="#000" stroke-width="1.45"/>
<path d="M847.8 1062.6 848.4 1058.4 849.2 1054.3 850.1 1050.1 851.2 1046 852.4 1041.8 853.8 1037.6 855.4 1033.5 857.3 1029.3 859.5 1025.2 862 1021 903.8 956.6" stroke="#000" stroke-width="1.45"/>
<path d="M847 1087.4 847.8 1080.8 848.9 1074.1 850.3 1067.5 852 1060.8 854.2 1054.2 856.9 1047.6 860.3 1040.9 864.7 1034.3 870.2 1027.6 877.2 1021 925.7 979.6" stroke="#000" stroke-width="1.45"/>
<path d="M845.7 1066.7 846.1 1062.3 846.5 1058 847 1053.6 847.6 1049.2 848.3 1044.8 849.1 1040.4 850 1036 851.1 1031.7 852.3 1027.3 853.8 1022.9" stroke="#000" stroke-width="1.45"/>
<path d="M888.6 1024.4 889.1 1024 889.7 1023.7 890.2 1023.4 890.8 1023 891.4 1022.7 891.9 1022.4 892.5 1022 893.1 1021.7 893.7 1021.3 894.3 1021 931.4 1000.2" stroke="#000" stroke-width="1.45"/>
<path d="M872.2 1048.2 875.2 1045.5 878.6 1042.7 882.3 1040 886.4 1037.3 890.9 1034.6 895.8 1031.9 901.2 1029.2 907.2 1026.4 913.8 1023.7 921 1021 931.7 1017.2" stroke="#000" stroke-width="1.45"/>
<path d="M878.3 1011.6 974.4 909.2" stroke="#000" stroke-width="1.45"/>
<path d="M845.7 1095 846.3 1087.6 847.2 1080.2 848.4 1072.8 849.9 1065.4 851.9 1058 854.4 1050.6 857.7 1043.2 862 1035.8 867.6 1028.4 874.7 1021 935.5 966" stroke="#000" stroke-width="1.45"/>
<path d="M911.5 1020.1 963.1 998.1" stroke="#000" stroke-width="1.45"/>
<path d="M847 1099.9 847.9 1092.9 849.1 1085.8 850.7 1078.8 852.8 1071.7 855.3 1064.7 858.7 1057.6 862.9 1050.6 868.4 1043.5 875.3 1036.5 884.2 1029.4" stroke="#000" stroke-width="1.45"/>
<path d="M881.7 993 921.5 934.3" stroke="#000" stroke-width="1.45"/>
<path d="M854.3 1062 855.9 1058.4 857.6 1054.8 859.6 1051.2 861.9 1047.6 864.4 1044 867.3 1040.4 870.6 1036.8 874.4 1033.2 878.6 1029.6 883.4 1026" stroke="#000" stroke-width="1.45"/>
<path d="M884.3 1023.8 884.7 1023.5 885.1 1023.2 885.5 1023 885.9 1022.7 886.3 1022.4 886.8 1022.1 887.2 1021.8 887.6 1021.6 888 1021.3 888.5 1021 931.6 993.7" stroke="#000" stroke-width="1.45"/>
<path d="M850.2 1058.6 851.3 1054.8 852.6 1051.1 854.1 1047.3 855.8 1043.6 857.7 1039.8 859.9 1036 862.3 1032.3 865.2 1028.5 868.4 1024.8 872.1 1021 873.7 1019.5" stroke="#000" stroke-width="1.45"/>
<path d="M849.2 1036.7 849.5 1035.2 849.9 1033.6 850.2 1032 850.6 1030.4 851 1028.9 851.4 1027.3 851.8 1025.7 852.2 1024.1 852.7 1022.6 853.2 1021 859.9 1000.9" stroke="#000" stroke-width="1.45"/>
<path d="M847.3 1037.8 847.5 1036.1 847.7 1034.4 848 1032.7 848.2 1031.1 848.5 1029.4 848.8 1027.7 849.2 1026 849.5 1024.4 849.9 1022.7 850.2 1021 852.3 1012.1" stroke="#000" stroke-width="1.45"/>
<path d="M845.1 1104.4 845.5 1098.7 846 1093 846.6 1087.3 847.3 1081.6 848.2 1075.9 849.3 1070.2 850.7 1064.5 852.3 1058.8 854.4 1053.1 856.8 1047.4" stroke="#000" stroke-width="1.45"/>
<path d="M844.5 1116.1 845 1109.9 845.6 1103.8 846.3 1097.7 847.2 1091.6 848.4 1085.4 849.8 1079.3 851.5 1073.2 853.7 1067 856.3 1060.9 859.7 1054.8" stroke="#000" stroke-width="1.45"/>
<path d="M843.9 1167.5 844.1 1157.2 844.4 1146.8 844.8 1136.5 845.4 1126.2 846.3 1115.8 847.5 1105.5 849.2 1095.1 851.8 1084.8 855.4 1074.4 860.7 1064.1" stroke="#000" stroke-width="1.45"/>
<path d="M844.1 1136.4 844.2 1126.2 844.4 1116.1 844.6 1105.9 845 1095.8 845.5 1085.6 846.3 1075.5 847.3 1065.3 848.9 1055.2 851 1045 854.2 1034.9" stroke="#000" stroke-width="1.45"/>
<path d="M846.5 1068.1 846.9 1064.4 847.4 1060.8 847.9 1057.1 848.6 1053.4 849.3 1049.8 850.1 1046.1 851 1042.5 852.1 1038.8 853.3 1035.1 854.7 1031.5" stroke="#000" stroke-width="1.45"/>
<path d="M844.7 1064.8 844.8 1062.4 844.9 1060.1 845 1057.7 845.1 1055.4 845.2 1053 845.4 1050.7 845.5 1048.3 845.7 1046 845.9 1043.6 846.1 1041.3" stroke="#000" stroke-width="1.45"/>
<path d="M845.2 1057.1 845.4 1053.5 845.7 1049.9 846 1046.3 846.3 1042.7 846.7 1039.1 847.1 1035.4 847.6 1031.8 848.2 1028.2 848.8 1024.6 849.5 1021 850.2 1017.6" stroke="#000" stroke-width="1.45"/>
<path d="M845.6 1056.8 845.8 1053.9 846 1051 846.3 1048.2 846.5 1045.3 846.8 1042.5 847.1 1039.6 847.5 1036.8 847.9 1033.9 848.3 1031.1 848.8 1028.2" stroke="#000" stroke-width="1.45"/>
<path d="M843.9 1158.4 844 1149 844 1139.5 844.1 1130 844.2 1120.5 844.4 1111.1 844.6 1101.6 844.9 1092.1 845.3 1082.6 845.9 1073.1 846.7 1063.7" stroke="#000" stroke-width="1.45"/>
<path d="M843.9 1111.7 844 1103.8 844.1 1096 844.2 1088.2 844.4 1080.4 844.7 1072.6 845 1064.8 845.4 1056.9 845.9 1049.1 846.6 1041.3 847.6 1033.5" stroke="#000" stroke-width="1.45"/>
<path d="M848.1 1050.2 848.6 1047.3 849.2 1044.4 849.8 1041.5 850.5 1038.5 851.2 1035.6 852.1 1032.7 853 1029.8 854 1026.8 855.2 1023.9 856.4 1021 857 1019.9" stroke="#000" stroke-width="1.45"/>
<path d="M847 1053.3 847.5 1050.1 848.1 1046.8 848.7 1043.6 849.3 1040.4 850.1 1037.1 850.9 1033.9 851.9 1030.7 852.9 1027.5 854.1 1024.2 855.4 1021 860 1010.6" stroke="#000" stroke-width="1.45"/>
<path d="M843.9 1159 844 1150.1 844 1141.1 844.1 1132.2 844.2 1123.3 844.4 1114.3 844.6 1105.4 844.9 1096.5 845.4 1087.5 846 1078.6 846.8 1069.7" stroke="#000" stroke-width="1.45"/>
<path d="M845.6 1078.8 845.9 1075.3 846.2 1071.8 846.6 1068.3 847 1064.9 847.5 1061.4 848.1 1057.9 848.7 1054.4 849.4 1050.9 850.2 1047.4 851.1 1043.9" stroke="#000" stroke-width="1.45"/>
<path d="M844.3 1098.2 844.4 1093.3 844.5 1088.3 844.6 1083.4 844.7 1078.4 844.9 1073.5 845.1 1068.5 845.4 1063.5 845.7 1058.6 846 1053.6 846.5 1048.7" stroke="#000" stroke-width="1.45"/>
<path d="M844.1 1096.1 844.2 1090 844.3 1083.9 844.5 1077.7 844.6 1071.6 844.9 1065.5 845.1 1059.4 845.4 1053.2 845.9 1047.1 846.4 1041 847 1034.9" stroke="#000" stroke-width="1.45"/>
<path d="M848 1034.2 848.2 1032.8 848.4 1031.5 848.6 1030.2 848.8 1028.9 849.1 1027.6 849.3 1026.3 849.6 1024.9 849.8 1023.6 850.1 1022.3 850.4 1021 853.1 1009.5" stroke="#000" stroke-width="1.45"/>
<path d="M844.5 1111.7 844.7 1103.2 845 1094.7 845.5 1086.1 846.1 1077.6 846.8 1069.1 847.9 1060.6 849.3 1052.1 851.2 1043.6 853.8 1035.1 857.3 1026.6" stroke="#000" stroke-width="1.45"/>
<path d="M846.3 1076.2 846.7 1073.5 847.2 1070.8 847.7 1068.2 848.2 1065.5 848.8 1062.8 849.5 1060.1 850.2 1057.5 851 1054.8 851.9 1052.1 852.8 1049.4" stroke="#000" stroke-width="1.45"/>
<path d="M844.8 1098.6 845.1 1094.2 845.5 1089.9 845.9 1085.5 846.3 1081.2 846.9 1076.8 847.5 1072.5 848.2 1068.1 849.1 1063.8 850.1 1059.4 851.3 1055" stroke="#000" stroke-width="1.45"/>
<path d="M844.5 1115.9 844.8 1108 845.2 1100.1 845.7 1092.1 846.3 1084.2 847.2 1076.3 848.3 1068.4 849.8 1060.5 851.8 1052.6 854.4 1044.7 857.8 1036.7" stroke="#000" stroke-width="1.45"/>
<path d="M843.9 1141 844.1 1130.9 844.4 1120.9 844.8 1110.9 845.3 1100.8 846.1 1090.8 847.2 1080.7 848.8 1070.7 851 1060.7 854.2 1050.6 858.7 1040.6" stroke="#000" stroke-width="1.45"/>
<path d="M843.9 1149.4 844 1137.5 844 1125.6 844.1 1113.7 844.3 1101.8 844.5 1089.9 844.8 1078 845.3 1066.1 846 1054.2 847.2 1042.3 848.9 1030.4" stroke="#000" stroke-width="1.45"/>
<path d="M845.2 1062.6 845.3 1060.7 845.4 1058.7 845.6 1056.8 845.7 1054.9 845.8 1052.9 846 1051 846.1 1049.1 846.3 1047.1 846.5 1045.2 846.7 1043.3" stroke="#000" stroke-width="1.45"/>
<path d="M843.9 1136.6 844 1125.1 844.1 1113.5 844.2 1101.9 844.3 1090.4 844.6 1078.8 844.9 1067.2 845.5 1055.7 846.3 1044.1 847.6 1032.6 849.5 1021 851.3 1011.6" stroke="#000" stroke-width="1.45"/>
<path d="M848.1 1105.5 848.3 1104.5 848.5 1103.5 848.7 1102.5 848.9 1101.5 849.1 1100.5 849.3 1099.5 849.6 1098.5 849.8 1097.5 850.1 1096.5 850.4 1095.5 850.6 1094.5 850.9 1093.5 851.2 1092.5 851.5 1091.5 851.8 1090.5 852.2 1089.5 852.5 1088.5 852.8 1087.5 853.2 1086.5 853.6 1085.5 854 1084.5 854.4 1083.5 854.8 1082.5 855.2 1081.5 855.7 1080.6 856.1 1079.6 856.6 1078.6 857.1 1077.6 857.6 1076.6 858.2 1075.6" stroke="#000" stroke-width="1.45"/>
<path d="M844.1 1113.5 844.1 1108 844.2 1102.6 844.2 1097.2 844.3 1091.7 844.4 1086.3 844.5 1080.8 844.7 1075.4 844.9 1070 845.1 1064.5 845.4 1059.1" stroke="#000" stroke-width="1.45"/>
<path d="M844.1 1095.2 844.7 1092.2 845.3 1089.1 846 1086.1 846.7 1083.1 847.6 1080 848.5 1077 849.5 1074 850.7 1071 852 1067.9 853.4 1064.9" stroke="#000" stroke-width="1.45"/>
<path d="M843.9 1149.7 844 1139.1 844.2 1128.6 844.4 1118 844.6 1107.4 845.1 1096.9 845.7 1086.3 846.5 1075.7 847.8 1065.2 849.6 1054.6 852.2 1044" stroke="#000" stroke-width="1.45"/>
<path d="M846 1086.2 846.5 1080.5 847.1 1074.8 847.9 1069 848.8 1063.3 849.9 1057.6 851.3 1051.9 852.9 1046.2 855 1040.4 857.4 1034.7 860.5 1029" stroke="#000" stroke-width="1.45"/>
<path d="M844.6 1083.6 844.8 1077.5 845.1 1071.4 845.4 1065.3 845.8 1059.2 846.3 1053.1 847 1047 847.8 1040.8 848.7 1034.7 849.9 1028.6 851.4 1022.5" stroke="#000" stroke-width="1.45"/>
<path d="M847.1 1076.8 847.6 1072.3 848.3 1067.8 849.1 1063.4 850 1058.9 851 1054.4 852.2 1049.9 853.7 1045.4 855.4 1040.9 857.3 1036.5 859.6 1032" stroke="#000" stroke-width="1.45"/>
<path d="M844 1079.5 844.1 1073.9 844.1 1068.2 844.2 1062.6 844.3 1056.9 844.4 1051.3 844.6 1045.6 844.7 1040 844.9 1034.3 845.2 1028.7 845.5 1023" stroke="#000" stroke-width="1.45"/>
<path d="M844.9 1073.1 845.3 1067.8 845.8 1062.6 846.4 1057.4 847 1052.2 847.9 1047 848.8 1041.8 850 1036.6 851.4 1031.4 853.1 1026.2 855.1 1021 858.4 1013.4" stroke="#000" stroke-width="1.45"/>
<path d="M844 1104.3 844.3 1096 844.5 1087.6 844.9 1079.3 845.4 1071 846.1 1062.7 847 1054.3 848.2 1046 849.8 1037.7 851.9 1029.3 854.8 1021 857.3 1014.7" stroke="#000" stroke-width="1.45"/>
<path d="M849 1059.8 849.8 1055.9 850.7 1052 851.7 1048.1 852.8 1044.3 854.2 1040.4 855.7 1036.5 857.4 1032.6 859.4 1028.8 861.7 1024.9 864.4 1021 964.6 882.7" stroke="#000" stroke-width="1.45"/>
<path d="M856.8 1036.6 857.5 1035.1 858.3 1033.5 859.1 1031.9 860 1030.4 860.9 1028.8 861.9 1027.3 862.9 1025.7 864 1024.1 865.1 1022.6 866.3 1021 976.2 882.7" stroke="#000" stroke-width="1.45"/>
<path d="M857.3 1037.5 858.1 1035.8 859 1034.2 859.9 1032.5 860.9 1030.9 861.9 1029.2 863 1027.6 864.2 1025.9 865.4 1024.3 866.7 1022.6 868 1021 979 891.2" stroke="#000" stroke-width="1.45"/>
<path d="M846.9 1081.4 847.7 1075.4 848.6 1069.3 849.8 1063.3 851.3 1057.3 853.1 1051.2 855.3 1045.2 858.1 1039.1 861.5 1033.1 865.7 1027 870.9 1021 982.7 904.5" stroke="#000" stroke-width="1.45"/>
<path d="M849.6 1064.5 850.5 1060.2 851.7 1055.8 853 1051.5 854.6 1047.1 856.4 1042.8 858.5 1038.4 860.9 1034.1 863.7 1029.7 867.1 1025.4 870.9 1021 978.2 909" stroke="#000" stroke-width="1.45"/>
<path d="M845.9 1077.6 846.3 1071.9 846.9 1066.3 847.6 1060.6 848.4 1055 849.4 1049.3 850.7 1043.6 852.2 1038 854 1032.3 856.3 1026.7 859.1 1021 915.9 915.2" stroke="#000" stroke-width="1.45"/>
<path d="M847.8 1065 848.5 1060.6 849.3 1056.2 850.2 1051.8 851.3 1047.4 852.6 1043 854.1 1038.6 855.8 1034.2 857.8 1029.8 860.2 1025.4 862.9 1021 927.2 925.6" stroke="#000" stroke-width="1.45"/>
<path d="M844.9 1080 845.1 1074.1 845.4 1068.2 845.8 1062.3 846.3 1056.4 846.8 1050.5 847.5 1044.6 848.4 1038.7 849.4 1032.8 850.7 1026.9 852.3 1021 878.5 933.5" stroke="#000" stroke-width="1.45"/>
<path d="M844.8 1058.3 844.9 1054.6 845 1050.9 845.2 1047.1 845.4 1043.4 845.6 1039.7 845.8 1035.9 846.1 1032.2 846.4 1028.5 846.8 1024.7 847.2 1021 856.8 938" stroke="#000" stroke-width="1.45"/>
<path d="M844 1098.6 844.1 1090.8 844.1 1083.1 844.2 1075.3 844.3 1067.6 844.5 1059.8 844.7 1052 844.9 1044.3 845.3 1036.5 845.7 1028.8 846.3 1021 854.8 920.3" stroke="#000" stroke-width="1.45"/>
<path d="M847.2 1092.5 848.2 1085.3 849.6 1078.2 851.3 1071 853.6 1063.9 856.5 1056.7 860.2 1049.6 865 1042.4 871.1 1035.3 879 1028.1 889.1 1021 1037 928.7" stroke="#000" stroke-width="1.45"/>
<path d="M851.6 1067.6 853.1 1062.9 854.8 1058.2 856.8 1053.6 859.1 1048.9 861.9 1044.3 865.2 1039.6 869 1035 873.6 1030.3 878.9 1025.7 885.2 1021 1012.8 933.8" stroke="#000" stroke-width="1.45"/>
<path d="M845.2 1115 845.9 1105.6 846.9 1096.2 848.2 1086.8 850.1 1077.4 852.7 1068 856.4 1058.6 861.4 1049.2 868.5 1039.8 878.2 1030.4 891.9 1021 1020.9 945.1" stroke="#000" stroke-width="1.45"/>
<path d="M847.8 1077.2 848.7 1071.6 849.9 1065.9 851.2 1060.3 852.9 1054.7 854.9 1049.1 857.4 1043.5 860.4 1037.9 864 1032.2 868.5 1026.6 873.9 1021 946.9 952.4" stroke="#000" stroke-width="1.45"/>
<path d="M854.1 1055.4 855.4 1051.9 856.9 1048.5 858.7 1045 860.6 1041.6 862.8 1038.2 865.2 1034.7 868 1031.3 871.2 1027.9 874.7 1024.4 878.7 1021 957.3 957.2" stroke="#000" stroke-width="1.45"/>
<path d="M856.9 1052.6 858.5 1049.4 860.3 1046.3 862.2 1043.1 864.4 1040 866.9 1036.8 869.6 1033.6 872.7 1030.5 876.1 1027.3 880 1024.2 884.2 1021 991.1 946.2" stroke="#000" stroke-width="1.45"/>
<path d="M847.1 1102.6 848.4 1094.4 850.1 1086.2 852.3 1078.1 855.3 1069.9 859.3 1061.8 864.7 1053.6 871.8 1045.5 881.2 1037.3 893.8 1029.2 910.6 1021 1006 980.6" stroke="#000" stroke-width="1.45"/>
<path d="M844.3 1141.7 844.8 1129.6 845.7 1117.5 847.1 1105.5 849.2 1093.4 852.4 1081.3 857.2 1069.3 864.6 1057.2 876 1045.1 893.3 1033.1 919.7 1021 1034.1 978.4" stroke="#000" stroke-width="1.45"/>
<path d="M863.2 1063.3 864.2 1061.9 865.3 1060.5 866.4 1059.1 867.6 1057.7 868.9 1056.3 870.2 1054.9 871.5 1053.5 873 1052 874.5 1050.6 876.1 1049.2 877.8 1047.8 879.6 1046.4 881.4 1045 883.4 1043.6 885.4 1042.2 887.6 1040.8 889.8 1039.3 892.2 1037.9 894.7 1036.5 897.3 1035.1 900.1 1033.7 903 1032.3 906 1030.9 909.2 1029.5 912.6 1028.1 916.1 1026.6 919.8 1025.2 923.7 1023.8 927.8 1022.4 932.1 1021 1076.8 974.7" stroke="#000" stroke-width="1.45"/>
<path d="M873.3 1058.7 874.7 1057.4 876.2 1056.2 877.7 1054.9 879.2 1053.6 880.9 1052.4 882.6 1051.1 884.4 1049.9 886.3 1048.6 888.2 1047.4 890.3 1046.1 892.4 1044.9 894.6 1043.6 897 1042.3 899.4 1041.1 902 1039.8 904.6 1038.6 907.4 1037.3 910.3 1036.1 913.4 1034.8 916.6 1033.6 919.9 1032.3 923.4 1031 927 1029.8 930.8 1028.5 934.7 1027.3 938.9 1026 943.2 1024.8 947.7 1023.5 952.5 1022.3 957.4 1021 1150.4 973" stroke="#000" stroke-width="1.45"/>
<path d="M861.7 1072.8 862.9 1071.1 864.1 1069.4 865.5 1067.6 866.9 1065.9 868.4 1064.2 870 1062.5 871.7 1060.7 873.5 1059 875.4 1057.3 877.5 1055.5 879.6 1053.8 881.9 1052.1 884.4 1050.4 887 1048.6 889.7 1046.9 892.7 1045.2 895.8 1043.5 899.1 1041.7 902.6 1040 906.4 1038.3 910.4 1036.5 914.6 1034.8 919.1 1033.1 923.8 1031.4 928.9 1029.6 934.3 1027.9 940 1026.2 946.1 1024.5 952.5 1022.7 959.4 1021 1140.7 976.7" stroke="#000" stroke-width="1.45"/>
<path d="M846.6 1117.1 847 1113.9 847.6 1110.7 848.1 1107.5 848.7 1104.3 849.5 1101.1 850.2 1097.9 851.1 1094.7 852.1 1091.5 853.2 1088.3 854.5 1085.1 855.9 1081.9 857.4 1078.7 859.1 1075.5 861.1 1072.2 863.3 1069 865.7 1065.8 868.4 1062.6 871.5 1059.4 874.9 1056.2 878.7 1053 883 1049.8 887.7 1046.6 893.1 1043.4 899.1 1040.2 905.8 1037 913.2 1033.8 921.6 1030.6 931 1027.4 941.5 1024.2 953.2 1021 1041.8 998.1" stroke="#000" stroke-width="1.45"/>
<path d="M848.5 1108.6 849.1 1105.7 849.8 1102.8 850.6 1099.9 851.5 1096.9 852.4 1094 853.5 1091.1 854.6 1088.2 855.9 1085.3 857.4 1082.3 858.9 1079.4 860.7 1076.5 862.7 1073.6 864.8 1070.7 867.2 1067.7 869.9 1064.8 872.8 1061.9 876 1059 879.7 1056.1 883.6 1053.1 888.1 1050.2 893 1047.3 898.4 1044.4 904.4 1041.4 911.1 1038.5 918.5 1035.6 926.7 1032.7 935.7 1029.8 945.8 1026.8 956.9 1023.9 969.2 1021 1038.2 1005.5" stroke="#000" stroke-width="1.45"/>
<path d="M845.4 1051.9 845.6 1048.8 845.7 1045.7 846 1042.6 846.2 1039.6 846.5 1036.5 846.8 1033.4 847.1 1030.3 847.5 1027.2 847.9 1024.1 848.4 1021 860 947.6" stroke="#000" stroke-width="1.45"/>
<path d="M846 1054.7 846.2 1051.3 846.5 1047.9 846.9 1044.6 847.3 1041.2 847.7 1037.8 848.2 1034.5 848.7 1031.1 849.3 1027.7 850 1024.4 850.8 1021 866 958.9" stroke="#000" stroke-width="1.45"/>
<path d="M844 1129.9 844.1 1119 844.2 1108.1 844.3 1097.2 844.5 1086.3 844.8 1075.4 845.3 1064.6 846 1053.7 847 1042.8 848.5 1031.9 850.6 1021 870 939.2" stroke="#000" stroke-width="1.45"/>
<path d="M844.8 1090.7 845.1 1083.7 845.4 1076.7 845.9 1069.8 846.5 1062.8 847.2 1055.8 848.2 1048.9 849.4 1041.9 850.9 1034.9 852.9 1028 855.4 1021 892.2 930.7" stroke="#000" stroke-width="1.45"/>
<path d="M846.4 1069.9 846.9 1065 847.5 1060.1 848.2 1055.2 849 1050.3 850 1045.5 851.2 1040.6 852.6 1035.7 854.2 1030.8 856.2 1025.9 858.5 1021 902.2 936.3" stroke="#000" stroke-width="1.45"/>
<path d="M846.4 1078.8 847 1073.1 847.7 1067.3 848.6 1061.5 849.7 1055.7 851.1 1049.9 852.7 1044.1 854.7 1038.4 857.2 1032.6 860.3 1026.8 864 1021 936.4 919.4" stroke="#000" stroke-width="1.45"/>
<path d="M851.9 1047.3 852.7 1044.6 853.6 1042 854.6 1039.4 855.6 1036.8 856.8 1034.1 858 1031.5 859.4 1028.9 860.9 1026.3 862.6 1023.6 864.4 1021 950.5 902.5" stroke="#000" stroke-width="1.45"/>
<path d="M843.9 1177.7 844 1163.3 844.1 1149 844.2 1134.6 844.5 1120.2 844.9 1105.8 845.7 1091.4 846.9 1077 848.9 1062.7 852.2 1048.3 857.7 1033.9" stroke="#000" stroke-width="1.45"/>
<path d="M843.9 1165.3 844 1150.8 844.2 1136.4 844.5 1122 845.1 1107.6 846 1093.1 847.4 1078.7 849.9 1064.3 853.9 1049.9 860.7 1035.4 871.8 1021 895.4 997.1" stroke="#000" stroke-width="1.45"/>
<path d="M843.9 1219.3 843.9 1199.4 843.9 1179.6 844 1159.8 844 1140 844.2 1120.1 844.5 1100.3 845.1 1080.5 846.3 1060.7 848.8 1040.8 853.7 1021 860.8 1000.6" stroke="#000" stroke-width="1.45"/>
<path d="M843.9 1203.1 843.9 1184.9 844 1166.7 844.1 1148.5 844.3 1130.3 844.8 1112.1 845.6 1093.9 847.1 1075.6 850 1057.4 855.4 1039.2 865.8 1021 873.4 1011" stroke="#000" stroke-width="1.45"/>
<path d="M843.9 1165.8 844 1151.9 844.2 1137.9 844.5 1124 845.1 1110 845.9 1096 847.3 1082.1 849.6 1068.1 853.3 1054.2 859.4 1040.2 869.3 1026.3" stroke="#000" stroke-width="1.45"/>
<path d="M843.9 1209.7 843.9 1190.9 844 1172 844.2 1153.1 844.4 1134.2 845 1115.4 846 1096.5 848 1077.6 851.9 1058.7 859.4 1039.9 873.9 1021 889 1006.8" stroke="#000" stroke-width="1.45"/>
<path d="M843.9 1217.9 843.9 1198.2 844 1178.5 844.2 1158.8 844.4 1139.1 845 1119.4 846.2 1099.7 848.5 1080.1 853.1 1060.4 862.4 1040.7 880.8 1021 894.1 1010.8" stroke="#000" stroke-width="1.45"/>
<path d="M843.9 1225.7 843.9 1205.2 844 1184.8 844.1 1164.3 844.4 1143.8 844.9 1123.4 845.9 1102.9 848 1082.4 852.4 1061.9 861.4 1041.5 879.7 1021 915.4 992.6" stroke="#000" stroke-width="1.45"/>
<path d="M843.9 1194.7 843.9 1177.3 844 1159.9 844.2 1142.6 844.5 1125.2 845 1107.8 845.9 1090.5 847.7 1073.1 850.9 1055.7 856.8 1038.4 867.6 1021 882.9 1002.7" stroke="#000" stroke-width="1.45"/>
<path d="M843.9 1222.7 843.9 1202.5 844 1182.4 844.1 1162.2 844.4 1142 845 1121.9 846.2 1101.7 848.6 1081.5 853.5 1061.3 863.4 1041.2 883.4 1021 899.3 1009.6" stroke="#000" stroke-width="1.45"/>
<path d="M843.9 1202.1 843.9 1184 843.9 1165.9 844 1147.8 844.1 1129.6 844.2 1111.5 844.5 1093.4 845 1075.3 846 1057.2 847.9 1039.1 851.6 1021 852 1019.3" stroke="#000" stroke-width="1.45"/>
<path d="M843.9 1207.6 843.9 1188.9 843.9 1170.3 844 1151.6 844 1132.9 844.2 1114.3 844.4 1095.6 844.9 1077 845.8 1058.3 847.5 1039.7 850.8 1021 852.8 1012.7" stroke="#000" stroke-width="1.45"/>
<path d="M843.9 1168.4 844 1153.6 844.2 1138.9 844.6 1124.2 845.2 1109.4 846.3 1094.7 848 1080 850.9 1065.2 855.8 1050.5 863.9 1035.7 877.6 1021 881.5 1017.7" stroke="#000" stroke-width="1.45"/>
<path d="M843.9 1181.6 844 1165.5 844.1 1149.5 844.4 1133.4 844.8 1117.4 845.5 1101.3 846.8 1085.2 849.1 1069.2 853 1053.1 860 1037.1 872.3 1021 911 982.3" stroke="#000" stroke-width="1.45"/>
<path d="M839.1 1149.1 839.2 1147.7 839.3 1146.2 839.4 1144.7 839.5 1143.2 839.6 1141.7 839.7 1140.2 839.9 1138.7 840 1137.3 840.2 1135.8 840.3 1134.3 840.5 1132.8 840.6 1131.3 840.8 1129.8 841 1128.3 841.2 1126.9 841.4 1125.4 841.7 1123.9 841.9 1122.4 842.1 1120.9 842.4 1119.4 842.7 1117.9 843 1116.5 843.3 1115 843.6 1113.5 843.9 1112 844.3 1110.5 844.7 1109 845.1 1107.5 845.5 1106.1 845.9 1104.6" stroke="#000" stroke-width="1.45"/>
<path d="M843.9 1120.7 844.3 1117.3 844.7 1114 845.2 1110.7 845.7 1107.4 846.3 1104 847 1100.7 847.7 1097.4 848.5 1094.1 849.5 1090.8 850.6 1087.4 851.8 1084.1 853.1 1080.8 854.6 1077.5 856.3 1074.1 858.2 1070.8 860.4 1067.5 862.8 1064.2 865.5 1060.9 868.5 1057.5 871.9 1054.2 875.8 1050.9 880.1 1047.6 884.9 1044.3 890.4 1040.9 896.5 1037.6 903.3 1034.3 911.1 1031 919.7 1027.6 929.5 1024.3 940.4 1021 1250.1 932.3" stroke="#000" stroke-width="1.45"/>
<path d="M845.9 1112.6 846.6 1109.5 847.4 1106.5 848.4 1103.4 849.4 1100.4 850.5 1097.3 851.7 1094.3 853.1 1091.2 854.6 1088.2 856.4 1085.1 858.3 1082.1 860.4 1079 862.7 1076 865.4 1072.9 868.3 1069.9 871.6 1066.8 875.2 1063.7 879.2 1060.7 883.7 1057.6 888.7 1054.6 894.3 1051.5 900.5 1048.5 907.4 1045.4 915.1 1042.4 923.6 1039.3 933.2 1036.3 943.8 1033.2 955.6 1030.2 968.7 1027.1 983.3 1024.1 999.6 1021 1405.4 948.7" stroke="#000" stroke-width="1.45"/>
<path d="M845.9 1063.9 846.3 1059.6 846.8 1055.3 847.3 1051 847.9 1046.7 848.6 1042.4 849.4 1038.1 850.4 1033.9 851.5 1029.6 852.8 1025.3 854.4 1021 926.4 832.1" stroke="#000" stroke-width="1.45"/>
<path d="M845.1 1083.8 845.4 1077.5 845.8 1071.2 846.3 1064.9 847 1058.7 847.8 1052.4 848.7 1046.1 850 1039.8 851.5 1033.6 853.4 1027.3 855.8 1021 962.5 767" stroke="#ee5fa0" stroke-width="1.45"/>
<path d="M845.5 1075.8 845.9 1070.4 846.3 1064.9 846.9 1059.4 847.5 1053.9 848.3 1048.4 849.3 1042.9 850.4 1037.5 851.8 1032 853.5 1026.5 855.6 1021 948.1 798.1" stroke="#ee5fa0" stroke-width="1.45"/>
<path d="M845.9 1067.8 846.3 1063.2 846.7 1058.5 847.3 1053.8 847.9 1049.1 848.6 1044.4 849.5 1039.7 850.5 1035.1 851.7 1030.4 853.1 1025.7 854.8 1021 924.3 840.2" stroke="#ee5fa0" stroke-width="1.45"/>
<path d="M845.9 1083.7 846.5 1077.4 847.1 1071.1 848 1064.9 849 1058.6 850.3 1052.3 852 1046.1 854 1039.8 856.5 1033.5 859.7 1027.3 863.6 1021 1002.4 822.3" stroke="#ee5fa0" stroke-width="1.45"/>
<path d="M846.3 1079.2 846.9 1073.3 847.6 1067.5 848.5 1061.7 849.6 1055.9 850.9 1050.1 852.6 1044.3 854.6 1038.4 857.1 1032.6 860.1 1026.8 863.8 1021 995.5 834.3" stroke="#ee5fa0" stroke-width="1.45"/>
<path d="M845.5 1091.4 846 1084.3 846.7 1077.3 847.5 1070.3 848.6 1063.2 849.9 1056.2 851.7 1049.2 854 1042.1 856.8 1035.1 860.5 1028 865.2 1021 993.9 850.6" stroke="#ee5fa0" stroke-width="1.45"/>
<path d="M845.9 1072.4 846.3 1067.3 846.8 1062.1 847.4 1057 848.2 1051.9 849 1046.7 850.1 1041.6 851.3 1036.4 852.8 1031.3 854.6 1026.1 856.8 1021 884.1 961" stroke="#ee5fa0" stroke-width="1.45"/>
</g>
<text x="854" y="919.5" font-size="13.8" font-weight="normal" fill="#3c3cc8" text-anchor="middle">9.9.1</text>
<text x="1250" y="929" font-size="13.8" font-weight="normal" fill="#3c3cc8" text-anchor="middle">1.1.1</text>
<text x="1403" y="946.5" font-size="13.8" font-weight="normal" fill="#3c3cc8" text-anchor="middle">4.11.1</text>
<text x="962" y="763" font-size="13.8" font-weight="normal" fill="#e884b4" text-anchor="middle">1.6.1</text>
<text x="947" y="796" font-size="13.8" font-weight="normal" fill="#e884b4" text-anchor="middle">21.1.1</text>
<text x="1002" y="819.5" font-size="13.8" font-weight="normal" fill="#e884b4" text-anchor="middle">1.3.13</text>
<text x="984" y="831" font-size="13.8" font-weight="normal" fill="#e884b4" text-anchor="middle">1.3.4</text>
<text x="985" y="846.5" font-size="13.8" font-weight="normal" fill="#e884b4" text-anchor="middle">1.3.14</text>
<text x="928" y="831" font-size="13.8" font-weight="normal" fill="#e884b4" text-anchor="middle">5.2.4</text>
<text x="925" y="836.5" font-size="13.8" font-weight="normal" fill="#e884b4" text-anchor="middle">21.2.1</text>
<rect x="110.4" y="64.6" width="600.3" height="517.3" fill="none" stroke="#4a4a4a" stroke-width="1.4"/>
<line x1="144.6" y1="581.9" x2="144.6" y2="587.4" stroke="#333333" stroke-width="1.3"/>
<text x="144.6" y="615.6" font-size="32.5" font-weight="normal" fill="#4d4d4d" text-anchor="middle">0</text>
<line x1="339.3" y1="581.9" x2="339.3" y2="587.4" stroke="#333333" stroke-width="1.3"/>
<text x="339.3" y="615.6" font-size="32.5" font-weight="normal" fill="#4d4d4d" text-anchor="middle">100</text>
<line x1="534" y1="581.9" x2="534" y2="587.4" stroke="#333333" stroke-width="1.3"/>
<text x="534" y="615.6" font-size="32.5" font-weight="normal" fill="#4d4d4d" text-anchor="middle">200</text>
<line x1="104.9" y1="564" x2="110.4" y2="564" stroke="#333333" stroke-width="1.3"/>
<text x="100.9" y="575.7" font-size="32.5" font-weight="normal" fill="#4d4d4d" text-anchor="end">-2.5</text>
<line x1="104.9" y1="401.3" x2="110.4" y2="401.3" stroke="#333333" stroke-width="1.3"/>
<text x="100.9" y="412.9" font-size="32.5" font-weight="normal" fill="#4d4d4d" text-anchor="end">0.0</text>
<line x1="104.9" y1="238.6" x2="110.4" y2="238.6" stroke="#333333" stroke-width="1.3"/>
<text x="100.9" y="250.2" font-size="32.5" font-weight="normal" fill="#4d4d4d" text-anchor="end">2.5</text>
<line x1="104.9" y1="75.8" x2="110.4" y2="75.8" stroke="#333333" stroke-width="1.3"/>
<text x="100.9" y="87.4" font-size="32.5" font-weight="normal" fill="#4d4d4d" text-anchor="end">5.0</text>
<rect x="804.4" y="64.6" width="627.8" height="517.3" fill="none" stroke="#4a4a4a" stroke-width="1.4"/>
<line x1="836" y1="581.9" x2="836" y2="587.4" stroke="#333333" stroke-width="1.3"/>
<text x="836" y="615.6" font-size="32.5" font-weight="normal" fill="#4d4d4d" text-anchor="middle">0</text>
<line x1="1040.3" y1="581.9" x2="1040.3" y2="587.4" stroke="#333333" stroke-width="1.3"/>
<text x="1040.3" y="615.6" font-size="32.5" font-weight="normal" fill="#4d4d4d" text-anchor="middle">50</text>
<line x1="1244.7" y1="581.9" x2="1244.7" y2="587.4" stroke="#333333" stroke-width="1.3"/>
<text x="1244.7" y="615.6" font-size="32.5" font-weight="normal" fill="#4d4d4d" text-anchor="middle">100</text>
<line x1="798.9" y1="536.7" x2="804.4" y2="536.7" stroke="#333333" stroke-width="1.3"/>
<text x="794.9" y="548.3" font-size="32.5" font-weight="normal" fill="#4d4d4d" text-anchor="end">-2</text>
<line x1="798.9" y1="420.1" x2="804.4" y2="420.1" stroke="#333333" stroke-width="1.3"/>
<text x="794.9" y="431.7" font-size="32.5" font-weight="normal" fill="#4d4d4d" text-anchor="end">-1</text>
<line x1="798.9" y1="303.5" x2="804.4" y2="303.5" stroke="#333333" stroke-width="1.3"/>
<text x="794.9" y="315.1" font-size="32.5" font-weight="normal" fill="#4d4d4d" text-anchor="end">0</text>
<line x1="798.9" y1="186.9" x2="804.4" y2="186.9" stroke="#333333" stroke-width="1.3"/>
<text x="794.9" y="198.5" font-size="32.5" font-weight="normal" fill="#4d4d4d" text-anchor="end">1</text>
<line x1="798.9" y1="70.3" x2="804.4" y2="70.3" stroke="#333333" stroke-width="1.3"/>
<text x="794.9" y="81.9" font-size="32.5" font-weight="normal" fill="#4d4d4d" text-anchor="end">2</text>
<rect x="137.1" y="733.8" width="573.7" height="517.2" fill="none" stroke="#4a4a4a" stroke-width="1.4"/>
<line x1="169.6" y1="1251" x2="169.6" y2="1256.5" stroke="#333333" stroke-width="1.3"/>
<text x="169.6" y="1284.7" font-size="32.5" font-weight="normal" fill="#4d4d4d" text-anchor="middle">0</text>
<line x1="356.1" y1="1251" x2="356.1" y2="1256.5" stroke="#333333" stroke-width="1.3"/>
<text x="356.1" y="1284.7" font-size="32.5" font-weight="normal" fill="#4d4d4d" text-anchor="middle">100</text>
<line x1="542.6" y1="1251" x2="542.6" y2="1256.5" stroke="#333333" stroke-width="1.3"/>
<text x="542.6" y="1284.7" font-size="32.5" font-weight="normal" fill="#4d4d4d" text-anchor="middle">200</text>
<line x1="131.6" y1="1241.5" x2="137.1" y2="1241.5" stroke="#333333" stroke-width="1.3"/>
<text x="127.6" y="1253.1" font-size="32.5" font-weight="normal" fill="#4d4d4d" text-anchor="end">-10</text>
<line x1="131.6" y1="1068" x2="137.1" y2="1068" stroke="#333333" stroke-width="1.3"/>
<text x="127.6" y="1079.6" font-size="32.5" font-weight="normal" fill="#4d4d4d" text-anchor="end">-5</text>
<line x1="131.6" y1="894.5" x2="137.1" y2="894.5" stroke="#333333" stroke-width="1.3"/>
<text x="127.6" y="906.1" font-size="32.5" font-weight="normal" fill="#4d4d4d" text-anchor="end">0</text>
<rect x="811.9" y="733.8" width="620.3" height="517.2" fill="none" stroke="#4a4a4a" stroke-width="1.4"/>
<line x1="843.9" y1="1251" x2="843.9" y2="1256.5" stroke="#333333" stroke-width="1.3"/>
<text x="843.9" y="1284.7" font-size="32.5" font-weight="normal" fill="#4d4d4d" text-anchor="middle">0</text>
<line x1="1045" y1="1251" x2="1045" y2="1256.5" stroke="#333333" stroke-width="1.3"/>
<text x="1045" y="1284.7" font-size="32.5" font-weight="normal" fill="#4d4d4d" text-anchor="middle">50</text>
<line x1="1246.1" y1="1251" x2="1246.1" y2="1256.5" stroke="#333333" stroke-width="1.3"/>
<text x="1246.1" y="1284.7" font-size="32.5" font-weight="normal" fill="#4d4d4d" text-anchor="middle">100</text>
<line x1="806.4" y1="1163.5" x2="811.9" y2="1163.5" stroke="#333333" stroke-width="1.3"/>
<text x="802.4" y="1175.1" font-size="32.5" font-weight="normal" fill="#4d4d4d" text-anchor="end">-5</text>
<line x1="806.4" y1="1021" x2="811.9" y2="1021" stroke="#333333" stroke-width="1.3"/>
<text x="802.4" y="1032.6" font-size="32.5" font-weight="normal" fill="#4d4d4d" text-anchor="end">0</text>
<line x1="806.4" y1="878.5" x2="811.9" y2="878.5" stroke="#333333" stroke-width="1.3"/>
<text x="802.4" y="890.1" font-size="32.5" font-weight="normal" fill="#4d4d4d" text-anchor="end">5</text>
<line x1="806.4" y1="736" x2="811.9" y2="736" stroke="#333333" stroke-width="1.3"/>
<text x="802.4" y="747.6" font-size="32.5" font-weight="normal" fill="#4d4d4d" text-anchor="end">10</text>
<rect x="1567.30" y="559.7" width="9.32" height="2.2" fill="#a6d854" stroke="#4d9a1f" stroke-width="1.2"/>
<rect x="1576.62" y="559" width="9.32" height="2.9" fill="#a6d854" stroke="#4d9a1f" stroke-width="1.2"/>
<rect x="1585.95" y="551.6" width="9.32" height="10.3" fill="#a6d854" stroke="#4d9a1f" stroke-width="1.2"/>
<rect x="1595.27" y="553.4" width="9.32" height="8.5" fill="#a6d854" stroke="#4d9a1f" stroke-width="1.2"/>
<line x1="1604.6" y1="561.9" x2="1613.9" y2="561.9" stroke="#4d9a1f" stroke-width="1.2"/>
<line x1="1613.9" y1="561.9" x2="1623.2" y2="561.9" stroke="#4d9a1f" stroke-width="1.2"/>
<rect x="1623.24" y="552.5" width="9.32" height="9.4" fill="#a6d854" stroke="#4d9a1f" stroke-width="1.2"/>
<rect x="1632.56" y="558.3" width="9.32" height="3.6" fill="#a6d854" stroke="#4d9a1f" stroke-width="1.2"/>
<rect x="1641.88" y="528.2" width="9.32" height="33.7" fill="#a6d854" stroke="#4d9a1f" stroke-width="1.2"/>
<rect x="1651.21" y="474.4" width="9.32" height="87.5" fill="#a6d854" stroke="#4d9a1f" stroke-width="1.2"/>
<rect x="1660.53" y="510.4" width="9.32" height="51.5" fill="#a6d854" stroke="#4d9a1f" stroke-width="1.2"/>
<rect x="1669.85" y="397.9" width="9.32" height="164" fill="#a6d854" stroke="#4d9a1f" stroke-width="1.2"/>
<rect x="1679.18" y="458.8" width="9.32" height="103.1" fill="#a6d854" stroke="#4d9a1f" stroke-width="1.2"/>
<rect x="1688.50" y="369.2" width="9.32" height="192.7" fill="#a6d854" stroke="#4d9a1f" stroke-width="1.2"/>
<rect x="1697.82" y="295.3" width="9.32" height="266.6" fill="#a6d854" stroke="#4d9a1f" stroke-width="1.2"/>
<rect x="1707.14" y="224.8" width="9.32" height="337.1" fill="#a6d854" stroke="#4d9a1f" stroke-width="1.2"/>
<rect x="1716.47" y="312" width="9.32" height="249.9" fill="#a6d854" stroke="#4d9a1f" stroke-width="1.2"/>
<rect x="1725.79" y="244.8" width="9.32" height="317.1" fill="#a6d854" stroke="#4d9a1f" stroke-width="1.2"/>
<rect x="1735.11" y="108.8" width="9.32" height="453.1" fill="#a6d854" stroke="#4d9a1f" stroke-width="1.2"/>
<rect x="1744.44" y="73" width="9.32" height="488.9" fill="#a6d854" stroke="#4d9a1f" stroke-width="1.2"/>
<rect x="1753.76" y="165.6" width="9.32" height="396.3" fill="#a6d854" stroke="#4d9a1f" stroke-width="1.2"/>
<rect x="1763.08" y="127.7" width="9.32" height="434.2" fill="#a6d854" stroke="#4d9a1f" stroke-width="1.2"/>
<rect x="1772.41" y="125" width="9.32" height="436.9" fill="#a6d854" stroke="#4d9a1f" stroke-width="1.2"/>
<rect x="1781.73" y="47" width="9.32" height="514.9" fill="#a6d854" stroke="#4d9a1f" stroke-width="1.2"/>
<rect x="1791.05" y="33.5" width="9.32" height="528.4" fill="#a6d854" stroke="#4d9a1f" stroke-width="1.2"/>
<rect x="1800.38" y="195.7" width="9.32" height="366.2" fill="#a6d854" stroke="#4d9a1f" stroke-width="1.2"/>
<rect x="1809.70" y="211.5" width="9.32" height="350.4" fill="#a6d854" stroke="#4d9a1f" stroke-width="1.2"/>
<rect x="1819.02" y="291.2" width="9.32" height="270.7" fill="#a6d854" stroke="#4d9a1f" stroke-width="1.2"/>
<rect x="1828.34" y="209.7" width="9.32" height="352.2" fill="#a6d854" stroke="#4d9a1f" stroke-width="1.2"/>
<rect x="1837.67" y="198.6" width="9.32" height="363.3" fill="#a6d854" stroke="#4d9a1f" stroke-width="1.2"/>
<rect x="1846.99" y="159.3" width="9.32" height="402.6" fill="#a6d854" stroke="#4d9a1f" stroke-width="1.2"/>
<rect x="1856.31" y="195.8" width="9.32" height="366.1" fill="#a6d854" stroke="#4d9a1f" stroke-width="1.2"/>
<rect x="1865.64" y="269.9" width="9.32" height="292" fill="#a6d854" stroke="#4d9a1f" stroke-width="1.2"/>
<rect x="1874.96" y="341.5" width="9.32" height="220.4" fill="#a6d854" stroke="#4d9a1f" stroke-width="1.2"/>
<rect x="1884.28" y="302.1" width="9.32" height="259.8" fill="#a6d854" stroke="#4d9a1f" stroke-width="1.2"/>
<rect x="1893.61" y="217.1" width="9.32" height="344.8" fill="#a6d854" stroke="#4d9a1f" stroke-width="1.2"/>
<rect x="1902.93" y="310.1" width="9.32" height="251.8" fill="#a6d854" stroke="#4d9a1f" stroke-width="1.2"/>
<rect x="1912.25" y="132.2" width="9.32" height="429.7" fill="#a6d854" stroke="#4d9a1f" stroke-width="1.2"/>
<rect x="1921.57" y="307.1" width="9.32" height="254.8" fill="#a6d854" stroke="#4d9a1f" stroke-width="1.2"/>
<rect x="1930.90" y="354" width="9.32" height="207.9" fill="#a6d854" stroke="#4d9a1f" stroke-width="1.2"/>
<rect x="1940.22" y="327.6" width="9.32" height="234.3" fill="#a6d854" stroke="#4d9a1f" stroke-width="1.2"/>
<rect x="1949.54" y="336.2" width="9.32" height="225.7" fill="#a6d854" stroke="#4d9a1f" stroke-width="1.2"/>
<rect x="1958.87" y="388.6" width="9.32" height="173.3" fill="#a6d854" stroke="#4d9a1f" stroke-width="1.2"/>
<rect x="1968.19" y="399.2" width="9.32" height="162.7" fill="#a6d854" stroke="#4d9a1f" stroke-width="1.2"/>
<rect x="1977.51" y="490.8" width="9.32" height="71.1" fill="#a6d854" stroke="#4d9a1f" stroke-width="1.2"/>
<rect x="1986.84" y="479.6" width="9.32" height="82.3" fill="#a6d854" stroke="#4d9a1f" stroke-width="1.2"/>
<rect x="1996.16" y="518.9" width="9.32" height="43" fill="#a6d854" stroke="#4d9a1f" stroke-width="1.2"/>
<rect x="2005.48" y="531.5" width="9.32" height="30.4" fill="#a6d854" stroke="#4d9a1f" stroke-width="1.2"/>
<rect x="2014.80" y="533.6" width="9.32" height="28.3" fill="#a6d854" stroke="#4d9a1f" stroke-width="1.2"/>
<rect x="2024.13" y="535.7" width="9.32" height="26.2" fill="#a6d854" stroke="#4d9a1f" stroke-width="1.2"/>
<rect x="2033.45" y="540.4" width="9.32" height="21.5" fill="#a6d854" stroke="#4d9a1f" stroke-width="1.2"/>
<rect x="2042.77" y="543.2" width="9.32" height="18.7" fill="#a6d854" stroke="#4d9a1f" stroke-width="1.2"/>
<rect x="2052.10" y="556.5" width="9.32" height="5.4" fill="#a6d854" stroke="#4d9a1f" stroke-width="1.2"/>
<rect x="2061.42" y="547.1" width="9.32" height="14.8" fill="#a6d854" stroke="#4d9a1f" stroke-width="1.2"/>
<rect x="2070.74" y="541.5" width="9.32" height="20.4" fill="#a6d854" stroke="#4d9a1f" stroke-width="1.2"/>
<rect x="2080.07" y="543.2" width="9.32" height="18.7" fill="#a6d854" stroke="#4d9a1f" stroke-width="1.2"/>
<line x1="2089.4" y1="561.9" x2="2098.7" y2="561.9" stroke="#4d9a1f" stroke-width="1.2"/>
<line x1="2098.7" y1="561.9" x2="2108" y2="561.9" stroke="#4d9a1f" stroke-width="1.2"/>
<rect x="2108.03" y="559.6" width="9.32" height="2.3" fill="#a6d854" stroke="#4d9a1f" stroke-width="1.2"/>
<rect x="2117.36" y="559.6" width="9.32" height="2.3" fill="#a6d854" stroke="#4d9a1f" stroke-width="1.2"/>
<line x1="1900.8" y1="588.4" x2="1900.8" y2="7.8" stroke="#000" stroke-width="3" stroke-dasharray="12.9 12.9"/>
<line x1="1539.9" y1="7.2" x2="1539.9" y2="588.6" stroke="#222" stroke-width="1.5"/>
<line x1="1539.2" y1="587.9" x2="2153.5" y2="587.9" stroke="#222" stroke-width="1.5"/>
<line x1="1534.4" y1="562.1" x2="1539.9" y2="562.1" stroke="#333333" stroke-width="1.3"/>
<text x="1530.5" y="571.6" font-size="26.5" font-weight="normal" fill="#4d4d4d" text-anchor="end">0</text>
<line x1="1534.4" y1="374.8" x2="1539.9" y2="374.8" stroke="#333333" stroke-width="1.3"/>
<text x="1530.5" y="384.3" font-size="26.5" font-weight="normal" fill="#4d4d4d" text-anchor="end">200</text>
<line x1="1534.4" y1="187.4" x2="1539.9" y2="187.4" stroke="#333333" stroke-width="1.3"/>
<text x="1530.5" y="196.9" font-size="26.5" font-weight="normal" fill="#4d4d4d" text-anchor="end">400</text>
<line x1="1602.7" y1="587.9" x2="1602.7" y2="593.4" stroke="#333333" stroke-width="1.3"/>
<text x="1602.7" y="616.2" font-size="26.5" font-weight="normal" fill="#4d4d4d" text-anchor="middle">-2</text>
<line x1="1745.7" y1="587.9" x2="1745.7" y2="593.4" stroke="#333333" stroke-width="1.3"/>
<text x="1745.7" y="616.2" font-size="26.5" font-weight="normal" fill="#4d4d4d" text-anchor="middle">-1</text>
<line x1="1888.7" y1="587.9" x2="1888.7" y2="593.4" stroke="#333333" stroke-width="1.3"/>
<text x="1888.7" y="616.2" font-size="26.5" font-weight="normal" fill="#4d4d4d" text-anchor="middle">0</text>
<line x1="2031.7" y1="587.9" x2="2031.7" y2="593.4" stroke="#333333" stroke-width="1.3"/>
<text x="2031.7" y="616.2" font-size="26.5" font-weight="normal" fill="#4d4d4d" text-anchor="middle">1</text>
<rect x="1567.30" y="1230.1" width="9.33" height="1.1" fill="#7b6fb8" stroke="#4b2a8f" stroke-width="1.2"/>
<line x1="1576.6" y1="1231.2" x2="1586" y2="1231.2" stroke="#4b2a8f" stroke-width="1.2"/>
<rect x="1585.96" y="1229.8" width="9.33" height="1.4" fill="#7b6fb8" stroke="#4b2a8f" stroke-width="1.2"/>
<rect x="1595.29" y="1227.6" width="9.33" height="3.6" fill="#7b6fb8" stroke="#4b2a8f" stroke-width="1.2"/>
<rect x="1604.62" y="1228.4" width="9.33" height="2.8" fill="#7b6fb8" stroke="#4b2a8f" stroke-width="1.2"/>
<line x1="1614" y1="1231.2" x2="1623.3" y2="1231.2" stroke="#4b2a8f" stroke-width="1.2"/>
<rect x="1623.28" y="1228.3" width="9.33" height="2.9" fill="#7b6fb8" stroke="#4b2a8f" stroke-width="1.2"/>
<line x1="1632.6" y1="1231.2" x2="1641.9" y2="1231.2" stroke="#4b2a8f" stroke-width="1.2"/>
<line x1="1641.9" y1="1231.2" x2="1651.3" y2="1231.2" stroke="#4b2a8f" stroke-width="1.2"/>
<rect x="1651.27" y="1230.4" width="9.33" height="0.8" fill="#7b6fb8" stroke="#4b2a8f" stroke-width="1.2"/>
<rect x="1660.60" y="1229.8" width="9.33" height="1.4" fill="#7b6fb8" stroke="#4b2a8f" stroke-width="1.2"/>
<rect x="1669.93" y="1225.9" width="9.33" height="5.3" fill="#7b6fb8" stroke="#4b2a8f" stroke-width="1.2"/>
<line x1="1679.3" y1="1231.2" x2="1688.6" y2="1231.2" stroke="#4b2a8f" stroke-width="1.2"/>
<rect x="1688.59" y="1221.8" width="9.33" height="9.4" fill="#7b6fb8" stroke="#4b2a8f" stroke-width="1.2"/>
<rect x="1697.92" y="1175.3" width="9.33" height="55.9" fill="#7b6fb8" stroke="#4b2a8f" stroke-width="1.2"/>
<rect x="1707.25" y="1205.1" width="9.33" height="26.1" fill="#7b6fb8" stroke="#4b2a8f" stroke-width="1.2"/>
<rect x="1716.58" y="1199.2" width="9.33" height="32" fill="#7b6fb8" stroke="#4b2a8f" stroke-width="1.2"/>
<rect x="1725.91" y="1151" width="9.33" height="80.2" fill="#7b6fb8" stroke="#4b2a8f" stroke-width="1.2"/>
<rect x="1735.24" y="1144.3" width="9.33" height="86.9" fill="#7b6fb8" stroke="#4b2a8f" stroke-width="1.2"/>
<rect x="1744.57" y="1059" width="9.33" height="172.2" fill="#7b6fb8" stroke="#4b2a8f" stroke-width="1.2"/>
<rect x="1753.90" y="1065.5" width="9.33" height="165.7" fill="#7b6fb8" stroke="#4b2a8f" stroke-width="1.2"/>
<rect x="1763.23" y="987" width="9.33" height="244.2" fill="#7b6fb8" stroke="#4b2a8f" stroke-width="1.2"/>
<rect x="1772.56" y="925.1" width="9.33" height="306.1" fill="#7b6fb8" stroke="#4b2a8f" stroke-width="1.2"/>
<rect x="1781.89" y="838.2" width="9.33" height="393" fill="#7b6fb8" stroke="#4b2a8f" stroke-width="1.2"/>
<rect x="1791.22" y="790.5" width="9.33" height="440.7" fill="#7b6fb8" stroke="#4b2a8f" stroke-width="1.2"/>
<rect x="1800.55" y="703" width="9.33" height="528.2" fill="#7b6fb8" stroke="#4b2a8f" stroke-width="1.2"/>
<rect x="1809.88" y="743.6" width="9.33" height="487.6" fill="#7b6fb8" stroke="#4b2a8f" stroke-width="1.2"/>
<rect x="1819.21" y="809.6" width="9.33" height="421.6" fill="#7b6fb8" stroke="#4b2a8f" stroke-width="1.2"/>
<rect x="1828.54" y="865.4" width="9.33" height="365.8" fill="#7b6fb8" stroke="#4b2a8f" stroke-width="1.2"/>
<rect x="1837.87" y="884.3" width="9.33" height="346.9" fill="#7b6fb8" stroke="#4b2a8f" stroke-width="1.2"/>
<rect x="1847.20" y="966.7" width="9.33" height="264.5" fill="#7b6fb8" stroke="#4b2a8f" stroke-width="1.2"/>
<rect x="1856.53" y="993.1" width="9.33" height="238.1" fill="#7b6fb8" stroke="#4b2a8f" stroke-width="1.2"/>
<rect x="1865.86" y="918.1" width="9.33" height="313.1" fill="#7b6fb8" stroke="#4b2a8f" stroke-width="1.2"/>
<rect x="1875.19" y="1031.7" width="9.33" height="199.5" fill="#7b6fb8" stroke="#4b2a8f" stroke-width="1.2"/>
<rect x="1884.52" y="1063.6" width="9.33" height="167.6" fill="#7b6fb8" stroke="#4b2a8f" stroke-width="1.2"/>
<rect x="1893.85" y="1077" width="9.33" height="154.2" fill="#7b6fb8" stroke="#4b2a8f" stroke-width="1.2"/>
<rect x="1903.18" y="1162.1" width="9.33" height="69.1" fill="#7b6fb8" stroke="#4b2a8f" stroke-width="1.2"/>
<rect x="1912.51" y="1196.8" width="9.33" height="34.4" fill="#7b6fb8" stroke="#4b2a8f" stroke-width="1.2"/>
<rect x="1921.84" y="1220.4" width="9.33" height="10.8" fill="#7b6fb8" stroke="#4b2a8f" stroke-width="1.2"/>
<rect x="1931.17" y="1225" width="9.33" height="6.2" fill="#7b6fb8" stroke="#4b2a8f" stroke-width="1.2"/>
<rect x="1940.50" y="1226.3" width="9.33" height="4.9" fill="#7b6fb8" stroke="#4b2a8f" stroke-width="1.2"/>
<rect x="1949.83" y="1228.3" width="9.33" height="2.9" fill="#7b6fb8" stroke="#4b2a8f" stroke-width="1.2"/>
<rect x="1959.16" y="1229.7" width="9.33" height="1.5" fill="#7b6fb8" stroke="#4b2a8f" stroke-width="1.2"/>
<rect x="1968.49" y="1227.7" width="9.33" height="3.5" fill="#7b6fb8" stroke="#4b2a8f" stroke-width="1.2"/>
<rect x="1977.82" y="1228.4" width="9.33" height="2.8" fill="#7b6fb8" stroke="#4b2a8f" stroke-width="1.2"/>
<rect x="1987.15" y="1228.4" width="9.33" height="2.8" fill="#7b6fb8" stroke="#4b2a8f" stroke-width="1.2"/>
<rect x="1996.48" y="1228.7" width="9.33" height="2.5" fill="#7b6fb8" stroke="#4b2a8f" stroke-width="1.2"/>
<rect x="2005.81" y="1230.4" width="9.33" height="0.8" fill="#7b6fb8" stroke="#4b2a8f" stroke-width="1.2"/>
<rect x="2015.14" y="1230.4" width="9.33" height="0.8" fill="#7b6fb8" stroke="#4b2a8f" stroke-width="1.2"/>
<rect x="2024.47" y="1229" width="9.33" height="2.2" fill="#7b6fb8" stroke="#4b2a8f" stroke-width="1.2"/>
<rect x="2033.80" y="1229.5" width="9.33" height="1.7" fill="#7b6fb8" stroke="#4b2a8f" stroke-width="1.2"/>
<rect x="2043.13" y="1230.6" width="9.33" height="0.6" fill="#7b6fb8" stroke="#4b2a8f" stroke-width="1.2"/>
<rect x="2052.46" y="1230.4" width="9.33" height="0.8" fill="#7b6fb8" stroke="#4b2a8f" stroke-width="1.2"/>
<rect x="2061.79" y="1230.5" width="9.33" height="0.7" fill="#7b6fb8" stroke="#4b2a8f" stroke-width="1.2"/>
<rect x="2071.12" y="1230.6" width="9.33" height="0.6" fill="#7b6fb8" stroke="#4b2a8f" stroke-width="1.2"/>
<rect x="2080.45" y="1230.4" width="9.33" height="0.8" fill="#7b6fb8" stroke="#4b2a8f" stroke-width="1.2"/>
<rect x="2089.78" y="1230.6" width="9.33" height="0.6" fill="#7b6fb8" stroke="#4b2a8f" stroke-width="1.2"/>
<rect x="2099.11" y="1230.6" width="9.33" height="0.6" fill="#7b6fb8" stroke="#4b2a8f" stroke-width="1.2"/>
<rect x="2108.44" y="1230.1" width="9.33" height="1.1" fill="#7b6fb8" stroke="#4b2a8f" stroke-width="1.2"/>
<rect x="2117.77" y="1230.1" width="9.33" height="1.1" fill="#7b6fb8" stroke="#4b2a8f" stroke-width="1.2"/>
<line x1="1817.3" y1="1257.4" x2="1817.3" y2="677.2" stroke="#000" stroke-width="2.4" stroke-dasharray="12.9 12.9"/>
<line x1="1539.9" y1="676.6" x2="1539.9" y2="1258.1" stroke="#222" stroke-width="1.5"/>
<line x1="1539.2" y1="1257.4" x2="2153.5" y2="1257.4" stroke="#222" stroke-width="1.5"/>
<line x1="1534.4" y1="1231.1" x2="1539.9" y2="1231.1" stroke="#333333" stroke-width="1.3"/>
<text x="1530.5" y="1240.6" font-size="26.5" font-weight="normal" fill="#4d4d4d" text-anchor="end">0</text>
<line x1="1534.4" y1="1086.6" x2="1539.9" y2="1086.6" stroke="#333333" stroke-width="1.3"/>
<text x="1530.5" y="1096.1" font-size="26.5" font-weight="normal" fill="#4d4d4d" text-anchor="end">300</text>
<line x1="1534.4" y1="942.1" x2="1539.9" y2="942.1" stroke="#333333" stroke-width="1.3"/>
<text x="1530.5" y="951.6" font-size="26.5" font-weight="normal" fill="#4d4d4d" text-anchor="end">600</text>
<line x1="1534.4" y1="797.6" x2="1539.9" y2="797.6" stroke="#333333" stroke-width="1.3"/>
<text x="1530.5" y="807.1" font-size="26.5" font-weight="normal" fill="#4d4d4d" text-anchor="end">900</text>
<line x1="1646.3" y1="1257.4" x2="1646.3" y2="1262.9" stroke="#333333" stroke-width="1.3"/>
<text x="1646.3" y="1285.7" font-size="26.5" font-weight="normal" fill="#4d4d4d" text-anchor="middle">-5</text>
<line x1="1814.7" y1="1257.4" x2="1814.7" y2="1262.9" stroke="#333333" stroke-width="1.3"/>
<text x="1814.7" y="1285.7" font-size="26.5" font-weight="normal" fill="#4d4d4d" text-anchor="middle">0</text>
<line x1="1983.1" y1="1257.4" x2="1983.1" y2="1262.9" stroke="#333333" stroke-width="1.3"/>
<text x="1983.1" y="1285.7" font-size="26.5" font-weight="normal" fill="#4d4d4d" text-anchor="middle">5</text>
<line x1="2151.4" y1="1257.4" x2="2151.4" y2="1262.9" stroke="#333333" stroke-width="1.3"/>
<text x="2151.4" y="1285.7" font-size="26.5" font-weight="normal" fill="#4d4d4d" text-anchor="middle">10</text>
<text x="10.5" y="46.3" font-size="43" font-weight="bold" fill="#000" text-anchor="start">a</text>
<text x="733.5" y="45.5" font-size="42" font-weight="bold" fill="#000" text-anchor="start">b</text>
<text x="1454.5" y="46.3" font-size="43" font-weight="bold" fill="#000" text-anchor="start">c</text>
<text x="12.5" y="715" font-size="42" font-weight="bold" fill="#000" text-anchor="start">d</text>
<text x="731.5" y="715" font-size="43" font-weight="bold" fill="#000" text-anchor="start">e</text>
<text x="1449" y="715" font-size="42" font-weight="bold" fill="#000" text-anchor="start">f</text>
<text x="110.00" y="44.3" font-size="50" font-weight="bold" fill="#000" textLength="239.98" lengthAdjust="spacingAndGlyphs">Cor=0.494</text>
<text x="804.40" y="44" font-size="50" font-weight="bold" fill="#000" textLength="240.39" lengthAdjust="spacingAndGlyphs">Cor=0.613</text>
<text x="136.79" y="713.4" font-size="50" font-weight="bold" fill="#000" textLength="241.63" lengthAdjust="spacingAndGlyphs">Cor=0.479</text>
<text x="811.20" y="713.4" font-size="50" font-weight="bold" fill="#000" textLength="240.29" lengthAdjust="spacingAndGlyphs">Cor=0.454</text>
<text x="379.07" y="651.6" font-size="32.5" font-weight="bold" fill="#000" textLength="62.35" lengthAdjust="spacingAndGlyphs">Age</text>
<text x="1002.46" y="651.7" font-size="32.5" font-weight="bold" fill="#000" textLength="229.83" lengthAdjust="spacingAndGlyphs">Age (N=11754)</text>
<text x="1550.87" y="652" font-size="32.5" font-weight="bold" fill="#000" textLength="594.54" lengthAdjust="spacingAndGlyphs">Transformed age in Clock2 (N=11754)</text>
<text x="392.37" y="1320.7" font-size="32.5" font-weight="bold" fill="#000" textLength="63.08" lengthAdjust="spacingAndGlyphs">Age</text>
<text x="1006.97" y="1320.7" font-size="32.5" font-weight="bold" fill="#000" textLength="228.82" lengthAdjust="spacingAndGlyphs">Age (N=11754)</text>
<text x="1550.87" y="1321" font-size="32.5" font-weight="bold" fill="#000" textLength="594.54" lengthAdjust="spacingAndGlyphs">Transformed age in Clock3 (N=11754)</text>
<text x="0" y="0" font-size="32.5" font-weight="bold" fill="#000" textLength="424.05" lengthAdjust="spacingAndGlyphs" transform="translate(33 533.33) rotate(-90)">Transformed age in Clock2</text>
<text x="0" y="0" font-size="32.5" font-weight="bold" fill="#000" textLength="424.05" lengthAdjust="spacingAndGlyphs" transform="translate(754 533.33) rotate(-90)">Transformed age in Clock2</text>
<text x="0" y="0" font-size="32.5" font-weight="bold" fill="#000" textLength="76.82" lengthAdjust="spacingAndGlyphs" transform="translate(1477.2 329.06) rotate(-90)">count</text>
<text x="0" y="0" font-size="32.5" font-weight="bold" fill="#000" textLength="346.07" lengthAdjust="spacingAndGlyphs" transform="translate(33 1169.53) rotate(-90)">Transformed age with</text>
<text x="0" y="0" font-size="32.5" font-weight="bold" fill="#000" textLength="319.11" lengthAdjust="spacingAndGlyphs" transform="translate(68 1147.05) rotate(-90)">lifespan information</text>
<text x="0" y="0" font-size="32.5" font-weight="bold" fill="#000" textLength="424.99" lengthAdjust="spacingAndGlyphs" transform="translate(754 1203.23) rotate(-90)">Transformed age in Clock3</text>
<text x="0" y="0" font-size="32.5" font-weight="bold" fill="#000" textLength="76.82" lengthAdjust="spacingAndGlyphs" transform="translate(1477.2 998.46) rotate(-90)">count</text>
<text x="308.63" y="1401.4" font-size="32.5" font-weight="bold" fill="#000" textLength="124.35" lengthAdjust="spacingAndGlyphs">Profiled</text>
<line x1="451.9" y1="1360.8" x2="475.1" y2="1360.8" stroke="#000" stroke-width="1.4"/>
<text x="494.71" y="1370" font-size="24.5" font-weight="bold" fill="#000" textLength="159.35" lengthAdjust="spacingAndGlyphs">1.1.1 Human</text>
<line x1="451.9" y1="1390" x2="475.1" y2="1390" stroke="#ee5fa0" stroke-width="1.4"/>
<text x="494.72" y="1399.2" font-size="24.5" font-weight="bold" fill="#000" textLength="297.27" lengthAdjust="spacingAndGlyphs">1.3.13 Red ruffed lemur</text>
<line x1="451.9" y1="1418.8" x2="475.1" y2="1418.8" stroke="#ee5fa0" stroke-width="1.4"/>
<text x="494.72" y="1428" font-size="24.5" font-weight="bold" fill="#000" textLength="297.27" lengthAdjust="spacingAndGlyphs">1.3.14 Red ruffed lemur</text>
<line x1="811.4" y1="1360.8" x2="834.6" y2="1360.8" stroke="#ee5fa0" stroke-width="1.4"/>
<text x="854.52" y="1370" font-size="24.5" font-weight="bold" fill="#000" textLength="219.86" lengthAdjust="spacingAndGlyphs">1.3.4 Black lemur</text>
<line x1="811.4" y1="1390" x2="834.6" y2="1390" stroke="#ee5fa0" stroke-width="1.4"/>
<text x="854.52" y="1399.2" font-size="24.5" font-weight="bold" fill="#000" textLength="346.13" lengthAdjust="spacingAndGlyphs">1.6.1 Fat-tailed dwarf lemur</text>
<line x1="811.4" y1="1418.8" x2="834.6" y2="1418.8" stroke="#ee5fa0" stroke-width="1.4"/>
<text x="855.33" y="1428" font-size="24.5" font-weight="bold" fill="#000" textLength="342.58" lengthAdjust="spacingAndGlyphs">21.1.1 Duck-billed platypus</text>
<line x1="1220" y1="1360.8" x2="1243.2" y2="1360.8" stroke="#ee5fa0" stroke-width="1.4"/>
<text x="1262.93" y="1370" font-size="24.5" font-weight="bold" fill="#000" textLength="361.68" lengthAdjust="spacingAndGlyphs">21.2.1 Short-beaked echidna</text>
<line x1="1220" y1="1390" x2="1243.2" y2="1390" stroke="#000" stroke-width="1.4"/>
<text x="1263.39" y="1399.2" font-size="24.5" font-weight="bold" fill="#000" textLength="284.05" lengthAdjust="spacingAndGlyphs">4.11.1 Bowhead whale</text>
<line x1="1220" y1="1418.8" x2="1243.2" y2="1418.8" stroke="#000" stroke-width="1.4"/>
<text x="1262.92" y="1428" font-size="24.5" font-weight="bold" fill="#000" textLength="153.50" lengthAdjust="spacingAndGlyphs">9.9.1 Mouse</text>
<line x1="1644.5" y1="1360.8" x2="1667.7" y2="1360.8" stroke="#000" stroke-width="1.4"/>
<text x="1687.59" y="1370" font-size="24.5" font-weight="bold" fill="#000" textLength="117.28" lengthAdjust="spacingAndGlyphs">collected</text>
<line x1="1644.5" y1="1390" x2="1667.7" y2="1390" stroke="#bebebe" stroke-width="1.4"/>
<text x="1686.84" y="1399.2" font-size="24.5" font-weight="bold" fill="#000" textLength="167.43" lengthAdjust="spacingAndGlyphs">not collected</text>
</svg>
</body></html>
